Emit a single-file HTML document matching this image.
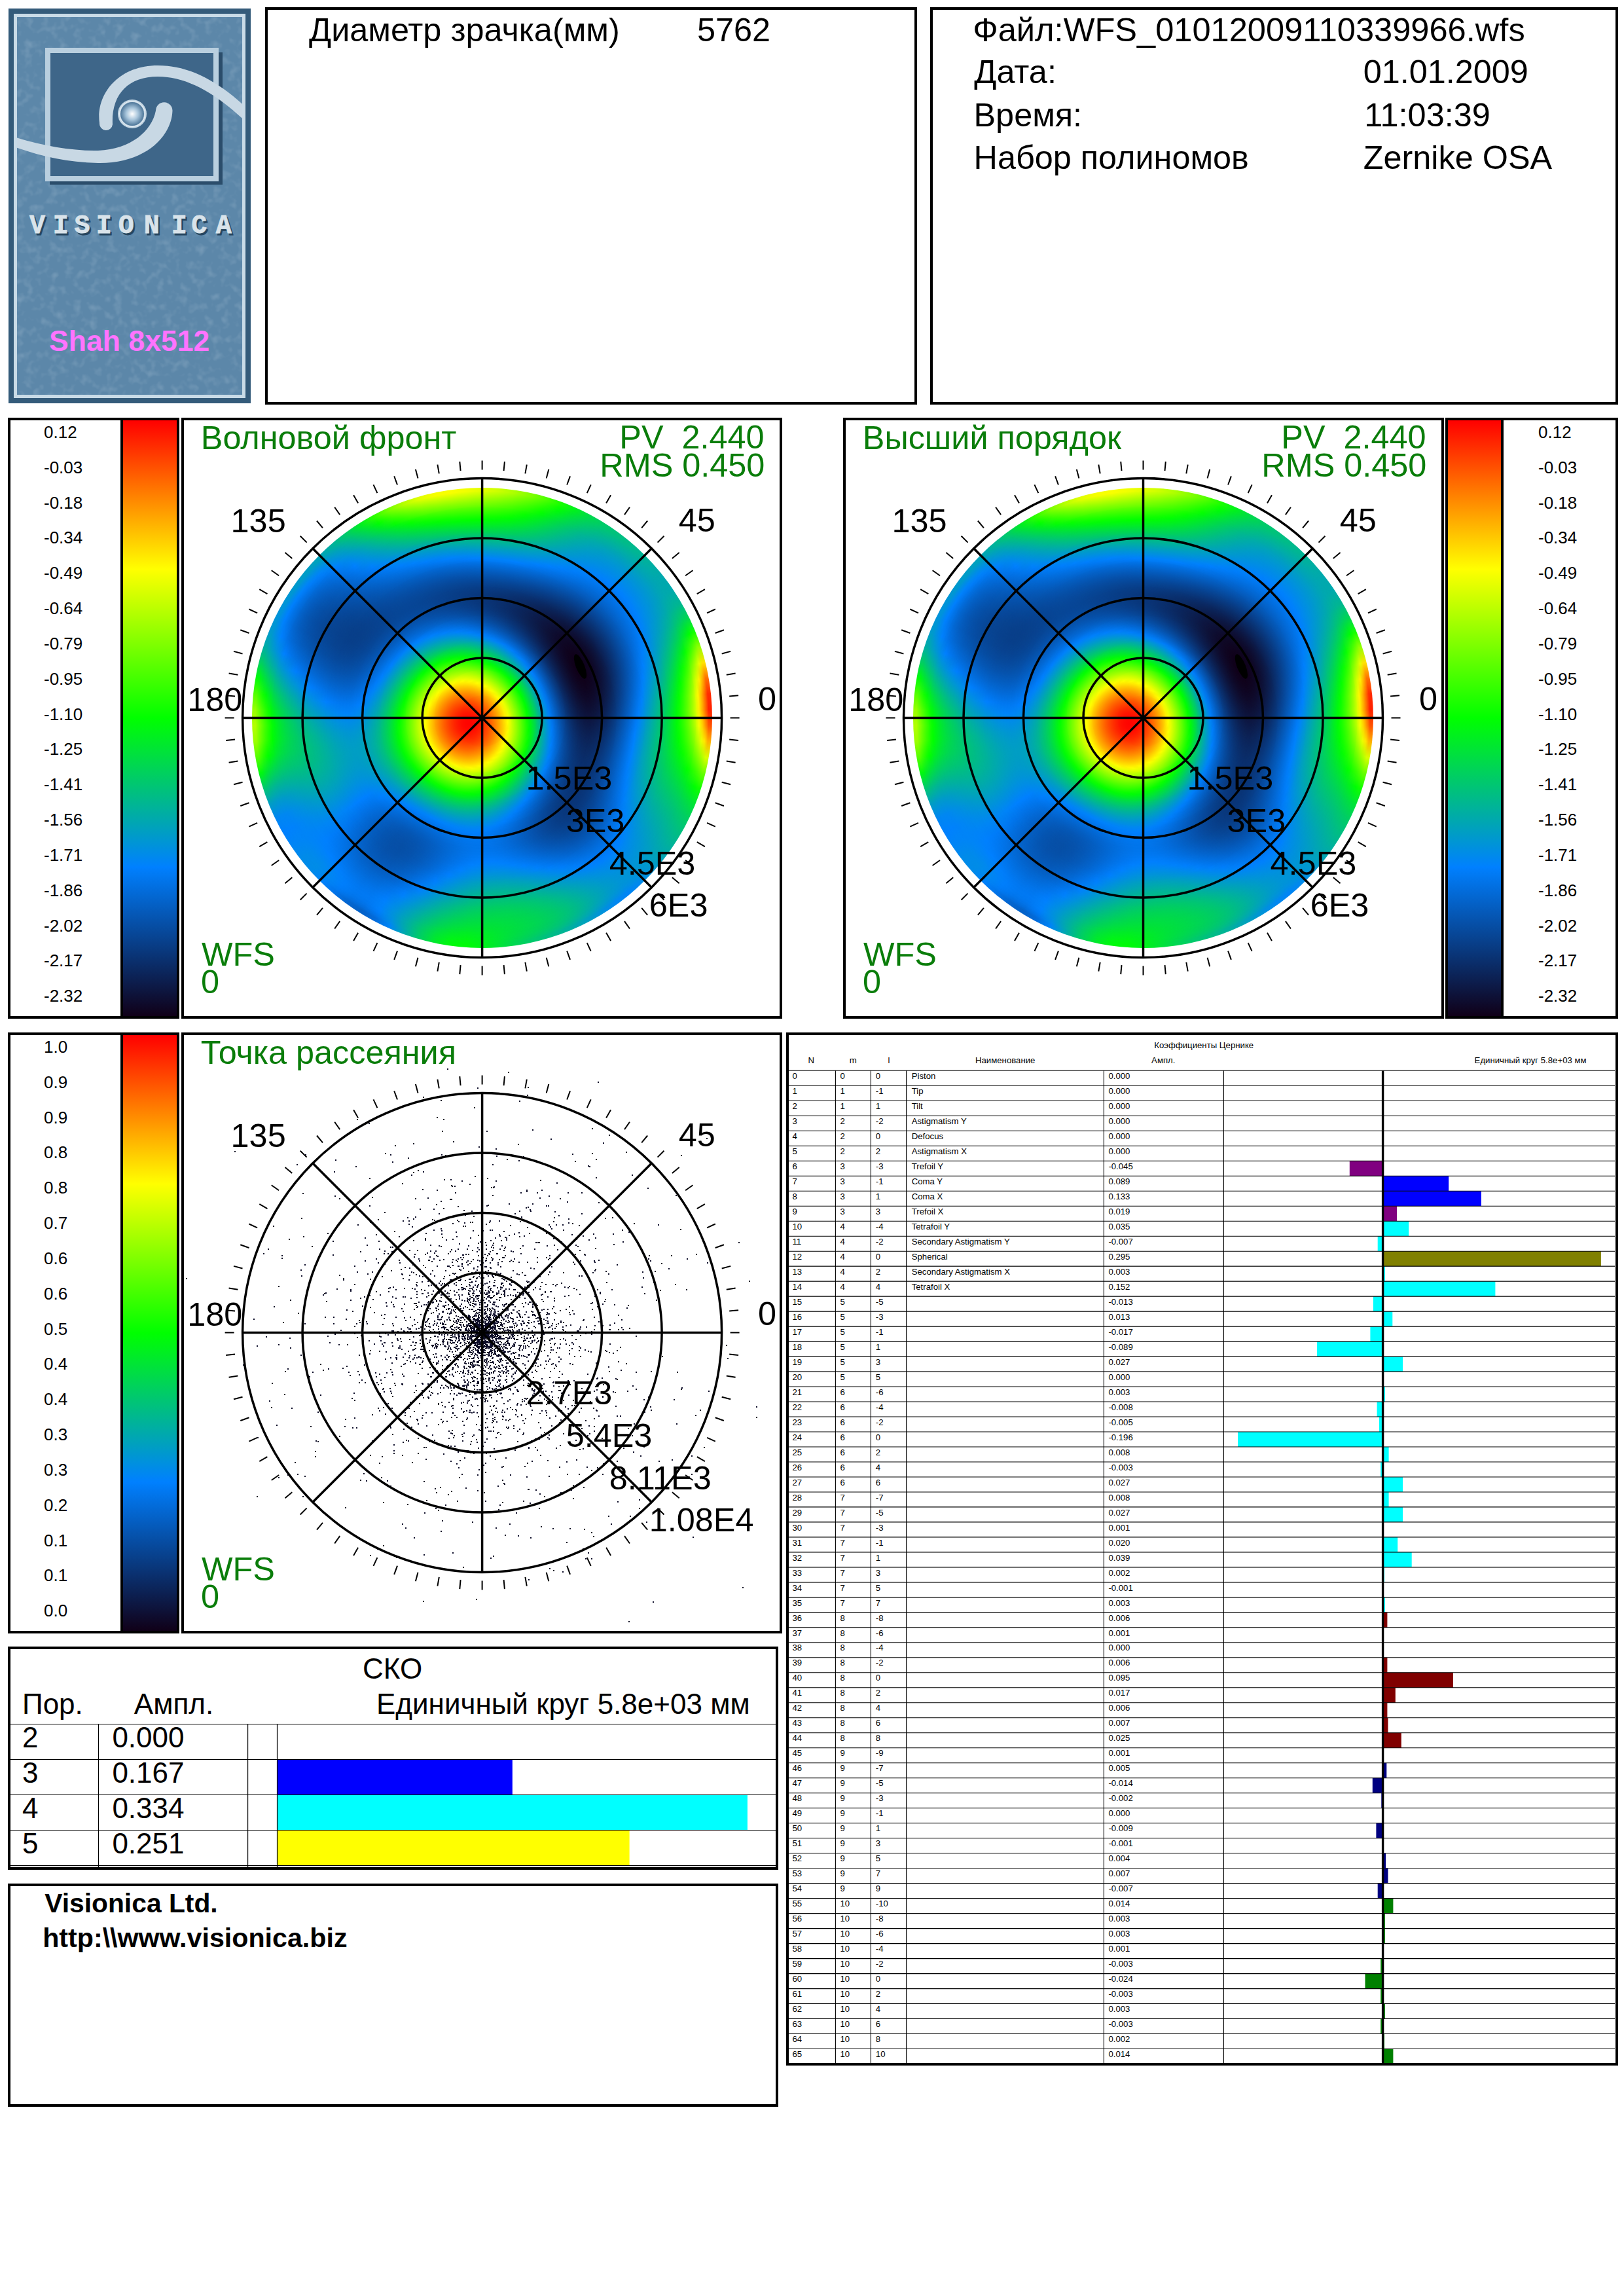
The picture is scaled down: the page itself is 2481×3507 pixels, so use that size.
<!DOCTYPE html>
<html><head><meta charset="utf-8"><style>
html,body{margin:0;padding:0;background:#fff}
body{width:2481px;height:3507px;position:relative;overflow:hidden;font-family:"Liberation Sans", sans-serif}
.d{position:absolute;border-radius:50%}
svg text{font-family:"Liberation Sans", sans-serif}
</style></head><body>
<svg width="2481" height="700" style="position:absolute;left:0;top:0">
<defs>
<radialGradient id="eyeg" cx="0.5" cy="0.5" r="0.5"><stop offset="0" stop-color="#ffffff"/><stop offset="0.5" stop-color="#a9c6dc"/><stop offset="1" stop-color="#4d7699"/></radialGradient>
<filter id="tex" x="0" y="0" width="1" height="1"><feTurbulence type="fractalNoise" baseFrequency="0.08" numOctaves="2" seed="3"/><feColorMatrix values="0 0 0 0 0.78  0 0 0 0 0.85  0 0 0 0 0.92  0 0 0 -2.2 1.15"/><feComposite in2="SourceGraphic" operator="in"/></filter>
<clipPath id="lclip"><rect x="26" y="26" width="344" height="577"/></clipPath>
</defs>
<rect x="13" y="13" width="370" height="603" fill="#345b7a"/>
<rect x="21" y="21" width="354" height="587" fill="#c9dbe7"/>
<rect x="26" y="26" width="344" height="577" fill="#5c87a9"/>
<rect x="26" y="26" width="344" height="577" fill="#fff" filter="url(#tex)" opacity="0.18"/>
<rect x="76" y="80" width="264" height="202" fill="#2b4d6b"/>
<rect x="69" y="73" width="265" height="204" fill="#b9cfdf"/>
<rect x="77" y="81" width="249" height="188" fill="#3e6689"/>
<g clip-path="url(#lclip)" fill="#c8d8e4">
<path d="M152 188 C146 145, 180 100, 241 100 C 290 100, 335 125, 380 168 L380 190 C 335 147, 290 117, 241 117 C 195 117, 170 145, 172 190 A10 10 0 0 1 152 188 Z"/>
<path d="M18 208 C 60 222, 110 231, 150 230 C 200 228, 232 200, 238 169 A 12.5 12.5 0 0 1 263.5 169 C 262 210, 220 250, 150 249 C 100 248, 60 238, 18 223 Z"/>
</g>
<circle cx="202" cy="174" r="22" fill="#c4d6e3"/>
<circle cx="202" cy="174" r="18" fill="url(#eyeg)"/>
<circle cx="202" cy="174" r="19.5" fill="none" stroke="#e8f0f6" stroke-width="1"/>
<text x="47.4 83.2 115.9 149.3 183.2 222.3 264.2 294.8 332.2" y="359" style="font-family:'Liberation Mono',monospace" font-size="40" font-weight="bold" fill="#27465f" stroke="#27465f" stroke-width="0.8">VISIONICA</text>
<text x="44.9 80.7 113.4 146.8 180.7 219.8 261.7 292.3 329.7" y="356" style="font-family:'Liberation Mono',monospace" font-size="40" font-weight="bold" fill="#d9e3ea" stroke="#d9e3ea" stroke-width="0.8">VISIONICA</text>
<text x="75" y="536" font-size="44.6" font-weight="bold" fill="#ff73ff">Shah 8x512</text>
</svg>
<div class="d" style="left:385.1px;top:745.1px;width:703.0px;height:703.0px;background:conic-gradient(#e2ff00,#ccff00,#adff00,#84ff00,#51ff00,#19ff00,#00f11d,#00da4a,#00cb69,#00c17d,#00bb8a,#00b595,#00aea3,#00a8ae,#00a9ad,#00b692,#00d653,#13ff00,#94ff00,#ffe200,#ff6f00,#ff2b00,#ff2100,#ff5300,#ffb100,#d9ff00,#69ff00,#0dff00,#00e535,#00cf61,#00bf80,#00b29b,#00a3b8,#0095d5,#008aeb,#0085f5,#0087f0,#0091dd,#009ec3,#00aba8,#00b790,#00c17c,#00cc67,#00d84f,#00e633,#00f318,#00fb07,#00f90c,#00e92d,#00cc67,#00a8af,#0085f6,#036bda,#0461c7,#0365cf,#0273e8,#0082fb,#008be9,#008be9,#0085f5,#0080fe,#0086f2,#009dc4,#00c574,#00f80f,#53ff00,#9aff00,#b2ff00,#97ff00,#52ff00,#00fb08,#00cf60,#00ada4,#009acc,#0093da,#0094d8,#0097d0,#009bc9,#009ec2,#00a6b3,#00b595,#00cd64,#00ef20,#2dff00,#78ff00,#b6ff00,#e0ff00,#f5ff00,#f9ff00,#f1ff00,#e2ff00)"></div><div class="d" style="left:390.0px;top:750.0px;width:693.2px;height:693.2px;background:conic-gradient(#c7ff00,#b3ff00,#95ff00,#6eff00,#3dff00,#08ff00,#00e92b,#00d456,#00c575,#00bc87,#00b693,#00b19c,#00aca7,#00a8af,#00a9ac,#00b693,#00d25b,#00fe02,#70ff00,#e6ff00,#ffb300,#ff7600,#ff6c00,#ff9600,#ffe700,#b4ff00,#51ff00,#00ff01,#00e13d,#00cc66,#00be83,#00b19d,#00a4b7,#0098cf,#008fe1,#008ce7,#0090de,#009aca,#00a8b0,#00b595,#00c07f,#00c96d,#00d15b,#00db48,#00e731,#00f11b,#00f80f,#00f515,#00e633,#00cc67,#00aca7,#008de6,#0176ed,#026cdb,#026fe0,#017af4,#0086f4,#008ce7,#008be9,#0085f5,#0081fd,#0087f2,#009bc8,#00bf80,#00ec25,#33ff00,#72ff00,#88ff00,#70ff00,#31ff00,#00ee22,#00c574,#00a5b5,#0091dd,#0089ed,#0088ee,#008be8,#008fe0,#0094d6,#009dc5,#00ada5,#00c574,#00e533,#15ff00,#5cff00,#96ff00,#beff00,#d3ff00,#d9ff00,#d4ff00,#c7ff00);-webkit-mask-image:radial-gradient(closest-side,#000 98.59%,transparent 100%)"></div><div class="d" style="left:394.9px;top:754.9px;width:683.5px;height:683.5px;background:conic-gradient(#acff00,#99ff00,#7eff00,#58ff00,#2aff00,#00fb09,#00e23a,#00ce63,#00bf80,#00b693,#00b19d,#00ada5,#00a9ad,#00a6b2,#00a8af,#00b398,#00cc66,#00f317,#4cff00,#b4ff00,#fff100,#ffba00,#ffb000,#ffd300,#e7ff00,#91ff00,#3bff00,#00f80e,#00dd44,#00ca6b,#00bb88,#00afa1,#00a3b8,#0099cd,#0092db,#0091dd,#0096d3,#00a1bd,#00aea3,#00bb89,#00c673,#00ce62,#00d653,#00de43,#00e731,#00ef20,#00f317,#00f01f,#00e23b,#00ca6a,#00ada4,#0091dc,#007df9,#0273e8,#0175eb,#007dfa,#0087f2,#008ce8,#008aea,#0085f5,#0082fc,#0087f1,#009acb,#00bb89,#00e338,#17ff00,#50ff00,#63ff00,#4cff00,#12ff00,#00e23a,#00bc87,#009dc6,#0089ed,#0080fe,#007efc,#0081fd,#0085f5,#008be9,#0095d5,#00a5b4,#00bd84,#00dc46,#00fe02,#40ff00,#76ff00,#9dff00,#b3ff00,#baff00,#b7ff00,#acff00);-webkit-mask-image:radial-gradient(closest-side,#000 98.57%,transparent 100%)"></div><div class="d" style="left:399.7px;top:759.7px;width:673.7px;height:673.7px;background:conic-gradient(#91ff00,#81ff00,#67ff00,#43ff00,#17ff00,#00f319,#00db48,#00c86f,#00b98c,#00b19e,#00aca8,#00a8ae,#00a5b4,#00a3b8,#00a6b3,#00b09e,#00c672,#00e92d,#2aff00,#86ff00,#d4ff00,#fff800,#ffed00,#f5ff00,#bbff00,#71ff00,#26ff00,#00f21a,#00d94c,#00c771,#00b98d,#00ada5,#00a2bb,#0099ce,#0093d8,#0093d8,#009acb,#00a5b5,#00b29a,#00bf81,#00c96c,#00d15b,#00d84e,#00df40,#00e632,#00ed25,#00ef20,#00ea29,#00dd45,#00c770,#00ada5,#0093d8,#0081fe,#0177ef,#0178f0,#007efc,#0086f3,#008aeb,#0089ed,#0085f6,#0082fa,#0088ef,#009acb,#00b790,#00dc47,#00ff00,#31ff00,#41ff00,#2bff00,#00fa0a,#00d652,#00b29a,#0095d5,#0081fd,#0177ef,#0175eb,#0177ef,#017cf8,#0083f9,#008ee3,#009fc2,#00b692,#00d358,#00f318,#25ff00,#58ff00,#7dff00,#93ff00,#9cff00,#9bff00,#91ff00);-webkit-mask-image:radial-gradient(closest-side,#000 98.55%,transparent 100%)"></div><div class="d" style="left:404.6px;top:764.6px;width:663.9px;height:663.9px;background:conic-gradient(#78ff00,#68ff00,#50ff00,#2fff00,#05ff00,#00eb29,#00d555,#00c27b,#00b497,#00aba8,#00a6b2,#00a3b8,#00a1bc,#00a0be,#00a3b9,#00ada6,#00c07e,#00de41,#0bff00,#5cff00,#a1ff00,#ceff00,#daff00,#c4ff00,#93ff00,#54ff00,#13ff00,#00ec26,#00d554,#00c476,#00b692,#00aba9,#00a0bf,#0098cf,#0093d8,#0095d6,#009bc8,#00a7b1,#00b496,#00c17d,#00cb68,#00d358,#00da4b,#00df40,#00e534,#00ea2b,#00ea29,#00e534,#00d84f,#00c378,#00aba9,#0094d7,#0082fb,#0179f3,#0179f2,#007efb,#0084f6,#0088ef,#0087f0,#0084f6,#0083f8,#008aec,#009aca,#00b594,#00d653,#00f514,#17ff00,#24ff00,#0eff00,#00ed25,#00cc67,#00aaab,#008de4,#017af4,#0270e2,#026ddd,#026fe0,#0174e9,#017cf7,#0087f0,#0098ce,#00afa0,#00cb69,#00e82d,#0cff00,#3cff00,#5fff00,#74ff00,#7eff00,#7fff00,#78ff00);-webkit-mask-image:radial-gradient(closest-side,#000 98.53%,transparent 100%)"></div><div class="d" style="left:409.5px;top:769.5px;width:654.2px;height:654.2px;background:conic-gradient(#5eff00,#51ff00,#3bff00,#1bff00,#00f90c,#00e337,#00ce62,#00bc86,#00afa1,#00a6b2,#00a1bc,#009fc1,#009dc5,#009dc6,#009fc0,#00a8ae,#00ba8b,#00d555,#00f612,#35ff00,#73ff00,#9cff00,#a8ff00,#98ff00,#6fff00,#3aff00,#02ff00,#00e731,#00d25b,#00c17c,#00b497,#00a8ae,#009ec3,#0096d2,#0093d9,#0094d6,#009cc7,#00a7b0,#00b595,#00c17c,#00cc67,#00d457,#00da4b,#00df40,#00e337,#00e631,#00e632,#00e03f,#00d259,#00bf80,#00a8ae,#0093da,#0082fb,#0179f3,#0178f1,#007cf8,#0082fb,#0085f4,#0086f4,#0084f7,#0085f6,#008ce8,#009bc8,#00b497,#00d15c,#00ed25,#00ff00,#09ff00,#00f90c,#00e13c,#00c27b,#00a2bc,#0086f2,#0273e8,#0369d5,#0366d0,#0368d3,#026ddd,#0175ec,#0082fc,#0093da,#00a9ae,#00c379,#00de42,#00f90d,#20ff00,#42ff00,#57ff00,#62ff00,#64ff00,#5eff00);-webkit-mask-image:radial-gradient(closest-side,#000 98.51%,transparent 100%)"></div><div class="d" style="left:414.4px;top:774.4px;width:644.4px;height:644.4px;background:conic-gradient(#46ff00,#3aff00,#26ff00,#08ff00,#00f11c,#00dc45,#00c86e,#00b791,#00aaab,#00a2bc,#009dc5,#009aca,#0099cd,#0099cd,#009cc7,#00a4b7,#00b497,#00cb68,#00e92c,#13ff00,#4aff00,#6fff00,#7dff00,#70ff00,#50ff00,#22ff00,#00f80e,#00e13b,#00ce62,#00bf81,#00b19c,#00a6b3,#009cc7,#0094d6,#0091dc,#0093d8,#009bc9,#00a6b2,#00b497,#00c17d,#00cb68,#00d358,#00d94c,#00de43,#00e13c,#00e338,#00e13c,#00da4a,#00cd64,#00ba8a,#00a5b5,#0090de,#0081fe,#0178f0,#0176ee,#017af4,#007ffd,#0083fa,#0084f7,#0084f7,#0086f3,#008ee3,#009dc5,#00b398,#00ce63,#00e633,#00f514,#00f80e,#00ed24,#00d652,#00b98d,#009aca,#0080ff,#026dde,#0463cb,#0460c5,#0462c8,#0367d2,#0270e2,#007cf9,#008de4,#00a2ba,#00bb89,#00d555,#00ed24,#06ff00,#26ff00,#3bff00,#46ff00,#4aff00,#46ff00);-webkit-mask-image:radial-gradient(closest-side,#000 98.48%,transparent 100%)"></div><div class="d" style="left:419.3px;top:779.3px;width:634.7px;height:634.7px;background:conic-gradient(#2eff00,#24ff00,#11ff00,#00fa0a,#00e92c,#00d653,#00c379,#00b29a,#00a6b3,#009dc4,#0099ce,#0096d3,#0095d5,#0095d4,#0098cf,#00a0bf,#00aea3,#00c379,#00dd45,#00f90d,#25ff00,#48ff00,#55ff00,#4dff00,#33ff00,#0dff00,#00f11d,#00dd45,#00cb68,#00bc86,#00afa1,#00a3b8,#0099cc,#0092da,#008fe0,#0092db,#0099cc,#00a5b5,#00b29b,#00bf81,#00c96b,#00d25b,#00d84f,#00dc46,#00df41,#00df40,#00dc45,#00d555,#00c770,#00b594,#00a1bd,#008de4,#007efc,#0176ed,#0274e9,#0177ee,#017cf7,#0080ff,#0082fa,#0084f7,#0088ef,#0090df,#009fc1,#00b497,#00cb69,#00e03f,#00ed25,#00ee22,#00e339,#00cd65,#00b09e,#0093d8,#017af5,#0368d4,#045ec1,#055abb,#045cbf,#0462c9,#036bd9,#0178f0,#0088ee,#009dc6,#00b497,#00cc67,#00e23a,#00f613,#0bff00,#20ff00,#2cff00,#30ff00,#2eff00);-webkit-mask-image:radial-gradient(closest-side,#000 98.46%,transparent 100%)"></div><div class="d" style="left:424.2px;top:784.2px;width:624.9px;height:624.9px;background:conic-gradient(#16ff00,#0eff00,#00fe03,#00f11c,#00e13c,#00cf60,#00be83,#00aea3,#00a2bc,#0099cc,#0095d6,#0092db,#0091dd,#0092dc,#0094d6,#009bc8,#00a8af,#00bb89,#00d25b,#00eb29,#04ff00,#24ff00,#33ff00,#2eff00,#19ff00,#00fc06,#00ea2a,#00d84e,#00c86e,#00ba8b,#00ada5,#00a1bd,#0097d1,#0090df,#008de5,#0090e0,#0097d1,#00a2bb,#00afa0,#00bc87,#00c771,#00cf60,#00d553,#00d94b,#00dc47,#00db47,#00d84f,#00cf60,#00c27b,#00b09e,#009cc6,#008aeb,#017bf7,#0273e8,#0271e4,#0274e8,#0178f1,#007dfa,#0081fd,#0084f6,#0089ec,#0093da,#00a1bd,#00b497,#00c96d,#00db49,#00e534,#00e534,#00d94c,#00c477,#00a9ad,#008de4,#0175ec,#0464cc,#0559ba,#0556b3,#0558b7,#045ec1,#0367d2,#0274e9,#0084f7,#0097d1,#00ada5,#00c379,#00d84f,#00ea2a,#00f80e,#06ff00,#12ff00,#18ff00,#16ff00);-webkit-mask-image:radial-gradient(closest-side,#000 98.44%,transparent 100%)"></div><div class="d" style="left:429.0px;top:789.0px;width:615.1px;height:615.1px;background:conic-gradient(#00ff01,#00fb08,#00f416,#00e92d,#00da4b,#00c96c,#00b88e,#00a9ac,#009ec3,#0096d3,#0091dd,#008ee2,#008de4,#008ee3,#0091de,#0097d1,#00a2ba,#00b399,#00c86f,#00de43,#00f21a,#04ff00,#13ff00,#12ff00,#02ff00,#00f318,#00e437,#00d456,#00c574,#00b790,#00aaaa,#009ec2,#0094d6,#008de4,#008bea,#008de5,#0094d7,#009fc1,#00aca7,#00b98e,#00c477,#00cc66,#00d359,#00d751,#00d84e,#00d750,#00d359,#00ca6b,#00bc86,#00aba9,#0098cf,#0086f3,#0178f1,#0270e2,#026ede,#0270e2,#0175eb,#017bf5,#0080fe,#0085f6,#008be9,#0095d5,#00a3b9,#00b595,#00c770,#00d751,#00df41,#00dd44,#00d15c,#00bc86,#00a2ba,#0088ef,#0271e3,#0460c5,#0556b3,#0652ac,#0554b0,#055abb,#0463cb,#0270e2,#0080fe,#0092db,#00a6b3,#00ba8a,#00ce63,#00de41,#00ec27,#00f513,#00fc07,#00ff01,#00ff01);-webkit-mask-image:radial-gradient(closest-side,#000 98.41%,transparent 100%)"></div><div class="d" style="left:433.9px;top:793.9px;width:605.4px;height:605.4px;background:conic-gradient(#00f417,#00f11d,#00ea2a,#00e03e,#00d359,#00c378,#00b398,#00a5b4,#009acb,#0092da,#008de4,#008be9,#008aeb,#008aea,#008de5,#0093d9,#009dc5,#00aca7,#00be82,#00d25a,#00e535,#00f318,#00fb09,#00fb08,#00f513,#00eb28,#00de42,#00d05f,#00c27b,#00b496,#00a8af,#009cc7,#0092db,#008bea,#0088f0,#008aeb,#0091de,#009bc8,#00a8af,#00b596,#00c07f,#00c96d,#00cf60,#00d358,#00d455,#00d358,#00ce63,#00c476,#00b791,#00a6b4,#0093d9,#0082fb,#0174ea,#026ddc,#036ad8,#026ddc,#0272e6,#0178f1,#007efc,#0085f5,#008de5,#0097d0,#00a5b4,#00b594,#00c673,#00d359,#00d94c,#00d652,#00c96b,#00b595,#009cc7,#0083f9,#026ddc,#045cbe,#0652ad,#064fa7,#0651aa,#0557b5,#0460c6,#026cdc,#017cf7,#008de5,#009fc0,#00b29a,#00c476,#00d457,#00e03e,#00e92b,#00f01f,#00f318,#00f417);-webkit-mask-image:radial-gradient(closest-side,#000 98.39%,transparent 100%)"></div><div class="d" style="left:438.8px;top:798.8px;width:595.6px;height:595.6px;background:conic-gradient(#00e92d,#00e631,#00e13d,#00d84f,#00cb68,#00bd84,#00aea2,#00a1bc,#0096d2,#008fe1,#008aeb,#0087f0,#0086f2,#0087f2,#0089ed,#008fe2,#0098cf,#00a5b5,#00b693,#00c86f,#00d94d,#00e632,#00ee23,#00f01f,#00ec27,#00e338,#00d84e,#00cc67,#00bf81,#00b29b,#00a5b5,#0099cd,#008fe1,#0088f0,#0085f6,#0086f2,#008de5,#0097d1,#00a3b8,#00b09f,#00bb88,#00c575,#00cb68,#00cf60,#00d05e,#00ce62,#00c96d,#00bf81,#00b19c,#00a0be,#008ee2,#007efb,#0271e4,#0369d6,#0367d2,#0369d6,#026fe0,#0176ed,#007dfa,#0085f4,#008ee2,#0099cc,#00a7b1,#00b692,#00c575,#00d05f,#00d457,#00d05f,#00c379,#00afa1,#0097d2,#007efc,#0369d6,#0559b9,#0650a8,#064ca2,#064ea5,#0554b0,#045dc0,#0369d6,#0178f0,#0088ef,#0099cc,#00abaa,#00bb89,#00c96c,#00d555,#00de43,#00e436,#00e82f,#00e92d);-webkit-mask-image:radial-gradient(closest-side,#000 98.36%,transparent 100%)"></div><div class="d" style="left:443.7px;top:803.7px;width:585.8px;height:585.8px;background:conic-gradient(#00de43,#00dc46,#00d750,#00cf60,#00c476,#00b791,#00a9ac,#009dc5,#0093d9,#008be8,#0086f2,#0084f7,#0083fa,#0083f9,#0085f4,#008aeb,#0093da,#009ec2,#00ada4,#00be83,#00cd64,#00da4a,#00e23a,#00e535,#00e239,#00dc47,#00d25a,#00c770,#00bb88,#00afa2,#00a2bb,#0096d3,#008ce7,#0085f6,#0081fc,#0083f9,#0089ed,#0093d9,#009fc1,#00aba8,#00b791,#00c07f,#00c771,#00cb69,#00cc67,#00ca6b,#00c477,#00b98c,#00aca7,#009bc9,#008aec,#017af3,#026ddd,#0366cf,#0464cc,#0366d0,#026cdb,#0274e9,#007cf9,#0086f4,#0090e0,#009bc8,#00a9ad,#00b791,#00c477,#00cc65,#00cf60,#00ca6b,#00bc86,#00a9ad,#0092dc,#017af5,#0366d0,#0557b4,#064da4,#074a9e,#074ca1,#0652ab,#055bbc,#0366d0,#0274e9,#0083f9,#0093d9,#00a3b9,#00b29b,#00bf81,#00ca6b,#00d25a,#00d84d,#00dc46,#00de43);-webkit-mask-image:radial-gradient(closest-side,#000 98.33%,transparent 100%)"></div><div class="d" style="left:448.6px;top:808.6px;width:576.1px;height:576.1px;background:conic-gradient(#00d358,#00d25a,#00ce62,#00c771,#00bd85,#00b19d,#00a4b6,#0099cd,#008fe1,#0088ef,#0083f9,#0080ff,#007ffd,#007ffd,#0081fd,#0086f4,#008de4,#0098cf,#00a6b4,#00b496,#00c379,#00cf61,#00d750,#00db49,#00da4b,#00d555,#00cd65,#00c379,#00b790,#00aba8,#009fc1,#0093d9,#0089ee,#0081fd,#007efb,#007ffd,#0085f6,#008ee3,#009acb,#00a6b3,#00b19c,#00bb89,#00c27b,#00c672,#00c771,#00c476,#00be82,#00b497,#00a6b2,#0096d3,#0085f5,#0176ec,#0369d6,#0462c9,#0460c6,#0463cb,#036ad6,#0272e6,#017bf7,#0086f4,#0091de,#009dc5,#00aaab,#00b791,#00c27a,#00ca6b,#00cb69,#00c476,#00b791,#00a3b8,#008de5,#0176ee,#0463ca,#0554b0,#074ba0,#07489a,#074a9d,#0650a8,#0558b7,#0463cb,#0270e2,#007efc,#008de5,#009cc8,#00a9ad,#00b594,#00bf80,#00c770,#00cd64,#00d15c,#00d358);-webkit-mask-image:radial-gradient(closest-side,#000 98.31%,transparent 100%)"></div><div class="d" style="left:453.4px;top:813.4px;width:566.3px;height:566.3px;background:conic-gradient(#00c86e,#00c86f,#00c575,#00be82,#00b594,#00aaaa,#009fc1,#0094d7,#008be9,#0084f7,#007ffe,#007cf8,#017bf6,#017bf6,#007df9,#0081fd,#0088ef,#0092dc,#009ec3,#00aca8,#00b98d,#00c476,#00cd65,#00d15d,#00d15d,#00cd64,#00c771,#00be83,#00b398,#00a7b0,#009bc8,#008fe0,#0085f5,#007efb,#017af4,#017bf6,#0080ff,#0089ed,#0094d6,#00a0be,#00aca7,#00b694,#00bd85,#00c17d,#00c27b,#00bf80,#00b98d,#00aea2,#00a1bd,#0091dd,#0081fe,#0272e5,#0366d0,#045fc4,#045dc1,#0460c6,#0367d2,#0270e2,#017bf5,#0086f4,#0091dc,#009ec3,#00aba9,#00b791,#00c17d,#00c771,#00c672,#00bf80,#00b19c,#009ec2,#0089ee,#0273e8,#0460c6,#0652ac,#074a9d,#074797,#07489a,#064ea4,#0556b3,#0460c6,#026cdc,#017af3,#0087f1,#0094d6,#00a1be,#00aba8,#00b595,#00bc86,#00c27a,#00c672,#00c86e);-webkit-mask-image:radial-gradient(closest-side,#000 98.28%,transparent 100%)"></div><div class="d" style="left:458.3px;top:818.3px;width:556.5px;height:556.5px;background:conic-gradient(#00be83,#00be83,#00bb88,#00b693,#00aea3,#00a4b7,#0099cc,#008fe0,#0087f2,#0080ff,#017bf6,#0178f1,#0177ee,#0177ee,#0178f1,#007cf8,#0082fa,#008be9,#0096d2,#00a3b9,#00afa0,#00ba8a,#00c379,#00c770,#00c86e,#00c673,#00c07e,#00b88e,#00aea2,#00a3b8,#0097d0,#008ce7,#0082fc,#017af4,#0176ed,#0177ee,#017bf7,#0084f7,#008fe1,#009bc9,#00a6b2,#00b09f,#00b790,#00bb88,#00bc86,#00ba8b,#00b398,#00a9ad,#009cc8,#008ce7,#007cf8,#026ede,#0463ca,#045cbe,#055bbc,#045ec2,#0365ce,#026fe0,#017af4,#0086f4,#0092db,#009fc1,#00aba8,#00b791,#00bf80,#00c477,#00c27a,#00ba8a,#00aca6,#009acc,#0085f6,#0270e2,#045ec1,#0650a9,#07489a,#074595,#074797,#074ca1,#0654af,#045ec1,#0369d5,#0175eb,#0081fd,#008de5,#0098ce,#00a2ba,#00aba9,#00b29b,#00b790,#00bc87,#00be83);-webkit-mask-image:radial-gradient(closest-side,#000 98.25%,transparent 100%)"></div><div class="d" style="left:463.2px;top:823.2px;width:546.8px;height:546.8px;background:conic-gradient(#00b398,#00b497,#00b29b,#00ada5,#00a6b3,#009dc5,#0093d8,#008aeb,#0082fb,#017cf7,#0177ef,#0274e9,#0272e6,#0272e6,#0274e8,#0177ee,#007df9,#0085f6,#008fe1,#009aca,#00a6b2,#00b19d,#00b98d,#00be82,#00c07f,#00be82,#00ba8b,#00b399,#00a9ac,#009fc2,#0093d9,#0088f0,#007efb,#0176ed,#0272e6,#0272e6,#0177ee,#007ffd,#0089ec,#0095d5,#00a0be,#00aaab,#00b19c,#00b693,#00b791,#00b496,#00aea3,#00a4b8,#0096d2,#0087f0,#0178f0,#036ad7,#045fc4,#0559b9,#0558b7,#055cbd,#0463cb,#026ddd,#0179f2,#0085f4,#0092da,#009fc1,#00aba8,#00b693,#00bd84,#00c17d,#00be82,#00b694,#00a7b0,#0095d5,#0081fd,#026ddd,#055cbe,#064fa6,#074798,#084492,#074595,#074a9e,#0651ab,#055bbc,#0365cf,#0270e3,#017bf7,#0086f3,#0090df,#0099cd,#00a1bd,#00a7b0,#00ada5,#00b19d,#00b398);-webkit-mask-image:radial-gradient(closest-side,#000 98.21%,transparent 100%)"></div><div class="d" style="left:468.1px;top:828.1px;width:537.0px;height:537.0px;background:conic-gradient(#00a9ad,#00aaab,#00a8af,#00a4b7,#009ec3,#0096d3,#008de4,#0085f6,#007dfa,#0177ee,#0272e6,#026fe1,#026dde,#026ddd,#026edf,#0271e4,#0176ee,#007efb,#0087f0,#0092db,#009dc5,#00a7b0,#00afa0,#00b595,#00b790,#00b791,#00b399,#00aca6,#00a4b7,#009acc,#008ee2,#0083f9,#0179f3,#0272e5,#026ede,#026ede,#0272e5,#017af3,#0084f8,#008fe1,#009acb,#00a4b7,#00aba8,#00b09f,#00b19d,#00aea2,#00a8af,#009ec3,#0091dc,#0083fa,#0274e9,#0367d1,#045dbf,#0557b5,#0556b3,#055aba,#0461c8,#036cda,#0178f0,#0085f5,#0092db,#009fc1,#00aba9,#00b595,#00bb88,#00bd84,#00ba8b,#00b19d,#00a3b9,#0091dd,#007dfa,#036ad8,#055aba,#064da4,#074696,#084390,#084493,#07489b,#064fa7,#0558b7,#0462c8,#036cda,#0176ec,#007ffe,#0088ef,#0090de,#0097d0,#009dc4,#00a2ba,#00a6b2,#00a9ad);-webkit-mask-image:radial-gradient(closest-side,#000 98.18%,transparent 100%)"></div><div class="d" style="left:473.0px;top:833.0px;width:527.2px;height:527.2px;background:conic-gradient(#009fc1,#00a0c0,#009ec2,#009bc9,#0096d4,#008fe2,#0087f1,#007ffd,#0178f0,#0272e5,#026ddd,#036ad7,#0368d4,#0368d3,#0369d5,#036bda,#0270e2,#0177ee,#0080fe,#008aec,#0094d7,#009ec4,#00a6b3,#00aca8,#00afa2,#00aea2,#00aba8,#00a6b3,#009ec3,#0094d7,#0089ec,#007efc,#0175eb,#026ddd,#0369d6,#0369d5,#026ddc,#0174ea,#007efb,#0089ed,#0094d7,#009ec4,#00a5b5,#00aaab,#00aba9,#00a8ae,#00a2ba,#0099cd,#008ce6,#007efc,#0270e2,#0463cb,#055aba,#0555b1,#0554b0,#0558b7,#0460c5,#036ad8,#0177ef,#0084f6,#0092db,#009fc2,#00aaab,#00b398,#00b98d,#00ba8b,#00b693,#00ada6,#009ec2,#008de5,#017af4,#0368d3,#0558b7,#064ca1,#074594,#08428f,#084390,#074798,#064da3,#0555b2,#045ec2,#0367d2,#0270e2,#0179f2,#0081fe,#0088f0,#008ee3,#0094d8,#0098ce,#009cc6,#009fc1);-webkit-mask-image:radial-gradient(closest-side,#000 98.15%,transparent 100%)"></div><div class="d" style="left:477.9px;top:837.9px;width:517.5px;height:517.5px;background:conic-gradient(#0095d6,#0096d3,#0095d5,#0092db,#008de4,#0087f1,#0080ff,#0179f2,#0272e6,#026cdb,#0368d3,#0365ce,#0463ca,#0462c9,#0463ca,#0365cf,#0369d6,#0270e1,#0178f0,#0081fd,#008be9,#0094d7,#009cc6,#00a2ba,#00a6b4,#00a6b3,#00a4b7,#009fc1,#0097d0,#008ee3,#0084f7,#0179f3,#0270e2,#0369d5,#0365cd,#0364cd,#0368d3,#026fe0,#0178f1,#0083f9,#008ee3,#0097d0,#009fc1,#00a4b8,#00a5b5,#00a3b9,#009dc5,#0093d8,#0088f0,#017af4,#026ddc,#0461c6,#0558b6,#0653ad,#0652ad,#0557b4,#045fc3,#0369d6,#0176ed,#0084f8,#0091dd,#009ec3,#00a9ad,#00b19c,#00b692,#00b791,#00b29b,#00a8ae,#009aca,#0089ec,#0177ef,#0365cf,#0556b4,#074b9f,#084492,#08418d,#08428e,#074595,#074ba0,#0652ad,#055abb,#0463ca,#036bd8,#0272e6,#0179f2,#007ffe,#0085f5,#008aeb,#008ee2,#0092db,#0095d6);-webkit-mask-image:radial-gradient(closest-side,#000 98.11%,transparent 100%)"></div><div class="d" style="left:482.7px;top:842.7px;width:507.7px;height:507.7px;background:conic-gradient(#008bea,#008ce7,#008be8,#0089ed,#0085f5,#007ffe,#0179f2,#0272e6,#036cdb,#0366d1,#0462c9,#045fc3,#045dc0,#055cbe,#045cbf,#045fc3,#0462ca,#0368d4,#0270e1,#0178f1,#0082fc,#008bea,#0093da,#0099ce,#009cc6,#009dc4,#009cc7,#0097d0,#0090de,#0088ef,#007efb,#0274e9,#036bd9,#0464cc,#0460c5,#045fc4,#0463ca,#0369d6,#0273e7,#007dfa,#0088f0,#0091dd,#0099ce,#009dc4,#009fc1,#009dc5,#0097d0,#008ee2,#0083f9,#0176ed,#0369d6,#045ec2,#0556b2,#0651aa,#0651aa,#0555b2,#045ec1,#0368d5,#0175ec,#0083f9,#0090de,#009dc5,#00a7b0,#00afa0,#00b398,#00b399,#00aea3,#00a4b6,#0096d2,#0086f3,#0174ea,#0463cb,#0555b1,#074a9e,#084391,#08408c,#08418d,#074493,#07499c,#0650a8,#0557b5,#045ec2,#0365cf,#036cda,#0272e5,#0177ef,#007cf8,#0081fe,#0085f5,#0088ef,#008bea);-webkit-mask-image:radial-gradient(closest-side,#000 98.08%,transparent 100%)"></div><div class="d" style="left:487.6px;top:847.6px;width:498.0px;height:498.0px;background:conic-gradient(#0081fd,#0082fb,#0082fb,#0080ff,#007cf8,#0177ef,#0271e5,#036bda,#0365cf,#0460c6,#055cbe,#0559b8,#0557b4,#0556b2,#0556b3,#0558b6,#055bbc,#0460c6,#0367d2,#026fe1,#0178f1,#0081fd,#0089ed,#008fe1,#0093d9,#0094d6,#0093d8,#008fe0,#0089ec,#0081fd,#0178f0,#026edf,#0366cf,#045fc3,#055bbc,#055bbc,#045ec1,#0364cd,#026ddd,#0177ef,#0082fc,#008be9,#0092da,#0097d0,#0099cd,#0097d1,#0092db,#0089ec,#007ffd,#0273e7,#0366d1,#055cbe,#0654b0,#0650a8,#0650a9,#0555b1,#045dbf,#0368d3,#0175ea,#0082fb,#008fe0,#009bc8,#00a6b3,#00ada5,#00b09e,#00b0a0,#00aaab,#00a0be,#0093da,#0083fa,#0272e5,#0462c8,#0654af,#07499c,#084390,#08408b,#08408b,#084391,#074899,#064da4,#0654af,#055aba,#0460c5,#0366cf,#036bd9,#026fe1,#0274e9,#0178f0,#017bf7,#007ffd,#0081fd);-webkit-mask-image:radial-gradient(closest-side,#000 98.04%,transparent 100%)"></div><div class="d" style="left:492.5px;top:852.5px;width:488.2px;height:488.2px;background:conic-gradient(#0178f0,#0179f2,#0179f2,#0177ef,#0274e9,#026fe1,#036ad7,#0364cd,#045fc3,#055aba,#0555b2,#0652ac,#0650a8,#064fa6,#064fa7,#0651a9,#0654af,#0558b8,#045fc3,#0367d1,#026fe0,#0177ef,#007ffd,#0085f5,#0089ec,#008be8,#008bea,#0087f0,#0082fc,#017af4,#0271e5,#0368d5,#0460c6,#055aba,#0556b4,#0556b3,#0559b9,#045fc4,#0368d3,#0272e5,#017cf7,#0085f5,#008ce6,#0091dc,#0093d9,#0092dc,#008de5,#0085f5,#017bf5,#026fe1,#0464cc,#055aba,#0653ad,#064fa7,#0650a8,#0554b0,#045cbf,#0367d2,#0274e9,#0081fc,#008ee2,#009acb,#00a4b7,#00aaaa,#00ada4,#00aca7,#00a6b2,#009cc6,#008fe1,#0080fe,#026fe1,#0460c5,#0653ae,#07499b,#084290,#083f8a,#083f8a,#08428f,#074696,#074b9f,#0651a9,#0556b3,#055bbd,#0460c5,#0364cd,#0368d4,#036cdb,#026fe1,#0272e7,#0175ec,#0178f0);-webkit-mask-image:radial-gradient(closest-side,#000 98.00%,transparent 100%)"></div><div class="d" style="left:497.4px;top:857.4px;width:478.4px;height:478.4px;background:conic-gradient(#026edf,#026fe1,#026fe1,#026edf,#036bd9,#0367d2,#0462c9,#045dc0,#0558b6,#0653ae,#064fa6,#074ca0,#07499c,#07489a,#07489a,#07499c,#074ca1,#0650a9,#0556b4,#045ec1,#0365cf,#026ede,#0175eb,#017bf6,#0080fe,#0082fb,#0082fc,#007ffd,#017af4,#0273e7,#036bd9,#0463ca,#055bbc,#0555b1,#0652ab,#0651ab,#0554b0,#055abb,#0463ca,#026cdb,#0176ed,#007ffe,#0087f2,#008ce8,#008ee4,#008ce6,#0088ef,#0081fe,#0177ef,#026cdc,#0462c9,#0559b8,#0652ac,#064fa6,#0650a8,#0554b0,#045cbf,#0367d2,#0273e8,#0081fe,#008de4,#0099ce,#00a2bb,#00a8af,#00aaaa,#00a9ad,#00a3b9,#0099cd,#008ce7,#007dfa,#026ede,#045fc3,#0652ac,#07499b,#084290,#083f8a,#083f8a,#08418d,#074594,#07499c,#064ea4,#0652ad,#0557b4,#055bbb,#045ec2,#0461c7,#0364cd,#0367d2,#036ad7,#026cdc,#026edf);-webkit-mask-image:radial-gradient(closest-side,#000 97.96%,transparent 100%)"></div><div class="d" style="left:502.3px;top:862.3px;width:468.7px;height:468.7px;background:conic-gradient(#0366cf,#0367d1,#0367d1,#0365cf,#0463ca,#045fc4,#055bbb,#0556b3,#0651aa,#064ca1,#07489a,#074594,#084290,#08418d,#08418d,#08428e,#074493,#07489a,#064ea4,#0554b0,#045cbe,#0464cc,#036bd9,#0271e4,#0176ed,#0178f1,#0179f1,#0176ed,#0272e5,#036cda,#0364cd,#045dbf,#0556b2,#0650a9,#064da3,#064da3,#0650a8,#0556b3,#045ec1,#0367d2,#0271e3,#017af4,#0081fd,#0086f3,#0088ee,#0088f0,#0084f8,#007df9,#0274e9,#036ad7,#0460c6,#0558b6,#0652ab,#064fa6,#0650a8,#0555b1,#045dbf,#0367d2,#0273e8,#0080ff,#008ce6,#0097d0,#00a0bf,#00a5b4,#00a7b0,#00a5b4,#009fc0,#0096d3,#0089ed,#017bf6,#026cdb,#045ec2,#0652ac,#07499b,#084390,#083f8a,#083f89,#08408c,#084392,#074798,#074ba0,#064fa7,#0653ad,#0556b3,#0558b7,#055bbc,#045dc0,#0460c4,#0462c9,#0464cc,#0366cf);-webkit-mask-image:radial-gradient(closest-side,#000 97.92%,transparent 100%)"></div><div class="d" style="left:507.1px;top:867.1px;width:458.9px;height:458.9px;background:conic-gradient(#045dc1,#045ec2,#045ec2,#045dc0,#055bbb,#0557b5,#0653ae,#064ea5,#074a9d,#074595,#08418e,#083e88,#093b83,#093a80,#09397f,#093a81,#083c85,#08408c,#074595,#074ca0,#0653ad,#055abb,#0461c7,#0367d3,#026cdb,#026fe0,#026fe1,#026ede,#036ad7,#0364cd,#045ec1,#0557b4,#0650a9,#074ba0,#07499b,#07499c,#074ca1,#0652ab,#0559b9,#0462ca,#036cdb,#0175eb,#007cf8,#0081fd,#0084f8,#0083f9,#0080fe,#0179f3,#0271e4,#0368d4,#045fc4,#0557b6,#0652ac,#0650a8,#0651aa,#0555b2,#045dc0,#0368d3,#0273e8,#0080ff,#008ce8,#0096d3,#009ec3,#00a3b8,#00a5b5,#00a2ba,#009cc6,#0093d9,#0087f1,#0179f3,#036bd9,#045ec1,#0652ac,#07499c,#084391,#08408b,#083f8a,#08408c,#084390,#074696,#07499c,#064ca1,#064fa6,#0651ab,#0653ae,#0555b1,#0557b5,#0559b8,#055abb,#045cbe,#045dc1);-webkit-mask-image:radial-gradient(closest-side,#000 97.87%,transparent 100%)"></div><div class="d" style="left:512.0px;top:872.0px;width:449.1px;height:449.1px;background:conic-gradient(#0556b3,#0556b4,#0556b3,#0555b1,#0653ad,#064fa7,#074ca0,#074798,#084390,#083e88,#093a81,#09377b,#093476,#0a3373,#0a3272,#0a3373,#093477,#09387d,#083d86,#084390,#07499d,#0651a9,#0558b6,#045ec1,#0462c9,#0365cf,#0366d0,#0365ce,#0462c9,#045dc0,#0557b5,#0651aa,#074ba0,#074798,#074594,#074595,#07489a,#064ea4,#0555b2,#045ec2,#0367d3,#0270e2,#0177f0,#007df9,#007ffe,#007ffd,#007cf8,#0176ee,#026fe1,#0367d2,#045fc3,#0558b6,#0653ad,#0651aa,#0652ac,#0557b5,#045fc3,#0368d5,#0274e9,#0080ff,#008be9,#0095d5,#009cc6,#00a1bc,#00a2ba,#00a0bf,#009acb,#0091de,#0085f5,#0178f0,#036ad8,#045ec1,#0653ad,#074a9e,#074493,#08418d,#08408b,#08418c,#084290,#074594,#074799,#074a9d,#074ca1,#064da4,#064fa6,#0650a8,#0651aa,#0652ac,#0653af,#0555b1,#0556b3);-webkit-mask-image:radial-gradient(closest-side,#000 97.83%,transparent 100%)"></div><div class="d" style="left:516.9px;top:876.9px;width:439.4px;height:439.4px;background:conic-gradient(#064fa6,#064fa7,#064fa6,#064da4,#074ba0,#07489a,#074493,#08408c,#093c84,#09377c,#0a3475,#0a306f,#0a2d6a,#0b2c67,#0b2b65,#0b2b66,#0a2d69,#0a306f,#093477,#093a81,#08408c,#074799,#064ea5,#0554b0,#0559b8,#045cbe,#045dc0,#045dbf,#055aba,#0556b3,#0651aa,#074ba0,#074697,#084390,#08418d,#08428e,#074594,#074a9e,#0652ac,#055abb,#0464cc,#026cdb,#0273e8,#0179f2,#017cf7,#017cf7,#0179f3,#0174ea,#026ede,#0366d0,#045fc3,#0558b8,#0554b0,#0653ad,#0554b0,#0559b8,#0460c6,#036ad7,#0175eb,#0080ff,#008be9,#0094d7,#009bc8,#009fc0,#00a0be,#009ec3,#0098cf,#008fe1,#0084f8,#0177ef,#036ad8,#045ec2,#0654af,#074ca0,#074696,#084290,#08418d,#08418e,#084390,#074493,#074697,#07489a,#07499c,#074a9e,#074b9f,#074ba0,#074ca1,#064ca2,#064da3,#064ea5,#064fa6);-webkit-mask-image:radial-gradient(closest-side,#000 97.78%,transparent 100%)"></div><div class="d" style="left:521.8px;top:881.8px;width:429.6px;height:429.6px;background:conic-gradient(#07489b,#07489b,#074899,#074697,#074493,#08418e,#083e87,#093980,#093578,#0a3170,#0a2d69,#0b2a63,#0b275e,#0b255a,#0c2459,#0c2459,#0b255c,#0b2861,#0a2c68,#0a3272,#09387d,#083e89,#074594,#074b9f,#0650a8,#0653ae,#0555b1,#0554b0,#0652ad,#064fa7,#074b9f,#074696,#08428f,#083f89,#083e87,#083f89,#08428f,#074899,#064fa6,#0557b6,#0460c6,#0369d5,#0270e2,#0175ec,#0178f1,#0179f2,#0177ef,#0273e7,#026ddc,#0366d0,#045fc4,#055aba,#0556b4,#0555b1,#0557b5,#055bbd,#0463ca,#036cda,#0176ed,#0081fd,#008be9,#0094d7,#009aca,#009ec2,#009fc1,#009cc7,#0096d2,#008ee4,#0083f9,#0177ef,#036bd9,#045fc4,#0556b2,#064ea4,#07489a,#074493,#084390,#084290,#084391,#074493,#074696,#074797,#074799,#074899,#074899,#074899,#074899,#074899,#07489a,#07489a,#07489b);-webkit-mask-image:radial-gradient(closest-side,#000 97.73%,transparent 100%)"></div><div class="d" style="left:526.7px;top:886.7px;width:419.8px;height:419.8px;background:conic-gradient(#084391,#084390,#08428e,#08408c,#083e88,#093b82,#09377c,#0a3374,#0a2f6d,#0b2b65,#0b275e,#0c2358,#0c2052,#0c1e4f,#0c1d4d,#0c1d4d,#0c1e4f,#0c2153,#0b255a,#0b2a63,#0a306e,#093679,#083c85,#08428f,#074798,#074a9e,#064ca2,#064da2,#074ba0,#07499b,#074595,#08418e,#083e87,#093b83,#093b82,#083c85,#08408b,#074595,#064da2,#0555b1,#045ec1,#0366d0,#026ddd,#0273e7,#0176ed,#0177ee,#0175ec,#0272e5,#026ddc,#0367d2,#0461c7,#045cbe,#0559b9,#0558b7,#055aba,#045fc3,#0365cf,#026edf,#0178f1,#0082fa,#008ce7,#0094d7,#009acb,#009dc4,#009ec3,#009bc9,#0095d4,#008de5,#0083f9,#0178f0,#026cdb,#0461c8,#0558b6,#0650a9,#074b9f,#074798,#074595,#074493,#074594,#074595,#074696,#074697,#074697,#074696,#074595,#074594,#074493,#084492,#084391,#084391,#084391);-webkit-mask-image:radial-gradient(closest-side,#000 97.67%,transparent 100%)"></div><div class="d" style="left:531.6px;top:891.6px;width:410.1px;height:410.1px;background:conic-gradient(#083e88,#083d87,#083c85,#093b82,#09387d,#093578,#0a3171,#0a2d6a,#0b2962,#0b255b,#0c2154,#0c1d4d,#0d1a48,#0d1844,#0d1741,#0d1741,#0d1843,#0d1a47,#0c1e4e,#0c2256,#0b2860,#0a2e6b,#093476,#093a80,#083f89,#084290,#074594,#074595,#074594,#084390,#08408b,#083d86,#093a81,#09397e,#09397e,#093a81,#083e88,#084492,#074ba0,#0653ae,#055cbe,#0364cd,#036bda,#0271e4,#0174ea,#0176ec,#0175eb,#0272e5,#026ddd,#0368d4,#0463cb,#045fc4,#045cbf,#055cbe,#045ec2,#0462ca,#0369d6,#0271e5,#017bf6,#0084f6,#008de4,#0095d5,#009aca,#009dc4,#009ec4,#009bc9,#0095d4,#008de4,#0084f8,#0179f2,#026edf,#0464cc,#055bbc,#0653af,#064ea5,#074a9e,#07489a,#074798,#074797,#074797,#074797,#074697,#074696,#074594,#084492,#084390,#08418e,#08408c,#08408b,#083f8a,#083e88);-webkit-mask-image:radial-gradient(closest-side,#000 97.62%,transparent 100%)"></div><div class="d" style="left:536.4px;top:896.4px;width:400.3px;height:400.3px;background:conic-gradient(#093b82,#093980,#09387d,#093679,#0a3374,#0a306f,#0a2c68,#0b2861,#0b2459,#0c2052,#0d1c4a,#0d1844,#0d153e,#0e133a,#0e1137,#0e1137,#0e1238,#0e143c,#0d1742,#0d1c4a,#0c2153,#0b275e,#0a2d68,#0a3273,#09377b,#093b82,#083e87,#083f89,#083f89,#083d87,#093b83,#09397f,#09377c,#09367a,#09377b,#09397f,#083d87,#084391,#074a9e,#0652ad,#055bbc,#0463cb,#036ad8,#0270e2,#0274e9,#0175ec,#0175eb,#0273e7,#026fe0,#036bd8,#0366d1,#0463ca,#0461c6,#0461c6,#0463ca,#0367d2,#026ddd,#0175ec,#007efc,#0087f1,#008fe0,#0096d2,#009bc8,#009ec3,#009ec3,#009bc8,#0096d3,#008ee2,#0085f4,#017bf6,#0271e4,#0367d2,#045ec3,#0557b6,#0652ac,#064ea5,#074ca0,#074a9e,#07499c,#07499b,#07489a,#074799,#074697,#074594,#084391,#08418e,#08408b,#083e88,#083d86,#093c84,#093b82);-webkit-mask-image:radial-gradient(closest-side,#000 97.56%,transparent 100%)"></div><div class="d" style="left:541.3px;top:901.3px;width:390.6px;height:390.6px;background:conic-gradient(#09387d,#09367a,#093476,#0a3272,#0a2f6d,#0b2c67,#0b2860,#0b2459,#0c2051,#0d1b4a,#0d1742,#0e143b,#0e1036,#0e0e31,#0e0c2e,#0f0c2d,#0e0d2f,#0e0e32,#0e1137,#0d163f,#0d1b48,#0c2052,#0b265c,#0b2b66,#0a306f,#093476,#09377c,#09397f,#09397f,#09397f,#09387c,#09367a,#093578,#093578,#09367a,#09397e,#083d86,#084391,#074a9e,#0652ad,#055bbc,#0463cb,#036ad7,#0270e2,#0274e9,#0176ed,#0176ed,#0174ea,#0271e5,#026ede,#036ad8,#0367d2,#0366d0,#0366d0,#0368d4,#026cdc,#0272e6,#017af4,#0082fb,#008aea,#0092db,#0099ce,#009dc4,#00a0c0,#009fc0,#009dc6,#0097d0,#0090de,#0088f0,#007efc,#0174ea,#036bd9,#0463cb,#045cbe,#0557b4,#0653ad,#0650a8,#064ea5,#064da3,#074ca1,#074b9f,#07499c,#074899,#074696,#084492,#08418e,#083f8a,#083d86,#093b83,#093a80,#09387d);-webkit-mask-image:radial-gradient(closest-side,#000 97.50%,transparent 100%)"></div><div class="d" style="left:546.2px;top:906.2px;width:380.8px;height:380.8px;background:conic-gradient(#09367a,#093476,#0a3272,#0a2f6d,#0a2c68,#0b2961,#0b255a,#0c2153,#0c1c4b,#0d1843,#0e143b,#0e1035,#0e0d2f,#0f0a2a,#0f0827,#0f0826,#0f0826,#0f0a29,#0e0c2f,#0e1035,#0d153e,#0d1a48,#0c2052,#0b255b,#0b2a64,#0a2f6c,#0a3272,#0a3476,#093577,#093578,#093577,#093476,#0a3475,#093476,#09367a,#09397f,#083e88,#084493,#074ba0,#0653ae,#055cbd,#0464cc,#036bd9,#0271e3,#0175eb,#0177ef,#0178f0,#0177ee,#0175ea,#0272e5,#026fe0,#026ddc,#036cda,#026cdb,#026edf,#0272e7,#0178f1,#007ffe,#0087f1,#008fe2,#0096d3,#009cc8,#00a0bf,#00a2bb,#00a2bc,#009fc1,#009acb,#0093d9,#008be9,#0082fb,#0179f2,#0270e2,#0368d4,#0462c8,#045cbf,#0558b7,#0555b2,#0653ae,#0651ab,#0650a8,#064ea5,#064ca2,#074a9e,#074899,#074594,#08428f,#083f8a,#083d86,#093b82,#09387e,#09367a);-webkit-mask-image:radial-gradient(closest-side,#000 97.44%,transparent 100%)"></div><div class="d" style="left:551.1px;top:911.1px;width:371.0px;height:371.0px;background:conic-gradient(#093679,#0a3374,#0a306f,#0a2d6a,#0b2a64,#0b265d,#0c2256,#0c1e4e,#0d1a46,#0d153e,#0e1136,#0e0d2f,#0f0a29,#0f0724,#0f0521,#0f0420,#0f0420,#0f0623,#0f0827,#0e0c2e,#0e1136,#0d163f,#0d1b49,#0c2053,#0b255c,#0b2a63,#0a2d6a,#0a306e,#0a3171,#0a3273,#0a3373,#0a3374,#0a3375,#093577,#09377b,#093a81,#083f8a,#074696,#064da3,#0555b2,#045dc1,#0365cf,#026ddc,#0273e7,#0177ef,#017af4,#017bf6,#017af5,#0179f2,#0177ee,#0175ea,#0273e7,#0272e6,#0273e8,#0175ec,#0179f3,#007ffd,#0085f4,#008de6,#0094d8,#009aca,#00a0c0,#00a3b8,#00a5b5,#00a5b5,#00a2bb,#009dc4,#0097d1,#008fe1,#0087f1,#007efc,#0176ed,#026edf,#0368d4,#0463ca,#045fc3,#055bbd,#0559b8,#0557b4,#0555b1,#0652ad,#0650a8,#064da4,#074a9e,#074799,#074493,#08418d,#083e88,#093b82,#09387e,#093679);-webkit-mask-image:radial-gradient(closest-side,#000 97.37%,transparent 100%)"></div><div class="d" style="left:556.0px;top:916.0px;width:361.3px;height:361.3px;background:conic-gradient(#09367a,#0a3375,#0a306f,#0a2d69,#0b2962,#0b255b,#0c2153,#0c1c4b,#0d1843,#0e133b,#0e0f33,#0f0b2c,#0f0725,#0f0520,#10031d,#10021b,#10021b,#10031e,#0f0522,#0f0928,#0e0d30,#0e1239,#0d1742,#0c1d4c,#0c2255,#0b265d,#0b2a64,#0a2d69,#0a2f6d,#0a306f,#0a3171,#0a3273,#0a3475,#093679,#09397e,#083d85,#08428f,#07489b,#0650a8,#0558b7,#0460c6,#0368d4,#026fe1,#0175ec,#017af4,#007dfa,#007ffd,#007ffd,#007efc,#007df9,#017bf6,#017af4,#017af4,#017bf6,#007dfa,#0081fd,#0086f2,#008ce6,#0093d9,#009acc,#00a0c0,#00a4b6,#00a8af,#00a9ac,#00a9ad,#00a6b2,#00a2bb,#009cc8,#0094d6,#008ce6,#0084f6,#007df9,#0175ec,#026fe1,#036ad7,#0366d0,#0462c9,#045fc4,#045dbf,#055abb,#0558b6,#0555b1,#0652ac,#064ea5,#074b9f,#074798,#084392,#08408b,#083d85,#093980,#09367a);-webkit-mask-image:radial-gradient(closest-side,#000 97.30%,transparent 100%)"></div><div class="d" style="left:560.9px;top:920.8px;width:351.5px;height:351.5px;background:conic-gradient(#09387d,#093577,#0a3170,#0a2d6a,#0b2963,#0b255b,#0c2153,#0d1c4b,#0d1742,#0e133a,#0e0e32,#0f0a2a,#0f0724,#10041f,#10021b,#100019,#100019,#10011b,#10041f,#0f0724,#0f0b2c,#0e1034,#0d153d,#0d1a47,#0c1f50,#0c2458,#0b285f,#0b2b65,#0a2e6a,#0a306e,#0a3171,#0a3374,#093578,#09387d,#093b83,#08408b,#074595,#064ca1,#0654af,#055cbe,#0364cd,#036cdb,#0273e8,#0179f3,#007efc,#0082fc,#0084f7,#0084f6,#0084f6,#0083f8,#0083fa,#0082fb,#0082fb,#0083f8,#0086f3,#008aeb,#008fe2,#0094d6,#009aca,#00a0be,#00a6b3,#00aaaa,#00ada4,#00aea2,#00aea3,#00aba8,#00a7b1,#00a1bc,#009bca,#0093d9,#008ce8,#0084f7,#007dfa,#0177ef,#0272e6,#026ede,#036ad7,#0367d2,#0464cc,#0461c7,#045ec2,#055bbc,#0557b5,#0653ae,#064fa7,#074ba0,#074798,#084391,#083f8a,#093c84,#09387d);-webkit-mask-image:radial-gradient(closest-side,#000 97.22%,transparent 100%)"></div><div class="d" style="left:565.7px;top:925.7px;width:341.7px;height:341.7px;background:conic-gradient(#093b83,#09377b,#0a3374,#0a2f6d,#0b2b65,#0b265d,#0c2254,#0c1d4c,#0d1843,#0e133a,#0e0f32,#0f0a2b,#0f0724,#10041f,#10021b,#100019,#100018,#10011a,#10031d,#0f0623,#0f0a2a,#0e0e32,#0e133b,#0d1844,#0c1d4d,#0c2256,#0b265d,#0b2a64,#0a2d6a,#0a306f,#0a3373,#093578,#09387c,#093b82,#083f8a,#084493,#074a9d,#0651aa,#0559b8,#0461c6,#0369d5,#0271e4,#0178f1,#007efc,#0084f8,#0087f0,#008aeb,#008be9,#008be8,#008be9,#008be9,#008be9,#008be8,#008de5,#008fe0,#0093d9,#0098cf,#009dc5,#00a3ba,#00a8af,#00ada5,#00b19d,#00b497,#00b595,#00b497,#00b19c,#00ada4,#00a8ae,#00a2bb,#009bc9,#0094d8,#008de6,#0086f3,#0080fe,#017bf6,#0177ee,#0273e7,#026fe1,#036cdb,#0369d5,#0365cf,#0462c8,#045ec1,#0559b9,#0555b1,#0650a9,#074ca1,#074899,#084391,#083f8a,#093b83);-webkit-mask-image:radial-gradient(closest-side,#000 97.14%,transparent 100%)"></div><div class="d" style="left:570.6px;top:930.6px;width:332.0px;height:332.0px;background:conic-gradient(#083f8a,#093b82,#09367a,#0a3272,#0a2d6a,#0b2961,#0c2458,#0c1f4f,#0d1a46,#0d153d,#0e1035,#0f0c2d,#0f0827,#0f0521,#10031d,#10011a,#10011a,#10021b,#10041f,#0f0624,#0f0a2a,#0e0e32,#0e133b,#0d1844,#0c1d4d,#0c2256,#0b275e,#0b2b65,#0a2e6c,#0a3272,#093577,#09387d,#093b83,#083f8a,#084492,#07499c,#064fa7,#0557b4,#045ec2,#0367d1,#026fe0,#0177ee,#007efc,#0084f6,#008aeb,#008ee3,#0091dd,#0092da,#0093d8,#0094d7,#0094d7,#0094d6,#0095d4,#0097d1,#009acb,#009dc4,#00a2bb,#00a7b2,#00aca7,#00b19d,#00b594,#00b98d,#00bb89,#00bc87,#00bb88,#00b98d,#00b595,#00b09f,#00aaab,#00a3b8,#009dc5,#0096d3,#0090df,#008aeb,#0085f5,#0080fe,#007cf8,#0179f2,#0175eb,#0271e4,#026dde,#0369d6,#0365ce,#0460c6,#055cbd,#0557b5,#0652ac,#064da3,#07489b,#084492,#083f8a);-webkit-mask-image:radial-gradient(closest-side,#000 97.06%,transparent 100%)"></div><div class="d" style="left:575.5px;top:935.5px;width:322.2px;height:322.2px;background:conic-gradient(#074594,#08408b,#093b83,#09367a,#0a3171,#0a2c68,#0b275e,#0c2255,#0c1d4c,#0d1843,#0e133a,#0e0f32,#0f0b2b,#0f0826,#0f0521,#10041f,#10031e,#10041f,#0f0622,#0f0827,#0f0c2d,#0e1035,#0d143d,#0d1946,#0c1f4f,#0c2458,#0b2861,#0a2d69,#0a3170,#093577,#09387d,#093c84,#08408b,#074493,#07499d,#064fa7,#0556b3,#045dc0,#0365cf,#026ddd,#0176ec,#007efb,#0085f5,#008ce8,#0091dd,#0095d4,#0099cd,#009bc9,#009cc6,#009dc4,#009ec3,#009fc1,#00a0be,#00a2ba,#00a5b5,#00a8ae,#00aca6,#00b19d,#00b693,#00ba8a,#00be82,#00c17c,#00c378,#00c476,#00c378,#00c17d,#00bd84,#00b98d,#00b398,#00ada5,#00a7b1,#00a0be,#009aca,#0095d5,#0090e0,#008be9,#0087f1,#0083f9,#007ffd,#017bf6,#0177ee,#0272e6,#026ede,#0369d5,#0464cc,#045ec2,#0559b9,#0654af,#064fa6,#074a9d,#074594);-webkit-mask-image:radial-gradient(closest-side,#000 96.97%,transparent 100%)"></div><div class="d" style="left:580.4px;top:940.4px;width:312.4px;height:312.4px;background:conic-gradient(#074ba0,#074697,#08418d,#093c84,#09367a,#0a3171,#0b2c67,#0b265d,#0c2154,#0d1c4a,#0d1742,#0e133a,#0e0f32,#0f0b2d,#0f0928,#0f0725,#0f0724,#0f0725,#0f0928,#0f0b2c,#0e0f32,#0e133a,#0d1742,#0c1c4b,#0c2154,#0b265d,#0b2b66,#0a306e,#093477,#09397e,#083d86,#08418e,#074696,#074b9f,#0650a9,#0557b4,#045ec1,#0365ce,#026ddd,#0175ec,#007efb,#0086f4,#008de5,#0094d7,#0099cc,#009ec3,#00a2bb,#00a4b6,#00a6b2,#00a8af,#00a9ad,#00aaaa,#00aca7,#00aea3,#00b19d,#00b496,#00b88f,#00bc86,#00c17d,#00c575,#00c86e,#00cb68,#00cd65,#00cd64,#00cc66,#00ca6a,#00c771,#00c27a,#00bd84,#00b790,#00b19c,#00aba8,#00a6b3,#00a0be,#009bc9,#0096d2,#0092db,#008ee3,#008aec,#0085f4,#0081fd,#007cf8,#0177ef,#0272e6,#026cdc,#0367d2,#0461c7,#055cbd,#0556b3,#0651aa,#074ba0);-webkit-mask-image:radial-gradient(closest-side,#000 96.88%,transparent 100%)"></div><div class="d" style="left:585.3px;top:945.3px;width:302.7px;height:302.7px;background:conic-gradient(#0653ae,#064ea4,#07489a,#084390,#083d86,#09377c,#0a3272,#0a2c68,#0b275e,#0c2154,#0c1c4b,#0d1843,#0e143c,#0e1136,#0e0e32,#0e0d2f,#0f0c2d,#0e0c2e,#0e0e30,#0e1035,#0e133a,#0d1741,#0d1b49,#0c2052,#0b255b,#0b2a65,#0a306e,#093577,#09397f,#083e88,#084391,#074899,#064da3,#0652ac,#0558b7,#045fc3,#0366d0,#026ede,#0176ed,#007efc,#0087f2,#008fe2,#0096d3,#009dc5,#00a3b9,#00a8af,#00aca7,#00afa1,#00b19c,#00b399,#00b595,#00b692,#00b88e,#00bb89,#00bd84,#00c17d,#00c476,#00c86e,#00cc66,#00d05e,#00d358,#00d653,#00d750,#00d74f,#00d751,#00d455,#00d15c,#00cd64,#00c86e,#00c379,#00bd84,#00b790,#00b29b,#00aca6,#00a7b0,#00a3b9,#009ec2,#009acb,#0095d4,#0091dd,#008ce7,#0087f1,#0082fc,#007cf8,#0176ee,#0270e3,#036bd8,#0365ce,#045fc3,#0559b9,#0653ae);-webkit-mask-image:radial-gradient(closest-side,#000 96.77%,transparent 100%)"></div><div class="d" style="left:590.1px;top:950.1px;width:292.9px;height:292.9px;background:conic-gradient(#045cbf,#0556b4,#0650a9,#074b9f,#074594,#083f89,#09397f,#0a3375,#0a2e6a,#0b2861,#0c2358,#0c1f4f,#0d1b48,#0d1742,#0d153d,#0e133a,#0e1239,#0e1339,#0e143c,#0d163f,#0d1945,#0c1d4c,#0c2153,#0b265c,#0b2b65,#0a306f,#093578,#093a82,#08408b,#074594,#074a9e,#064fa7,#0555b1,#055bbc,#0461c8,#0368d4,#0270e2,#0178f0,#0080ff,#0088ef,#0090de,#0098ce,#00a0bf,#00a7b1,#00ada5,#00b29a,#00b692,#00ba8b,#00bd85,#00bf80,#00c17c,#00c378,#00c574,#00c86f,#00cb69,#00ce63,#00d15c,#00d554,#00d94d,#00dc46,#00df40,#00e13c,#00e23a,#00e339,#00e23b,#00e03f,#00dd45,#00d94d,#00d456,#00cf60,#00ca6b,#00c476,#00bf81,#00ba8b,#00b596,#00b09f,#00aba9,#00a6b2,#00a2bb,#009dc5,#0098cf,#0093da,#008de5,#0087f0,#0081fc,#017bf6,#0175eb,#026fe0,#0368d5,#0462ca,#045cbf);-webkit-mask-image:radial-gradient(closest-side,#000 96.67%,transparent 100%)"></div><div class="d" style="left:595.0px;top:955.0px;width:283.2px;height:283.2px;background:conic-gradient(#0367d1,#0460c6,#055aba,#0654af,#064ea4,#074899,#08428e,#093c84,#093679,#0a3170,#0b2b66,#0b275e,#0c2357,#0c1f50,#0c1d4c,#0d1b49,#0d1a47,#0d1a47,#0d1b49,#0c1d4d,#0c2052,#0c2458,#0b2860,#0a2d69,#0a3272,#09377b,#083c85,#08428f,#074799,#064da3,#0652ad,#0558b7,#045ec2,#0365cd,#036bda,#0273e7,#017af5,#0082fa,#008bea,#0093d9,#009bc8,#00a3b8,#00aba9,#00b29b,#00b88e,#00bd84,#00c27a,#00c673,#00c96c,#00cc67,#00ce62,#00d15d,#00d358,#00d653,#00d94d,#00dc47,#00df40,#00e239,#00e633,#00e92c,#00eb27,#00ed23,#00ee21,#00ee21,#00ee23,#00ec27,#00e92d,#00e534,#00e13d,#00dc46,#00d751,#00d25b,#00cc66,#00c770,#00c27a,#00bd84,#00b98d,#00b497,#00afa1,#00aaab,#00a5b5,#009fc1,#0099cc,#0093d8,#008de5,#0087f1,#0080fe,#017af4,#0273e8,#026ddc,#0367d1);-webkit-mask-image:radial-gradient(closest-side,#000 96.55%,transparent 100%)"></div><div class="d" style="left:599.9px;top:959.9px;width:273.4px;height:273.4px;background:conic-gradient(#0272e5,#036bda,#0365ce,#045ec2,#0558b7,#0652ab,#074ba0,#074595,#08408b,#093a81,#093577,#0a306f,#0a2c68,#0b2961,#0b265d,#0b2459,#0c2358,#0c2358,#0b2459,#0b265d,#0b2962,#0a2c68,#0a306f,#093578,#093a81,#083f8a,#074594,#074b9f,#0650a9,#0556b3,#045cbe,#0462c9,#0369d5,#026fe1,#0176ee,#007efb,#0086f4,#008ee3,#0096d2,#009fc2,#00a7b1,#00afa1,#00b791,#00be83,#00c476,#00ca6b,#00cf61,#00d359,#00d652,#00d94c,#00dc46,#00df41,#00e13b,#00e436,#00e730,#00ea2a,#00ed24,#00f11d,#00f417,#00f611,#00f90d,#00fa09,#00fb08,#00fb08,#00fa09,#00f80d,#00f613,#00f21a,#00ee22,#00ea2b,#00e535,#00e03f,#00db49,#00d653,#00d15d,#00cc67,#00c771,#00c27b,#00bd85,#00b88f,#00b29a,#00aca6,#00a6b2,#00a0be,#009acb,#0093d8,#008de6,#0086f3,#007ffd,#0178f1,#0272e5);-webkit-mask-image:radial-gradient(closest-side,#000 96.43%,transparent 100%)"></div><div class="d" style="left:604.8px;top:964.8px;width:263.6px;height:263.6px;background:conic-gradient(#007efc,#0177ef,#0271e3,#036ad7,#0463cb,#045dc0,#0557b4,#0650a9,#074a9e,#074594,#08408b,#093b82,#09377b,#0a3375,#0a3170,#0a2f6c,#0a2e6b,#0a2e6b,#0a2f6c,#0a306f,#0a3374,#09367a,#093a81,#083f8a,#084493,#07499c,#064fa6,#0555b1,#055bbb,#0461c6,#0367d2,#026ddd,#0174e9,#017bf6,#0082fa,#008aeb,#0092db,#009aca,#00a3b9,#00aba8,#00b398,#00bb88,#00c378,#00ca6a,#00d15d,#00d751,#00dc47,#00e03e,#00e436,#00e72f,#00eb29,#00ed23,#00f01e,#00f318,#00f612,#00f90c,#00fc06,#00ff00,#06ff00,#0bff00,#0fff00,#12ff00,#14ff00,#13ff00,#11ff00,#0eff00,#09ff00,#02ff00,#00fc06,#00f80e,#00f317,#00ef21,#00ea2b,#00e535,#00e03f,#00db49,#00d653,#00d15d,#00cb67,#00c672,#00c07e,#00ba8a,#00b496,#00aea3,#00a7b0,#00a1be,#009acb,#0093d9,#008ce7,#0085f5,#007efc);-webkit-mask-image:radial-gradient(closest-side,#000 96.30%,transparent 100%)"></div><div class="d" style="left:609.7px;top:969.7px;width:253.9px;height:253.9px;background:conic-gradient(#008be8,#0084f6,#007dfa,#0177ee,#0270e2,#0369d6,#0463ca,#045dbf,#0557b4,#0651aa,#074ca1,#074798,#084391,#083f8a,#083d85,#093b82,#093a80,#093a80,#093a81,#083c84,#083e89,#08428f,#074696,#074a9e,#064fa7,#0554b0,#055aba,#0460c5,#0366d0,#026cdb,#0273e7,#017af3,#0080fe,#0088f0,#008fe0,#0097d1,#009fc0,#00a7b0,#00b09f,#00b88e,#00c17d,#00c96d,#00d05e,#00d84f,#00de42,#00e436,#00e92b,#00ee22,#00f219,#00f612,#00f90b,#00fd05,#01ff00,#07ff00,#0dff00,#13ff00,#19ff00,#1fff00,#24ff00,#28ff00,#2cff00,#2fff00,#30ff00,#30ff00,#2eff00,#2aff00,#25ff00,#1fff00,#18ff00,#10ff00,#07ff00,#00fe02,#00f90c,#00f416,#00ef20,#00ea2a,#00e534,#00e03e,#00db49,#00d554,#00cf60,#00c96c,#00c379,#00bc86,#00b693,#00afa1,#00a8af,#00a1be,#0099cc,#0092da,#008be8);-webkit-mask-image:radial-gradient(closest-side,#000 96.15%,transparent 100%)"></div><div class="d" style="left:614.6px;top:974.6px;width:244.1px;height:244.1px;background:conic-gradient(#0099cc,#0092da,#008be9,#0084f6,#007dfa,#0177ee,#0270e2,#036ad7,#0464cc,#045ec2,#0559b8,#0554b0,#0650a9,#064da2,#074a9d,#07489a,#074798,#074798,#074799,#07499c,#074ba0,#064ea6,#0652ac,#0557b4,#055cbd,#0461c7,#0366d1,#026cdc,#0273e7,#0179f3,#0080ff,#0087f2,#008ee3,#0095d4,#009dc5,#00a5b5,#00ada5,#00b594,#00be83,#00c672,#00cf61,#00d751,#00de42,#00e633,#00ec26,#00f219,#00f80e,#00fd05,#04ff00,#0cff00,#13ff00,#1aff00,#20ff00,#27ff00,#2dff00,#33ff00,#38ff00,#3eff00,#43ff00,#47ff00,#4aff00,#4cff00,#4dff00,#4dff00,#4bff00,#48ff00,#43ff00,#3dff00,#36ff00,#2eff00,#26ff00,#1dff00,#14ff00,#0aff00,#00ff00,#00fa0a,#00f514,#00f01f,#00ea2a,#00e535,#00df41,#00d84d,#00d25a,#00cb68,#00c476,#00bd84,#00b692,#00afa1,#00a8af,#00a1be,#0099cc);-webkit-mask-image:radial-gradient(closest-side,#000 96.00%,transparent 100%)"></div><div class="d" style="left:619.4px;top:979.4px;width:234.3px;height:234.3px;background:conic-gradient(#00a8ae,#00a1bd,#009acb,#0093d9,#008ce7,#0085f5,#007ffc,#0178f1,#0272e6,#026ddc,#0367d2,#0463ca,#045ec3,#055bbc,#0558b7,#0556b4,#0555b2,#0555b1,#0556b3,#0557b5,#0559b9,#045cbf,#0460c5,#0364cd,#0369d6,#026edf,#0174ea,#017af4,#0080fe,#0087f1,#008ee3,#0095d5,#009cc7,#00a4b8,#00aba8,#00b398,#00bc87,#00c476,#00cc65,#00d555,#00dd44,#00e534,#00ed24,#00f416,#00fb08,#04ff00,#0fff00,#19ff00,#23ff00,#2bff00,#33ff00,#3aff00,#40ff00,#47ff00,#4dff00,#53ff00,#58ff00,#5dff00,#62ff00,#66ff00,#69ff00,#6bff00,#6bff00,#6bff00,#69ff00,#66ff00,#61ff00,#5cff00,#55ff00,#4eff00,#46ff00,#3dff00,#34ff00,#2bff00,#21ff00,#17ff00,#0cff00,#02ff00,#00fa09,#00f515,#00ef21,#00e82e,#00e23b,#00db48,#00d456,#00cd65,#00c673,#00be82,#00b791,#00b0a0,#00a8ae);-webkit-mask-image:radial-gradient(closest-side,#000 95.83%,transparent 100%)"></div><div class="d" style="left:624.3px;top:984.3px;width:224.6px;height:224.6px;background:conic-gradient(#00b88f,#00b09e,#00a9ac,#00a2ba,#009bc8,#0094d6,#008ee3,#0088f0,#0082fc,#017cf8,#0177ee,#0272e6,#026edf,#036bd8,#0368d4,#0366d0,#0365ce,#0365cd,#0365ce,#0366d1,#0369d5,#036bda,#026fe0,#0273e8,#0178f1,#007dfa,#0083f9,#0089ed,#008fe1,#0096d3,#009dc6,#00a4b7,#00aba9,#00b399,#00bb89,#00c379,#00cb69,#00d358,#00dc47,#00e436,#00ec26,#00f416,#00fc06,#08ff00,#16ff00,#22ff00,#2eff00,#38ff00,#42ff00,#4aff00,#52ff00,#5aff00,#61ff00,#67ff00,#6dff00,#73ff00,#78ff00,#7dff00,#82ff00,#85ff00,#88ff00,#8aff00,#8aff00,#8aff00,#88ff00,#85ff00,#80ff00,#7bff00,#75ff00,#6eff00,#66ff00,#5eff00,#55ff00,#4cff00,#42ff00,#38ff00,#2dff00,#23ff00,#17ff00,#0cff00,#00ff01,#00f80d,#00f21b,#00eb28,#00e436,#00dd45,#00d553,#00ce62,#00c771,#00bf80,#00b88f);-webkit-mask-image:radial-gradient(closest-side,#000 95.65%,transparent 100%)"></div><div class="d" style="left:629.2px;top:989.2px;width:214.8px;height:214.8px;background:conic-gradient(#00c86e,#00c17d,#00b98c,#00b29a,#00aba8,#00a4b6,#009ec3,#0098cf,#0092db,#008ce7,#0087f1,#0083fa,#007ffc,#017bf6,#0179f1,#0177ee,#0175ec,#0175eb,#0176ec,#0177ef,#0179f2,#017cf7,#007ffd,#0083f9,#0088ef,#008de5,#0092da,#0098ce,#009fc1,#00a5b4,#00aca6,#00b398,#00bb89,#00c27a,#00ca6a,#00d25a,#00db49,#00e338,#00eb28,#00f417,#00fc07,#09ff00,#18ff00,#27ff00,#34ff00,#41ff00,#4dff00,#57ff00,#61ff00,#6aff00,#72ff00,#7aff00,#81ff00,#88ff00,#8eff00,#93ff00,#99ff00,#9dff00,#a1ff00,#a5ff00,#a7ff00,#a9ff00,#a9ff00,#a9ff00,#a7ff00,#a4ff00,#a0ff00,#9bff00,#95ff00,#8eff00,#86ff00,#7eff00,#76ff00,#6dff00,#63ff00,#59ff00,#4fff00,#44ff00,#39ff00,#2dff00,#21ff00,#14ff00,#06ff00,#00fb07,#00f415,#00ed24,#00e633,#00de42,#00d751,#00cf5f,#00c86e);-webkit-mask-image:radial-gradient(closest-side,#000 95.45%,transparent 100%)"></div><div class="d" style="left:634.1px;top:994.1px;width:205.0px;height:205.0px;background:conic-gradient(#00d94d,#00d15c,#00ca6a,#00c378,#00bc86,#00b594,#00afa1,#00a9ad,#00a3b9,#009dc4,#0098ce,#0094d7,#0090df,#008de6,#008aeb,#0088ef,#0087f1,#0087f2,#0087f1,#0088ef,#008aeb,#008de5,#0090df,#0094d7,#0099ce,#009ec4,#00a3b9,#00a9ad,#00afa0,#00b693,#00bd85,#00c477,#00cb68,#00d359,#00db49,#00e339,#00eb29,#00f318,#00fb08,#09ff00,#19ff00,#29ff00,#38ff00,#46ff00,#53ff00,#60ff00,#6cff00,#77ff00,#81ff00,#8aff00,#92ff00,#9aff00,#a1ff00,#a8ff00,#aeff00,#b4ff00,#b9ff00,#bdff00,#c1ff00,#c4ff00,#c7ff00,#c8ff00,#c8ff00,#c8ff00,#c6ff00,#c3ff00,#bfff00,#baff00,#b5ff00,#aeff00,#a7ff00,#9fff00,#97ff00,#8eff00,#84ff00,#7aff00,#70ff00,#65ff00,#5aff00,#4eff00,#42ff00,#35ff00,#28ff00,#1aff00,#0cff00,#00fe03,#00f611,#00ef20,#00e82f,#00e03e,#00d94d);-webkit-mask-image:radial-gradient(closest-side,#000 95.24%,transparent 100%)"></div><div class="d" style="left:639.0px;top:999.0px;width:195.3px;height:195.3px;background:conic-gradient(#00ea2a,#00e339,#00db48,#00d456,#00cd64,#00c771,#00c07e,#00ba8a,#00b496,#00afa0,#00aaaa,#00a6b3,#00a2bb,#009fc1,#009cc6,#009aca,#0099cc,#0099cd,#0099cc,#009aca,#009cc6,#009fc1,#00a2bb,#00a6b3,#00aaab,#00afa1,#00b496,#00ba8a,#00c07e,#00c771,#00ce63,#00d555,#00dc46,#00e437,#00eb27,#00f318,#00fb07,#09ff00,#19ff00,#29ff00,#39ff00,#48ff00,#57ff00,#65ff00,#73ff00,#7fff00,#8bff00,#96ff00,#a0ff00,#a9ff00,#b2ff00,#baff00,#c1ff00,#c8ff00,#ceff00,#d4ff00,#d9ff00,#ddff00,#e1ff00,#e4ff00,#e6ff00,#e7ff00,#e7ff00,#e7ff00,#e5ff00,#e2ff00,#deff00,#daff00,#d4ff00,#ceff00,#c7ff00,#c0ff00,#b7ff00,#afff00,#a5ff00,#9cff00,#91ff00,#87ff00,#7bff00,#70ff00,#63ff00,#57ff00,#49ff00,#3cff00,#2eff00,#1fff00,#11ff00,#02ff00,#00f90d,#00f11c,#00ea2a);-webkit-mask-image:radial-gradient(closest-side,#000 95.00%,transparent 100%)"></div><div class="d" style="left:643.8px;top:1003.8px;width:185.5px;height:185.5px;background:conic-gradient(#00fb08,#00f416,#00ed24,#00e632,#00df40,#00d94d,#00d25a,#00cc66,#00c771,#00c17b,#00bd85,#00b88e,#00b595,#00b29b,#00afa0,#00ada4,#00aca6,#00aca7,#00aca6,#00ada4,#00afa1,#00b19c,#00b496,#00b88e,#00bc86,#00c17c,#00c672,#00cc67,#00d25a,#00d84e,#00df40,#00e632,#00ed24,#00f515,#00fc05,#0aff00,#1aff00,#2aff00,#3aff00,#4aff00,#59ff00,#68ff00,#77ff00,#85ff00,#92ff00,#9fff00,#aaff00,#b5ff00,#bfff00,#c9ff00,#d1ff00,#d9ff00,#e1ff00,#e7ff00,#edff00,#f3ff00,#f8ff00,#fcff00,#fffe00,#fffc00,#fffa00,#fff900,#fff800,#fff900,#fffb00,#fffd00,#fdff00,#f9ff00,#f4ff00,#eeff00,#e7ff00,#e0ff00,#d8ff00,#cfff00,#c6ff00,#bcff00,#b2ff00,#a8ff00,#9cff00,#91ff00,#85ff00,#78ff00,#6bff00,#5dff00,#4fff00,#41ff00,#33ff00,#24ff00,#16ff00,#07ff00,#00fb08);-webkit-mask-image:radial-gradient(closest-side,#000 94.74%,transparent 100%)"></div><div class="d" style="left:648.7px;top:1008.7px;width:175.8px;height:175.8px;background:conic-gradient(#1cff00,#0eff00,#00ff00,#00f80e,#00f11b,#00eb28,#00e535,#00df40,#00da4b,#00d455,#00d05f,#00cc67,#00c86e,#00c574,#00c379,#00c17d,#00c07f,#00bf80,#00c07f,#00c17d,#00c27a,#00c575,#00c86f,#00cb68,#00cf60,#00d457,#00d94d,#00de42,#00e436,#00ea29,#00f11c,#00f80e,#00ff00,#0eff00,#1dff00,#2dff00,#3cff00,#4cff00,#5bff00,#6aff00,#79ff00,#88ff00,#96ff00,#a4ff00,#b1ff00,#bdff00,#c9ff00,#d4ff00,#deff00,#e7ff00,#f0ff00,#f8ff00,#ffff00,#fff800,#fff200,#ffed00,#ffe800,#ffe400,#ffe000,#ffde00,#ffdc00,#ffdb00,#ffdb00,#ffdb00,#ffdd00,#ffdf00,#ffe300,#ffe700,#ffec00,#fff200,#fff800,#ffff00,#f7ff00,#efff00,#e6ff00,#dcff00,#d2ff00,#c8ff00,#bdff00,#b1ff00,#a5ff00,#99ff00,#8cff00,#7fff00,#71ff00,#63ff00,#55ff00,#47ff00,#38ff00,#2aff00,#1cff00);-webkit-mask-image:radial-gradient(closest-side,#000 94.44%,transparent 100%)"></div><div class="d" style="left:653.6px;top:1013.6px;width:166.0px;height:166.0px;background:conic-gradient(#3fff00,#31ff00,#24ff00,#16ff00,#0aff00,#00fe03,#00f80f,#00f21a,#00ed25,#00e82f,#00e338,#00df40,#00dc47,#00d94d,#00d751,#00d555,#00d457,#00d358,#00d457,#00d555,#00d652,#00d84e,#00db48,#00df41,#00e239,#00e731,#00ec27,#00f11c,#00f711,#00fd05,#08ff00,#16ff00,#23ff00,#32ff00,#40ff00,#4fff00,#5eff00,#6dff00,#7cff00,#8bff00,#9aff00,#a8ff00,#b6ff00,#c3ff00,#d0ff00,#dcff00,#e7ff00,#f2ff00,#fcff00,#fff900,#fff000,#ffe800,#ffe100,#ffda00,#ffd400,#ffcf00,#ffca00,#ffc600,#ffc300,#ffc100,#ffbf00,#ffbe00,#ffbe00,#ffbe00,#ffc000,#ffc200,#ffc600,#ffca00,#ffce00,#ffd400,#ffda00,#ffe100,#ffe800,#fff100,#fff900,#fcff00,#f2ff00,#e8ff00,#ddff00,#d1ff00,#c6ff00,#baff00,#adff00,#a0ff00,#93ff00,#85ff00,#77ff00,#69ff00,#5bff00,#4dff00,#3fff00);-webkit-mask-image:radial-gradient(closest-side,#000 94.12%,transparent 100%)"></div><div class="d" style="left:658.5px;top:1018.5px;width:156.2px;height:156.2px;background:conic-gradient(#63ff00,#55ff00,#48ff00,#3bff00,#2fff00,#23ff00,#17ff00,#0cff00,#02ff00,#00fb08,#00f710,#00f318,#00f01e,#00ed24,#00eb29,#00e92c,#00e82e,#00e82f,#00e82e,#00e92c,#00ea29,#00ec25,#00ef20,#00f21a,#00f612,#00fa0a,#00ff00,#0aff00,#15ff00,#21ff00,#2dff00,#3aff00,#47ff00,#55ff00,#63ff00,#71ff00,#80ff00,#8eff00,#9dff00,#abff00,#b9ff00,#c7ff00,#d4ff00,#e1ff00,#eeff00,#f9ff00,#fff900,#ffef00,#ffe500,#ffdc00,#ffd400,#ffcc00,#ffc500,#ffbe00,#ffb800,#ffb300,#ffae00,#ffab00,#ffa700,#ffa500,#ffa300,#ffa200,#ffa200,#ffa300,#ffa400,#ffa700,#ffaa00,#ffae00,#ffb200,#ffb700,#ffbd00,#ffc400,#ffcb00,#ffd300,#ffdb00,#ffe400,#ffee00,#fff800,#fcff00,#f1ff00,#e5ff00,#d9ff00,#cdff00,#c0ff00,#b3ff00,#a6ff00,#99ff00,#8bff00,#7eff00,#70ff00,#63ff00);-webkit-mask-image:radial-gradient(closest-side,#000 93.75%,transparent 100%)"></div><div class="d" style="left:663.4px;top:1023.4px;width:146.5px;height:146.5px;background:conic-gradient(#85ff00,#79ff00,#6cff00,#60ff00,#54ff00,#48ff00,#3dff00,#33ff00,#29ff00,#20ff00,#18ff00,#10ff00,#0aff00,#05ff00,#01ff00,#00fe03,#00fd05,#00fc05,#00fd05,#00fd03,#00ff00,#03ff00,#08ff00,#0fff00,#16ff00,#1eff00,#27ff00,#30ff00,#3bff00,#46ff00,#52ff00,#5eff00,#6bff00,#78ff00,#85ff00,#93ff00,#a1ff00,#afff00,#bdff00,#caff00,#d8ff00,#e5ff00,#f2ff00,#ffff00,#fff400,#ffe800,#ffdd00,#ffd300,#ffc900,#ffc000,#ffb800,#ffb100,#ffaa00,#ffa300,#ff9d00,#ff9800,#ff9400,#ff9000,#ff8d00,#ff8b00,#ff8900,#ff8800,#ff8800,#ff8900,#ff8a00,#ff8c00,#ff8f00,#ff9300,#ff9700,#ff9c00,#ffa200,#ffa800,#ffaf00,#ffb700,#ffbf00,#ffc800,#ffd100,#ffdb00,#ffe500,#ffef00,#fffb00,#f8ff00,#ecff00,#e0ff00,#d3ff00,#c7ff00,#baff00,#adff00,#a0ff00,#92ff00,#85ff00);-webkit-mask-image:radial-gradient(closest-side,#000 93.33%,transparent 100%)"></div><div class="d" style="left:668.3px;top:1028.3px;width:136.7px;height:136.7px;background:conic-gradient(#a8ff00,#9cff00,#8fff00,#84ff00,#78ff00,#6dff00,#63ff00,#59ff00,#50ff00,#47ff00,#3fff00,#39ff00,#33ff00,#2eff00,#2aff00,#27ff00,#25ff00,#24ff00,#25ff00,#26ff00,#29ff00,#2cff00,#31ff00,#37ff00,#3dff00,#45ff00,#4dff00,#57ff00,#61ff00,#6bff00,#76ff00,#82ff00,#8eff00,#9bff00,#a7ff00,#b4ff00,#c2ff00,#cfff00,#dcff00,#e9ff00,#f6ff00,#fffb00,#ffef00,#ffe300,#ffd800,#ffcd00,#ffc200,#ffb800,#ffaf00,#ffa600,#ff9e00,#ff9700,#ff9000,#ff8a00,#ff8400,#ff7f00,#ff7b00,#ff7800,#ff7500,#ff7200,#ff7100,#ff7000,#ff7000,#ff7000,#ff7200,#ff7400,#ff7700,#ff7a00,#ff7e00,#ff8300,#ff8800,#ff8f00,#ff9500,#ff9c00,#ffa400,#ffad00,#ffb500,#ffbf00,#ffc900,#ffd300,#ffdd00,#ffe900,#fff400,#feff00,#f2ff00,#e6ff00,#daff00,#cdff00,#c1ff00,#b4ff00,#a8ff00);-webkit-mask-image:radial-gradient(closest-side,#000 92.86%,transparent 100%)"></div><div class="d" style="left:673.1px;top:1033.1px;width:126.9px;height:126.9px;background:conic-gradient(#c9ff00,#beff00,#b2ff00,#a7ff00,#9cff00,#92ff00,#88ff00,#7fff00,#76ff00,#6eff00,#67ff00,#61ff00,#5bff00,#56ff00,#53ff00,#50ff00,#4eff00,#4dff00,#4eff00,#4fff00,#51ff00,#55ff00,#59ff00,#5fff00,#65ff00,#6cff00,#74ff00,#7dff00,#86ff00,#90ff00,#9aff00,#a5ff00,#b1ff00,#bdff00,#c9ff00,#d5ff00,#e1ff00,#eeff00,#faff00,#fff700,#ffeb00,#ffdf00,#ffd400,#ffc800,#ffbd00,#ffb300,#ffa900,#ff9f00,#ff9600,#ff8e00,#ff8600,#ff7f00,#ff7900,#ff7300,#ff6d00,#ff6800,#ff6400,#ff6100,#ff5e00,#ff5c00,#ff5a00,#ff5a00,#ff5900,#ff5a00,#ff5b00,#ff5d00,#ff6000,#ff6300,#ff6700,#ff6c00,#ff7100,#ff7700,#ff7d00,#ff8400,#ff8b00,#ff9300,#ff9c00,#ffa500,#ffae00,#ffb800,#ffc200,#ffcc00,#ffd700,#ffe300,#ffee00,#fffa00,#f9ff00,#edff00,#e1ff00,#d5ff00,#c9ff00);-webkit-mask-image:radial-gradient(closest-side,#000 92.31%,transparent 100%)"></div><div class="d" style="left:678.0px;top:1038.0px;width:117.2px;height:117.2px;background:conic-gradient(#eaff00,#dfff00,#d4ff00,#caff00,#c0ff00,#b6ff00,#adff00,#a4ff00,#9cff00,#95ff00,#8eff00,#88ff00,#83ff00,#7eff00,#7bff00,#78ff00,#77ff00,#76ff00,#76ff00,#78ff00,#7aff00,#7dff00,#81ff00,#86ff00,#8cff00,#92ff00,#9aff00,#a2ff00,#abff00,#b4ff00,#beff00,#c8ff00,#d3ff00,#deff00,#e9ff00,#f4ff00,#fffe00,#fff200,#ffe700,#ffdb00,#ffd000,#ffc400,#ffb900,#ffaf00,#ffa400,#ff9b00,#ff9100,#ff8800,#ff8000,#ff7800,#ff7000,#ff6900,#ff6300,#ff5d00,#ff5800,#ff5400,#ff5000,#ff4c00,#ff4a00,#ff4800,#ff4600,#ff4500,#ff4500,#ff4600,#ff4700,#ff4900,#ff4b00,#ff4e00,#ff5200,#ff5600,#ff5b00,#ff6100,#ff6700,#ff6d00,#ff7400,#ff7c00,#ff8400,#ff8c00,#ff9500,#ff9e00,#ffa800,#ffb200,#ffbc00,#ffc700,#ffd200,#ffdd00,#ffe800,#fff300,#fffe00,#f5ff00,#eaff00);-webkit-mask-image:radial-gradient(closest-side,#000 91.67%,transparent 100%)"></div><div class="d" style="left:682.9px;top:1042.9px;width:107.4px;height:107.4px;background:conic-gradient(#fff500,#ffff00,#f5ff00,#ebff00,#e2ff00,#d9ff00,#d0ff00,#c8ff00,#c1ff00,#baff00,#b4ff00,#aeff00,#aaff00,#a6ff00,#a3ff00,#a0ff00,#9fff00,#9eff00,#9eff00,#a0ff00,#a2ff00,#a4ff00,#a8ff00,#adff00,#b2ff00,#b8ff00,#bfff00,#c6ff00,#ceff00,#d7ff00,#e0ff00,#e9ff00,#f3ff00,#fdff00,#fff600,#ffec00,#ffe100,#ffd600,#ffcb00,#ffc000,#ffb600,#ffab00,#ffa100,#ff9700,#ff8d00,#ff8400,#ff7b00,#ff7300,#ff6b00,#ff6300,#ff5c00,#ff5600,#ff5000,#ff4a00,#ff4500,#ff4100,#ff3d00,#ff3a00,#ff3800,#ff3600,#ff3400,#ff3400,#ff3300,#ff3400,#ff3500,#ff3700,#ff3900,#ff3c00,#ff3f00,#ff4300,#ff4800,#ff4d00,#ff5300,#ff5900,#ff5f00,#ff6700,#ff6e00,#ff7600,#ff7e00,#ff8700,#ff9000,#ff9a00,#ffa300,#ffad00,#ffb700,#ffc100,#ffcc00,#ffd600,#ffe100,#ffeb00,#fff500);-webkit-mask-image:radial-gradient(closest-side,#000 90.91%,transparent 100%)"></div><div class="d" style="left:687.8px;top:1047.8px;width:97.6px;height:97.6px;background:conic-gradient(#ffd800,#ffe100,#ffea00,#fff300,#fffb00,#fbff00,#f3ff00,#ecff00,#e5ff00,#deff00,#d9ff00,#d4ff00,#d0ff00,#ccff00,#c9ff00,#c7ff00,#c6ff00,#c5ff00,#c5ff00,#c6ff00,#c8ff00,#cbff00,#ceff00,#d2ff00,#d7ff00,#ddff00,#e3ff00,#eaff00,#f1ff00,#f9ff00,#fffd00,#fff500,#ffec00,#ffe200,#ffd900,#ffcf00,#ffc500,#ffbb00,#ffb100,#ffa700,#ff9e00,#ff9400,#ff8a00,#ff8100,#ff7800,#ff7000,#ff6700,#ff6000,#ff5800,#ff5100,#ff4a00,#ff4400,#ff3f00,#ff3a00,#ff3500,#ff3100,#ff2e00,#ff2b00,#ff2800,#ff2600,#ff2500,#ff2400,#ff2400,#ff2500,#ff2600,#ff2700,#ff2900,#ff2c00,#ff2f00,#ff3300,#ff3700,#ff3c00,#ff4100,#ff4700,#ff4d00,#ff5400,#ff5b00,#ff6200,#ff6a00,#ff7200,#ff7a00,#ff8300,#ff8c00,#ff9500,#ff9e00,#ffa800,#ffb100,#ffbb00,#ffc500,#ffce00,#ffd800);-webkit-mask-image:radial-gradient(closest-side,#000 90.00%,transparent 100%)"></div><div class="d" style="left:692.7px;top:1052.7px;width:87.9px;height:87.9px;background:conic-gradient(#ffbc00,#ffc400,#ffcc00,#ffd400,#ffdc00,#ffe300,#ffea00,#fff100,#fff700,#fffd00,#fcff00,#f8ff00,#f4ff00,#f1ff00,#eeff00,#ecff00,#ebff00,#ebff00,#ebff00,#ecff00,#edff00,#f0ff00,#f3ff00,#f7ff00,#fbff00,#fffe00,#fff900,#fff300,#ffec00,#ffe500,#ffde00,#ffd600,#ffce00,#ffc500,#ffbd00,#ffb400,#ffab00,#ffa200,#ff9900,#ff9000,#ff8700,#ff7e00,#ff7600,#ff6d00,#ff6500,#ff5d00,#ff5600,#ff4f00,#ff4800,#ff4100,#ff3b00,#ff3600,#ff3000,#ff2c00,#ff2700,#ff2400,#ff2000,#ff1e00,#ff1b00,#ff1a00,#ff1800,#ff1800,#ff1800,#ff1800,#ff1900,#ff1a00,#ff1c00,#ff1f00,#ff2200,#ff2500,#ff2900,#ff2d00,#ff3200,#ff3700,#ff3d00,#ff4300,#ff4a00,#ff5000,#ff5800,#ff5f00,#ff6700,#ff6f00,#ff7700,#ff7f00,#ff8800,#ff9000,#ff9900,#ffa200,#ffaa00,#ffb300,#ffbc00);-webkit-mask-image:radial-gradient(closest-side,#000 88.89%,transparent 100%)"></div><div class="d" style="left:697.5px;top:1057.5px;width:78.1px;height:78.1px;background:conic-gradient(#ffa200,#ffa900,#ffb000,#ffb700,#ffbe00,#ffc500,#ffcb00,#ffd100,#ffd600,#ffdb00,#ffe000,#ffe400,#ffe700,#ffea00,#ffec00,#ffee00,#ffef00,#ffef00,#ffef00,#ffee00,#ffed00,#ffeb00,#ffe800,#ffe500,#ffe100,#ffdd00,#ffd800,#ffd200,#ffcd00,#ffc600,#ffc000,#ffb900,#ffb200,#ffaa00,#ffa300,#ff9b00,#ff9300,#ff8b00,#ff8300,#ff7b00,#ff7300,#ff6b00,#ff6300,#ff5c00,#ff5500,#ff4d00,#ff4700,#ff4000,#ff3a00,#ff3400,#ff2e00,#ff2900,#ff2500,#ff2000,#ff1d00,#ff1900,#ff1600,#ff1400,#ff1200,#ff1000,#ff0f00,#ff0e00,#ff0e00,#ff0e00,#ff0f00,#ff1000,#ff1200,#ff1400,#ff1700,#ff1a00,#ff1e00,#ff2200,#ff2600,#ff2b00,#ff3000,#ff3500,#ff3b00,#ff4100,#ff4800,#ff4e00,#ff5500,#ff5d00,#ff6400,#ff6b00,#ff7300,#ff7b00,#ff8300,#ff8a00,#ff9200,#ff9a00,#ffa200);-webkit-mask-image:radial-gradient(closest-side,#000 87.50%,transparent 100%)"></div><div class="d" style="left:702.4px;top:1062.4px;width:68.3px;height:68.3px;background:conic-gradient(#ff8a00,#ff9000,#ff9700,#ff9d00,#ffa300,#ffa800,#ffae00,#ffb300,#ffb800,#ffbc00,#ffc000,#ffc300,#ffc600,#ffc800,#ffca00,#ffcc00,#ffcd00,#ffcd00,#ffcd00,#ffcc00,#ffcb00,#ffc900,#ffc700,#ffc400,#ffc100,#ffbd00,#ffb900,#ffb400,#ffaf00,#ffaa00,#ffa400,#ff9e00,#ff9800,#ff9100,#ff8b00,#ff8400,#ff7d00,#ff7600,#ff6f00,#ff6800,#ff6100,#ff5a00,#ff5300,#ff4d00,#ff4600,#ff4000,#ff3a00,#ff3400,#ff2f00,#ff2900,#ff2400,#ff2000,#ff1c00,#ff1800,#ff1400,#ff1100,#ff0f00,#ff0c00,#ff0b00,#ff0900,#ff0800,#ff0800,#ff0700,#ff0800,#ff0800,#ff0a00,#ff0b00,#ff0d00,#ff0f00,#ff1200,#ff1500,#ff1900,#ff1d00,#ff2100,#ff2500,#ff2a00,#ff2f00,#ff3500,#ff3b00,#ff4100,#ff4700,#ff4d00,#ff5400,#ff5a00,#ff6100,#ff6800,#ff6f00,#ff7500,#ff7c00,#ff8300,#ff8a00);-webkit-mask-image:radial-gradient(closest-side,#000 85.71%,transparent 100%)"></div><div class="d" style="left:707.3px;top:1067.3px;width:58.6px;height:58.6px;background:conic-gradient(#ff7400,#ff7a00,#ff7f00,#ff8400,#ff8900,#ff8e00,#ff9300,#ff9700,#ff9b00,#ff9e00,#ffa200,#ffa500,#ffa700,#ffa900,#ffab00,#ffac00,#ffad00,#ffad00,#ffad00,#ffac00,#ffab00,#ffaa00,#ffa800,#ffa500,#ffa300,#ff9f00,#ff9c00,#ff9800,#ff9400,#ff8f00,#ff8a00,#ff8500,#ff8000,#ff7a00,#ff7500,#ff6f00,#ff6900,#ff6300,#ff5d00,#ff5700,#ff5100,#ff4b00,#ff4600,#ff4000,#ff3a00,#ff3500,#ff3000,#ff2b00,#ff2600,#ff2200,#ff1d00,#ff1900,#ff1600,#ff1200,#ff0f00,#ff0d00,#ff0a00,#ff0800,#ff0700,#ff0500,#ff0500,#ff0400,#ff0400,#ff0400,#ff0500,#ff0600,#ff0700,#ff0900,#ff0b00,#ff0d00,#ff1000,#ff1300,#ff1600,#ff1a00,#ff1e00,#ff2200,#ff2700,#ff2b00,#ff3000,#ff3500,#ff3b00,#ff4000,#ff4600,#ff4b00,#ff5100,#ff5700,#ff5d00,#ff6300,#ff6800,#ff6e00,#ff7400);-webkit-mask-image:radial-gradient(closest-side,#000 83.33%,transparent 100%)"></div><div class="d" style="left:712.2px;top:1072.2px;width:48.8px;height:48.8px;background:conic-gradient(#ff6100,#ff6500,#ff6a00,#ff6e00,#ff7200,#ff7600,#ff7a00,#ff7d00,#ff8000,#ff8300,#ff8600,#ff8800,#ff8a00,#ff8c00,#ff8d00,#ff8e00,#ff8f00,#ff8f00,#ff8f00,#ff8f00,#ff8e00,#ff8c00,#ff8b00,#ff8900,#ff8700,#ff8400,#ff8100,#ff7e00,#ff7b00,#ff7700,#ff7300,#ff6f00,#ff6a00,#ff6600,#ff6100,#ff5d00,#ff5800,#ff5300,#ff4e00,#ff4900,#ff4400,#ff3f00,#ff3b00,#ff3600,#ff3100,#ff2d00,#ff2800,#ff2400,#ff2000,#ff1d00,#ff1900,#ff1600,#ff1300,#ff1000,#ff0d00,#ff0b00,#ff0900,#ff0700,#ff0600,#ff0500,#ff0400,#ff0400,#ff0400,#ff0400,#ff0400,#ff0500,#ff0600,#ff0800,#ff0900,#ff0b00,#ff0e00,#ff1000,#ff1300,#ff1600,#ff1900,#ff1d00,#ff2100,#ff2400,#ff2900,#ff2d00,#ff3100,#ff3600,#ff3a00,#ff3f00,#ff4400,#ff4900,#ff4e00,#ff5200,#ff5700,#ff5c00,#ff6100);-webkit-mask-image:radial-gradient(closest-side,#000 80.00%,transparent 100%)"></div><div class="d" style="left:717.1px;top:1077.1px;width:39.1px;height:39.1px;background:conic-gradient(#ff5000,#ff5300,#ff5700,#ff5a00,#ff5d00,#ff6000,#ff6300,#ff6600,#ff6900,#ff6b00,#ff6d00,#ff6f00,#ff7000,#ff7100,#ff7200,#ff7300,#ff7400,#ff7400,#ff7400,#ff7300,#ff7300,#ff7200,#ff7100,#ff6f00,#ff6d00,#ff6b00,#ff6900,#ff6700,#ff6400,#ff6100,#ff5e00,#ff5b00,#ff5700,#ff5400,#ff5000,#ff4d00,#ff4900,#ff4500,#ff4100,#ff3d00,#ff3a00,#ff3600,#ff3200,#ff2e00,#ff2b00,#ff2700,#ff2400,#ff2100,#ff1d00,#ff1a00,#ff1800,#ff1500,#ff1300,#ff1000,#ff0e00,#ff0c00,#ff0b00,#ff0a00,#ff0800,#ff0800,#ff0700,#ff0700,#ff0700,#ff0700,#ff0700,#ff0800,#ff0900,#ff0a00,#ff0b00,#ff0d00,#ff0e00,#ff1000,#ff1300,#ff1500,#ff1800,#ff1a00,#ff1d00,#ff2100,#ff2400,#ff2700,#ff2b00,#ff2e00,#ff3200,#ff3600,#ff3900,#ff3d00,#ff4100,#ff4500,#ff4800,#ff4c00,#ff5000);-webkit-mask-image:radial-gradient(closest-side,#000 75.00%,transparent 100%)"></div><div class="d" style="left:722.0px;top:1082.0px;width:29.3px;height:29.3px;background:conic-gradient(#ff4200,#ff4400,#ff4700,#ff4900,#ff4b00,#ff4e00,#ff5000,#ff5100,#ff5300,#ff5500,#ff5600,#ff5800,#ff5900,#ff5a00,#ff5a00,#ff5b00,#ff5b00,#ff5b00,#ff5b00,#ff5b00,#ff5a00,#ff5a00,#ff5900,#ff5800,#ff5700,#ff5500,#ff5400,#ff5200,#ff5000,#ff4e00,#ff4c00,#ff4900,#ff4700,#ff4500,#ff4200,#ff3f00,#ff3d00,#ff3a00,#ff3700,#ff3500,#ff3200,#ff2f00,#ff2c00,#ff2a00,#ff2700,#ff2500,#ff2200,#ff2000,#ff1d00,#ff1b00,#ff1900,#ff1700,#ff1600,#ff1400,#ff1200,#ff1100,#ff1000,#ff0f00,#ff0e00,#ff0e00,#ff0d00,#ff0d00,#ff0d00,#ff0d00,#ff0d00,#ff0e00,#ff0e00,#ff0f00,#ff1000,#ff1100,#ff1200,#ff1400,#ff1600,#ff1700,#ff1900,#ff1b00,#ff1d00,#ff2000,#ff2200,#ff2400,#ff2700,#ff2a00,#ff2c00,#ff2f00,#ff3200,#ff3400,#ff3700,#ff3a00,#ff3c00,#ff3f00,#ff4200);-webkit-mask-image:radial-gradient(closest-side,#000 66.67%,transparent 100%)"></div><div class="d" style="left:726.8px;top:1086.8px;width:19.5px;height:19.5px;background:conic-gradient(#ff3600,#ff3800,#ff3900,#ff3b00,#ff3c00,#ff3d00,#ff3e00,#ff4000,#ff4100,#ff4200,#ff4200,#ff4300,#ff4400,#ff4400,#ff4500,#ff4500,#ff4500,#ff4500,#ff4500,#ff4500,#ff4500,#ff4400,#ff4400,#ff4300,#ff4300,#ff4200,#ff4100,#ff4000,#ff3f00,#ff3d00,#ff3c00,#ff3b00,#ff3900,#ff3800,#ff3600,#ff3500,#ff3300,#ff3200,#ff3000,#ff2e00,#ff2d00,#ff2b00,#ff2900,#ff2800,#ff2600,#ff2500,#ff2300,#ff2200,#ff2000,#ff1f00,#ff1e00,#ff1d00,#ff1c00,#ff1b00,#ff1a00,#ff1900,#ff1800,#ff1800,#ff1700,#ff1700,#ff1600,#ff1600,#ff1600,#ff1600,#ff1600,#ff1700,#ff1700,#ff1700,#ff1800,#ff1900,#ff1a00,#ff1a00,#ff1b00,#ff1d00,#ff1e00,#ff1f00,#ff2000,#ff2200,#ff2300,#ff2500,#ff2600,#ff2800,#ff2900,#ff2b00,#ff2d00,#ff2e00,#ff3000,#ff3100,#ff3300,#ff3500,#ff3600);-webkit-mask-image:radial-gradient(closest-side,#000 50.00%,transparent 100%)"></div><div class="d" style="left:731.7px;top:1091.7px;width:9.8px;height:9.8px;background:conic-gradient(#ff2e00,#ff2e00,#ff2f00,#ff2f00,#ff2f00,#ff3000,#ff3000,#ff3100,#ff3100,#ff3100,#ff3200,#ff3200,#ff3200,#ff3200,#ff3200,#ff3200,#ff3200,#ff3300,#ff3300,#ff3200,#ff3200,#ff3200,#ff3200,#ff3200,#ff3200,#ff3100,#ff3100,#ff3100,#ff3000,#ff3000,#ff2f00,#ff2f00,#ff2f00,#ff2e00,#ff2e00,#ff2d00,#ff2d00,#ff2c00,#ff2b00,#ff2b00,#ff2a00,#ff2a00,#ff2900,#ff2900,#ff2800,#ff2800,#ff2700,#ff2700,#ff2600,#ff2600,#ff2500,#ff2500,#ff2500,#ff2400,#ff2400,#ff2400,#ff2300,#ff2300,#ff2300,#ff2300,#ff2300,#ff2300,#ff2300,#ff2300,#ff2300,#ff2300,#ff2300,#ff2300,#ff2300,#ff2400,#ff2400,#ff2400,#ff2500,#ff2500,#ff2500,#ff2600,#ff2600,#ff2700,#ff2700,#ff2800,#ff2800,#ff2900,#ff2900,#ff2a00,#ff2a00,#ff2b00,#ff2b00,#ff2c00,#ff2c00,#ff2d00,#ff2e00);-webkit-mask-image:radial-gradient(closest-side,#000 -0.00%,transparent 100%)"></div><div class="d" style="left:1395.0px;top:745.1px;width:703.0px;height:703.0px;background:conic-gradient(#e2ff00,#ccff00,#adff00,#84ff00,#51ff00,#19ff00,#00f11d,#00da4a,#00cb69,#00c17d,#00bb8a,#00b595,#00aea3,#00a8ae,#00a9ad,#00b692,#00d653,#13ff00,#94ff00,#ffe200,#ff6f00,#ff2b00,#ff2100,#ff5300,#ffb100,#d9ff00,#69ff00,#0dff00,#00e535,#00cf61,#00bf80,#00b29b,#00a3b8,#0095d5,#008aeb,#0085f5,#0087f0,#0091dd,#009ec3,#00aba8,#00b790,#00c17c,#00cc67,#00d84f,#00e633,#00f318,#00fb07,#00f90c,#00e92d,#00cc67,#00a8af,#0085f6,#036bda,#0461c7,#0365cf,#0273e8,#0082fb,#008be9,#008be9,#0085f5,#0080fe,#0086f2,#009dc4,#00c574,#00f80f,#53ff00,#9aff00,#b2ff00,#97ff00,#52ff00,#00fb08,#00cf60,#00ada4,#009acc,#0093da,#0094d8,#0097d0,#009bc9,#009ec2,#00a6b3,#00b595,#00cd64,#00ef20,#2dff00,#78ff00,#b6ff00,#e0ff00,#f5ff00,#f9ff00,#f1ff00,#e2ff00)"></div><div class="d" style="left:1399.9px;top:750.0px;width:693.2px;height:693.2px;background:conic-gradient(#c7ff00,#b3ff00,#95ff00,#6eff00,#3dff00,#08ff00,#00e92b,#00d456,#00c575,#00bc87,#00b693,#00b19c,#00aca7,#00a8af,#00a9ac,#00b693,#00d25b,#00fe02,#70ff00,#e6ff00,#ffb300,#ff7600,#ff6c00,#ff9600,#ffe700,#b4ff00,#51ff00,#00ff01,#00e13d,#00cc66,#00be83,#00b19d,#00a4b7,#0098cf,#008fe1,#008ce7,#0090de,#009aca,#00a8b0,#00b595,#00c07f,#00c96d,#00d15b,#00db48,#00e731,#00f11b,#00f80f,#00f515,#00e633,#00cc67,#00aca7,#008de6,#0176ed,#026cdb,#026fe0,#017af4,#0086f4,#008ce7,#008be9,#0085f5,#0081fd,#0087f2,#009bc8,#00bf80,#00ec25,#33ff00,#72ff00,#88ff00,#70ff00,#31ff00,#00ee22,#00c574,#00a5b5,#0091dd,#0089ed,#0088ee,#008be8,#008fe0,#0094d6,#009dc5,#00ada5,#00c574,#00e533,#15ff00,#5cff00,#96ff00,#beff00,#d3ff00,#d9ff00,#d4ff00,#c7ff00);-webkit-mask-image:radial-gradient(closest-side,#000 98.59%,transparent 100%)"></div><div class="d" style="left:1404.8px;top:754.9px;width:683.5px;height:683.5px;background:conic-gradient(#acff00,#99ff00,#7eff00,#58ff00,#2aff00,#00fb09,#00e23a,#00ce63,#00bf80,#00b693,#00b19d,#00ada5,#00a9ad,#00a6b2,#00a8af,#00b398,#00cc66,#00f317,#4cff00,#b4ff00,#fff100,#ffba00,#ffb000,#ffd300,#e7ff00,#91ff00,#3bff00,#00f80e,#00dd44,#00ca6b,#00bb88,#00afa1,#00a3b8,#0099cd,#0092db,#0091dd,#0096d3,#00a1bd,#00aea3,#00bb89,#00c673,#00ce62,#00d653,#00de43,#00e731,#00ef20,#00f317,#00f01f,#00e23b,#00ca6a,#00ada4,#0091dc,#007df9,#0273e8,#0175eb,#007dfa,#0087f2,#008ce8,#008aea,#0085f5,#0082fc,#0087f1,#009acb,#00bb89,#00e338,#17ff00,#50ff00,#63ff00,#4cff00,#12ff00,#00e23a,#00bc87,#009dc6,#0089ed,#0080fe,#007efc,#0081fd,#0085f5,#008be9,#0095d5,#00a5b4,#00bd84,#00dc46,#00fe02,#40ff00,#76ff00,#9dff00,#b3ff00,#baff00,#b7ff00,#acff00);-webkit-mask-image:radial-gradient(closest-side,#000 98.57%,transparent 100%)"></div><div class="d" style="left:1409.6px;top:759.7px;width:673.7px;height:673.7px;background:conic-gradient(#91ff00,#81ff00,#67ff00,#43ff00,#17ff00,#00f319,#00db48,#00c86f,#00b98c,#00b19e,#00aca8,#00a8ae,#00a5b4,#00a3b8,#00a6b3,#00b09e,#00c672,#00e92d,#2aff00,#86ff00,#d4ff00,#fff800,#ffed00,#f5ff00,#bbff00,#71ff00,#26ff00,#00f21a,#00d94c,#00c771,#00b98d,#00ada5,#00a2bb,#0099ce,#0093d8,#0093d8,#009acb,#00a5b5,#00b29a,#00bf81,#00c96c,#00d15b,#00d84e,#00df40,#00e632,#00ed25,#00ef20,#00ea29,#00dd45,#00c770,#00ada5,#0093d8,#0081fe,#0177ef,#0178f0,#007efc,#0086f3,#008aeb,#0089ed,#0085f6,#0082fa,#0088ef,#009acb,#00b790,#00dc47,#00ff00,#31ff00,#41ff00,#2bff00,#00fa0a,#00d652,#00b29a,#0095d5,#0081fd,#0177ef,#0175eb,#0177ef,#017cf8,#0083f9,#008ee3,#009fc2,#00b692,#00d358,#00f318,#25ff00,#58ff00,#7dff00,#93ff00,#9cff00,#9bff00,#91ff00);-webkit-mask-image:radial-gradient(closest-side,#000 98.55%,transparent 100%)"></div><div class="d" style="left:1414.5px;top:764.6px;width:663.9px;height:663.9px;background:conic-gradient(#78ff00,#68ff00,#50ff00,#2fff00,#05ff00,#00eb29,#00d555,#00c27b,#00b497,#00aba8,#00a6b2,#00a3b8,#00a1bc,#00a0be,#00a3b9,#00ada6,#00c07e,#00de41,#0bff00,#5cff00,#a1ff00,#ceff00,#daff00,#c4ff00,#93ff00,#54ff00,#13ff00,#00ec26,#00d554,#00c476,#00b692,#00aba9,#00a0bf,#0098cf,#0093d8,#0095d6,#009bc8,#00a7b1,#00b496,#00c17d,#00cb68,#00d358,#00da4b,#00df40,#00e534,#00ea2b,#00ea29,#00e534,#00d84f,#00c378,#00aba9,#0094d7,#0082fb,#0179f3,#0179f2,#007efb,#0084f6,#0088ef,#0087f0,#0084f6,#0083f8,#008aec,#009aca,#00b594,#00d653,#00f514,#17ff00,#24ff00,#0eff00,#00ed25,#00cc67,#00aaab,#008de4,#017af4,#0270e2,#026ddd,#026fe0,#0174e9,#017cf7,#0087f0,#0098ce,#00afa0,#00cb69,#00e82d,#0cff00,#3cff00,#5fff00,#74ff00,#7eff00,#7fff00,#78ff00);-webkit-mask-image:radial-gradient(closest-side,#000 98.53%,transparent 100%)"></div><div class="d" style="left:1419.4px;top:769.5px;width:654.2px;height:654.2px;background:conic-gradient(#5eff00,#51ff00,#3bff00,#1bff00,#00f90c,#00e337,#00ce62,#00bc86,#00afa1,#00a6b2,#00a1bc,#009fc1,#009dc5,#009dc6,#009fc0,#00a8ae,#00ba8b,#00d555,#00f612,#35ff00,#73ff00,#9cff00,#a8ff00,#98ff00,#6fff00,#3aff00,#02ff00,#00e731,#00d25b,#00c17c,#00b497,#00a8ae,#009ec3,#0096d2,#0093d9,#0094d6,#009cc7,#00a7b0,#00b595,#00c17c,#00cc67,#00d457,#00da4b,#00df40,#00e337,#00e631,#00e632,#00e03f,#00d259,#00bf80,#00a8ae,#0093da,#0082fb,#0179f3,#0178f1,#007cf8,#0082fb,#0085f4,#0086f4,#0084f7,#0085f6,#008ce8,#009bc8,#00b497,#00d15c,#00ed25,#00ff00,#09ff00,#00f90c,#00e13c,#00c27b,#00a2bc,#0086f2,#0273e8,#0369d5,#0366d0,#0368d3,#026ddd,#0175ec,#0082fc,#0093da,#00a9ae,#00c379,#00de42,#00f90d,#20ff00,#42ff00,#57ff00,#62ff00,#64ff00,#5eff00);-webkit-mask-image:radial-gradient(closest-side,#000 98.51%,transparent 100%)"></div><div class="d" style="left:1424.3px;top:774.4px;width:644.4px;height:644.4px;background:conic-gradient(#46ff00,#3aff00,#26ff00,#08ff00,#00f11c,#00dc45,#00c86e,#00b791,#00aaab,#00a2bc,#009dc5,#009aca,#0099cd,#0099cd,#009cc7,#00a4b7,#00b497,#00cb68,#00e92c,#13ff00,#4aff00,#6fff00,#7dff00,#70ff00,#50ff00,#22ff00,#00f80e,#00e13b,#00ce62,#00bf81,#00b19c,#00a6b3,#009cc7,#0094d6,#0091dc,#0093d8,#009bc9,#00a6b2,#00b497,#00c17d,#00cb68,#00d358,#00d94c,#00de43,#00e13c,#00e338,#00e13c,#00da4a,#00cd64,#00ba8a,#00a5b5,#0090de,#0081fe,#0178f0,#0176ee,#017af4,#007ffd,#0083fa,#0084f7,#0084f7,#0086f3,#008ee3,#009dc5,#00b398,#00ce63,#00e633,#00f514,#00f80e,#00ed24,#00d652,#00b98d,#009aca,#0080ff,#026dde,#0463cb,#0460c5,#0462c8,#0367d2,#0270e2,#007cf9,#008de4,#00a2ba,#00bb89,#00d555,#00ed24,#06ff00,#26ff00,#3bff00,#46ff00,#4aff00,#46ff00);-webkit-mask-image:radial-gradient(closest-side,#000 98.48%,transparent 100%)"></div><div class="d" style="left:1429.2px;top:779.3px;width:634.7px;height:634.7px;background:conic-gradient(#2eff00,#24ff00,#11ff00,#00fa0a,#00e92c,#00d653,#00c379,#00b29a,#00a6b3,#009dc4,#0099ce,#0096d3,#0095d5,#0095d4,#0098cf,#00a0bf,#00aea3,#00c379,#00dd45,#00f90d,#25ff00,#48ff00,#55ff00,#4dff00,#33ff00,#0dff00,#00f11d,#00dd45,#00cb68,#00bc86,#00afa1,#00a3b8,#0099cc,#0092da,#008fe0,#0092db,#0099cc,#00a5b5,#00b29b,#00bf81,#00c96b,#00d25b,#00d84f,#00dc46,#00df41,#00df40,#00dc45,#00d555,#00c770,#00b594,#00a1bd,#008de4,#007efc,#0176ed,#0274e9,#0177ee,#017cf7,#0080ff,#0082fa,#0084f7,#0088ef,#0090df,#009fc1,#00b497,#00cb69,#00e03f,#00ed25,#00ee22,#00e339,#00cd65,#00b09e,#0093d8,#017af5,#0368d4,#045ec1,#055abb,#045cbf,#0462c9,#036bd9,#0178f0,#0088ee,#009dc6,#00b497,#00cc67,#00e23a,#00f613,#0bff00,#20ff00,#2cff00,#30ff00,#2eff00);-webkit-mask-image:radial-gradient(closest-side,#000 98.46%,transparent 100%)"></div><div class="d" style="left:1434.1px;top:784.2px;width:624.9px;height:624.9px;background:conic-gradient(#16ff00,#0eff00,#00fe03,#00f11c,#00e13c,#00cf60,#00be83,#00aea3,#00a2bc,#0099cc,#0095d6,#0092db,#0091dd,#0092dc,#0094d6,#009bc8,#00a8af,#00bb89,#00d25b,#00eb29,#04ff00,#24ff00,#33ff00,#2eff00,#19ff00,#00fc06,#00ea2a,#00d84e,#00c86e,#00ba8b,#00ada5,#00a1bd,#0097d1,#0090df,#008de5,#0090e0,#0097d1,#00a2bb,#00afa0,#00bc87,#00c771,#00cf60,#00d553,#00d94b,#00dc47,#00db47,#00d84f,#00cf60,#00c27b,#00b09e,#009cc6,#008aeb,#017bf7,#0273e8,#0271e4,#0274e8,#0178f1,#007dfa,#0081fd,#0084f6,#0089ec,#0093da,#00a1bd,#00b497,#00c96d,#00db49,#00e534,#00e534,#00d94c,#00c477,#00a9ad,#008de4,#0175ec,#0464cc,#0559ba,#0556b3,#0558b7,#045ec1,#0367d2,#0274e9,#0084f7,#0097d1,#00ada5,#00c379,#00d84f,#00ea2a,#00f80e,#06ff00,#12ff00,#18ff00,#16ff00);-webkit-mask-image:radial-gradient(closest-side,#000 98.44%,transparent 100%)"></div><div class="d" style="left:1438.9px;top:789.0px;width:615.1px;height:615.1px;background:conic-gradient(#00ff01,#00fb08,#00f416,#00e92d,#00da4b,#00c96c,#00b88e,#00a9ac,#009ec3,#0096d3,#0091dd,#008ee2,#008de4,#008ee3,#0091de,#0097d1,#00a2ba,#00b399,#00c86f,#00de43,#00f21a,#04ff00,#13ff00,#12ff00,#02ff00,#00f318,#00e437,#00d456,#00c574,#00b790,#00aaaa,#009ec2,#0094d6,#008de4,#008bea,#008de5,#0094d7,#009fc1,#00aca7,#00b98e,#00c477,#00cc66,#00d359,#00d751,#00d84e,#00d750,#00d359,#00ca6b,#00bc86,#00aba9,#0098cf,#0086f3,#0178f1,#0270e2,#026ede,#0270e2,#0175eb,#017bf5,#0080fe,#0085f6,#008be9,#0095d5,#00a3b9,#00b595,#00c770,#00d751,#00df41,#00dd44,#00d15c,#00bc86,#00a2ba,#0088ef,#0271e3,#0460c5,#0556b3,#0652ac,#0554b0,#055abb,#0463cb,#0270e2,#0080fe,#0092db,#00a6b3,#00ba8a,#00ce63,#00de41,#00ec27,#00f513,#00fc07,#00ff01,#00ff01);-webkit-mask-image:radial-gradient(closest-side,#000 98.41%,transparent 100%)"></div><div class="d" style="left:1443.8px;top:793.9px;width:605.4px;height:605.4px;background:conic-gradient(#00f417,#00f11d,#00ea2a,#00e03e,#00d359,#00c378,#00b398,#00a5b4,#009acb,#0092da,#008de4,#008be9,#008aeb,#008aea,#008de5,#0093d9,#009dc5,#00aca7,#00be82,#00d25a,#00e535,#00f318,#00fb09,#00fb08,#00f513,#00eb28,#00de42,#00d05f,#00c27b,#00b496,#00a8af,#009cc7,#0092db,#008bea,#0088f0,#008aeb,#0091de,#009bc8,#00a8af,#00b596,#00c07f,#00c96d,#00cf60,#00d358,#00d455,#00d358,#00ce63,#00c476,#00b791,#00a6b4,#0093d9,#0082fb,#0174ea,#026ddc,#036ad8,#026ddc,#0272e6,#0178f1,#007efc,#0085f5,#008de5,#0097d0,#00a5b4,#00b594,#00c673,#00d359,#00d94c,#00d652,#00c96b,#00b595,#009cc7,#0083f9,#026ddc,#045cbe,#0652ad,#064fa7,#0651aa,#0557b5,#0460c6,#026cdc,#017cf7,#008de5,#009fc0,#00b29a,#00c476,#00d457,#00e03e,#00e92b,#00f01f,#00f318,#00f417);-webkit-mask-image:radial-gradient(closest-side,#000 98.39%,transparent 100%)"></div><div class="d" style="left:1448.7px;top:798.8px;width:595.6px;height:595.6px;background:conic-gradient(#00e92d,#00e631,#00e13d,#00d84f,#00cb68,#00bd84,#00aea2,#00a1bc,#0096d2,#008fe1,#008aeb,#0087f0,#0086f2,#0087f2,#0089ed,#008fe2,#0098cf,#00a5b5,#00b693,#00c86f,#00d94d,#00e632,#00ee23,#00f01f,#00ec27,#00e338,#00d84e,#00cc67,#00bf81,#00b29b,#00a5b5,#0099cd,#008fe1,#0088f0,#0085f6,#0086f2,#008de5,#0097d1,#00a3b8,#00b09f,#00bb88,#00c575,#00cb68,#00cf60,#00d05e,#00ce62,#00c96d,#00bf81,#00b19c,#00a0be,#008ee2,#007efb,#0271e4,#0369d6,#0367d2,#0369d6,#026fe0,#0176ed,#007dfa,#0085f4,#008ee2,#0099cc,#00a7b1,#00b692,#00c575,#00d05f,#00d457,#00d05f,#00c379,#00afa1,#0097d2,#007efc,#0369d6,#0559b9,#0650a8,#064ca2,#064ea5,#0554b0,#045dc0,#0369d6,#0178f0,#0088ef,#0099cc,#00abaa,#00bb89,#00c96c,#00d555,#00de43,#00e436,#00e82f,#00e92d);-webkit-mask-image:radial-gradient(closest-side,#000 98.36%,transparent 100%)"></div><div class="d" style="left:1453.6px;top:803.7px;width:585.8px;height:585.8px;background:conic-gradient(#00de43,#00dc46,#00d750,#00cf60,#00c476,#00b791,#00a9ac,#009dc5,#0093d9,#008be8,#0086f2,#0084f7,#0083fa,#0083f9,#0085f4,#008aeb,#0093da,#009ec2,#00ada4,#00be83,#00cd64,#00da4a,#00e23a,#00e535,#00e239,#00dc47,#00d25a,#00c770,#00bb88,#00afa2,#00a2bb,#0096d3,#008ce7,#0085f6,#0081fc,#0083f9,#0089ed,#0093d9,#009fc1,#00aba8,#00b791,#00c07f,#00c771,#00cb69,#00cc67,#00ca6b,#00c477,#00b98c,#00aca7,#009bc9,#008aec,#017af3,#026ddd,#0366cf,#0464cc,#0366d0,#026cdb,#0274e9,#007cf9,#0086f4,#0090e0,#009bc8,#00a9ad,#00b791,#00c477,#00cc65,#00cf60,#00ca6b,#00bc86,#00a9ad,#0092dc,#017af5,#0366d0,#0557b4,#064da4,#074a9e,#074ca1,#0652ab,#055bbc,#0366d0,#0274e9,#0083f9,#0093d9,#00a3b9,#00b29b,#00bf81,#00ca6b,#00d25a,#00d84d,#00dc46,#00de43);-webkit-mask-image:radial-gradient(closest-side,#000 98.33%,transparent 100%)"></div><div class="d" style="left:1458.5px;top:808.6px;width:576.1px;height:576.1px;background:conic-gradient(#00d358,#00d25a,#00ce62,#00c771,#00bd85,#00b19d,#00a4b6,#0099cd,#008fe1,#0088ef,#0083f9,#0080ff,#007ffd,#007ffd,#0081fd,#0086f4,#008de4,#0098cf,#00a6b4,#00b496,#00c379,#00cf61,#00d750,#00db49,#00da4b,#00d555,#00cd65,#00c379,#00b790,#00aba8,#009fc1,#0093d9,#0089ee,#0081fd,#007efb,#007ffd,#0085f6,#008ee3,#009acb,#00a6b3,#00b19c,#00bb89,#00c27b,#00c672,#00c771,#00c476,#00be82,#00b497,#00a6b2,#0096d3,#0085f5,#0176ec,#0369d6,#0462c9,#0460c6,#0463cb,#036ad6,#0272e6,#017bf7,#0086f4,#0091de,#009dc5,#00aaab,#00b791,#00c27a,#00ca6b,#00cb69,#00c476,#00b791,#00a3b8,#008de5,#0176ee,#0463ca,#0554b0,#074ba0,#07489a,#074a9d,#0650a8,#0558b7,#0463cb,#0270e2,#007efc,#008de5,#009cc8,#00a9ad,#00b594,#00bf80,#00c770,#00cd64,#00d15c,#00d358);-webkit-mask-image:radial-gradient(closest-side,#000 98.31%,transparent 100%)"></div><div class="d" style="left:1463.3px;top:813.4px;width:566.3px;height:566.3px;background:conic-gradient(#00c86e,#00c86f,#00c575,#00be82,#00b594,#00aaaa,#009fc1,#0094d7,#008be9,#0084f7,#007ffe,#007cf8,#017bf6,#017bf6,#007df9,#0081fd,#0088ef,#0092dc,#009ec3,#00aca8,#00b98d,#00c476,#00cd65,#00d15d,#00d15d,#00cd64,#00c771,#00be83,#00b398,#00a7b0,#009bc8,#008fe0,#0085f5,#007efb,#017af4,#017bf6,#0080ff,#0089ed,#0094d6,#00a0be,#00aca7,#00b694,#00bd85,#00c17d,#00c27b,#00bf80,#00b98d,#00aea2,#00a1bd,#0091dd,#0081fe,#0272e5,#0366d0,#045fc4,#045dc1,#0460c6,#0367d2,#0270e2,#017bf5,#0086f4,#0091dc,#009ec3,#00aba9,#00b791,#00c17d,#00c771,#00c672,#00bf80,#00b19c,#009ec2,#0089ee,#0273e8,#0460c6,#0652ac,#074a9d,#074797,#07489a,#064ea4,#0556b3,#0460c6,#026cdc,#017af3,#0087f1,#0094d6,#00a1be,#00aba8,#00b595,#00bc86,#00c27a,#00c672,#00c86e);-webkit-mask-image:radial-gradient(closest-side,#000 98.28%,transparent 100%)"></div><div class="d" style="left:1468.2px;top:818.3px;width:556.5px;height:556.5px;background:conic-gradient(#00be83,#00be83,#00bb88,#00b693,#00aea3,#00a4b7,#0099cc,#008fe0,#0087f2,#0080ff,#017bf6,#0178f1,#0177ee,#0177ee,#0178f1,#007cf8,#0082fa,#008be9,#0096d2,#00a3b9,#00afa0,#00ba8a,#00c379,#00c770,#00c86e,#00c673,#00c07e,#00b88e,#00aea2,#00a3b8,#0097d0,#008ce7,#0082fc,#017af4,#0176ed,#0177ee,#017bf7,#0084f7,#008fe1,#009bc9,#00a6b2,#00b09f,#00b790,#00bb88,#00bc86,#00ba8b,#00b398,#00a9ad,#009cc8,#008ce7,#007cf8,#026ede,#0463ca,#045cbe,#055bbc,#045ec2,#0365ce,#026fe0,#017af4,#0086f4,#0092db,#009fc1,#00aba8,#00b791,#00bf80,#00c477,#00c27a,#00ba8a,#00aca6,#009acc,#0085f6,#0270e2,#045ec1,#0650a9,#07489a,#074595,#074797,#074ca1,#0654af,#045ec1,#0369d5,#0175eb,#0081fd,#008de5,#0098ce,#00a2ba,#00aba9,#00b29b,#00b790,#00bc87,#00be83);-webkit-mask-image:radial-gradient(closest-side,#000 98.25%,transparent 100%)"></div><div class="d" style="left:1473.1px;top:823.2px;width:546.8px;height:546.8px;background:conic-gradient(#00b398,#00b497,#00b29b,#00ada5,#00a6b3,#009dc5,#0093d8,#008aeb,#0082fb,#017cf7,#0177ef,#0274e9,#0272e6,#0272e6,#0274e8,#0177ee,#007df9,#0085f6,#008fe1,#009aca,#00a6b2,#00b19d,#00b98d,#00be82,#00c07f,#00be82,#00ba8b,#00b399,#00a9ac,#009fc2,#0093d9,#0088f0,#007efb,#0176ed,#0272e6,#0272e6,#0177ee,#007ffd,#0089ec,#0095d5,#00a0be,#00aaab,#00b19c,#00b693,#00b791,#00b496,#00aea3,#00a4b8,#0096d2,#0087f0,#0178f0,#036ad7,#045fc4,#0559b9,#0558b7,#055cbd,#0463cb,#026ddd,#0179f2,#0085f4,#0092da,#009fc1,#00aba8,#00b693,#00bd84,#00c17d,#00be82,#00b694,#00a7b0,#0095d5,#0081fd,#026ddd,#055cbe,#064fa6,#074798,#084492,#074595,#074a9e,#0651ab,#055bbc,#0365cf,#0270e3,#017bf7,#0086f3,#0090df,#0099cd,#00a1bd,#00a7b0,#00ada5,#00b19d,#00b398);-webkit-mask-image:radial-gradient(closest-side,#000 98.21%,transparent 100%)"></div><div class="d" style="left:1478.0px;top:828.1px;width:537.0px;height:537.0px;background:conic-gradient(#00a9ad,#00aaab,#00a8af,#00a4b7,#009ec3,#0096d3,#008de4,#0085f6,#007dfa,#0177ee,#0272e6,#026fe1,#026dde,#026ddd,#026edf,#0271e4,#0176ee,#007efb,#0087f0,#0092db,#009dc5,#00a7b0,#00afa0,#00b595,#00b790,#00b791,#00b399,#00aca6,#00a4b7,#009acc,#008ee2,#0083f9,#0179f3,#0272e5,#026ede,#026ede,#0272e5,#017af3,#0084f8,#008fe1,#009acb,#00a4b7,#00aba8,#00b09f,#00b19d,#00aea2,#00a8af,#009ec3,#0091dc,#0083fa,#0274e9,#0367d1,#045dbf,#0557b5,#0556b3,#055aba,#0461c8,#036cda,#0178f0,#0085f5,#0092db,#009fc1,#00aba9,#00b595,#00bb88,#00bd84,#00ba8b,#00b19d,#00a3b9,#0091dd,#007dfa,#036ad8,#055aba,#064da4,#074696,#084390,#084493,#07489b,#064fa7,#0558b7,#0462c8,#036cda,#0176ec,#007ffe,#0088ef,#0090de,#0097d0,#009dc4,#00a2ba,#00a6b2,#00a9ad);-webkit-mask-image:radial-gradient(closest-side,#000 98.18%,transparent 100%)"></div><div class="d" style="left:1482.9px;top:833.0px;width:527.2px;height:527.2px;background:conic-gradient(#009fc1,#00a0c0,#009ec2,#009bc9,#0096d4,#008fe2,#0087f1,#007ffd,#0178f0,#0272e5,#026ddd,#036ad7,#0368d4,#0368d3,#0369d5,#036bda,#0270e2,#0177ee,#0080fe,#008aec,#0094d7,#009ec4,#00a6b3,#00aca8,#00afa2,#00aea2,#00aba8,#00a6b3,#009ec3,#0094d7,#0089ec,#007efc,#0175eb,#026ddd,#0369d6,#0369d5,#026ddc,#0174ea,#007efb,#0089ed,#0094d7,#009ec4,#00a5b5,#00aaab,#00aba9,#00a8ae,#00a2ba,#0099cd,#008ce6,#007efc,#0270e2,#0463cb,#055aba,#0555b1,#0554b0,#0558b7,#0460c5,#036ad8,#0177ef,#0084f6,#0092db,#009fc2,#00aaab,#00b398,#00b98d,#00ba8b,#00b693,#00ada6,#009ec2,#008de5,#017af4,#0368d3,#0558b7,#064ca1,#074594,#08428f,#084390,#074798,#064da3,#0555b2,#045ec2,#0367d2,#0270e2,#0179f2,#0081fe,#0088f0,#008ee3,#0094d8,#0098ce,#009cc6,#009fc1);-webkit-mask-image:radial-gradient(closest-side,#000 98.15%,transparent 100%)"></div><div class="d" style="left:1487.8px;top:837.9px;width:517.5px;height:517.5px;background:conic-gradient(#0095d6,#0096d3,#0095d5,#0092db,#008de4,#0087f1,#0080ff,#0179f2,#0272e6,#026cdb,#0368d3,#0365ce,#0463ca,#0462c9,#0463ca,#0365cf,#0369d6,#0270e1,#0178f0,#0081fd,#008be9,#0094d7,#009cc6,#00a2ba,#00a6b4,#00a6b3,#00a4b7,#009fc1,#0097d0,#008ee3,#0084f7,#0179f3,#0270e2,#0369d5,#0365cd,#0364cd,#0368d3,#026fe0,#0178f1,#0083f9,#008ee3,#0097d0,#009fc1,#00a4b8,#00a5b5,#00a3b9,#009dc5,#0093d8,#0088f0,#017af4,#026ddc,#0461c6,#0558b6,#0653ad,#0652ad,#0557b4,#045fc3,#0369d6,#0176ed,#0084f8,#0091dd,#009ec3,#00a9ad,#00b19c,#00b692,#00b791,#00b29b,#00a8ae,#009aca,#0089ec,#0177ef,#0365cf,#0556b4,#074b9f,#084492,#08418d,#08428e,#074595,#074ba0,#0652ad,#055abb,#0463ca,#036bd8,#0272e6,#0179f2,#007ffe,#0085f5,#008aeb,#008ee2,#0092db,#0095d6);-webkit-mask-image:radial-gradient(closest-side,#000 98.11%,transparent 100%)"></div><div class="d" style="left:1492.6px;top:842.7px;width:507.7px;height:507.7px;background:conic-gradient(#008bea,#008ce7,#008be8,#0089ed,#0085f5,#007ffe,#0179f2,#0272e6,#036cdb,#0366d1,#0462c9,#045fc3,#045dc0,#055cbe,#045cbf,#045fc3,#0462ca,#0368d4,#0270e1,#0178f1,#0082fc,#008bea,#0093da,#0099ce,#009cc6,#009dc4,#009cc7,#0097d0,#0090de,#0088ef,#007efb,#0274e9,#036bd9,#0464cc,#0460c5,#045fc4,#0463ca,#0369d6,#0273e7,#007dfa,#0088f0,#0091dd,#0099ce,#009dc4,#009fc1,#009dc5,#0097d0,#008ee2,#0083f9,#0176ed,#0369d6,#045ec2,#0556b2,#0651aa,#0651aa,#0555b2,#045ec1,#0368d5,#0175ec,#0083f9,#0090de,#009dc5,#00a7b0,#00afa0,#00b398,#00b399,#00aea3,#00a4b6,#0096d2,#0086f3,#0174ea,#0463cb,#0555b1,#074a9e,#084391,#08408c,#08418d,#074493,#07499c,#0650a8,#0557b5,#045ec2,#0365cf,#036cda,#0272e5,#0177ef,#007cf8,#0081fe,#0085f5,#0088ef,#008bea);-webkit-mask-image:radial-gradient(closest-side,#000 98.08%,transparent 100%)"></div><div class="d" style="left:1497.5px;top:847.6px;width:498.0px;height:498.0px;background:conic-gradient(#0081fd,#0082fb,#0082fb,#0080ff,#007cf8,#0177ef,#0271e5,#036bda,#0365cf,#0460c6,#055cbe,#0559b8,#0557b4,#0556b2,#0556b3,#0558b6,#055bbc,#0460c6,#0367d2,#026fe1,#0178f1,#0081fd,#0089ed,#008fe1,#0093d9,#0094d6,#0093d8,#008fe0,#0089ec,#0081fd,#0178f0,#026edf,#0366cf,#045fc3,#055bbc,#055bbc,#045ec1,#0364cd,#026ddd,#0177ef,#0082fc,#008be9,#0092da,#0097d0,#0099cd,#0097d1,#0092db,#0089ec,#007ffd,#0273e7,#0366d1,#055cbe,#0654b0,#0650a8,#0650a9,#0555b1,#045dbf,#0368d3,#0175ea,#0082fb,#008fe0,#009bc8,#00a6b3,#00ada5,#00b09e,#00b0a0,#00aaab,#00a0be,#0093da,#0083fa,#0272e5,#0462c8,#0654af,#07499c,#084390,#08408b,#08408b,#084391,#074899,#064da4,#0654af,#055aba,#0460c5,#0366cf,#036bd9,#026fe1,#0274e9,#0178f0,#017bf7,#007ffd,#0081fd);-webkit-mask-image:radial-gradient(closest-side,#000 98.04%,transparent 100%)"></div><div class="d" style="left:1502.4px;top:852.5px;width:488.2px;height:488.2px;background:conic-gradient(#0178f0,#0179f2,#0179f2,#0177ef,#0274e9,#026fe1,#036ad7,#0364cd,#045fc3,#055aba,#0555b2,#0652ac,#0650a8,#064fa6,#064fa7,#0651a9,#0654af,#0558b8,#045fc3,#0367d1,#026fe0,#0177ef,#007ffd,#0085f5,#0089ec,#008be8,#008bea,#0087f0,#0082fc,#017af4,#0271e5,#0368d5,#0460c6,#055aba,#0556b4,#0556b3,#0559b9,#045fc4,#0368d3,#0272e5,#017cf7,#0085f5,#008ce6,#0091dc,#0093d9,#0092dc,#008de5,#0085f5,#017bf5,#026fe1,#0464cc,#055aba,#0653ad,#064fa7,#0650a8,#0554b0,#045cbf,#0367d2,#0274e9,#0081fc,#008ee2,#009acb,#00a4b7,#00aaaa,#00ada4,#00aca7,#00a6b2,#009cc6,#008fe1,#0080fe,#026fe1,#0460c5,#0653ae,#07499b,#084290,#083f8a,#083f8a,#08428f,#074696,#074b9f,#0651a9,#0556b3,#055bbd,#0460c5,#0364cd,#0368d4,#036cdb,#026fe1,#0272e7,#0175ec,#0178f0);-webkit-mask-image:radial-gradient(closest-side,#000 98.00%,transparent 100%)"></div><div class="d" style="left:1507.3px;top:857.4px;width:478.4px;height:478.4px;background:conic-gradient(#026edf,#026fe1,#026fe1,#026edf,#036bd9,#0367d2,#0462c9,#045dc0,#0558b6,#0653ae,#064fa6,#074ca0,#07499c,#07489a,#07489a,#07499c,#074ca1,#0650a9,#0556b4,#045ec1,#0365cf,#026ede,#0175eb,#017bf6,#0080fe,#0082fb,#0082fc,#007ffd,#017af4,#0273e7,#036bd9,#0463ca,#055bbc,#0555b1,#0652ab,#0651ab,#0554b0,#055abb,#0463ca,#026cdb,#0176ed,#007ffe,#0087f2,#008ce8,#008ee4,#008ce6,#0088ef,#0081fe,#0177ef,#026cdc,#0462c9,#0559b8,#0652ac,#064fa6,#0650a8,#0554b0,#045cbf,#0367d2,#0273e8,#0081fe,#008de4,#0099ce,#00a2bb,#00a8af,#00aaaa,#00a9ad,#00a3b9,#0099cd,#008ce7,#007dfa,#026ede,#045fc3,#0652ac,#07499b,#084290,#083f8a,#083f8a,#08418d,#074594,#07499c,#064ea4,#0652ad,#0557b4,#055bbb,#045ec2,#0461c7,#0364cd,#0367d2,#036ad7,#026cdc,#026edf);-webkit-mask-image:radial-gradient(closest-side,#000 97.96%,transparent 100%)"></div><div class="d" style="left:1512.2px;top:862.3px;width:468.7px;height:468.7px;background:conic-gradient(#0366cf,#0367d1,#0367d1,#0365cf,#0463ca,#045fc4,#055bbb,#0556b3,#0651aa,#064ca1,#07489a,#074594,#084290,#08418d,#08418d,#08428e,#074493,#07489a,#064ea4,#0554b0,#045cbe,#0464cc,#036bd9,#0271e4,#0176ed,#0178f1,#0179f1,#0176ed,#0272e5,#036cda,#0364cd,#045dbf,#0556b2,#0650a9,#064da3,#064da3,#0650a8,#0556b3,#045ec1,#0367d2,#0271e3,#017af4,#0081fd,#0086f3,#0088ee,#0088f0,#0084f8,#007df9,#0274e9,#036ad7,#0460c6,#0558b6,#0652ab,#064fa6,#0650a8,#0555b1,#045dbf,#0367d2,#0273e8,#0080ff,#008ce6,#0097d0,#00a0bf,#00a5b4,#00a7b0,#00a5b4,#009fc0,#0096d3,#0089ed,#017bf6,#026cdb,#045ec2,#0652ac,#07499b,#084390,#083f8a,#083f89,#08408c,#084392,#074798,#074ba0,#064fa7,#0653ad,#0556b3,#0558b7,#055bbc,#045dc0,#0460c4,#0462c9,#0464cc,#0366cf);-webkit-mask-image:radial-gradient(closest-side,#000 97.92%,transparent 100%)"></div><div class="d" style="left:1517.0px;top:867.1px;width:458.9px;height:458.9px;background:conic-gradient(#045dc1,#045ec2,#045ec2,#045dc0,#055bbb,#0557b5,#0653ae,#064ea5,#074a9d,#074595,#08418e,#083e88,#093b83,#093a80,#09397f,#093a81,#083c85,#08408c,#074595,#074ca0,#0653ad,#055abb,#0461c7,#0367d3,#026cdb,#026fe0,#026fe1,#026ede,#036ad7,#0364cd,#045ec1,#0557b4,#0650a9,#074ba0,#07499b,#07499c,#074ca1,#0652ab,#0559b9,#0462ca,#036cdb,#0175eb,#007cf8,#0081fd,#0084f8,#0083f9,#0080fe,#0179f3,#0271e4,#0368d4,#045fc4,#0557b6,#0652ac,#0650a8,#0651aa,#0555b2,#045dc0,#0368d3,#0273e8,#0080ff,#008ce8,#0096d3,#009ec3,#00a3b8,#00a5b5,#00a2ba,#009cc6,#0093d9,#0087f1,#0179f3,#036bd9,#045ec1,#0652ac,#07499c,#084391,#08408b,#083f8a,#08408c,#084390,#074696,#07499c,#064ca1,#064fa6,#0651ab,#0653ae,#0555b1,#0557b5,#0559b8,#055abb,#045cbe,#045dc1);-webkit-mask-image:radial-gradient(closest-side,#000 97.87%,transparent 100%)"></div><div class="d" style="left:1521.9px;top:872.0px;width:449.1px;height:449.1px;background:conic-gradient(#0556b3,#0556b4,#0556b3,#0555b1,#0653ad,#064fa7,#074ca0,#074798,#084390,#083e88,#093a81,#09377b,#093476,#0a3373,#0a3272,#0a3373,#093477,#09387d,#083d86,#084390,#07499d,#0651a9,#0558b6,#045ec1,#0462c9,#0365cf,#0366d0,#0365ce,#0462c9,#045dc0,#0557b5,#0651aa,#074ba0,#074798,#074594,#074595,#07489a,#064ea4,#0555b2,#045ec2,#0367d3,#0270e2,#0177f0,#007df9,#007ffe,#007ffd,#007cf8,#0176ee,#026fe1,#0367d2,#045fc3,#0558b6,#0653ad,#0651aa,#0652ac,#0557b5,#045fc3,#0368d5,#0274e9,#0080ff,#008be9,#0095d5,#009cc6,#00a1bc,#00a2ba,#00a0bf,#009acb,#0091de,#0085f5,#0178f0,#036ad8,#045ec1,#0653ad,#074a9e,#074493,#08418d,#08408b,#08418c,#084290,#074594,#074799,#074a9d,#074ca1,#064da4,#064fa6,#0650a8,#0651aa,#0652ac,#0653af,#0555b1,#0556b3);-webkit-mask-image:radial-gradient(closest-side,#000 97.83%,transparent 100%)"></div><div class="d" style="left:1526.8px;top:876.9px;width:439.4px;height:439.4px;background:conic-gradient(#064fa6,#064fa7,#064fa6,#064da4,#074ba0,#07489a,#074493,#08408c,#093c84,#09377c,#0a3475,#0a306f,#0a2d6a,#0b2c67,#0b2b65,#0b2b66,#0a2d69,#0a306f,#093477,#093a81,#08408c,#074799,#064ea5,#0554b0,#0559b8,#045cbe,#045dc0,#045dbf,#055aba,#0556b3,#0651aa,#074ba0,#074697,#084390,#08418d,#08428e,#074594,#074a9e,#0652ac,#055abb,#0464cc,#026cdb,#0273e8,#0179f2,#017cf7,#017cf7,#0179f3,#0174ea,#026ede,#0366d0,#045fc3,#0558b8,#0554b0,#0653ad,#0554b0,#0559b8,#0460c6,#036ad7,#0175eb,#0080ff,#008be9,#0094d7,#009bc8,#009fc0,#00a0be,#009ec3,#0098cf,#008fe1,#0084f8,#0177ef,#036ad8,#045ec2,#0654af,#074ca0,#074696,#084290,#08418d,#08418e,#084390,#074493,#074697,#07489a,#07499c,#074a9e,#074b9f,#074ba0,#074ca1,#064ca2,#064da3,#064ea5,#064fa6);-webkit-mask-image:radial-gradient(closest-side,#000 97.78%,transparent 100%)"></div><div class="d" style="left:1531.7px;top:881.8px;width:429.6px;height:429.6px;background:conic-gradient(#07489b,#07489b,#074899,#074697,#074493,#08418e,#083e87,#093980,#093578,#0a3170,#0a2d69,#0b2a63,#0b275e,#0b255a,#0c2459,#0c2459,#0b255c,#0b2861,#0a2c68,#0a3272,#09387d,#083e89,#074594,#074b9f,#0650a8,#0653ae,#0555b1,#0554b0,#0652ad,#064fa7,#074b9f,#074696,#08428f,#083f89,#083e87,#083f89,#08428f,#074899,#064fa6,#0557b6,#0460c6,#0369d5,#0270e2,#0175ec,#0178f1,#0179f2,#0177ef,#0273e7,#026ddc,#0366d0,#045fc4,#055aba,#0556b4,#0555b1,#0557b5,#055bbd,#0463ca,#036cda,#0176ed,#0081fd,#008be9,#0094d7,#009aca,#009ec2,#009fc1,#009cc7,#0096d2,#008ee4,#0083f9,#0177ef,#036bd9,#045fc4,#0556b2,#064ea4,#07489a,#074493,#084390,#084290,#084391,#074493,#074696,#074797,#074799,#074899,#074899,#074899,#074899,#074899,#07489a,#07489a,#07489b);-webkit-mask-image:radial-gradient(closest-side,#000 97.73%,transparent 100%)"></div><div class="d" style="left:1536.6px;top:886.7px;width:419.8px;height:419.8px;background:conic-gradient(#084391,#084390,#08428e,#08408c,#083e88,#093b82,#09377c,#0a3374,#0a2f6d,#0b2b65,#0b275e,#0c2358,#0c2052,#0c1e4f,#0c1d4d,#0c1d4d,#0c1e4f,#0c2153,#0b255a,#0b2a63,#0a306e,#093679,#083c85,#08428f,#074798,#074a9e,#064ca2,#064da2,#074ba0,#07499b,#074595,#08418e,#083e87,#093b83,#093b82,#083c85,#08408b,#074595,#064da2,#0555b1,#045ec1,#0366d0,#026ddd,#0273e7,#0176ed,#0177ee,#0175ec,#0272e5,#026ddc,#0367d2,#0461c7,#045cbe,#0559b9,#0558b7,#055aba,#045fc3,#0365cf,#026edf,#0178f1,#0082fa,#008ce7,#0094d7,#009acb,#009dc4,#009ec3,#009bc9,#0095d4,#008de5,#0083f9,#0178f0,#026cdb,#0461c8,#0558b6,#0650a9,#074b9f,#074798,#074595,#074493,#074594,#074595,#074696,#074697,#074697,#074696,#074595,#074594,#074493,#084492,#084391,#084391,#084391);-webkit-mask-image:radial-gradient(closest-side,#000 97.67%,transparent 100%)"></div><div class="d" style="left:1541.5px;top:891.6px;width:410.1px;height:410.1px;background:conic-gradient(#083e88,#083d87,#083c85,#093b82,#09387d,#093578,#0a3171,#0a2d6a,#0b2962,#0b255b,#0c2154,#0c1d4d,#0d1a48,#0d1844,#0d1741,#0d1741,#0d1843,#0d1a47,#0c1e4e,#0c2256,#0b2860,#0a2e6b,#093476,#093a80,#083f89,#084290,#074594,#074595,#074594,#084390,#08408b,#083d86,#093a81,#09397e,#09397e,#093a81,#083e88,#084492,#074ba0,#0653ae,#055cbe,#0364cd,#036bda,#0271e4,#0174ea,#0176ec,#0175eb,#0272e5,#026ddd,#0368d4,#0463cb,#045fc4,#045cbf,#055cbe,#045ec2,#0462ca,#0369d6,#0271e5,#017bf6,#0084f6,#008de4,#0095d5,#009aca,#009dc4,#009ec4,#009bc9,#0095d4,#008de4,#0084f8,#0179f2,#026edf,#0464cc,#055bbc,#0653af,#064ea5,#074a9e,#07489a,#074798,#074797,#074797,#074797,#074697,#074696,#074594,#084492,#084390,#08418e,#08408c,#08408b,#083f8a,#083e88);-webkit-mask-image:radial-gradient(closest-side,#000 97.62%,transparent 100%)"></div><div class="d" style="left:1546.3px;top:896.4px;width:400.3px;height:400.3px;background:conic-gradient(#093b82,#093980,#09387d,#093679,#0a3374,#0a306f,#0a2c68,#0b2861,#0b2459,#0c2052,#0d1c4a,#0d1844,#0d153e,#0e133a,#0e1137,#0e1137,#0e1238,#0e143c,#0d1742,#0d1c4a,#0c2153,#0b275e,#0a2d68,#0a3273,#09377b,#093b82,#083e87,#083f89,#083f89,#083d87,#093b83,#09397f,#09377c,#09367a,#09377b,#09397f,#083d87,#084391,#074a9e,#0652ad,#055bbc,#0463cb,#036ad8,#0270e2,#0274e9,#0175ec,#0175eb,#0273e7,#026fe0,#036bd8,#0366d1,#0463ca,#0461c6,#0461c6,#0463ca,#0367d2,#026ddd,#0175ec,#007efc,#0087f1,#008fe0,#0096d2,#009bc8,#009ec3,#009ec3,#009bc8,#0096d3,#008ee2,#0085f4,#017bf6,#0271e4,#0367d2,#045ec3,#0557b6,#0652ac,#064ea5,#074ca0,#074a9e,#07499c,#07499b,#07489a,#074799,#074697,#074594,#084391,#08418e,#08408b,#083e88,#083d86,#093c84,#093b82);-webkit-mask-image:radial-gradient(closest-side,#000 97.56%,transparent 100%)"></div><div class="d" style="left:1551.2px;top:901.3px;width:390.6px;height:390.6px;background:conic-gradient(#09387d,#09367a,#093476,#0a3272,#0a2f6d,#0b2c67,#0b2860,#0b2459,#0c2051,#0d1b4a,#0d1742,#0e143b,#0e1036,#0e0e31,#0e0c2e,#0f0c2d,#0e0d2f,#0e0e32,#0e1137,#0d163f,#0d1b48,#0c2052,#0b265c,#0b2b66,#0a306f,#093476,#09377c,#09397f,#09397f,#09397f,#09387c,#09367a,#093578,#093578,#09367a,#09397e,#083d86,#084391,#074a9e,#0652ad,#055bbc,#0463cb,#036ad7,#0270e2,#0274e9,#0176ed,#0176ed,#0174ea,#0271e5,#026ede,#036ad8,#0367d2,#0366d0,#0366d0,#0368d4,#026cdc,#0272e6,#017af4,#0082fb,#008aea,#0092db,#0099ce,#009dc4,#00a0c0,#009fc0,#009dc6,#0097d0,#0090de,#0088f0,#007efc,#0174ea,#036bd9,#0463cb,#045cbe,#0557b4,#0653ad,#0650a8,#064ea5,#064da3,#074ca1,#074b9f,#07499c,#074899,#074696,#084492,#08418e,#083f8a,#083d86,#093b83,#093a80,#09387d);-webkit-mask-image:radial-gradient(closest-side,#000 97.50%,transparent 100%)"></div><div class="d" style="left:1556.1px;top:906.2px;width:380.8px;height:380.8px;background:conic-gradient(#09367a,#093476,#0a3272,#0a2f6d,#0a2c68,#0b2961,#0b255a,#0c2153,#0c1c4b,#0d1843,#0e143b,#0e1035,#0e0d2f,#0f0a2a,#0f0827,#0f0826,#0f0826,#0f0a29,#0e0c2f,#0e1035,#0d153e,#0d1a48,#0c2052,#0b255b,#0b2a64,#0a2f6c,#0a3272,#0a3476,#093577,#093578,#093577,#093476,#0a3475,#093476,#09367a,#09397f,#083e88,#084493,#074ba0,#0653ae,#055cbd,#0464cc,#036bd9,#0271e3,#0175eb,#0177ef,#0178f0,#0177ee,#0175ea,#0272e5,#026fe0,#026ddc,#036cda,#026cdb,#026edf,#0272e7,#0178f1,#007ffe,#0087f1,#008fe2,#0096d3,#009cc8,#00a0bf,#00a2bb,#00a2bc,#009fc1,#009acb,#0093d9,#008be9,#0082fb,#0179f2,#0270e2,#0368d4,#0462c8,#045cbf,#0558b7,#0555b2,#0653ae,#0651ab,#0650a8,#064ea5,#064ca2,#074a9e,#074899,#074594,#08428f,#083f8a,#083d86,#093b82,#09387e,#09367a);-webkit-mask-image:radial-gradient(closest-side,#000 97.44%,transparent 100%)"></div><div class="d" style="left:1561.0px;top:911.1px;width:371.0px;height:371.0px;background:conic-gradient(#093679,#0a3374,#0a306f,#0a2d6a,#0b2a64,#0b265d,#0c2256,#0c1e4e,#0d1a46,#0d153e,#0e1136,#0e0d2f,#0f0a29,#0f0724,#0f0521,#0f0420,#0f0420,#0f0623,#0f0827,#0e0c2e,#0e1136,#0d163f,#0d1b49,#0c2053,#0b255c,#0b2a63,#0a2d6a,#0a306e,#0a3171,#0a3273,#0a3373,#0a3374,#0a3375,#093577,#09377b,#093a81,#083f8a,#074696,#064da3,#0555b2,#045dc1,#0365cf,#026ddc,#0273e7,#0177ef,#017af4,#017bf6,#017af5,#0179f2,#0177ee,#0175ea,#0273e7,#0272e6,#0273e8,#0175ec,#0179f3,#007ffd,#0085f4,#008de6,#0094d8,#009aca,#00a0c0,#00a3b8,#00a5b5,#00a5b5,#00a2bb,#009dc4,#0097d1,#008fe1,#0087f1,#007efc,#0176ed,#026edf,#0368d4,#0463ca,#045fc3,#055bbd,#0559b8,#0557b4,#0555b1,#0652ad,#0650a8,#064da4,#074a9e,#074799,#074493,#08418d,#083e88,#093b82,#09387e,#093679);-webkit-mask-image:radial-gradient(closest-side,#000 97.37%,transparent 100%)"></div><div class="d" style="left:1565.9px;top:916.0px;width:361.3px;height:361.3px;background:conic-gradient(#09367a,#0a3375,#0a306f,#0a2d69,#0b2962,#0b255b,#0c2153,#0c1c4b,#0d1843,#0e133b,#0e0f33,#0f0b2c,#0f0725,#0f0520,#10031d,#10021b,#10021b,#10031e,#0f0522,#0f0928,#0e0d30,#0e1239,#0d1742,#0c1d4c,#0c2255,#0b265d,#0b2a64,#0a2d69,#0a2f6d,#0a306f,#0a3171,#0a3273,#0a3475,#093679,#09397e,#083d85,#08428f,#07489b,#0650a8,#0558b7,#0460c6,#0368d4,#026fe1,#0175ec,#017af4,#007dfa,#007ffd,#007ffd,#007efc,#007df9,#017bf6,#017af4,#017af4,#017bf6,#007dfa,#0081fd,#0086f2,#008ce6,#0093d9,#009acc,#00a0c0,#00a4b6,#00a8af,#00a9ac,#00a9ad,#00a6b2,#00a2bb,#009cc8,#0094d6,#008ce6,#0084f6,#007df9,#0175ec,#026fe1,#036ad7,#0366d0,#0462c9,#045fc4,#045dbf,#055abb,#0558b6,#0555b1,#0652ac,#064ea5,#074b9f,#074798,#084392,#08408b,#083d85,#093980,#09367a);-webkit-mask-image:radial-gradient(closest-side,#000 97.30%,transparent 100%)"></div><div class="d" style="left:1570.8px;top:920.8px;width:351.5px;height:351.5px;background:conic-gradient(#09387d,#093577,#0a3170,#0a2d6a,#0b2963,#0b255b,#0c2153,#0d1c4b,#0d1742,#0e133a,#0e0e32,#0f0a2a,#0f0724,#10041f,#10021b,#100019,#100019,#10011b,#10041f,#0f0724,#0f0b2c,#0e1034,#0d153d,#0d1a47,#0c1f50,#0c2458,#0b285f,#0b2b65,#0a2e6a,#0a306e,#0a3171,#0a3374,#093578,#09387d,#093b83,#08408b,#074595,#064ca1,#0654af,#055cbe,#0364cd,#036cdb,#0273e8,#0179f3,#007efc,#0082fc,#0084f7,#0084f6,#0084f6,#0083f8,#0083fa,#0082fb,#0082fb,#0083f8,#0086f3,#008aeb,#008fe2,#0094d6,#009aca,#00a0be,#00a6b3,#00aaaa,#00ada4,#00aea2,#00aea3,#00aba8,#00a7b1,#00a1bc,#009bca,#0093d9,#008ce8,#0084f7,#007dfa,#0177ef,#0272e6,#026ede,#036ad7,#0367d2,#0464cc,#0461c7,#045ec2,#055bbc,#0557b5,#0653ae,#064fa7,#074ba0,#074798,#084391,#083f8a,#093c84,#09387d);-webkit-mask-image:radial-gradient(closest-side,#000 97.22%,transparent 100%)"></div><div class="d" style="left:1575.6px;top:925.7px;width:341.7px;height:341.7px;background:conic-gradient(#093b83,#09377b,#0a3374,#0a2f6d,#0b2b65,#0b265d,#0c2254,#0c1d4c,#0d1843,#0e133a,#0e0f32,#0f0a2b,#0f0724,#10041f,#10021b,#100019,#100018,#10011a,#10031d,#0f0623,#0f0a2a,#0e0e32,#0e133b,#0d1844,#0c1d4d,#0c2256,#0b265d,#0b2a64,#0a2d6a,#0a306f,#0a3373,#093578,#09387c,#093b82,#083f8a,#084493,#074a9d,#0651aa,#0559b8,#0461c6,#0369d5,#0271e4,#0178f1,#007efc,#0084f8,#0087f0,#008aeb,#008be9,#008be8,#008be9,#008be9,#008be9,#008be8,#008de5,#008fe0,#0093d9,#0098cf,#009dc5,#00a3ba,#00a8af,#00ada5,#00b19d,#00b497,#00b595,#00b497,#00b19c,#00ada4,#00a8ae,#00a2bb,#009bc9,#0094d8,#008de6,#0086f3,#0080fe,#017bf6,#0177ee,#0273e7,#026fe1,#036cdb,#0369d5,#0365cf,#0462c8,#045ec1,#0559b9,#0555b1,#0650a9,#074ca1,#074899,#084391,#083f8a,#093b83);-webkit-mask-image:radial-gradient(closest-side,#000 97.14%,transparent 100%)"></div><div class="d" style="left:1580.5px;top:930.6px;width:332.0px;height:332.0px;background:conic-gradient(#083f8a,#093b82,#09367a,#0a3272,#0a2d6a,#0b2961,#0c2458,#0c1f4f,#0d1a46,#0d153d,#0e1035,#0f0c2d,#0f0827,#0f0521,#10031d,#10011a,#10011a,#10021b,#10041f,#0f0624,#0f0a2a,#0e0e32,#0e133b,#0d1844,#0c1d4d,#0c2256,#0b275e,#0b2b65,#0a2e6c,#0a3272,#093577,#09387d,#093b83,#083f8a,#084492,#07499c,#064fa7,#0557b4,#045ec2,#0367d1,#026fe0,#0177ee,#007efc,#0084f6,#008aeb,#008ee3,#0091dd,#0092da,#0093d8,#0094d7,#0094d7,#0094d6,#0095d4,#0097d1,#009acb,#009dc4,#00a2bb,#00a7b2,#00aca7,#00b19d,#00b594,#00b98d,#00bb89,#00bc87,#00bb88,#00b98d,#00b595,#00b09f,#00aaab,#00a3b8,#009dc5,#0096d3,#0090df,#008aeb,#0085f5,#0080fe,#007cf8,#0179f2,#0175eb,#0271e4,#026dde,#0369d6,#0365ce,#0460c6,#055cbd,#0557b5,#0652ac,#064da3,#07489b,#084492,#083f8a);-webkit-mask-image:radial-gradient(closest-side,#000 97.06%,transparent 100%)"></div><div class="d" style="left:1585.4px;top:935.5px;width:322.2px;height:322.2px;background:conic-gradient(#074594,#08408b,#093b83,#09367a,#0a3171,#0a2c68,#0b275e,#0c2255,#0c1d4c,#0d1843,#0e133a,#0e0f32,#0f0b2b,#0f0826,#0f0521,#10041f,#10031e,#10041f,#0f0622,#0f0827,#0f0c2d,#0e1035,#0d143d,#0d1946,#0c1f4f,#0c2458,#0b2861,#0a2d69,#0a3170,#093577,#09387d,#093c84,#08408b,#074493,#07499d,#064fa7,#0556b3,#045dc0,#0365cf,#026ddd,#0176ec,#007efb,#0085f5,#008ce8,#0091dd,#0095d4,#0099cd,#009bc9,#009cc6,#009dc4,#009ec3,#009fc1,#00a0be,#00a2ba,#00a5b5,#00a8ae,#00aca6,#00b19d,#00b693,#00ba8a,#00be82,#00c17c,#00c378,#00c476,#00c378,#00c17d,#00bd84,#00b98d,#00b398,#00ada5,#00a7b1,#00a0be,#009aca,#0095d5,#0090e0,#008be9,#0087f1,#0083f9,#007ffd,#017bf6,#0177ee,#0272e6,#026ede,#0369d5,#0464cc,#045ec2,#0559b9,#0654af,#064fa6,#074a9d,#074594);-webkit-mask-image:radial-gradient(closest-side,#000 96.97%,transparent 100%)"></div><div class="d" style="left:1590.3px;top:940.4px;width:312.4px;height:312.4px;background:conic-gradient(#074ba0,#074697,#08418d,#093c84,#09367a,#0a3171,#0b2c67,#0b265d,#0c2154,#0d1c4a,#0d1742,#0e133a,#0e0f32,#0f0b2d,#0f0928,#0f0725,#0f0724,#0f0725,#0f0928,#0f0b2c,#0e0f32,#0e133a,#0d1742,#0c1c4b,#0c2154,#0b265d,#0b2b66,#0a306e,#093477,#09397e,#083d86,#08418e,#074696,#074b9f,#0650a9,#0557b4,#045ec1,#0365ce,#026ddd,#0175ec,#007efb,#0086f4,#008de5,#0094d7,#0099cc,#009ec3,#00a2bb,#00a4b6,#00a6b2,#00a8af,#00a9ad,#00aaaa,#00aca7,#00aea3,#00b19d,#00b496,#00b88f,#00bc86,#00c17d,#00c575,#00c86e,#00cb68,#00cd65,#00cd64,#00cc66,#00ca6a,#00c771,#00c27a,#00bd84,#00b790,#00b19c,#00aba8,#00a6b3,#00a0be,#009bc9,#0096d2,#0092db,#008ee3,#008aec,#0085f4,#0081fd,#007cf8,#0177ef,#0272e6,#026cdc,#0367d2,#0461c7,#055cbd,#0556b3,#0651aa,#074ba0);-webkit-mask-image:radial-gradient(closest-side,#000 96.88%,transparent 100%)"></div><div class="d" style="left:1595.2px;top:945.3px;width:302.7px;height:302.7px;background:conic-gradient(#0653ae,#064ea4,#07489a,#084390,#083d86,#09377c,#0a3272,#0a2c68,#0b275e,#0c2154,#0c1c4b,#0d1843,#0e143c,#0e1136,#0e0e32,#0e0d2f,#0f0c2d,#0e0c2e,#0e0e30,#0e1035,#0e133a,#0d1741,#0d1b49,#0c2052,#0b255b,#0b2a65,#0a306e,#093577,#09397f,#083e88,#084391,#074899,#064da3,#0652ac,#0558b7,#045fc3,#0366d0,#026ede,#0176ed,#007efc,#0087f2,#008fe2,#0096d3,#009dc5,#00a3b9,#00a8af,#00aca7,#00afa1,#00b19c,#00b399,#00b595,#00b692,#00b88e,#00bb89,#00bd84,#00c17d,#00c476,#00c86e,#00cc66,#00d05e,#00d358,#00d653,#00d750,#00d74f,#00d751,#00d455,#00d15c,#00cd64,#00c86e,#00c379,#00bd84,#00b790,#00b29b,#00aca6,#00a7b0,#00a3b9,#009ec2,#009acb,#0095d4,#0091dd,#008ce7,#0087f1,#0082fc,#007cf8,#0176ee,#0270e3,#036bd8,#0365ce,#045fc3,#0559b9,#0653ae);-webkit-mask-image:radial-gradient(closest-side,#000 96.77%,transparent 100%)"></div><div class="d" style="left:1600.0px;top:950.1px;width:292.9px;height:292.9px;background:conic-gradient(#045cbf,#0556b4,#0650a9,#074b9f,#074594,#083f89,#09397f,#0a3375,#0a2e6a,#0b2861,#0c2358,#0c1f4f,#0d1b48,#0d1742,#0d153d,#0e133a,#0e1239,#0e1339,#0e143c,#0d163f,#0d1945,#0c1d4c,#0c2153,#0b265c,#0b2b65,#0a306f,#093578,#093a82,#08408b,#074594,#074a9e,#064fa7,#0555b1,#055bbc,#0461c8,#0368d4,#0270e2,#0178f0,#0080ff,#0088ef,#0090de,#0098ce,#00a0bf,#00a7b1,#00ada5,#00b29a,#00b692,#00ba8b,#00bd85,#00bf80,#00c17c,#00c378,#00c574,#00c86f,#00cb69,#00ce63,#00d15c,#00d554,#00d94d,#00dc46,#00df40,#00e13c,#00e23a,#00e339,#00e23b,#00e03f,#00dd45,#00d94d,#00d456,#00cf60,#00ca6b,#00c476,#00bf81,#00ba8b,#00b596,#00b09f,#00aba9,#00a6b2,#00a2bb,#009dc5,#0098cf,#0093da,#008de5,#0087f0,#0081fc,#017bf6,#0175eb,#026fe0,#0368d5,#0462ca,#045cbf);-webkit-mask-image:radial-gradient(closest-side,#000 96.67%,transparent 100%)"></div><div class="d" style="left:1604.9px;top:955.0px;width:283.2px;height:283.2px;background:conic-gradient(#0367d1,#0460c6,#055aba,#0654af,#064ea4,#074899,#08428e,#093c84,#093679,#0a3170,#0b2b66,#0b275e,#0c2357,#0c1f50,#0c1d4c,#0d1b49,#0d1a47,#0d1a47,#0d1b49,#0c1d4d,#0c2052,#0c2458,#0b2860,#0a2d69,#0a3272,#09377b,#083c85,#08428f,#074799,#064da3,#0652ad,#0558b7,#045ec2,#0365cd,#036bda,#0273e7,#017af5,#0082fa,#008bea,#0093d9,#009bc8,#00a3b8,#00aba9,#00b29b,#00b88e,#00bd84,#00c27a,#00c673,#00c96c,#00cc67,#00ce62,#00d15d,#00d358,#00d653,#00d94d,#00dc47,#00df40,#00e239,#00e633,#00e92c,#00eb27,#00ed23,#00ee21,#00ee21,#00ee23,#00ec27,#00e92d,#00e534,#00e13d,#00dc46,#00d751,#00d25b,#00cc66,#00c770,#00c27a,#00bd84,#00b98d,#00b497,#00afa1,#00aaab,#00a5b5,#009fc1,#0099cc,#0093d8,#008de5,#0087f1,#0080fe,#017af4,#0273e8,#026ddc,#0367d1);-webkit-mask-image:radial-gradient(closest-side,#000 96.55%,transparent 100%)"></div><div class="d" style="left:1609.8px;top:959.9px;width:273.4px;height:273.4px;background:conic-gradient(#0272e5,#036bda,#0365ce,#045ec2,#0558b7,#0652ab,#074ba0,#074595,#08408b,#093a81,#093577,#0a306f,#0a2c68,#0b2961,#0b265d,#0b2459,#0c2358,#0c2358,#0b2459,#0b265d,#0b2962,#0a2c68,#0a306f,#093578,#093a81,#083f8a,#074594,#074b9f,#0650a9,#0556b3,#045cbe,#0462c9,#0369d5,#026fe1,#0176ee,#007efb,#0086f4,#008ee3,#0096d2,#009fc2,#00a7b1,#00afa1,#00b791,#00be83,#00c476,#00ca6b,#00cf61,#00d359,#00d652,#00d94c,#00dc46,#00df41,#00e13b,#00e436,#00e730,#00ea2a,#00ed24,#00f11d,#00f417,#00f611,#00f90d,#00fa09,#00fb08,#00fb08,#00fa09,#00f80d,#00f613,#00f21a,#00ee22,#00ea2b,#00e535,#00e03f,#00db49,#00d653,#00d15d,#00cc67,#00c771,#00c27b,#00bd85,#00b88f,#00b29a,#00aca6,#00a6b2,#00a0be,#009acb,#0093d8,#008de6,#0086f3,#007ffd,#0178f1,#0272e5);-webkit-mask-image:radial-gradient(closest-side,#000 96.43%,transparent 100%)"></div><div class="d" style="left:1614.7px;top:964.8px;width:263.6px;height:263.6px;background:conic-gradient(#007efc,#0177ef,#0271e3,#036ad7,#0463cb,#045dc0,#0557b4,#0650a9,#074a9e,#074594,#08408b,#093b82,#09377b,#0a3375,#0a3170,#0a2f6c,#0a2e6b,#0a2e6b,#0a2f6c,#0a306f,#0a3374,#09367a,#093a81,#083f8a,#084493,#07499c,#064fa6,#0555b1,#055bbb,#0461c6,#0367d2,#026ddd,#0174e9,#017bf6,#0082fa,#008aeb,#0092db,#009aca,#00a3b9,#00aba8,#00b398,#00bb88,#00c378,#00ca6a,#00d15d,#00d751,#00dc47,#00e03e,#00e436,#00e72f,#00eb29,#00ed23,#00f01e,#00f318,#00f612,#00f90c,#00fc06,#00ff00,#06ff00,#0bff00,#0fff00,#12ff00,#14ff00,#13ff00,#11ff00,#0eff00,#09ff00,#02ff00,#00fc06,#00f80e,#00f317,#00ef21,#00ea2b,#00e535,#00e03f,#00db49,#00d653,#00d15d,#00cb67,#00c672,#00c07e,#00ba8a,#00b496,#00aea3,#00a7b0,#00a1be,#009acb,#0093d9,#008ce7,#0085f5,#007efc);-webkit-mask-image:radial-gradient(closest-side,#000 96.30%,transparent 100%)"></div><div class="d" style="left:1619.6px;top:969.7px;width:253.9px;height:253.9px;background:conic-gradient(#008be8,#0084f6,#007dfa,#0177ee,#0270e2,#0369d6,#0463ca,#045dbf,#0557b4,#0651aa,#074ca1,#074798,#084391,#083f8a,#083d85,#093b82,#093a80,#093a80,#093a81,#083c84,#083e89,#08428f,#074696,#074a9e,#064fa7,#0554b0,#055aba,#0460c5,#0366d0,#026cdb,#0273e7,#017af3,#0080fe,#0088f0,#008fe0,#0097d1,#009fc0,#00a7b0,#00b09f,#00b88e,#00c17d,#00c96d,#00d05e,#00d84f,#00de42,#00e436,#00e92b,#00ee22,#00f219,#00f612,#00f90b,#00fd05,#01ff00,#07ff00,#0dff00,#13ff00,#19ff00,#1fff00,#24ff00,#28ff00,#2cff00,#2fff00,#30ff00,#30ff00,#2eff00,#2aff00,#25ff00,#1fff00,#18ff00,#10ff00,#07ff00,#00fe02,#00f90c,#00f416,#00ef20,#00ea2a,#00e534,#00e03e,#00db49,#00d554,#00cf60,#00c96c,#00c379,#00bc86,#00b693,#00afa1,#00a8af,#00a1be,#0099cc,#0092da,#008be8);-webkit-mask-image:radial-gradient(closest-side,#000 96.15%,transparent 100%)"></div><div class="d" style="left:1624.5px;top:974.6px;width:244.1px;height:244.1px;background:conic-gradient(#0099cc,#0092da,#008be9,#0084f6,#007dfa,#0177ee,#0270e2,#036ad7,#0464cc,#045ec2,#0559b8,#0554b0,#0650a9,#064da2,#074a9d,#07489a,#074798,#074798,#074799,#07499c,#074ba0,#064ea6,#0652ac,#0557b4,#055cbd,#0461c7,#0366d1,#026cdc,#0273e7,#0179f3,#0080ff,#0087f2,#008ee3,#0095d4,#009dc5,#00a5b5,#00ada5,#00b594,#00be83,#00c672,#00cf61,#00d751,#00de42,#00e633,#00ec26,#00f219,#00f80e,#00fd05,#04ff00,#0cff00,#13ff00,#1aff00,#20ff00,#27ff00,#2dff00,#33ff00,#38ff00,#3eff00,#43ff00,#47ff00,#4aff00,#4cff00,#4dff00,#4dff00,#4bff00,#48ff00,#43ff00,#3dff00,#36ff00,#2eff00,#26ff00,#1dff00,#14ff00,#0aff00,#00ff00,#00fa0a,#00f514,#00f01f,#00ea2a,#00e535,#00df41,#00d84d,#00d25a,#00cb68,#00c476,#00bd84,#00b692,#00afa1,#00a8af,#00a1be,#0099cc);-webkit-mask-image:radial-gradient(closest-side,#000 96.00%,transparent 100%)"></div><div class="d" style="left:1629.3px;top:979.4px;width:234.3px;height:234.3px;background:conic-gradient(#00a8ae,#00a1bd,#009acb,#0093d9,#008ce7,#0085f5,#007ffc,#0178f1,#0272e6,#026ddc,#0367d2,#0463ca,#045ec3,#055bbc,#0558b7,#0556b4,#0555b2,#0555b1,#0556b3,#0557b5,#0559b9,#045cbf,#0460c5,#0364cd,#0369d6,#026edf,#0174ea,#017af4,#0080fe,#0087f1,#008ee3,#0095d5,#009cc7,#00a4b8,#00aba8,#00b398,#00bc87,#00c476,#00cc65,#00d555,#00dd44,#00e534,#00ed24,#00f416,#00fb08,#04ff00,#0fff00,#19ff00,#23ff00,#2bff00,#33ff00,#3aff00,#40ff00,#47ff00,#4dff00,#53ff00,#58ff00,#5dff00,#62ff00,#66ff00,#69ff00,#6bff00,#6bff00,#6bff00,#69ff00,#66ff00,#61ff00,#5cff00,#55ff00,#4eff00,#46ff00,#3dff00,#34ff00,#2bff00,#21ff00,#17ff00,#0cff00,#02ff00,#00fa09,#00f515,#00ef21,#00e82e,#00e23b,#00db48,#00d456,#00cd65,#00c673,#00be82,#00b791,#00b0a0,#00a8ae);-webkit-mask-image:radial-gradient(closest-side,#000 95.83%,transparent 100%)"></div><div class="d" style="left:1634.2px;top:984.3px;width:224.6px;height:224.6px;background:conic-gradient(#00b88f,#00b09e,#00a9ac,#00a2ba,#009bc8,#0094d6,#008ee3,#0088f0,#0082fc,#017cf8,#0177ee,#0272e6,#026edf,#036bd8,#0368d4,#0366d0,#0365ce,#0365cd,#0365ce,#0366d1,#0369d5,#036bda,#026fe0,#0273e8,#0178f1,#007dfa,#0083f9,#0089ed,#008fe1,#0096d3,#009dc6,#00a4b7,#00aba9,#00b399,#00bb89,#00c379,#00cb69,#00d358,#00dc47,#00e436,#00ec26,#00f416,#00fc06,#08ff00,#16ff00,#22ff00,#2eff00,#38ff00,#42ff00,#4aff00,#52ff00,#5aff00,#61ff00,#67ff00,#6dff00,#73ff00,#78ff00,#7dff00,#82ff00,#85ff00,#88ff00,#8aff00,#8aff00,#8aff00,#88ff00,#85ff00,#80ff00,#7bff00,#75ff00,#6eff00,#66ff00,#5eff00,#55ff00,#4cff00,#42ff00,#38ff00,#2dff00,#23ff00,#17ff00,#0cff00,#00ff01,#00f80d,#00f21b,#00eb28,#00e436,#00dd45,#00d553,#00ce62,#00c771,#00bf80,#00b88f);-webkit-mask-image:radial-gradient(closest-side,#000 95.65%,transparent 100%)"></div><div class="d" style="left:1639.1px;top:989.2px;width:214.8px;height:214.8px;background:conic-gradient(#00c86e,#00c17d,#00b98c,#00b29a,#00aba8,#00a4b6,#009ec3,#0098cf,#0092db,#008ce7,#0087f1,#0083fa,#007ffc,#017bf6,#0179f1,#0177ee,#0175ec,#0175eb,#0176ec,#0177ef,#0179f2,#017cf7,#007ffd,#0083f9,#0088ef,#008de5,#0092da,#0098ce,#009fc1,#00a5b4,#00aca6,#00b398,#00bb89,#00c27a,#00ca6a,#00d25a,#00db49,#00e338,#00eb28,#00f417,#00fc07,#09ff00,#18ff00,#27ff00,#34ff00,#41ff00,#4dff00,#57ff00,#61ff00,#6aff00,#72ff00,#7aff00,#81ff00,#88ff00,#8eff00,#93ff00,#99ff00,#9dff00,#a1ff00,#a5ff00,#a7ff00,#a9ff00,#a9ff00,#a9ff00,#a7ff00,#a4ff00,#a0ff00,#9bff00,#95ff00,#8eff00,#86ff00,#7eff00,#76ff00,#6dff00,#63ff00,#59ff00,#4fff00,#44ff00,#39ff00,#2dff00,#21ff00,#14ff00,#06ff00,#00fb07,#00f415,#00ed24,#00e633,#00de42,#00d751,#00cf5f,#00c86e);-webkit-mask-image:radial-gradient(closest-side,#000 95.45%,transparent 100%)"></div><div class="d" style="left:1644.0px;top:994.1px;width:205.0px;height:205.0px;background:conic-gradient(#00d94d,#00d15c,#00ca6a,#00c378,#00bc86,#00b594,#00afa1,#00a9ad,#00a3b9,#009dc4,#0098ce,#0094d7,#0090df,#008de6,#008aeb,#0088ef,#0087f1,#0087f2,#0087f1,#0088ef,#008aeb,#008de5,#0090df,#0094d7,#0099ce,#009ec4,#00a3b9,#00a9ad,#00afa0,#00b693,#00bd85,#00c477,#00cb68,#00d359,#00db49,#00e339,#00eb29,#00f318,#00fb08,#09ff00,#19ff00,#29ff00,#38ff00,#46ff00,#53ff00,#60ff00,#6cff00,#77ff00,#81ff00,#8aff00,#92ff00,#9aff00,#a1ff00,#a8ff00,#aeff00,#b4ff00,#b9ff00,#bdff00,#c1ff00,#c4ff00,#c7ff00,#c8ff00,#c8ff00,#c8ff00,#c6ff00,#c3ff00,#bfff00,#baff00,#b5ff00,#aeff00,#a7ff00,#9fff00,#97ff00,#8eff00,#84ff00,#7aff00,#70ff00,#65ff00,#5aff00,#4eff00,#42ff00,#35ff00,#28ff00,#1aff00,#0cff00,#00fe03,#00f611,#00ef20,#00e82f,#00e03e,#00d94d);-webkit-mask-image:radial-gradient(closest-side,#000 95.24%,transparent 100%)"></div><div class="d" style="left:1648.9px;top:999.0px;width:195.3px;height:195.3px;background:conic-gradient(#00ea2a,#00e339,#00db48,#00d456,#00cd64,#00c771,#00c07e,#00ba8a,#00b496,#00afa0,#00aaaa,#00a6b3,#00a2bb,#009fc1,#009cc6,#009aca,#0099cc,#0099cd,#0099cc,#009aca,#009cc6,#009fc1,#00a2bb,#00a6b3,#00aaab,#00afa1,#00b496,#00ba8a,#00c07e,#00c771,#00ce63,#00d555,#00dc46,#00e437,#00eb27,#00f318,#00fb07,#09ff00,#19ff00,#29ff00,#39ff00,#48ff00,#57ff00,#65ff00,#73ff00,#7fff00,#8bff00,#96ff00,#a0ff00,#a9ff00,#b2ff00,#baff00,#c1ff00,#c8ff00,#ceff00,#d4ff00,#d9ff00,#ddff00,#e1ff00,#e4ff00,#e6ff00,#e7ff00,#e7ff00,#e7ff00,#e5ff00,#e2ff00,#deff00,#daff00,#d4ff00,#ceff00,#c7ff00,#c0ff00,#b7ff00,#afff00,#a5ff00,#9cff00,#91ff00,#87ff00,#7bff00,#70ff00,#63ff00,#57ff00,#49ff00,#3cff00,#2eff00,#1fff00,#11ff00,#02ff00,#00f90d,#00f11c,#00ea2a);-webkit-mask-image:radial-gradient(closest-side,#000 95.00%,transparent 100%)"></div><div class="d" style="left:1653.7px;top:1003.8px;width:185.5px;height:185.5px;background:conic-gradient(#00fb08,#00f416,#00ed24,#00e632,#00df40,#00d94d,#00d25a,#00cc66,#00c771,#00c17b,#00bd85,#00b88e,#00b595,#00b29b,#00afa0,#00ada4,#00aca6,#00aca7,#00aca6,#00ada4,#00afa1,#00b19c,#00b496,#00b88e,#00bc86,#00c17c,#00c672,#00cc67,#00d25a,#00d84e,#00df40,#00e632,#00ed24,#00f515,#00fc05,#0aff00,#1aff00,#2aff00,#3aff00,#4aff00,#59ff00,#68ff00,#77ff00,#85ff00,#92ff00,#9fff00,#aaff00,#b5ff00,#bfff00,#c9ff00,#d1ff00,#d9ff00,#e1ff00,#e7ff00,#edff00,#f3ff00,#f8ff00,#fcff00,#fffe00,#fffc00,#fffa00,#fff900,#fff800,#fff900,#fffb00,#fffd00,#fdff00,#f9ff00,#f4ff00,#eeff00,#e7ff00,#e0ff00,#d8ff00,#cfff00,#c6ff00,#bcff00,#b2ff00,#a8ff00,#9cff00,#91ff00,#85ff00,#78ff00,#6bff00,#5dff00,#4fff00,#41ff00,#33ff00,#24ff00,#16ff00,#07ff00,#00fb08);-webkit-mask-image:radial-gradient(closest-side,#000 94.74%,transparent 100%)"></div><div class="d" style="left:1658.6px;top:1008.7px;width:175.8px;height:175.8px;background:conic-gradient(#1cff00,#0eff00,#00ff00,#00f80e,#00f11b,#00eb28,#00e535,#00df40,#00da4b,#00d455,#00d05f,#00cc67,#00c86e,#00c574,#00c379,#00c17d,#00c07f,#00bf80,#00c07f,#00c17d,#00c27a,#00c575,#00c86f,#00cb68,#00cf60,#00d457,#00d94d,#00de42,#00e436,#00ea29,#00f11c,#00f80e,#00ff00,#0eff00,#1dff00,#2dff00,#3cff00,#4cff00,#5bff00,#6aff00,#79ff00,#88ff00,#96ff00,#a4ff00,#b1ff00,#bdff00,#c9ff00,#d4ff00,#deff00,#e7ff00,#f0ff00,#f8ff00,#ffff00,#fff800,#fff200,#ffed00,#ffe800,#ffe400,#ffe000,#ffde00,#ffdc00,#ffdb00,#ffdb00,#ffdb00,#ffdd00,#ffdf00,#ffe300,#ffe700,#ffec00,#fff200,#fff800,#ffff00,#f7ff00,#efff00,#e6ff00,#dcff00,#d2ff00,#c8ff00,#bdff00,#b1ff00,#a5ff00,#99ff00,#8cff00,#7fff00,#71ff00,#63ff00,#55ff00,#47ff00,#38ff00,#2aff00,#1cff00);-webkit-mask-image:radial-gradient(closest-side,#000 94.44%,transparent 100%)"></div><div class="d" style="left:1663.5px;top:1013.6px;width:166.0px;height:166.0px;background:conic-gradient(#3fff00,#31ff00,#24ff00,#16ff00,#0aff00,#00fe03,#00f80f,#00f21a,#00ed25,#00e82f,#00e338,#00df40,#00dc47,#00d94d,#00d751,#00d555,#00d457,#00d358,#00d457,#00d555,#00d652,#00d84e,#00db48,#00df41,#00e239,#00e731,#00ec27,#00f11c,#00f711,#00fd05,#08ff00,#16ff00,#23ff00,#32ff00,#40ff00,#4fff00,#5eff00,#6dff00,#7cff00,#8bff00,#9aff00,#a8ff00,#b6ff00,#c3ff00,#d0ff00,#dcff00,#e7ff00,#f2ff00,#fcff00,#fff900,#fff000,#ffe800,#ffe100,#ffda00,#ffd400,#ffcf00,#ffca00,#ffc600,#ffc300,#ffc100,#ffbf00,#ffbe00,#ffbe00,#ffbe00,#ffc000,#ffc200,#ffc600,#ffca00,#ffce00,#ffd400,#ffda00,#ffe100,#ffe800,#fff100,#fff900,#fcff00,#f2ff00,#e8ff00,#ddff00,#d1ff00,#c6ff00,#baff00,#adff00,#a0ff00,#93ff00,#85ff00,#77ff00,#69ff00,#5bff00,#4dff00,#3fff00);-webkit-mask-image:radial-gradient(closest-side,#000 94.12%,transparent 100%)"></div><div class="d" style="left:1668.4px;top:1018.5px;width:156.2px;height:156.2px;background:conic-gradient(#63ff00,#55ff00,#48ff00,#3bff00,#2fff00,#23ff00,#17ff00,#0cff00,#02ff00,#00fb08,#00f710,#00f318,#00f01e,#00ed24,#00eb29,#00e92c,#00e82e,#00e82f,#00e82e,#00e92c,#00ea29,#00ec25,#00ef20,#00f21a,#00f612,#00fa0a,#00ff00,#0aff00,#15ff00,#21ff00,#2dff00,#3aff00,#47ff00,#55ff00,#63ff00,#71ff00,#80ff00,#8eff00,#9dff00,#abff00,#b9ff00,#c7ff00,#d4ff00,#e1ff00,#eeff00,#f9ff00,#fff900,#ffef00,#ffe500,#ffdc00,#ffd400,#ffcc00,#ffc500,#ffbe00,#ffb800,#ffb300,#ffae00,#ffab00,#ffa700,#ffa500,#ffa300,#ffa200,#ffa200,#ffa300,#ffa400,#ffa700,#ffaa00,#ffae00,#ffb200,#ffb700,#ffbd00,#ffc400,#ffcb00,#ffd300,#ffdb00,#ffe400,#ffee00,#fff800,#fcff00,#f1ff00,#e5ff00,#d9ff00,#cdff00,#c0ff00,#b3ff00,#a6ff00,#99ff00,#8bff00,#7eff00,#70ff00,#63ff00);-webkit-mask-image:radial-gradient(closest-side,#000 93.75%,transparent 100%)"></div><div class="d" style="left:1673.3px;top:1023.4px;width:146.5px;height:146.5px;background:conic-gradient(#85ff00,#79ff00,#6cff00,#60ff00,#54ff00,#48ff00,#3dff00,#33ff00,#29ff00,#20ff00,#18ff00,#10ff00,#0aff00,#05ff00,#01ff00,#00fe03,#00fd05,#00fc05,#00fd05,#00fd03,#00ff00,#03ff00,#08ff00,#0fff00,#16ff00,#1eff00,#27ff00,#30ff00,#3bff00,#46ff00,#52ff00,#5eff00,#6bff00,#78ff00,#85ff00,#93ff00,#a1ff00,#afff00,#bdff00,#caff00,#d8ff00,#e5ff00,#f2ff00,#ffff00,#fff400,#ffe800,#ffdd00,#ffd300,#ffc900,#ffc000,#ffb800,#ffb100,#ffaa00,#ffa300,#ff9d00,#ff9800,#ff9400,#ff9000,#ff8d00,#ff8b00,#ff8900,#ff8800,#ff8800,#ff8900,#ff8a00,#ff8c00,#ff8f00,#ff9300,#ff9700,#ff9c00,#ffa200,#ffa800,#ffaf00,#ffb700,#ffbf00,#ffc800,#ffd100,#ffdb00,#ffe500,#ffef00,#fffb00,#f8ff00,#ecff00,#e0ff00,#d3ff00,#c7ff00,#baff00,#adff00,#a0ff00,#92ff00,#85ff00);-webkit-mask-image:radial-gradient(closest-side,#000 93.33%,transparent 100%)"></div><div class="d" style="left:1678.2px;top:1028.3px;width:136.7px;height:136.7px;background:conic-gradient(#a8ff00,#9cff00,#8fff00,#84ff00,#78ff00,#6dff00,#63ff00,#59ff00,#50ff00,#47ff00,#3fff00,#39ff00,#33ff00,#2eff00,#2aff00,#27ff00,#25ff00,#24ff00,#25ff00,#26ff00,#29ff00,#2cff00,#31ff00,#37ff00,#3dff00,#45ff00,#4dff00,#57ff00,#61ff00,#6bff00,#76ff00,#82ff00,#8eff00,#9bff00,#a7ff00,#b4ff00,#c2ff00,#cfff00,#dcff00,#e9ff00,#f6ff00,#fffb00,#ffef00,#ffe300,#ffd800,#ffcd00,#ffc200,#ffb800,#ffaf00,#ffa600,#ff9e00,#ff9700,#ff9000,#ff8a00,#ff8400,#ff7f00,#ff7b00,#ff7800,#ff7500,#ff7200,#ff7100,#ff7000,#ff7000,#ff7000,#ff7200,#ff7400,#ff7700,#ff7a00,#ff7e00,#ff8300,#ff8800,#ff8f00,#ff9500,#ff9c00,#ffa400,#ffad00,#ffb500,#ffbf00,#ffc900,#ffd300,#ffdd00,#ffe900,#fff400,#feff00,#f2ff00,#e6ff00,#daff00,#cdff00,#c1ff00,#b4ff00,#a8ff00);-webkit-mask-image:radial-gradient(closest-side,#000 92.86%,transparent 100%)"></div><div class="d" style="left:1683.0px;top:1033.1px;width:126.9px;height:126.9px;background:conic-gradient(#c9ff00,#beff00,#b2ff00,#a7ff00,#9cff00,#92ff00,#88ff00,#7fff00,#76ff00,#6eff00,#67ff00,#61ff00,#5bff00,#56ff00,#53ff00,#50ff00,#4eff00,#4dff00,#4eff00,#4fff00,#51ff00,#55ff00,#59ff00,#5fff00,#65ff00,#6cff00,#74ff00,#7dff00,#86ff00,#90ff00,#9aff00,#a5ff00,#b1ff00,#bdff00,#c9ff00,#d5ff00,#e1ff00,#eeff00,#faff00,#fff700,#ffeb00,#ffdf00,#ffd400,#ffc800,#ffbd00,#ffb300,#ffa900,#ff9f00,#ff9600,#ff8e00,#ff8600,#ff7f00,#ff7900,#ff7300,#ff6d00,#ff6800,#ff6400,#ff6100,#ff5e00,#ff5c00,#ff5a00,#ff5a00,#ff5900,#ff5a00,#ff5b00,#ff5d00,#ff6000,#ff6300,#ff6700,#ff6c00,#ff7100,#ff7700,#ff7d00,#ff8400,#ff8b00,#ff9300,#ff9c00,#ffa500,#ffae00,#ffb800,#ffc200,#ffcc00,#ffd700,#ffe300,#ffee00,#fffa00,#f9ff00,#edff00,#e1ff00,#d5ff00,#c9ff00);-webkit-mask-image:radial-gradient(closest-side,#000 92.31%,transparent 100%)"></div><div class="d" style="left:1687.9px;top:1038.0px;width:117.2px;height:117.2px;background:conic-gradient(#eaff00,#dfff00,#d4ff00,#caff00,#c0ff00,#b6ff00,#adff00,#a4ff00,#9cff00,#95ff00,#8eff00,#88ff00,#83ff00,#7eff00,#7bff00,#78ff00,#77ff00,#76ff00,#76ff00,#78ff00,#7aff00,#7dff00,#81ff00,#86ff00,#8cff00,#92ff00,#9aff00,#a2ff00,#abff00,#b4ff00,#beff00,#c8ff00,#d3ff00,#deff00,#e9ff00,#f4ff00,#fffe00,#fff200,#ffe700,#ffdb00,#ffd000,#ffc400,#ffb900,#ffaf00,#ffa400,#ff9b00,#ff9100,#ff8800,#ff8000,#ff7800,#ff7000,#ff6900,#ff6300,#ff5d00,#ff5800,#ff5400,#ff5000,#ff4c00,#ff4a00,#ff4800,#ff4600,#ff4500,#ff4500,#ff4600,#ff4700,#ff4900,#ff4b00,#ff4e00,#ff5200,#ff5600,#ff5b00,#ff6100,#ff6700,#ff6d00,#ff7400,#ff7c00,#ff8400,#ff8c00,#ff9500,#ff9e00,#ffa800,#ffb200,#ffbc00,#ffc700,#ffd200,#ffdd00,#ffe800,#fff300,#fffe00,#f5ff00,#eaff00);-webkit-mask-image:radial-gradient(closest-side,#000 91.67%,transparent 100%)"></div><div class="d" style="left:1692.8px;top:1042.9px;width:107.4px;height:107.4px;background:conic-gradient(#fff500,#ffff00,#f5ff00,#ebff00,#e2ff00,#d9ff00,#d0ff00,#c8ff00,#c1ff00,#baff00,#b4ff00,#aeff00,#aaff00,#a6ff00,#a3ff00,#a0ff00,#9fff00,#9eff00,#9eff00,#a0ff00,#a2ff00,#a4ff00,#a8ff00,#adff00,#b2ff00,#b8ff00,#bfff00,#c6ff00,#ceff00,#d7ff00,#e0ff00,#e9ff00,#f3ff00,#fdff00,#fff600,#ffec00,#ffe100,#ffd600,#ffcb00,#ffc000,#ffb600,#ffab00,#ffa100,#ff9700,#ff8d00,#ff8400,#ff7b00,#ff7300,#ff6b00,#ff6300,#ff5c00,#ff5600,#ff5000,#ff4a00,#ff4500,#ff4100,#ff3d00,#ff3a00,#ff3800,#ff3600,#ff3400,#ff3400,#ff3300,#ff3400,#ff3500,#ff3700,#ff3900,#ff3c00,#ff3f00,#ff4300,#ff4800,#ff4d00,#ff5300,#ff5900,#ff5f00,#ff6700,#ff6e00,#ff7600,#ff7e00,#ff8700,#ff9000,#ff9a00,#ffa300,#ffad00,#ffb700,#ffc100,#ffcc00,#ffd600,#ffe100,#ffeb00,#fff500);-webkit-mask-image:radial-gradient(closest-side,#000 90.91%,transparent 100%)"></div><div class="d" style="left:1697.7px;top:1047.8px;width:97.6px;height:97.6px;background:conic-gradient(#ffd800,#ffe100,#ffea00,#fff300,#fffb00,#fbff00,#f3ff00,#ecff00,#e5ff00,#deff00,#d9ff00,#d4ff00,#d0ff00,#ccff00,#c9ff00,#c7ff00,#c6ff00,#c5ff00,#c5ff00,#c6ff00,#c8ff00,#cbff00,#ceff00,#d2ff00,#d7ff00,#ddff00,#e3ff00,#eaff00,#f1ff00,#f9ff00,#fffd00,#fff500,#ffec00,#ffe200,#ffd900,#ffcf00,#ffc500,#ffbb00,#ffb100,#ffa700,#ff9e00,#ff9400,#ff8a00,#ff8100,#ff7800,#ff7000,#ff6700,#ff6000,#ff5800,#ff5100,#ff4a00,#ff4400,#ff3f00,#ff3a00,#ff3500,#ff3100,#ff2e00,#ff2b00,#ff2800,#ff2600,#ff2500,#ff2400,#ff2400,#ff2500,#ff2600,#ff2700,#ff2900,#ff2c00,#ff2f00,#ff3300,#ff3700,#ff3c00,#ff4100,#ff4700,#ff4d00,#ff5400,#ff5b00,#ff6200,#ff6a00,#ff7200,#ff7a00,#ff8300,#ff8c00,#ff9500,#ff9e00,#ffa800,#ffb100,#ffbb00,#ffc500,#ffce00,#ffd800);-webkit-mask-image:radial-gradient(closest-side,#000 90.00%,transparent 100%)"></div><div class="d" style="left:1702.6px;top:1052.7px;width:87.9px;height:87.9px;background:conic-gradient(#ffbc00,#ffc400,#ffcc00,#ffd400,#ffdc00,#ffe300,#ffea00,#fff100,#fff700,#fffd00,#fcff00,#f8ff00,#f4ff00,#f1ff00,#eeff00,#ecff00,#ebff00,#ebff00,#ebff00,#ecff00,#edff00,#f0ff00,#f3ff00,#f7ff00,#fbff00,#fffe00,#fff900,#fff300,#ffec00,#ffe500,#ffde00,#ffd600,#ffce00,#ffc500,#ffbd00,#ffb400,#ffab00,#ffa200,#ff9900,#ff9000,#ff8700,#ff7e00,#ff7600,#ff6d00,#ff6500,#ff5d00,#ff5600,#ff4f00,#ff4800,#ff4100,#ff3b00,#ff3600,#ff3000,#ff2c00,#ff2700,#ff2400,#ff2000,#ff1e00,#ff1b00,#ff1a00,#ff1800,#ff1800,#ff1800,#ff1800,#ff1900,#ff1a00,#ff1c00,#ff1f00,#ff2200,#ff2500,#ff2900,#ff2d00,#ff3200,#ff3700,#ff3d00,#ff4300,#ff4a00,#ff5000,#ff5800,#ff5f00,#ff6700,#ff6f00,#ff7700,#ff7f00,#ff8800,#ff9000,#ff9900,#ffa200,#ffaa00,#ffb300,#ffbc00);-webkit-mask-image:radial-gradient(closest-side,#000 88.89%,transparent 100%)"></div><div class="d" style="left:1707.4px;top:1057.5px;width:78.1px;height:78.1px;background:conic-gradient(#ffa200,#ffa900,#ffb000,#ffb700,#ffbe00,#ffc500,#ffcb00,#ffd100,#ffd600,#ffdb00,#ffe000,#ffe400,#ffe700,#ffea00,#ffec00,#ffee00,#ffef00,#ffef00,#ffef00,#ffee00,#ffed00,#ffeb00,#ffe800,#ffe500,#ffe100,#ffdd00,#ffd800,#ffd200,#ffcd00,#ffc600,#ffc000,#ffb900,#ffb200,#ffaa00,#ffa300,#ff9b00,#ff9300,#ff8b00,#ff8300,#ff7b00,#ff7300,#ff6b00,#ff6300,#ff5c00,#ff5500,#ff4d00,#ff4700,#ff4000,#ff3a00,#ff3400,#ff2e00,#ff2900,#ff2500,#ff2000,#ff1d00,#ff1900,#ff1600,#ff1400,#ff1200,#ff1000,#ff0f00,#ff0e00,#ff0e00,#ff0e00,#ff0f00,#ff1000,#ff1200,#ff1400,#ff1700,#ff1a00,#ff1e00,#ff2200,#ff2600,#ff2b00,#ff3000,#ff3500,#ff3b00,#ff4100,#ff4800,#ff4e00,#ff5500,#ff5d00,#ff6400,#ff6b00,#ff7300,#ff7b00,#ff8300,#ff8a00,#ff9200,#ff9a00,#ffa200);-webkit-mask-image:radial-gradient(closest-side,#000 87.50%,transparent 100%)"></div><div class="d" style="left:1712.3px;top:1062.4px;width:68.3px;height:68.3px;background:conic-gradient(#ff8a00,#ff9000,#ff9700,#ff9d00,#ffa300,#ffa800,#ffae00,#ffb300,#ffb800,#ffbc00,#ffc000,#ffc300,#ffc600,#ffc800,#ffca00,#ffcc00,#ffcd00,#ffcd00,#ffcd00,#ffcc00,#ffcb00,#ffc900,#ffc700,#ffc400,#ffc100,#ffbd00,#ffb900,#ffb400,#ffaf00,#ffaa00,#ffa400,#ff9e00,#ff9800,#ff9100,#ff8b00,#ff8400,#ff7d00,#ff7600,#ff6f00,#ff6800,#ff6100,#ff5a00,#ff5300,#ff4d00,#ff4600,#ff4000,#ff3a00,#ff3400,#ff2f00,#ff2900,#ff2400,#ff2000,#ff1c00,#ff1800,#ff1400,#ff1100,#ff0f00,#ff0c00,#ff0b00,#ff0900,#ff0800,#ff0800,#ff0700,#ff0800,#ff0800,#ff0a00,#ff0b00,#ff0d00,#ff0f00,#ff1200,#ff1500,#ff1900,#ff1d00,#ff2100,#ff2500,#ff2a00,#ff2f00,#ff3500,#ff3b00,#ff4100,#ff4700,#ff4d00,#ff5400,#ff5a00,#ff6100,#ff6800,#ff6f00,#ff7500,#ff7c00,#ff8300,#ff8a00);-webkit-mask-image:radial-gradient(closest-side,#000 85.71%,transparent 100%)"></div><div class="d" style="left:1717.2px;top:1067.3px;width:58.6px;height:58.6px;background:conic-gradient(#ff7400,#ff7a00,#ff7f00,#ff8400,#ff8900,#ff8e00,#ff9300,#ff9700,#ff9b00,#ff9e00,#ffa200,#ffa500,#ffa700,#ffa900,#ffab00,#ffac00,#ffad00,#ffad00,#ffad00,#ffac00,#ffab00,#ffaa00,#ffa800,#ffa500,#ffa300,#ff9f00,#ff9c00,#ff9800,#ff9400,#ff8f00,#ff8a00,#ff8500,#ff8000,#ff7a00,#ff7500,#ff6f00,#ff6900,#ff6300,#ff5d00,#ff5700,#ff5100,#ff4b00,#ff4600,#ff4000,#ff3a00,#ff3500,#ff3000,#ff2b00,#ff2600,#ff2200,#ff1d00,#ff1900,#ff1600,#ff1200,#ff0f00,#ff0d00,#ff0a00,#ff0800,#ff0700,#ff0500,#ff0500,#ff0400,#ff0400,#ff0400,#ff0500,#ff0600,#ff0700,#ff0900,#ff0b00,#ff0d00,#ff1000,#ff1300,#ff1600,#ff1a00,#ff1e00,#ff2200,#ff2700,#ff2b00,#ff3000,#ff3500,#ff3b00,#ff4000,#ff4600,#ff4b00,#ff5100,#ff5700,#ff5d00,#ff6300,#ff6800,#ff6e00,#ff7400);-webkit-mask-image:radial-gradient(closest-side,#000 83.33%,transparent 100%)"></div><div class="d" style="left:1722.1px;top:1072.2px;width:48.8px;height:48.8px;background:conic-gradient(#ff6100,#ff6500,#ff6a00,#ff6e00,#ff7200,#ff7600,#ff7a00,#ff7d00,#ff8000,#ff8300,#ff8600,#ff8800,#ff8a00,#ff8c00,#ff8d00,#ff8e00,#ff8f00,#ff8f00,#ff8f00,#ff8f00,#ff8e00,#ff8c00,#ff8b00,#ff8900,#ff8700,#ff8400,#ff8100,#ff7e00,#ff7b00,#ff7700,#ff7300,#ff6f00,#ff6a00,#ff6600,#ff6100,#ff5d00,#ff5800,#ff5300,#ff4e00,#ff4900,#ff4400,#ff3f00,#ff3b00,#ff3600,#ff3100,#ff2d00,#ff2800,#ff2400,#ff2000,#ff1d00,#ff1900,#ff1600,#ff1300,#ff1000,#ff0d00,#ff0b00,#ff0900,#ff0700,#ff0600,#ff0500,#ff0400,#ff0400,#ff0400,#ff0400,#ff0400,#ff0500,#ff0600,#ff0800,#ff0900,#ff0b00,#ff0e00,#ff1000,#ff1300,#ff1600,#ff1900,#ff1d00,#ff2100,#ff2400,#ff2900,#ff2d00,#ff3100,#ff3600,#ff3a00,#ff3f00,#ff4400,#ff4900,#ff4e00,#ff5200,#ff5700,#ff5c00,#ff6100);-webkit-mask-image:radial-gradient(closest-side,#000 80.00%,transparent 100%)"></div><div class="d" style="left:1727.0px;top:1077.1px;width:39.1px;height:39.1px;background:conic-gradient(#ff5000,#ff5300,#ff5700,#ff5a00,#ff5d00,#ff6000,#ff6300,#ff6600,#ff6900,#ff6b00,#ff6d00,#ff6f00,#ff7000,#ff7100,#ff7200,#ff7300,#ff7400,#ff7400,#ff7400,#ff7300,#ff7300,#ff7200,#ff7100,#ff6f00,#ff6d00,#ff6b00,#ff6900,#ff6700,#ff6400,#ff6100,#ff5e00,#ff5b00,#ff5700,#ff5400,#ff5000,#ff4d00,#ff4900,#ff4500,#ff4100,#ff3d00,#ff3a00,#ff3600,#ff3200,#ff2e00,#ff2b00,#ff2700,#ff2400,#ff2100,#ff1d00,#ff1a00,#ff1800,#ff1500,#ff1300,#ff1000,#ff0e00,#ff0c00,#ff0b00,#ff0a00,#ff0800,#ff0800,#ff0700,#ff0700,#ff0700,#ff0700,#ff0700,#ff0800,#ff0900,#ff0a00,#ff0b00,#ff0d00,#ff0e00,#ff1000,#ff1300,#ff1500,#ff1800,#ff1a00,#ff1d00,#ff2100,#ff2400,#ff2700,#ff2b00,#ff2e00,#ff3200,#ff3600,#ff3900,#ff3d00,#ff4100,#ff4500,#ff4800,#ff4c00,#ff5000);-webkit-mask-image:radial-gradient(closest-side,#000 75.00%,transparent 100%)"></div><div class="d" style="left:1731.9px;top:1082.0px;width:29.3px;height:29.3px;background:conic-gradient(#ff4200,#ff4400,#ff4700,#ff4900,#ff4b00,#ff4e00,#ff5000,#ff5100,#ff5300,#ff5500,#ff5600,#ff5800,#ff5900,#ff5a00,#ff5a00,#ff5b00,#ff5b00,#ff5b00,#ff5b00,#ff5b00,#ff5a00,#ff5a00,#ff5900,#ff5800,#ff5700,#ff5500,#ff5400,#ff5200,#ff5000,#ff4e00,#ff4c00,#ff4900,#ff4700,#ff4500,#ff4200,#ff3f00,#ff3d00,#ff3a00,#ff3700,#ff3500,#ff3200,#ff2f00,#ff2c00,#ff2a00,#ff2700,#ff2500,#ff2200,#ff2000,#ff1d00,#ff1b00,#ff1900,#ff1700,#ff1600,#ff1400,#ff1200,#ff1100,#ff1000,#ff0f00,#ff0e00,#ff0e00,#ff0d00,#ff0d00,#ff0d00,#ff0d00,#ff0d00,#ff0e00,#ff0e00,#ff0f00,#ff1000,#ff1100,#ff1200,#ff1400,#ff1600,#ff1700,#ff1900,#ff1b00,#ff1d00,#ff2000,#ff2200,#ff2400,#ff2700,#ff2a00,#ff2c00,#ff2f00,#ff3200,#ff3400,#ff3700,#ff3a00,#ff3c00,#ff3f00,#ff4200);-webkit-mask-image:radial-gradient(closest-side,#000 66.67%,transparent 100%)"></div><div class="d" style="left:1736.7px;top:1086.8px;width:19.5px;height:19.5px;background:conic-gradient(#ff3600,#ff3800,#ff3900,#ff3b00,#ff3c00,#ff3d00,#ff3e00,#ff4000,#ff4100,#ff4200,#ff4200,#ff4300,#ff4400,#ff4400,#ff4500,#ff4500,#ff4500,#ff4500,#ff4500,#ff4500,#ff4500,#ff4400,#ff4400,#ff4300,#ff4300,#ff4200,#ff4100,#ff4000,#ff3f00,#ff3d00,#ff3c00,#ff3b00,#ff3900,#ff3800,#ff3600,#ff3500,#ff3300,#ff3200,#ff3000,#ff2e00,#ff2d00,#ff2b00,#ff2900,#ff2800,#ff2600,#ff2500,#ff2300,#ff2200,#ff2000,#ff1f00,#ff1e00,#ff1d00,#ff1c00,#ff1b00,#ff1a00,#ff1900,#ff1800,#ff1800,#ff1700,#ff1700,#ff1600,#ff1600,#ff1600,#ff1600,#ff1600,#ff1700,#ff1700,#ff1700,#ff1800,#ff1900,#ff1a00,#ff1a00,#ff1b00,#ff1d00,#ff1e00,#ff1f00,#ff2000,#ff2200,#ff2300,#ff2500,#ff2600,#ff2800,#ff2900,#ff2b00,#ff2d00,#ff2e00,#ff3000,#ff3100,#ff3300,#ff3500,#ff3600);-webkit-mask-image:radial-gradient(closest-side,#000 50.00%,transparent 100%)"></div><div class="d" style="left:1741.6px;top:1091.7px;width:9.8px;height:9.8px;background:conic-gradient(#ff2e00,#ff2e00,#ff2f00,#ff2f00,#ff2f00,#ff3000,#ff3000,#ff3100,#ff3100,#ff3100,#ff3200,#ff3200,#ff3200,#ff3200,#ff3200,#ff3200,#ff3200,#ff3300,#ff3300,#ff3200,#ff3200,#ff3200,#ff3200,#ff3200,#ff3200,#ff3100,#ff3100,#ff3100,#ff3000,#ff3000,#ff2f00,#ff2f00,#ff2f00,#ff2e00,#ff2e00,#ff2d00,#ff2d00,#ff2c00,#ff2b00,#ff2b00,#ff2a00,#ff2a00,#ff2900,#ff2900,#ff2800,#ff2800,#ff2700,#ff2700,#ff2600,#ff2600,#ff2500,#ff2500,#ff2500,#ff2400,#ff2400,#ff2400,#ff2300,#ff2300,#ff2300,#ff2300,#ff2300,#ff2300,#ff2300,#ff2300,#ff2300,#ff2300,#ff2300,#ff2300,#ff2300,#ff2400,#ff2400,#ff2400,#ff2500,#ff2500,#ff2500,#ff2600,#ff2600,#ff2700,#ff2700,#ff2800,#ff2800,#ff2900,#ff2900,#ff2a00,#ff2a00,#ff2b00,#ff2b00,#ff2c00,#ff2c00,#ff2d00,#ff2e00);-webkit-mask-image:radial-gradient(closest-side,#000 -0.00%,transparent 100%)"></div>
<svg width="2481" height="3507" style="position:absolute;left:0;top:0">
<defs><linearGradient id="cbg" x1="0" y1="0" x2="0" y2="1"><stop offset="0" stop-color="#ff0000"/><stop offset="0.25" stop-color="#ffff00"/><stop offset="0.5" stop-color="#00ff00"/><stop offset="0.75" stop-color="#0080ff"/><stop offset="1" stop-color="#100018"/></linearGradient></defs>
<rect x="407.0" y="13.0" width="992" height="603" fill="none" stroke="#000" stroke-width="4"/><text x="472" y="63" font-size="50.4" fill="#000">Диаметр зрачка(мм)</text><text x="1065" y="63" font-size="50.4" fill="#000">5762</text><rect x="1423.0" y="13.0" width="1047" height="603" fill="none" stroke="#000" stroke-width="4"/><text x="1486.2" y="62.9" font-size="50.6" fill="#000">Файл:WFS_01012009110339966.wfs</text><text x="1488.3" y="127.1" font-size="50.4" fill="#000">Дата:</text><text x="1487.5" y="192.7" font-size="50.4" fill="#000">Время:</text><text x="1487.5" y="258.3" font-size="50.4" fill="#000">Набор полиномов</text><text x="2082.7" y="127.1" font-size="50.4" fill="#000">01.01.2009</text><text x="2084.3" y="192.5" font-size="50.4" fill="#000">11:03:39</text><text x="2082.7" y="258" font-size="50.4" fill="#000">Zernike OSA</text><rect x="188" y="642" width="82" height="910" fill="url(#cbg)"/><rect x="184" y="638" width="4" height="918" fill="#000"/><rect x="14.0" y="640.0" width="258" height="914" fill="none" stroke="#000" stroke-width="4"/><text x="67" y="669.0" font-size="26" fill="#000">0.12</text><text x="67" y="722.83" font-size="26" fill="#000">-0.03</text><text x="67" y="776.66" font-size="26" fill="#000">-0.18</text><text x="67" y="830.49" font-size="26" fill="#000">-0.34</text><text x="67" y="884.3199999999999" font-size="26" fill="#000">-0.49</text><text x="67" y="938.15" font-size="26" fill="#000">-0.64</text><text x="67" y="991.98" font-size="26" fill="#000">-0.79</text><text x="67" y="1045.81" font-size="26" fill="#000">-0.95</text><text x="67" y="1099.6399999999999" font-size="26" fill="#000">-1.10</text><text x="67" y="1153.47" font-size="26" fill="#000">-1.25</text><text x="67" y="1207.3" font-size="26" fill="#000">-1.41</text><text x="67" y="1261.13" font-size="26" fill="#000">-1.56</text><text x="67" y="1314.96" font-size="26" fill="#000">-1.71</text><text x="67" y="1368.79" font-size="26" fill="#000">-1.86</text><text x="67" y="1422.62" font-size="26" fill="#000">-2.02</text><text x="67" y="1476.4499999999998" font-size="26" fill="#000">-2.17</text><text x="67" y="1530.28" font-size="26" fill="#000">-2.32</text><rect x="2212" y="642" width="81" height="910" fill="url(#cbg)"/><rect x="2293" y="638" width="4" height="918" fill="#000"/><rect x="2210.0" y="640.0" width="260" height="914" fill="none" stroke="#000" stroke-width="4"/><text x="2350" y="669.0" font-size="26" fill="#000">0.12</text><text x="2350" y="722.83" font-size="26" fill="#000">-0.03</text><text x="2350" y="776.66" font-size="26" fill="#000">-0.18</text><text x="2350" y="830.49" font-size="26" fill="#000">-0.34</text><text x="2350" y="884.3199999999999" font-size="26" fill="#000">-0.49</text><text x="2350" y="938.15" font-size="26" fill="#000">-0.64</text><text x="2350" y="991.98" font-size="26" fill="#000">-0.79</text><text x="2350" y="1045.81" font-size="26" fill="#000">-0.95</text><text x="2350" y="1099.6399999999999" font-size="26" fill="#000">-1.10</text><text x="2350" y="1153.47" font-size="26" fill="#000">-1.25</text><text x="2350" y="1207.3" font-size="26" fill="#000">-1.41</text><text x="2350" y="1261.13" font-size="26" fill="#000">-1.56</text><text x="2350" y="1314.96" font-size="26" fill="#000">-1.71</text><text x="2350" y="1368.79" font-size="26" fill="#000">-1.86</text><text x="2350" y="1422.62" font-size="26" fill="#000">-2.02</text><text x="2350" y="1476.4499999999998" font-size="26" fill="#000">-2.17</text><text x="2350" y="1530.28" font-size="26" fill="#000">-2.32</text><rect x="188" y="1581" width="82" height="910" fill="url(#cbg)"/><rect x="184" y="1577" width="4" height="918" fill="#000"/><rect x="14.0" y="1579.0" width="258" height="914" fill="none" stroke="#000" stroke-width="4"/><text x="67" y="1608.0" font-size="26" fill="#000">1.0</text><text x="67" y="1661.83" font-size="26" fill="#000">0.9</text><text x="67" y="1715.66" font-size="26" fill="#000">0.9</text><text x="67" y="1769.49" font-size="26" fill="#000">0.8</text><text x="67" y="1823.32" font-size="26" fill="#000">0.8</text><text x="67" y="1877.15" font-size="26" fill="#000">0.7</text><text x="67" y="1930.98" font-size="26" fill="#000">0.6</text><text x="67" y="1984.81" font-size="26" fill="#000">0.6</text><text x="67" y="2038.6399999999999" font-size="26" fill="#000">0.5</text><text x="67" y="2092.47" font-size="26" fill="#000">0.4</text><text x="67" y="2146.3" font-size="26" fill="#000">0.4</text><text x="67" y="2200.13" font-size="26" fill="#000">0.3</text><text x="67" y="2253.96" font-size="26" fill="#000">0.3</text><text x="67" y="2307.79" font-size="26" fill="#000">0.2</text><text x="67" y="2361.62" font-size="26" fill="#000">0.1</text><text x="67" y="2415.45" font-size="26" fill="#000">0.1</text><text x="67" y="2469.2799999999997" font-size="26" fill="#000">0.0</text><rect x="279.0" y="640.0" width="914" height="914" fill="none" stroke="#000" stroke-width="4"/><text x="306.8" y="685.8" font-size="50.4" fill="#0a7d0a">Волновой фронт</text><text x="946.3" y="685.4" font-size="50.4" fill="#0a7d0a" xml:space="preserve">PV  2.440</text><text x="916.3" y="728.1" font-size="50.4" fill="#0a7d0a">RMS 0.450</text><text x="308" y="1474.7" font-size="50.4" fill="#0a7d0a">WFS</text><text x="307" y="1516.5" font-size="50.4" fill="#0a7d0a">0</text><circle cx="736.6" cy="1096.6" r="91.5" fill="none" stroke="#000" stroke-width="3.5"/><circle cx="736.6" cy="1096.6" r="183.0" fill="none" stroke="#000" stroke-width="3.5"/><circle cx="736.6" cy="1096.6" r="274.5" fill="none" stroke="#000" stroke-width="3.5"/><circle cx="736.6" cy="1096.6" r="366.0" fill="none" stroke="#000" stroke-width="3.5"/><line x1="370.6" y1="1096.6" x2="1102.6" y2="1096.6" stroke="#000" stroke-width="3.5"/><line x1="477.8" y1="1355.4" x2="995.4" y2="837.8" stroke="#000" stroke-width="3.5"/><line x1="736.6" y1="1462.6" x2="736.6" y2="730.6" stroke="#000" stroke-width="3.5"/><line x1="995.4" y1="1355.4" x2="477.8" y2="837.8" stroke="#000" stroke-width="3.5"/><path d="M1115.6 1096.6L1129.6 1096.6M1114.2 1063.6L1128.1 1062.3M1109.8 1030.8L1123.6 1028.4M1102.7 998.5L1116.2 994.9M1092.7 967.0L1105.9 962.2M1080.1 936.4L1092.8 930.5M1064.8 907.1L1076.9 900.1M1047.1 879.2L1058.5 871.2M1026.9 853.0L1037.7 844.0M1004.6 828.6L1014.5 818.7M980.2 806.3L989.2 795.5M954.0 786.1L962.0 774.7M926.1 768.4L933.1 756.3M896.8 753.1L902.7 740.4M866.2 740.5L871.0 727.3M834.7 730.5L838.3 717.0M802.4 723.4L804.8 709.6M769.6 719.0L770.9 705.1M736.6 717.6L736.6 703.6M703.6 719.0L702.3 705.1M670.8 723.4L668.4 709.6M638.5 730.5L634.9 717.0M607.0 740.5L602.2 727.3M576.4 753.1L570.5 740.4M547.1 768.4L540.1 756.3M519.2 786.1L511.2 774.7M493.0 806.3L484.0 795.5M468.6 828.6L458.7 818.7M446.3 853.0L435.5 844.0M426.1 879.2L414.7 871.2M408.4 907.1L396.3 900.1M393.1 936.4L380.4 930.5M380.5 967.0L367.3 962.2M370.5 998.5L357.0 994.9M363.4 1030.8L349.6 1028.4M359.0 1063.6L345.1 1062.3M357.6 1096.6L343.6 1096.6M359.0 1129.6L345.1 1130.9M363.4 1162.4L349.6 1164.8M370.5 1194.7L357.0 1198.3M380.5 1226.2L367.3 1231.0M393.1 1256.8L380.4 1262.7M408.4 1286.1L396.3 1293.1M426.1 1314.0L414.7 1322.0M446.3 1340.2L435.5 1349.2M468.6 1364.6L458.7 1374.5M493.0 1386.9L484.0 1397.7M519.2 1407.1L511.2 1418.5M547.1 1424.8L540.1 1436.9M576.4 1440.1L570.5 1452.8M607.0 1452.7L602.2 1465.9M638.5 1462.7L634.9 1476.2M670.8 1469.8L668.4 1483.6M703.6 1474.2L702.3 1488.1M736.6 1475.6L736.6 1489.6M769.6 1474.2L770.9 1488.1M802.4 1469.8L804.8 1483.6M834.7 1462.7L838.3 1476.2M866.2 1452.7L871.0 1465.9M896.8 1440.1L902.7 1452.8M926.1 1424.8L933.1 1436.9M954.0 1407.1L962.0 1418.5M980.2 1386.9L989.2 1397.7M1004.6 1364.6L1014.5 1374.5M1026.9 1340.2L1037.7 1349.2M1047.1 1314.0L1058.5 1322.0M1064.8 1286.1L1076.9 1293.1M1080.1 1256.8L1092.8 1262.7M1092.7 1226.2L1105.9 1231.0M1102.7 1194.7L1116.2 1198.3M1109.8 1162.4L1123.6 1164.8M1114.2 1129.6L1128.1 1130.9" stroke="#000" stroke-width="2" fill="none"/><text x="352.6" y="812.5999999999999" font-size="50.4" fill="#000">135</text><text x="1036.8" y="811.6999999999999" font-size="50.4" fill="#000">45</text><text x="286.3" y="1085.8" font-size="50.4" fill="#000">180</text><text x="1158.0" y="1085.0" font-size="50.4" fill="#000">0</text><text x="803.6" y="1206.0" font-size="50.4" fill="#000">1.5E3</text><text x="864.7" y="1271.0" font-size="50.4" fill="#000">3E3</text><text x="930.7" y="1336.0" font-size="50.4" fill="#000">4.5E3</text><text x="991.8" y="1400.1" font-size="50.4" fill="#000">6E3</text><rect x="1290.0" y="640.0" width="914" height="914" fill="none" stroke="#000" stroke-width="4"/><text x="1317.8" y="685.8" font-size="50.4" fill="#0a7d0a">Высший порядок</text><text x="1957.3" y="685.4" font-size="50.4" fill="#0a7d0a" xml:space="preserve">PV  2.440</text><text x="1927.3" y="728.1" font-size="50.4" fill="#0a7d0a">RMS 0.450</text><text x="1319" y="1474.7" font-size="50.4" fill="#0a7d0a">WFS</text><text x="1318" y="1516.5" font-size="50.4" fill="#0a7d0a">0</text><circle cx="1746.5" cy="1096.6" r="91.5" fill="none" stroke="#000" stroke-width="3.5"/><circle cx="1746.5" cy="1096.6" r="183.0" fill="none" stroke="#000" stroke-width="3.5"/><circle cx="1746.5" cy="1096.6" r="274.5" fill="none" stroke="#000" stroke-width="3.5"/><circle cx="1746.5" cy="1096.6" r="366.0" fill="none" stroke="#000" stroke-width="3.5"/><line x1="1380.5" y1="1096.6" x2="2112.5" y2="1096.6" stroke="#000" stroke-width="3.5"/><line x1="1487.7" y1="1355.4" x2="2005.3" y2="837.8" stroke="#000" stroke-width="3.5"/><line x1="1746.5" y1="1462.6" x2="1746.5" y2="730.6" stroke="#000" stroke-width="3.5"/><line x1="2005.3" y1="1355.4" x2="1487.7" y2="837.8" stroke="#000" stroke-width="3.5"/><path d="M2125.5 1096.6L2139.5 1096.6M2124.1 1063.6L2138.0 1062.3M2119.7 1030.8L2133.5 1028.4M2112.6 998.5L2126.1 994.9M2102.6 967.0L2115.8 962.2M2090.0 936.4L2102.7 930.5M2074.7 907.1L2086.8 900.1M2057.0 879.2L2068.4 871.2M2036.8 853.0L2047.6 844.0M2014.5 828.6L2024.4 818.7M1990.1 806.3L1999.1 795.5M1963.9 786.1L1971.9 774.7M1936.0 768.4L1943.0 756.3M1906.7 753.1L1912.6 740.4M1876.1 740.5L1880.9 727.3M1844.6 730.5L1848.2 717.0M1812.3 723.4L1814.7 709.6M1779.5 719.0L1780.8 705.1M1746.5 717.6L1746.5 703.6M1713.5 719.0L1712.2 705.1M1680.7 723.4L1678.3 709.6M1648.4 730.5L1644.8 717.0M1616.9 740.5L1612.1 727.3M1586.3 753.1L1580.4 740.4M1557.0 768.4L1550.0 756.3M1529.1 786.1L1521.1 774.7M1502.9 806.3L1493.9 795.5M1478.5 828.6L1468.6 818.7M1456.2 853.0L1445.4 844.0M1436.0 879.2L1424.6 871.2M1418.3 907.1L1406.2 900.1M1403.0 936.4L1390.3 930.5M1390.4 967.0L1377.2 962.2M1380.4 998.5L1366.9 994.9M1373.3 1030.8L1359.5 1028.4M1368.9 1063.6L1355.0 1062.3M1367.5 1096.6L1353.5 1096.6M1368.9 1129.6L1355.0 1130.9M1373.3 1162.4L1359.5 1164.8M1380.4 1194.7L1366.9 1198.3M1390.4 1226.2L1377.2 1231.0M1403.0 1256.8L1390.3 1262.7M1418.3 1286.1L1406.2 1293.1M1436.0 1314.0L1424.6 1322.0M1456.2 1340.2L1445.4 1349.2M1478.5 1364.6L1468.6 1374.5M1502.9 1386.9L1493.9 1397.7M1529.1 1407.1L1521.1 1418.5M1557.0 1424.8L1550.0 1436.9M1586.3 1440.1L1580.4 1452.8M1616.9 1452.7L1612.1 1465.9M1648.4 1462.7L1644.8 1476.2M1680.7 1469.8L1678.3 1483.6M1713.5 1474.2L1712.2 1488.1M1746.5 1475.6L1746.5 1489.6M1779.5 1474.2L1780.8 1488.1M1812.3 1469.8L1814.7 1483.6M1844.6 1462.7L1848.2 1476.2M1876.1 1452.7L1880.9 1465.9M1906.7 1440.1L1912.6 1452.8M1936.0 1424.8L1943.0 1436.9M1963.9 1407.1L1971.9 1418.5M1990.1 1386.9L1999.1 1397.7M2014.5 1364.6L2024.4 1374.5M2036.8 1340.2L2047.6 1349.2M2057.0 1314.0L2068.4 1322.0M2074.7 1286.1L2086.8 1293.1M2090.0 1256.8L2102.7 1262.7M2102.6 1226.2L2115.8 1231.0M2112.6 1194.7L2126.1 1198.3M2119.7 1162.4L2133.5 1164.8M2124.1 1129.6L2138.0 1130.9" stroke="#000" stroke-width="2" fill="none"/><text x="1362.5" y="812.5999999999999" font-size="50.4" fill="#000">135</text><text x="2046.7" y="811.6999999999999" font-size="50.4" fill="#000">45</text><text x="1296.2" y="1085.8" font-size="50.4" fill="#000">180</text><text x="2167.9" y="1085.0" font-size="50.4" fill="#000">0</text><text x="1813.5" y="1206.0" font-size="50.4" fill="#000">1.5E3</text><text x="1874.6" y="1271.0" font-size="50.4" fill="#000">3E3</text><text x="1940.6" y="1336.0" font-size="50.4" fill="#000">4.5E3</text><text x="2001.7" y="1400.1" font-size="50.4" fill="#000">6E3</text><ellipse cx="886.5" cy="1018.0" rx="6.5" ry="20" transform="rotate(-22 886.5 1018.0)" fill="#000"/><ellipse cx="1896.4" cy="1018.0" rx="6.5" ry="20" transform="rotate(-22 1896.4 1018.0)" fill="#000"/><rect x="279.0" y="1579.0" width="914" height="914" fill="none" stroke="#000" stroke-width="4"/><text x="306.8" y="1624.8" font-size="50.4" fill="#0a7d0a">Точка рассеяния</text><text x="308" y="2413.7" font-size="50.4" fill="#0a7d0a">WFS</text><text x="307" y="2455.5" font-size="50.4" fill="#0a7d0a">0</text><path d="M737 2041h2v2h-2zM753 2031h2v2h-2zM751 2032h2v2h-2zM730 2049h2v2h-2zM733 2056h2v2h-2zM730 2039h2v2h-2zM743 2033h2v2h-2zM736 2042h2v2h-2zM746 2013h2v2h-2zM714 2035h2v2h-2zM755 2023h2v2h-2zM735 2064h2v2h-2zM745 2044h2v2h-2zM735 2037h2v2h-2zM732 2033h2v2h-2zM742 2005h2v2h-2zM746 2044h2v2h-2zM734 2055h2v2h-2zM735 2027h2v2h-2zM745 2044h2v2h-2zM726 2044h2v2h-2zM718 2017h2v2h-2zM741 2047h2v2h-2zM729 2052h2v2h-2zM714 2038h2v2h-2zM727 2035h2v2h-2zM731 2045h2v2h-2zM722 2017h2v2h-2zM719 2037h2v2h-2zM737 2048h2v2h-2zM747 2021h2v2h-2zM734 2048h2v2h-2zM728 2031h2v2h-2zM741 2011h2v2h-2zM745 2034h2v2h-2zM733 2024h2v2h-2zM743 2039h2v2h-2zM749 2022h2v2h-2zM734 2048h2v2h-2zM727 2027h2v2h-2zM741 2040h2v2h-2zM740 2028h2v2h-2zM750 2032h2v2h-2zM721 2050h2v2h-2zM729 2038h2v2h-2zM727 2031h2v2h-2zM716 2021h2v2h-2zM738 2050h2v2h-2zM743 2044h2v2h-2zM728 2032h2v2h-2zM753 2039h2v2h-2zM746 2023h2v2h-2zM744 2023h2v2h-2zM741 2026h2v2h-2zM748 2040h2v2h-2zM721 2039h2v2h-2zM744 2027h2v2h-2zM744 2044h2v2h-2zM715 2045h2v2h-2zM741 2038h2v2h-2zM734 2048h2v2h-2zM746 2032h2v2h-2zM731 2034h2v2h-2zM736 2041h2v2h-2zM741 2035h2v2h-2zM726 2045h2v2h-2zM744 2021h2v2h-2zM735 2053h2v2h-2zM743 2026h2v2h-2zM730 2034h2v2h-2zM750 2019h2v2h-2zM744 2043h2v2h-2zM734 2051h2v2h-2zM744 2048h2v2h-2zM752 2046h2v2h-2zM758 2017h2v2h-2zM718 2026h2v2h-2zM747 2030h2v2h-2zM742 2024h2v2h-2zM735 2049h2v2h-2zM725 2038h2v2h-2zM752 2035h2v2h-2zM721 2041h2v2h-2zM743 2024h2v2h-2zM752 2025h2v2h-2zM717 2025h2v2h-2zM733 2042h2v2h-2zM721 2040h2v2h-2zM740 2043h2v2h-2zM755 2049h2v2h-2zM761 2019h2v2h-2zM715 2029h2v2h-2zM730 2037h2v2h-2zM745 2019h2v2h-2zM756 2029h2v2h-2zM742 2048h2v2h-2zM728 2049h2v2h-2zM740 2049h2v2h-2zM736 2036h2v2h-2zM734 2033h2v2h-2zM728 2049h2v2h-2zM741 2031h2v2h-2zM740 2040h2v2h-2zM735 2052h2v2h-2zM734 2031h2v2h-2zM721 2028h2v2h-2zM731 2035h2v2h-2zM751 2043h2v2h-2zM734 2041h2v2h-2zM719 2037h2v2h-2zM753 2042h2v2h-2zM743 2016h2v2h-2zM762 2025h2v2h-2zM737 2038h2v2h-2zM731 2024h2v2h-2zM719 2019h2v2h-2zM752 2021h2v2h-2zM767 2025h2v2h-2zM727 2033h2v2h-2zM729 2023h2v2h-2zM744 2038h2v2h-2zM727 2056h2v2h-2zM733 2034h2v2h-2zM732 2051h2v2h-2zM739 2039h2v2h-2zM750 2022h2v2h-2zM737 2033h2v2h-2zM748 2024h2v2h-2zM732 2045h2v2h-2zM741 2022h2v2h-2zM711 2051h2v2h-2zM719 2043h2v2h-2zM746 2011h2v2h-2zM730 2045h2v2h-2zM744 2054h2v2h-2zM743 2026h2v2h-2zM752 2047h2v2h-2zM746 2014h2v2h-2zM749 2039h2v2h-2zM735 2016h2v2h-2zM728 2041h2v2h-2zM728 2014h2v2h-2zM731 2004h2v2h-2zM723 2040h2v2h-2zM730 2063h2v2h-2zM735 2028h2v2h-2zM740 2046h2v2h-2zM733 2037h2v2h-2zM714 2032h2v2h-2zM736 2043h2v2h-2zM739 2055h2v2h-2zM750 2021h2v2h-2zM744 2042h2v2h-2zM729 2040h2v2h-2zM728 2019h2v2h-2zM761 2055h2v2h-2zM746 2059h2v2h-2zM759 2024h2v2h-2zM762 2056h2v2h-2zM727 2036h2v2h-2zM741 2034h2v2h-2zM742 2054h2v2h-2zM743 2038h2v2h-2zM743 2039h2v2h-2zM739 2054h2v2h-2zM739 2051h2v2h-2zM719 2046h2v2h-2zM735 2019h2v2h-2zM728 2017h2v2h-2zM738 2049h2v2h-2zM731 2024h2v2h-2zM744 2037h2v2h-2zM746 2023h2v2h-2zM740 2033h2v2h-2zM740 2020h2v2h-2zM738 2055h2v2h-2zM731 2023h2v2h-2zM735 2034h2v2h-2zM731 2033h2v2h-2zM741 2050h2v2h-2zM737 2019h2v2h-2zM744 2035h2v2h-2zM721 2033h2v2h-2zM747 2042h2v2h-2zM727 2041h2v2h-2zM728 2030h2v2h-2zM734 2038h2v2h-2zM730 2031h2v2h-2zM740 2041h2v2h-2zM730 2034h2v2h-2zM724 2028h2v2h-2zM726 2035h2v2h-2zM752 2040h2v2h-2zM737 2063h2v2h-2zM723 2030h2v2h-2zM737 2039h2v2h-2zM718 2053h2v2h-2zM758 2011h2v2h-2zM718 2015h2v2h-2zM742 2021h2v2h-2zM743 2034h2v2h-2zM719 2065h2v2h-2zM740 2040h2v2h-2zM749 2050h2v2h-2zM742 2033h2v2h-2zM740 2006h2v2h-2zM748 2008h2v2h-2zM739 2048h2v2h-2zM741 2038h2v2h-2zM735 2020h2v2h-2zM744 2049h2v2h-2zM725 2017h2v2h-2zM746 2049h2v2h-2zM731 2053h2v2h-2zM724 2026h2v2h-2zM741 2022h2v2h-2zM757 2046h2v2h-2zM748 2022h2v2h-2zM730 2046h2v2h-2zM745 2021h2v2h-2zM731 2045h2v2h-2zM735 2037h2v2h-2zM738 2030h2v2h-2zM709 2025h2v2h-2zM739 2038h2v2h-2zM724 2013h2v2h-2zM728 2032h2v2h-2zM719 2031h2v2h-2zM718 2044h2v2h-2zM725 2021h2v2h-2zM747 2056h2v2h-2zM757 2032h2v2h-2zM736 2022h2v2h-2zM750 2052h2v2h-2zM733 2056h2v2h-2zM714 2033h2v2h-2zM738 2025h2v2h-2zM742 2036h2v2h-2zM731 2027h2v2h-2zM740 2032h2v2h-2zM743 2054h2v2h-2zM726 2040h2v2h-2zM719 2037h2v2h-2zM734 2040h2v2h-2zM734 2035h2v2h-2zM732 2046h2v2h-2zM748 2046h2v2h-2zM757 2031h2v2h-2zM732 2037h2v2h-2zM745 2065h2v2h-2zM748 2041h2v2h-2zM745 2033h2v2h-2zM749 2060h2v2h-2zM732 2036h2v2h-2zM745 2022h2v2h-2zM761 2044h2v2h-2zM746 2025h2v2h-2zM729 2030h2v2h-2zM744 2040h2v2h-2zM752 2034h2v2h-2zM741 2026h2v2h-2zM730 2029h2v2h-2zM755 2028h2v2h-2zM722 2050h2v2h-2zM743 2027h2v2h-2zM736 2029h2v2h-2zM722 2060h2v2h-2zM751 2029h2v2h-2zM741 2053h2v2h-2zM723 2051h2v2h-2zM744 2034h2v2h-2zM731 2019h2v2h-2zM714 2041h2v2h-2zM728 2044h2v2h-2zM740 2047h2v2h-2zM744 2036h2v2h-2zM739 2050h2v2h-2zM737 2052h2v2h-2zM742 2023h2v2h-2zM734 2053h2v2h-2zM751 2038h2v2h-2zM738 2029h2v2h-2zM740 2032h2v2h-2zM743 2058h2v2h-2zM724 2047h2v2h-2zM728 2014h2v2h-2zM755 2037h2v2h-2zM741 2034h2v2h-2zM733 2033h2v2h-2zM741 2029h2v2h-2zM731 2018h2v2h-2zM740 2046h2v2h-2zM729 2024h2v2h-2zM740 2031h2v2h-2zM718 2028h2v2h-2zM753 2027h2v2h-2zM730 2045h2v2h-2zM718 2040h2v2h-2zM734 2028h2v2h-2zM732 2024h2v2h-2zM738 2030h2v2h-2zM723 2047h2v2h-2zM741 2037h2v2h-2zM780 2038h2v2h-2zM721 2032h2v2h-2zM741 2033h2v2h-2zM733 2038h2v2h-2zM739 2013h2v2h-2zM715 2055h2v2h-2zM723 2026h2v2h-2zM742 2029h2v2h-2zM736 2052h2v2h-2zM756 2038h2v2h-2zM728 2036h2v2h-2zM739 2029h2v2h-2zM772 2017h2v2h-2zM727 2038h2v2h-2zM726 2050h2v2h-2zM736 2025h2v2h-2zM736 2052h2v2h-2zM747 2022h2v2h-2zM738 2027h2v2h-2zM728 2042h2v2h-2zM739 2036h2v2h-2zM768 2044h2v2h-2zM752 2027h2v2h-2zM703 2023h2v2h-2zM735 2013h2v2h-2zM726 2021h2v2h-2zM744 2023h2v2h-2zM735 2018h2v2h-2zM760 2039h2v2h-2zM748 2028h2v2h-2zM747 2012h2v2h-2zM739 2065h2v2h-2zM736 2026h2v2h-2zM741 2021h2v2h-2zM752 2050h2v2h-2zM743 2050h2v2h-2zM732 2022h2v2h-2zM752 2018h2v2h-2zM739 2024h2v2h-2zM736 2049h2v2h-2zM727 2032h2v2h-2zM730 2026h2v2h-2zM729 2035h2v2h-2zM703 2050h2v2h-2zM749 2019h2v2h-2zM743 2031h2v2h-2zM734 2019h2v2h-2zM749 2062h2v2h-2zM742 2057h2v2h-2zM741 2047h2v2h-2zM707 2034h2v2h-2zM734 2044h2v2h-2zM743 2010h2v2h-2zM756 2039h2v2h-2zM759 2020h2v2h-2zM754 2020h2v2h-2zM723 2027h2v2h-2zM710 2031h2v2h-2zM743 2042h2v2h-2zM737 2044h2v2h-2zM748 2039h2v2h-2zM735 2024h2v2h-2zM739 2044h2v2h-2zM719 2034h2v2h-2zM742 2050h2v2h-2zM731 2025h2v2h-2zM741 2002h2v2h-2zM742 2030h2v2h-2zM735 2061h2v2h-2zM740 2041h2v2h-2zM736 2033h2v2h-2zM746 2046h2v2h-2zM743 2042h2v2h-2zM730 2041h2v2h-2zM730 2029h2v2h-2zM758 2037h2v2h-2zM735 2038h2v2h-2zM749 2028h2v2h-2zM741 2022h2v2h-2zM730 2037h2v2h-2zM728 2047h2v2h-2zM738 2043h2v2h-2zM740 2042h2v2h-2zM744 2042h2v2h-2zM721 2067h2v2h-2zM729 2039h2v2h-2zM735 2048h2v2h-2zM756 2059h2v2h-2zM708 2036h2v2h-2zM742 2039h2v2h-2zM730 2048h2v2h-2zM742 2056h2v2h-2zM731 2039h2v2h-2zM741 2040h2v2h-2zM755 2037h2v2h-2zM741 2021h2v2h-2zM742 2049h2v2h-2zM741 2033h2v2h-2zM728 2015h2v2h-2zM743 2034h2v2h-2zM734 2015h2v2h-2zM727 2024h2v2h-2zM736 2036h2v2h-2zM734 2025h2v2h-2zM746 2049h2v2h-2zM736 2018h2v2h-2zM730 2039h2v2h-2zM754 2042h2v2h-2zM748 2053h2v2h-2zM752 2047h2v2h-2zM744 2038h2v2h-2zM735 2037h2v2h-2zM732 2035h2v2h-2zM733 2049h2v2h-2zM748 2028h2v2h-2zM738 2042h2v2h-2zM719 2035h2v2h-2zM736 2039h2v2h-2zM720 2033h2v2h-2zM739 2061h2v2h-2zM722 2028h2v2h-2zM721 2039h2v2h-2zM738 2039h2v2h-2zM736 2043h2v2h-2zM717 2041h2v2h-2zM746 2041h2v2h-2zM763 2048h2v2h-2zM719 2018h2v2h-2zM758 2036h2v2h-2zM728 2021h2v2h-2zM731 2039h2v2h-2zM734 2022h2v2h-2zM719 2024h2v2h-2zM752 2035h2v2h-2zM743 2053h2v2h-2zM728 2043h2v2h-2zM733 2039h2v2h-2zM718 2053h2v2h-2zM732 2024h2v2h-2zM748 2011h2v2h-2zM716 2031h2v2h-2zM731 2032h2v2h-2zM738 2051h2v2h-2zM749 2061h2v2h-2zM753 2020h2v2h-2zM731 2065h2v2h-2zM728 2055h2v2h-2zM775 2012h2v2h-2zM754 2103h2v2h-2zM846 1982h2v2h-2zM741 2080h2v2h-2zM716 1953h2v2h-2zM743 2048h2v2h-2zM676 2026h2v2h-2zM758 2049h2v2h-2zM732 2001h2v2h-2zM752 1944h2v2h-2zM753 1963h2v2h-2zM690 2091h2v2h-2zM796 2042h2v2h-2zM692 1993h2v2h-2zM777 2072h2v2h-2zM666 1998h2v2h-2zM754 1999h2v2h-2zM700 1977h2v2h-2zM739 2085h2v2h-2zM708 2120h2v2h-2zM639 1988h2v2h-2zM687 2045h2v2h-2zM740 2076h2v2h-2zM765 2127h2v2h-2zM671 1924h2v2h-2zM642 2038h2v2h-2zM698 2061h2v2h-2zM728 1965h2v2h-2zM709 2050h2v2h-2zM701 2040h2v2h-2zM776 2064h2v2h-2zM781 2005h2v2h-2zM771 2050h2v2h-2zM695 2004h2v2h-2zM741 2059h2v2h-2zM729 2038h2v2h-2zM673 2014h2v2h-2zM777 1968h2v2h-2zM741 2105h2v2h-2zM715 2081h2v2h-2zM801 2071h2v2h-2zM772 2001h2v2h-2zM776 2016h2v2h-2zM791 2106h2v2h-2zM770 2065h2v2h-2zM680 1993h2v2h-2zM720 2033h2v2h-2zM782 2038h2v2h-2zM703 2022h2v2h-2zM739 1989h2v2h-2zM755 2088h2v2h-2zM802 2058h2v2h-2zM796 2023h2v2h-2zM778 1961h2v2h-2zM729 2005h2v2h-2zM778 2031h2v2h-2zM761 2071h2v2h-2zM730 2015h2v2h-2zM798 2082h2v2h-2zM759 2038h2v2h-2zM703 1998h2v2h-2zM794 1906h2v2h-2zM726 1979h2v2h-2zM764 1965h2v2h-2zM669 2025h2v2h-2zM736 2047h2v2h-2zM695 2095h2v2h-2zM693 2031h2v2h-2zM651 1980h2v2h-2zM834 2138h2v2h-2zM730 2046h2v2h-2zM748 2020h2v2h-2zM787 2020h2v2h-2zM732 1971h2v2h-2zM760 2061h2v2h-2zM676 2049h2v2h-2zM746 2104h2v2h-2zM718 2082h2v2h-2zM760 2071h2v2h-2zM745 2089h2v2h-2zM675 2020h2v2h-2zM654 2013h2v2h-2zM691 2030h2v2h-2zM770 1977h2v2h-2zM756 2026h2v2h-2zM755 2018h2v2h-2zM646 2063h2v2h-2zM616 2032h2v2h-2zM709 1947h2v2h-2zM722 2034h2v2h-2zM710 2097h2v2h-2zM753 1950h2v2h-2zM729 1999h2v2h-2zM683 2034h2v2h-2zM697 1973h2v2h-2zM743 2008h2v2h-2zM740 2036h2v2h-2zM733 1974h2v2h-2zM839 2046h2v2h-2zM725 2052h2v2h-2zM742 1976h2v2h-2zM692 2035h2v2h-2zM721 2082h2v2h-2zM760 2025h2v2h-2zM762 2053h2v2h-2zM730 2062h2v2h-2zM754 2023h2v2h-2zM739 2078h2v2h-2zM652 2051h2v2h-2zM589 1989h2v2h-2zM841 2057h2v2h-2zM774 2073h2v2h-2zM734 2070h2v2h-2zM658 2005h2v2h-2zM679 2055h2v2h-2zM798 2096h2v2h-2zM611 2044h2v2h-2zM722 2087h2v2h-2zM776 2093h2v2h-2zM743 2032h2v2h-2zM771 2064h2v2h-2zM731 2021h2v2h-2zM844 2082h2v2h-2zM690 2030h2v2h-2zM675 2010h2v2h-2zM749 2033h2v2h-2zM801 2031h2v2h-2zM734 2052h2v2h-2zM784 2055h2v2h-2zM713 1982h2v2h-2zM683 2005h2v2h-2zM800 2051h2v2h-2zM807 2056h2v2h-2zM806 2038h2v2h-2zM717 2153h2v2h-2zM685 2085h2v2h-2zM684 2031h2v2h-2zM726 2068h2v2h-2zM763 2095h2v2h-2zM760 2051h2v2h-2zM672 1956h2v2h-2zM745 2039h2v2h-2zM737 2037h2v2h-2zM741 2131h2v2h-2zM736 1953h2v2h-2zM728 2105h2v2h-2zM763 2028h2v2h-2zM742 2077h2v2h-2zM747 2022h2v2h-2zM706 2044h2v2h-2zM754 2087h2v2h-2zM731 2040h2v2h-2zM641 2083h2v2h-2zM758 2032h2v2h-2zM725 2017h2v2h-2zM778 2026h2v2h-2zM729 2013h2v2h-2zM732 2031h2v2h-2zM746 2097h2v2h-2zM736 1983h2v2h-2zM716 1961h2v2h-2zM656 2035h2v2h-2zM820 2112h2v2h-2zM666 2083h2v2h-2zM721 2096h2v2h-2zM766 2093h2v2h-2zM754 2003h2v2h-2zM762 2042h2v2h-2zM771 1917h2v2h-2zM793 2009h2v2h-2zM750 2064h2v2h-2zM867 1966h2v2h-2zM691 1944h2v2h-2zM747 1978h2v2h-2zM720 2046h2v2h-2zM712 2089h2v2h-2zM750 2153h2v2h-2zM802 2101h2v2h-2zM705 1969h2v2h-2zM705 1933h2v2h-2zM769 2044h2v2h-2zM761 2085h2v2h-2zM825 1964h2v2h-2zM783 2014h2v2h-2zM747 2017h2v2h-2zM722 2039h2v2h-2zM746 2030h2v2h-2zM729 2061h2v2h-2zM675 2085h2v2h-2zM737 2041h2v2h-2zM729 2072h2v2h-2zM726 2128h2v2h-2zM717 1992h2v2h-2zM813 1991h2v2h-2zM768 2061h2v2h-2zM779 2122h2v2h-2zM709 2046h2v2h-2zM691 2088h2v2h-2zM724 2025h2v2h-2zM748 2080h2v2h-2zM721 2011h2v2h-2zM728 2069h2v2h-2zM780 2057h2v2h-2zM750 2057h2v2h-2zM692 2101h2v2h-2zM717 2087h2v2h-2zM707 2012h2v2h-2zM745 2079h2v2h-2zM684 1963h2v2h-2zM729 2084h2v2h-2zM768 2163h2v2h-2zM738 2064h2v2h-2zM695 2063h2v2h-2zM709 2043h2v2h-2zM742 2078h2v2h-2zM758 2020h2v2h-2zM774 2071h2v2h-2zM730 2028h2v2h-2zM677 2022h2v2h-2zM801 2046h2v2h-2zM750 2038h2v2h-2zM755 1963h2v2h-2zM750 2134h2v2h-2zM690 2047h2v2h-2zM722 1965h2v2h-2zM748 2090h2v2h-2zM783 2040h2v2h-2zM739 2050h2v2h-2zM596 2073h2v2h-2zM726 2001h2v2h-2zM752 1909h2v2h-2zM795 2037h2v2h-2zM769 2052h2v2h-2zM849 2086h2v2h-2zM801 2007h2v2h-2zM797 2029h2v2h-2zM779 2059h2v2h-2zM674 2027h2v2h-2zM775 2030h2v2h-2zM764 2053h2v2h-2zM713 1996h2v2h-2zM763 2113h2v2h-2zM755 2000h2v2h-2zM716 2043h2v2h-2zM731 2026h2v2h-2zM725 2009h2v2h-2zM747 2065h2v2h-2zM717 2087h2v2h-2zM761 2107h2v2h-2zM650 2067h2v2h-2zM724 2021h2v2h-2zM661 2080h2v2h-2zM715 1976h2v2h-2zM760 2043h2v2h-2zM738 2065h2v2h-2zM732 2066h2v2h-2zM740 1989h2v2h-2zM807 1973h2v2h-2zM687 2116h2v2h-2zM777 2018h2v2h-2zM669 1967h2v2h-2zM716 1985h2v2h-2zM744 2041h2v2h-2zM698 2094h2v2h-2zM746 2040h2v2h-2zM769 2094h2v2h-2zM683 2050h2v2h-2zM733 2061h2v2h-2zM720 2084h2v2h-2zM649 2023h2v2h-2zM728 2053h2v2h-2zM701 2022h2v2h-2zM797 2011h2v2h-2zM697 2069h2v2h-2zM813 2003h2v2h-2zM713 2043h2v2h-2zM824 2004h2v2h-2zM761 2035h2v2h-2zM757 2016h2v2h-2zM773 2089h2v2h-2zM777 2043h2v2h-2zM800 2043h2v2h-2zM815 2113h2v2h-2zM721 1909h2v2h-2zM680 1988h2v2h-2zM616 1915h2v2h-2zM719 2038h2v2h-2zM771 2058h2v2h-2zM754 2067h2v2h-2zM742 2050h2v2h-2zM721 1999h2v2h-2zM708 2117h2v2h-2zM724 2051h2v2h-2zM754 2026h2v2h-2zM657 1987h2v2h-2zM769 2056h2v2h-2zM671 2015h2v2h-2zM729 2017h2v2h-2zM708 2047h2v2h-2zM720 2047h2v2h-2zM689 2000h2v2h-2zM685 2093h2v2h-2zM726 1992h2v2h-2zM688 1987h2v2h-2zM847 2051h2v2h-2zM718 2043h2v2h-2zM707 2040h2v2h-2zM712 2018h2v2h-2zM688 2039h2v2h-2zM626 2011h2v2h-2zM725 1962h2v2h-2zM750 2070h2v2h-2zM669 1991h2v2h-2zM737 2026h2v2h-2zM682 2069h2v2h-2zM735 2038h2v2h-2zM752 2160h2v2h-2zM758 1974h2v2h-2zM756 2003h2v2h-2zM705 2040h2v2h-2zM776 2097h2v2h-2zM716 2025h2v2h-2zM752 1972h2v2h-2zM768 2088h2v2h-2zM723 1995h2v2h-2zM678 2027h2v2h-2zM764 2076h2v2h-2zM686 2006h2v2h-2zM696 2016h2v2h-2zM687 2058h2v2h-2zM774 2027h2v2h-2zM729 2049h2v2h-2zM635 1993h2v2h-2zM769 2031h2v2h-2zM829 1987h2v2h-2zM817 1966h2v2h-2zM711 2115h2v2h-2zM740 2056h2v2h-2zM759 2077h2v2h-2zM776 1992h2v2h-2zM738 2035h2v2h-2zM687 2027h2v2h-2zM770 1972h2v2h-2zM764 2060h2v2h-2zM676 2003h2v2h-2zM720 2027h2v2h-2zM748 1968h2v2h-2zM736 2080h2v2h-2zM760 2070h2v2h-2zM772 2053h2v2h-2zM760 1995h2v2h-2zM731 2012h2v2h-2zM675 2091h2v2h-2zM764 2023h2v2h-2zM799 2048h2v2h-2zM825 2042h2v2h-2zM735 1985h2v2h-2zM734 2104h2v2h-2zM801 1947h2v2h-2zM801 2046h2v2h-2zM751 2032h2v2h-2zM768 1963h2v2h-2zM702 2051h2v2h-2zM762 2059h2v2h-2zM699 2038h2v2h-2zM729 1999h2v2h-2zM730 2056h2v2h-2zM715 2086h2v2h-2zM641 2046h2v2h-2zM699 2113h2v2h-2zM751 2074h2v2h-2zM733 2070h2v2h-2zM718 2098h2v2h-2zM755 2006h2v2h-2zM767 2012h2v2h-2zM774 2059h2v2h-2zM700 2059h2v2h-2zM737 2104h2v2h-2zM721 2087h2v2h-2zM696 2044h2v2h-2zM669 2046h2v2h-2zM731 2024h2v2h-2zM697 2020h2v2h-2zM833 2016h2v2h-2zM731 2077h2v2h-2zM726 2015h2v2h-2zM718 2020h2v2h-2zM820 2043h2v2h-2zM693 2013h2v2h-2zM729 2026h2v2h-2zM701 1938h2v2h-2zM730 2053h2v2h-2zM734 2023h2v2h-2zM785 2045h2v2h-2zM672 2053h2v2h-2zM735 1953h2v2h-2zM809 2145h2v2h-2zM713 2045h2v2h-2zM728 2046h2v2h-2zM696 1958h2v2h-2zM618 2067h2v2h-2zM731 2058h2v2h-2zM789 2023h2v2h-2zM715 2051h2v2h-2zM653 2098h2v2h-2zM748 2026h2v2h-2zM739 2000h2v2h-2zM781 2101h2v2h-2zM777 2054h2v2h-2zM724 2034h2v2h-2zM754 2146h2v2h-2zM655 2049h2v2h-2zM786 2034h2v2h-2zM744 2054h2v2h-2zM785 2024h2v2h-2zM784 2052h2v2h-2zM723 2049h2v2h-2zM729 2013h2v2h-2zM696 2030h2v2h-2zM643 2056h2v2h-2zM730 2059h2v2h-2zM743 2068h2v2h-2zM687 2077h2v2h-2zM768 2053h2v2h-2zM740 2065h2v2h-2zM756 2024h2v2h-2zM701 2030h2v2h-2zM656 2088h2v2h-2zM771 1952h2v2h-2zM763 2058h2v2h-2zM731 2183h2v2h-2zM717 1958h2v2h-2zM723 2108h2v2h-2zM730 1961h2v2h-2zM713 2057h2v2h-2zM645 2113h2v2h-2zM771 2107h2v2h-2zM669 1999h2v2h-2zM721 1981h2v2h-2zM722 1974h2v2h-2zM748 2071h2v2h-2zM663 2021h2v2h-2zM790 2039h2v2h-2zM765 2050h2v2h-2zM771 2057h2v2h-2zM793 2062h2v2h-2zM700 2044h2v2h-2zM595 1966h2v2h-2zM751 2103h2v2h-2zM795 1914h2v2h-2zM788 2093h2v2h-2zM712 2011h2v2h-2zM732 2029h2v2h-2zM749 2014h2v2h-2zM655 2021h2v2h-2zM706 2037h2v2h-2zM708 2025h2v2h-2zM808 1988h2v2h-2zM707 2076h2v2h-2zM807 2011h2v2h-2zM737 2098h2v2h-2zM661 2030h2v2h-2zM836 2006h2v2h-2zM693 2057h2v2h-2zM764 2077h2v2h-2zM813 1996h2v2h-2zM713 2025h2v2h-2zM681 2102h2v2h-2zM783 1992h2v2h-2zM740 1999h2v2h-2zM681 2045h2v2h-2zM688 1983h2v2h-2zM719 1926h2v2h-2zM780 1962h2v2h-2zM724 2054h2v2h-2zM766 2067h2v2h-2zM811 2064h2v2h-2zM794 2055h2v2h-2zM801 1982h2v2h-2zM792 2068h2v2h-2zM664 2089h2v2h-2zM792 2006h2v2h-2zM751 2080h2v2h-2zM731 2021h2v2h-2zM688 2046h2v2h-2zM665 2054h2v2h-2zM687 1970h2v2h-2zM736 2103h2v2h-2zM684 1999h2v2h-2zM700 2033h2v2h-2zM709 2015h2v2h-2zM767 2058h2v2h-2zM723 2057h2v2h-2zM730 2038h2v2h-2zM796 2101h2v2h-2zM722 2050h2v2h-2zM764 2019h2v2h-2zM689 1908h2v2h-2zM751 2025h2v2h-2zM742 2024h2v2h-2zM744 1998h2v2h-2zM716 1999h2v2h-2zM690 2064h2v2h-2zM723 2084h2v2h-2zM716 2123h2v2h-2zM783 2089h2v2h-2zM777 2006h2v2h-2zM683 2049h2v2h-2zM765 1976h2v2h-2zM715 2070h2v2h-2zM757 2054h2v2h-2zM715 2010h2v2h-2zM670 2033h2v2h-2zM782 2026h2v2h-2zM757 2009h2v2h-2zM681 2097h2v2h-2zM651 2177h2v2h-2zM713 2075h2v2h-2zM683 2085h2v2h-2zM720 2045h2v2h-2zM765 2022h2v2h-2zM803 2136h2v2h-2zM721 2021h2v2h-2zM799 2055h2v2h-2zM789 2032h2v2h-2zM717 2064h2v2h-2zM662 2035h2v2h-2zM775 2064h2v2h-2zM764 1981h2v2h-2zM843 2033h2v2h-2zM801 2099h2v2h-2zM772 1991h2v2h-2zM813 2007h2v2h-2zM690 2099h2v2h-2zM745 2056h2v2h-2zM724 2086h2v2h-2zM815 1937h2v2h-2zM762 2044h2v2h-2zM599 1980h2v2h-2zM799 1975h2v2h-2zM696 2056h2v2h-2zM772 2091h2v2h-2zM715 1970h2v2h-2zM748 1988h2v2h-2zM766 2011h2v2h-2zM746 2032h2v2h-2zM694 1977h2v2h-2zM800 2139h2v2h-2zM755 2064h2v2h-2zM736 2021h2v2h-2zM769 2014h2v2h-2zM713 2142h2v2h-2zM822 2138h2v2h-2zM747 2015h2v2h-2zM754 2053h2v2h-2zM753 2094h2v2h-2zM696 1984h2v2h-2zM685 2011h2v2h-2zM747 2098h2v2h-2zM753 2006h2v2h-2zM798 2017h2v2h-2zM758 1976h2v2h-2zM688 2003h2v2h-2zM761 2068h2v2h-2zM775 2000h2v2h-2zM783 1978h2v2h-2zM752 2008h2v2h-2zM682 2117h2v2h-2zM790 2045h2v2h-2zM705 2011h2v2h-2zM763 2043h2v2h-2zM667 2056h2v2h-2zM772 2042h2v2h-2zM702 1955h2v2h-2zM786 2050h2v2h-2zM817 2027h2v2h-2zM790 2074h2v2h-2zM685 1975h2v2h-2zM695 2084h2v2h-2zM698 2014h2v2h-2zM767 1959h2v2h-2zM753 2096h2v2h-2zM745 2013h2v2h-2zM751 2053h2v2h-2zM763 2029h2v2h-2zM767 2085h2v2h-2zM813 2086h2v2h-2zM735 2086h2v2h-2zM746 2068h2v2h-2zM654 1963h2v2h-2zM678 1960h2v2h-2zM706 2045h2v2h-2zM684 1992h2v2h-2zM747 2057h2v2h-2zM784 2043h2v2h-2zM717 1971h2v2h-2zM715 1989h2v2h-2zM714 1984h2v2h-2zM743 1995h2v2h-2zM712 2026h2v2h-2zM756 2066h2v2h-2zM750 2096h2v2h-2zM752 1991h2v2h-2zM771 2010h2v2h-2zM738 2106h2v2h-2zM743 2076h2v2h-2zM816 2046h2v2h-2zM735 1929h2v2h-2zM773 1990h2v2h-2zM739 2043h2v2h-2zM716 2009h2v2h-2zM716 2126h2v2h-2zM700 2040h2v2h-2zM737 2048h2v2h-2zM709 1986h2v2h-2zM718 1988h2v2h-2zM791 2005h2v2h-2zM731 2007h2v2h-2zM788 2025h2v2h-2zM748 2052h2v2h-2zM775 2046h2v2h-2zM709 2081h2v2h-2zM743 1974h2v2h-2zM855 2045h2v2h-2zM774 2046h2v2h-2zM782 2108h2v2h-2zM747 2026h2v2h-2zM775 2050h2v2h-2zM684 1998h2v2h-2zM698 2055h2v2h-2zM756 2054h2v2h-2zM773 2007h2v2h-2zM718 2015h2v2h-2zM728 2034h2v2h-2zM720 2062h2v2h-2zM728 1983h2v2h-2zM682 2076h2v2h-2zM672 2020h2v2h-2zM733 2122h2v2h-2zM658 2102h2v2h-2zM692 2017h2v2h-2zM706 2007h2v2h-2zM689 2147h2v2h-2zM747 2064h2v2h-2zM716 2061h2v2h-2zM732 2016h2v2h-2zM690 2030h2v2h-2zM702 2072h2v2h-2zM759 2063h2v2h-2zM752 1998h2v2h-2zM715 2092h2v2h-2zM752 2050h2v2h-2zM744 1992h2v2h-2zM743 2081h2v2h-2zM807 2028h2v2h-2zM717 2071h2v2h-2zM754 2010h2v2h-2zM754 2052h2v2h-2zM725 1962h2v2h-2zM683 2052h2v2h-2zM766 1966h2v2h-2zM747 2043h2v2h-2zM737 1920h2v2h-2zM736 2033h2v2h-2zM736 2068h2v2h-2zM695 2058h2v2h-2zM748 2090h2v2h-2zM654 1987h2v2h-2zM734 2107h2v2h-2zM667 2108h2v2h-2zM719 1981h2v2h-2zM767 1999h2v2h-2zM723 2010h2v2h-2zM713 2034h2v2h-2zM758 2044h2v2h-2zM722 1923h2v2h-2zM716 2062h2v2h-2zM717 2024h2v2h-2zM802 1989h2v2h-2zM764 2079h2v2h-2zM756 2020h2v2h-2zM681 2087h2v2h-2zM762 2060h2v2h-2zM676 2021h2v2h-2zM756 2089h2v2h-2zM684 2072h2v2h-2zM822 2012h2v2h-2zM658 1962h2v2h-2zM789 2011h2v2h-2zM770 2063h2v2h-2zM654 2025h2v2h-2zM723 2115h2v2h-2zM799 2047h2v2h-2zM785 2044h2v2h-2zM659 2054h2v2h-2zM710 1995h2v2h-2zM681 2030h2v2h-2zM688 2005h2v2h-2zM705 1929h2v2h-2zM817 1955h2v2h-2zM740 2069h2v2h-2zM724 2015h2v2h-2zM719 2030h2v2h-2zM764 1968h2v2h-2zM765 2009h2v2h-2zM692 2071h2v2h-2zM800 2040h2v2h-2zM685 2012h2v2h-2zM721 2105h2v2h-2zM754 2033h2v2h-2zM811 2019h2v2h-2zM718 2087h2v2h-2zM747 1957h2v2h-2zM792 2060h2v2h-2zM762 1985h2v2h-2zM784 2000h2v2h-2zM780 2004h2v2h-2zM745 2041h2v2h-2zM762 2040h2v2h-2zM775 2049h2v2h-2zM732 2045h2v2h-2zM806 2099h2v2h-2zM644 2112h2v2h-2zM692 2068h2v2h-2zM799 2070h2v2h-2zM753 2018h2v2h-2zM705 1985h2v2h-2zM751 2062h2v2h-2zM783 2037h2v2h-2zM709 2074h2v2h-2zM768 1953h2v2h-2zM728 2157h2v2h-2zM729 1978h2v2h-2zM731 2037h2v2h-2zM784 2080h2v2h-2zM683 1973h2v2h-2zM717 2010h2v2h-2zM764 1944h2v2h-2zM679 1971h2v2h-2zM663 1948h2v2h-2zM759 2040h2v2h-2zM734 2049h2v2h-2zM727 2021h2v2h-2zM740 2093h2v2h-2zM690 2098h2v2h-2zM865 2035h2v2h-2zM689 2025h2v2h-2zM714 2023h2v2h-2zM670 2015h2v2h-2zM715 2095h2v2h-2zM802 2046h2v2h-2zM735 2020h2v2h-2zM761 2025h2v2h-2zM712 2060h2v2h-2zM815 2018h2v2h-2zM741 2050h2v2h-2zM678 2034h2v2h-2zM768 2097h2v2h-2zM717 2088h2v2h-2zM761 1971h2v2h-2zM740 2028h2v2h-2zM746 2068h2v2h-2zM740 2015h2v2h-2zM693 2072h2v2h-2zM666 2051h2v2h-2zM778 2063h2v2h-2zM728 2033h2v2h-2zM747 2049h2v2h-2zM713 2059h2v2h-2zM643 1969h2v2h-2zM676 1994h2v2h-2zM797 1990h2v2h-2zM698 2112h2v2h-2zM716 2049h2v2h-2zM668 2053h2v2h-2zM710 2044h2v2h-2zM717 2012h2v2h-2zM724 2002h2v2h-2zM730 2074h2v2h-2zM705 2019h2v2h-2zM708 2107h2v2h-2zM733 2045h2v2h-2zM748 2040h2v2h-2zM727 2026h2v2h-2zM812 2032h2v2h-2zM743 2037h2v2h-2zM741 2105h2v2h-2zM704 2142h2v2h-2zM780 1984h2v2h-2zM687 2047h2v2h-2zM661 2068h2v2h-2zM690 1995h2v2h-2zM761 2007h2v2h-2zM682 2015h2v2h-2zM792 1927h2v2h-2zM732 2065h2v2h-2zM665 2034h2v2h-2zM723 2032h2v2h-2zM814 2040h2v2h-2zM695 2047h2v2h-2zM674 2141h2v2h-2zM756 2044h2v2h-2zM792 2074h2v2h-2zM779 2012h2v2h-2zM719 2052h2v2h-2zM742 2022h2v2h-2zM748 2029h2v2h-2zM786 1995h2v2h-2zM830 1999h2v2h-2zM729 2057h2v2h-2zM792 2070h2v2h-2zM718 2057h2v2h-2zM760 2006h2v2h-2zM691 2050h2v2h-2zM699 1922h2v2h-2zM752 2079h2v2h-2zM693 2034h2v2h-2zM773 2048h2v2h-2zM709 2089h2v2h-2zM737 2017h2v2h-2zM730 2080h2v2h-2zM718 2016h2v2h-2zM739 2061h2v2h-2zM782 2018h2v2h-2zM873 2050h2v2h-2zM680 2102h2v2h-2zM747 2007h2v2h-2zM725 2009h2v2h-2zM692 2022h2v2h-2zM746 2050h2v2h-2zM694 2161h2v2h-2zM730 2011h2v2h-2zM789 1945h2v2h-2zM642 2007h2v2h-2zM745 1965h2v2h-2zM753 2012h2v2h-2zM690 2038h2v2h-2zM757 1994h2v2h-2zM749 2006h2v2h-2zM718 1953h2v2h-2zM788 2045h2v2h-2zM675 2003h2v2h-2zM762 2086h2v2h-2zM723 2084h2v2h-2zM686 1998h2v2h-2zM725 2020h2v2h-2zM718 2039h2v2h-2zM770 2071h2v2h-2zM666 1962h2v2h-2zM725 2034h2v2h-2zM936 2125h2v2h-2zM731 2035h2v2h-2zM764 2118h2v2h-2zM741 1897h2v2h-2zM615 2002h2v2h-2zM841 1739h2v2h-2zM769 2021h2v2h-2zM758 2117h2v2h-2zM817 2009h2v2h-2zM824 2281h2v2h-2zM541 1933h2v2h-2zM792 2001h2v2h-2zM680 1940h2v2h-2zM758 1984h2v2h-2zM666 1987h2v2h-2zM650 1883h2v2h-2zM842 1934h2v2h-2zM741 2248h2v2h-2zM712 2009h2v2h-2zM711 2131h2v2h-2zM750 1904h2v2h-2zM740 2024h2v2h-2zM493 2092h2v2h-2zM650 2018h2v2h-2zM717 1983h2v2h-2zM821 2017h2v2h-2zM886 2039h2v2h-2zM644 2123h2v2h-2zM947 2162h2v2h-2zM753 1898h2v2h-2zM795 1821h2v2h-2zM687 2016h2v2h-2zM680 2036h2v2h-2zM895 2111h2v2h-2zM721 2147h2v2h-2zM733 1967h2v2h-2zM866 2251h2v2h-2zM926 2063h2v2h-2zM587 1851h2v2h-2zM725 2136h2v2h-2zM744 2065h2v2h-2zM936 2066h2v2h-2zM1005 1870h2v2h-2zM740 2004h2v2h-2zM785 2053h2v2h-2zM837 2020h2v2h-2zM867 2108h2v2h-2zM712 2167h2v2h-2zM836 2195h2v2h-2zM673 2167h2v2h-2zM465 2021h2v2h-2zM601 2215h2v2h-2zM769 2063h2v2h-2zM829 2125h2v2h-2zM509 2011h2v2h-2zM557 1890h2v2h-2zM744 1799h2v2h-2zM392 2055h2v2h-2zM807 1965h2v2h-2zM857 2035h2v2h-2zM434 2129h2v2h-2zM829 1876h2v2h-2zM728 1852h2v2h-2zM898 2063h2v2h-2zM779 2074h2v2h-2zM724 2008h2v2h-2zM762 1981h2v2h-2zM849 1870h2v2h-2zM770 2027h2v2h-2zM754 1958h2v2h-2zM598 2081h2v2h-2zM801 2135h2v2h-2zM754 1978h2v2h-2zM944 2079h2v2h-2zM749 2055h2v2h-2zM742 2109h2v2h-2zM685 2196h2v2h-2zM827 2105h2v2h-2zM730 2110h2v2h-2zM677 2119h2v2h-2zM920 1991h2v2h-2zM939 2035h2v2h-2zM704 2072h2v2h-2zM644 2165h2v2h-2zM871 2171h2v2h-2zM664 2273h2v2h-2zM1049 1922h2v2h-2zM738 2032h2v2h-2zM853 1856h2v2h-2zM615 1980h2v2h-2zM748 1864h2v2h-2zM867 2158h2v2h-2zM799 2115h2v2h-2zM696 1924h2v2h-2zM1011 2071h2v2h-2zM830 2113h2v2h-2zM728 2217h2v2h-2zM689 2123h2v2h-2zM724 2049h2v2h-2zM895 2026h2v2h-2zM671 2101h2v2h-2zM756 2068h2v2h-2zM666 1986h2v2h-2zM885 1909h2v2h-2zM736 2146h2v2h-2zM844 1961h2v2h-2zM813 2008h2v2h-2zM692 2119h2v2h-2zM827 2030h2v2h-2zM852 2154h2v2h-2zM632 1919h2v2h-2zM827 2115h2v2h-2zM1128 1897h2v2h-2zM722 1879h2v2h-2zM820 1927h2v2h-2zM612 2048h2v2h-2zM801 1965h2v2h-2zM691 1892h2v2h-2zM834 2161h2v2h-2zM748 1935h2v2h-2zM629 2024h2v2h-2zM869 2062h2v2h-2zM730 1986h2v2h-2zM646 2074h2v2h-2zM760 2101h2v2h-2zM651 2025h2v2h-2zM795 2145h2v2h-2zM746 1974h2v2h-2zM714 1925h2v2h-2zM824 2057h2v2h-2zM618 1935h2v2h-2zM856 2075h2v2h-2zM541 2025h2v2h-2zM923 1987h2v2h-2zM772 2096h2v2h-2zM725 2092h2v2h-2zM675 1727h2v2h-2zM811 2002h2v2h-2zM736 2050h2v2h-2zM734 2087h2v2h-2zM862 1979h2v2h-2zM707 1916h2v2h-2zM728 2049h2v2h-2zM799 2107h2v2h-2zM867 1821h2v2h-2zM737 1879h2v2h-2zM770 1974h2v2h-2zM758 1765h2v2h-2zM832 1973h2v2h-2zM911 2122h2v2h-2zM654 1924h2v2h-2zM739 2050h2v2h-2zM748 1943h2v2h-2zM816 2080h2v2h-2zM912 2104h2v2h-2zM751 2172h2v2h-2zM776 2043h2v2h-2zM873 2146h2v2h-2zM621 2077h2v2h-2zM671 1986h2v2h-2zM705 2190h2v2h-2zM752 1973h2v2h-2zM777 2053h2v2h-2zM698 2292h2v2h-2zM939 2126h2v2h-2zM678 1949h2v2h-2zM731 2066h2v2h-2zM868 1978h2v2h-2zM835 2020h2v2h-2zM751 1878h2v2h-2zM793 2058h2v2h-2zM840 1873h2v2h-2zM751 2074h2v2h-2zM821 2075h2v2h-2zM655 2124h2v2h-2zM760 2269h2v2h-2zM577 1862h2v2h-2zM657 1910h2v2h-2zM630 1931h2v2h-2zM885 1976h2v2h-2zM702 2128h2v2h-2zM783 2000h2v2h-2zM653 1974h2v2h-2zM730 1917h2v2h-2zM721 1969h2v2h-2zM660 1989h2v2h-2zM842 2024h2v2h-2zM574 1885h2v2h-2zM817 2027h2v2h-2zM1034 2095h2v2h-2zM663 2072h2v2h-2zM753 1905h2v2h-2zM584 2121h2v2h-2zM747 2119h2v2h-2zM564 2067h2v2h-2zM816 1907h2v2h-2zM696 1881h2v2h-2zM551 2039h2v2h-2zM610 1928h2v2h-2zM578 1895h2v2h-2zM717 2129h2v2h-2zM838 2131h2v2h-2zM704 2103h2v2h-2zM621 2173h2v2h-2zM657 2130h2v2h-2zM758 1914h2v2h-2zM485 2156h2v2h-2zM807 2048h2v2h-2zM788 2082h2v2h-2zM482 2200h2v2h-2zM870 2082h2v2h-2zM568 2200h2v2h-2zM720 2041h2v2h-2zM869 1995h2v2h-2zM567 1961h2v2h-2zM544 2021h2v2h-2zM622 1859h2v2h-2zM626 2029h2v2h-2zM727 2023h2v2h-2zM685 1979h2v2h-2zM688 1801h2v2h-2zM689 1810h2v2h-2zM721 2109h2v2h-2zM649 1935h2v2h-2zM776 2179h2v2h-2zM740 1960h2v2h-2zM632 2073h2v2h-2zM936 1884h2v2h-2zM604 1969h2v2h-2zM820 2012h2v2h-2zM661 2096h2v2h-2zM780 2212h2v2h-2zM797 2137h2v2h-2zM834 1883h2v2h-2zM894 2036h2v2h-2zM651 2018h2v2h-2zM1048 1969h2v2h-2zM786 2097h2v2h-2zM655 2201h2v2h-2zM597 1988h2v2h-2zM994 2153h2v2h-2zM920 2182h2v2h-2zM742 1924h2v2h-2zM825 2222h2v2h-2zM885 2213h2v2h-2zM755 2067h2v2h-2zM699 2215h2v2h-2zM740 2062h2v2h-2zM834 2157h2v2h-2zM747 2104h2v2h-2zM613 1945h2v2h-2zM826 2063h2v2h-2zM559 2018h2v2h-2zM664 1984h2v2h-2zM878 1915h2v2h-2zM770 1954h2v2h-2zM770 1906h2v2h-2zM756 2155h2v2h-2zM855 1830h2v2h-2zM739 2044h2v2h-2zM535 1971h2v2h-2zM771 1904h2v2h-2zM415 2112h2v2h-2zM524 1952h2v2h-2zM914 2162h2v2h-2zM856 2017h2v2h-2zM695 2071h2v2h-2zM736 2022h2v2h-2zM754 2104h2v2h-2zM852 2134h2v2h-2zM661 1988h2v2h-2zM650 2035h2v2h-2zM677 2220h2v2h-2zM759 1975h2v2h-2zM772 2226h2v2h-2zM702 1994h2v2h-2zM826 1977h2v2h-2zM634 1858h2v2h-2zM736 1947h2v2h-2zM670 1853h2v2h-2zM636 1976h2v2h-2zM876 2108h2v2h-2zM710 2029h2v2h-2zM636 1972h2v2h-2zM748 1928h2v2h-2zM636 1963h2v2h-2zM808 1883h2v2h-2zM835 1902h2v2h-2zM854 2240h2v2h-2zM630 2061h2v2h-2zM728 1939h2v2h-2zM942 2106h2v2h-2zM721 2193h2v2h-2zM880 1969h2v2h-2zM908 2024h2v2h-2zM596 1904h2v2h-2zM874 1868h2v2h-2zM825 2180h2v2h-2zM839 2395h2v2h-2zM926 1958h2v2h-2zM794 1865h2v2h-2zM753 2185h2v2h-2zM810 2147h2v2h-2zM708 2086h2v2h-2zM798 2190h2v2h-2zM529 2000h2v2h-2zM930 2065h2v2h-2zM688 2119h2v2h-2zM803 2003h2v2h-2zM778 2086h2v2h-2zM756 2011h2v2h-2zM756 2083h2v2h-2zM751 2052h2v2h-2zM568 1828h2v2h-2zM686 2045h2v2h-2zM873 1885h2v2h-2zM635 1946h2v2h-2zM631 1861h2v2h-2zM971 2121h2v2h-2zM874 2001h2v2h-2zM912 1995h2v2h-2zM743 2166h2v2h-2zM773 2110h2v2h-2zM826 2013h2v2h-2zM804 1817h2v2h-2zM735 2105h2v2h-2zM587 2007h2v2h-2zM665 1997h2v2h-2zM582 2112h2v2h-2zM912 1969h2v2h-2zM700 2027h2v2h-2zM724 2128h2v2h-2zM773 2095h2v2h-2zM745 1971h2v2h-2zM799 2188h2v2h-2zM676 2156h2v2h-2zM579 2234h2v2h-2zM930 2030h2v2h-2zM666 2058h2v2h-2zM691 2146h2v2h-2zM657 2082h2v2h-2zM683 2050h2v2h-2zM744 2025h2v2h-2zM821 2004h2v2h-2zM629 1967h2v2h-2zM772 1968h2v2h-2zM669 2078h2v2h-2zM869 2004h2v2h-2zM609 1888h2v2h-2zM751 2041h2v2h-2zM817 2210h2v2h-2zM595 2178h2v2h-2zM752 1825h2v2h-2zM756 1947h2v2h-2zM655 2117h2v2h-2zM717 2044h2v2h-2zM846 2043h2v2h-2zM766 2022h2v2h-2zM696 2042h2v2h-2zM717 1929h2v2h-2zM787 2160h2v2h-2zM875 1927h2v2h-2zM824 2021h2v2h-2zM817 2197h2v2h-2zM906 2150h2v2h-2zM575 2035h2v2h-2zM586 2035h2v2h-2zM497 1974h2v2h-2zM827 1984h2v2h-2zM496 2011h2v2h-2zM734 2176h2v2h-2zM818 1991h2v2h-2zM590 2096h2v2h-2zM668 2081h2v2h-2zM710 2079h2v2h-2zM815 2007h2v2h-2zM577 2114h2v2h-2zM772 2054h2v2h-2zM812 2047h2v2h-2zM753 1988h2v2h-2zM754 1812h2v2h-2zM870 2114h2v2h-2zM761 2116h2v2h-2zM735 1985h2v2h-2zM702 2019h2v2h-2zM806 2068h2v2h-2zM707 1936h2v2h-2zM806 2112h2v2h-2zM748 2112h2v2h-2zM857 2127h2v2h-2zM654 2134h2v2h-2zM745 1840h2v2h-2zM774 2093h2v2h-2zM781 1992h2v2h-2zM857 2154h2v2h-2zM779 2149h2v2h-2zM833 2124h2v2h-2zM944 2030h2v2h-2zM826 2331h2v2h-2zM626 2033h2v2h-2zM587 1930h2v2h-2zM808 2140h2v2h-2zM697 1888h2v2h-2zM768 2239h2v2h-2zM719 2145h2v2h-2zM875 2178h2v2h-2zM863 2148h2v2h-2zM618 2082h2v2h-2zM766 1902h2v2h-2zM705 1977h2v2h-2zM599 2099h2v2h-2zM805 2019h2v2h-2zM722 2079h2v2h-2zM784 1969h2v2h-2zM998 1958h2v2h-2zM877 2071h2v2h-2zM853 2117h2v2h-2zM694 2041h2v2h-2zM612 1938h2v2h-2zM868 1867h2v2h-2zM705 2251h2v2h-2zM742 1921h2v2h-2zM697 1949h2v2h-2zM747 1964h2v2h-2zM990 2133h2v2h-2zM704 1961h2v2h-2zM707 2096h2v2h-2zM758 2070h2v2h-2zM767 1920h2v2h-2zM610 2055h2v2h-2zM550 1911h2v2h-2zM675 2022h2v2h-2zM714 2115h2v2h-2zM653 2014h2v2h-2zM631 1943h2v2h-2zM637 1995h2v2h-2zM694 2019h2v2h-2zM723 2073h2v2h-2zM564 1799h2v2h-2zM677 1845h2v2h-2zM772 2088h2v2h-2zM721 2025h2v2h-2zM592 2038h2v2h-2zM697 2059h2v2h-2zM732 2019h2v2h-2zM815 1989h2v2h-2zM563 2047h2v2h-2zM806 2105h2v2h-2zM685 2071h2v2h-2zM755 2037h2v2h-2zM805 1927h2v2h-2zM642 2060h2v2h-2zM649 1915h2v2h-2zM722 1965h2v2h-2zM810 2051h2v2h-2zM676 2047h2v2h-2zM585 2149h2v2h-2zM660 2127h2v2h-2zM773 2086h2v2h-2zM855 2001h2v2h-2zM680 2034h2v2h-2zM699 2010h2v2h-2zM714 2215h2v2h-2zM718 2083h2v2h-2zM633 1968h2v2h-2zM686 1947h2v2h-2zM755 2164h2v2h-2zM743 1945h2v2h-2zM734 2073h2v2h-2zM627 2054h2v2h-2zM675 2146h2v2h-2zM657 1945h2v2h-2zM842 2083h2v2h-2zM884 2056h2v2h-2zM768 2118h2v2h-2zM899 2177h2v2h-2zM701 2046h2v2h-2zM702 2012h2v2h-2zM597 2127h2v2h-2zM756 1890h2v2h-2zM685 2055h2v2h-2zM742 1934h2v2h-2zM783 1911h2v2h-2zM707 1872h2v2h-2zM615 1864h2v2h-2zM728 2122h2v2h-2zM725 2127h2v2h-2zM736 2047h2v2h-2zM803 2144h2v2h-2zM710 2039h2v2h-2zM705 1985h2v2h-2zM914 1924h2v2h-2zM845 2116h2v2h-2zM724 2121h2v2h-2zM636 2167h2v2h-2zM687 1954h2v2h-2zM773 2007h2v2h-2zM821 1897h2v2h-2zM984 2156h2v2h-2zM709 2110h2v2h-2zM750 2090h2v2h-2zM697 2035h2v2h-2zM743 2022h2v2h-2zM695 1999h2v2h-2zM624 2150h2v2h-2zM841 1972h2v2h-2zM749 2130h2v2h-2zM869 2067h2v2h-2zM683 1933h2v2h-2zM763 1887h2v2h-2zM804 1956h2v2h-2zM541 2034h2v2h-2zM599 1904h2v2h-2zM814 2103h2v2h-2zM747 2156h2v2h-2zM546 2094h2v2h-2zM660 1862h2v2h-2zM628 1794h2v2h-2zM687 2128h2v2h-2zM897 2192h2v2h-2zM678 1996h2v2h-2zM948 2092h2v2h-2zM711 2010h2v2h-2zM661 1971h2v2h-2zM900 2141h2v2h-2zM836 1980h2v2h-2zM881 2126h2v2h-2zM940 2217h2v2h-2zM849 2025h2v2h-2zM865 2232h2v2h-2zM560 1901h2v2h-2zM653 2133h2v2h-2zM785 2039h2v2h-2zM761 2305h2v2h-2zM814 2042h2v2h-2zM690 1955h2v2h-2zM855 2207h2v2h-2zM950 1878h2v2h-2zM801 2084h2v2h-2zM827 1958h2v2h-2zM793 2182h2v2h-2zM837 2027h2v2h-2zM763 2127h2v2h-2zM689 2034h2v2h-2zM762 1923h2v2h-2zM753 1813h2v2h-2zM583 2224h2v2h-2zM766 2062h2v2h-2zM744 1917h2v2h-2zM763 2005h2v2h-2zM685 2141h2v2h-2zM792 1882h2v2h-2zM806 2274h2v2h-2zM668 2011h2v2h-2zM775 1999h2v2h-2zM822 2172h2v2h-2zM819 2059h2v2h-2zM646 1932h2v2h-2zM635 2133h2v2h-2zM743 2084h2v2h-2zM632 2155h2v2h-2zM1000 1941h2v2h-2zM656 1919h2v2h-2zM657 2102h2v2h-2zM806 1991h2v2h-2zM690 1811h2v2h-2zM495 1975h2v2h-2zM723 2102h2v2h-2zM635 1961h2v2h-2zM682 2170h2v2h-2zM569 1984h2v2h-2zM642 2026h2v2h-2zM718 1866h2v2h-2zM727 1952h2v2h-2zM619 2016h2v2h-2zM660 2096h2v2h-2zM645 2055h2v2h-2zM748 2147h2v2h-2zM717 1808h2v2h-2zM603 2038h2v2h-2zM799 2020h2v2h-2zM659 1926h2v2h-2zM772 2031h2v2h-2zM636 1958h2v2h-2zM762 2080h2v2h-2zM719 1999h2v2h-2zM737 2089h2v2h-2zM783 1940h2v2h-2zM776 2169h2v2h-2zM748 2077h2v2h-2zM748 2223h2v2h-2zM599 2021h2v2h-2zM723 1983h2v2h-2zM503 2050h2v2h-2zM498 1987h2v2h-2zM698 1926h2v2h-2zM707 2037h2v2h-2zM885 2029h2v2h-2zM800 1967h2v2h-2zM845 1995h2v2h-2zM699 1933h2v2h-2zM777 2051h2v2h-2zM852 1894h2v2h-2zM786 2214h2v2h-2zM768 2039h2v2h-2zM742 2135h2v2h-2zM637 1909h2v2h-2zM639 2072h2v2h-2zM584 2022h2v2h-2zM775 2139h2v2h-2zM705 2127h2v2h-2zM663 1863h2v2h-2zM770 2156h2v2h-2zM674 1879h2v2h-2zM842 2177h2v2h-2zM931 2030h2v2h-2zM780 1910h2v2h-2zM662 2110h2v2h-2zM579 2040h2v2h-2zM942 1931h2v2h-2zM781 1958h2v2h-2zM612 2086h2v2h-2zM845 1891h2v2h-2zM561 1945h2v2h-2zM688 2231h2v2h-2zM710 1955h2v2h-2zM697 2075h2v2h-2zM616 2083h2v2h-2zM983 2137h2v2h-2zM693 2128h2v2h-2zM774 1770h2v2h-2zM738 1985h2v2h-2zM568 2160h2v2h-2zM677 1952h2v2h-2zM756 2228h2v2h-2zM831 2062h2v2h-2zM699 1907h2v2h-2zM773 2095h2v2h-2zM700 2241h2v2h-2zM796 1965h2v2h-2zM477 2095h2v2h-2zM797 1943h2v2h-2zM670 1974h2v2h-2zM675 2048h2v2h-2zM439 2090h2v2h-2zM624 2073h2v2h-2zM799 2058h2v2h-2zM976 2290h2v2h-2zM662 1922h2v2h-2zM666 1839h2v2h-2zM786 2095h2v2h-2zM765 2056h2v2h-2zM674 1884h2v2h-2zM718 2218h2v2h-2zM696 1962h2v2h-2zM800 1887h2v2h-2zM818 2081h2v2h-2zM919 2104h2v2h-2zM831 2285h2v2h-2zM805 1874h2v2h-2zM752 1901h2v2h-2zM834 2007h2v2h-2zM633 1990h2v2h-2zM961 2028h2v2h-2zM765 1961h2v2h-2zM884 1871h2v2h-2zM653 1989h2v2h-2zM844 2111h2v2h-2zM778 2120h2v2h-2zM717 1967h2v2h-2zM667 2093h2v2h-2zM644 2080h2v2h-2zM924 1984h2v2h-2zM864 1999h2v2h-2zM749 2041h2v2h-2zM757 2333h2v2h-2zM661 2054h2v2h-2zM545 1942h2v2h-2zM549 2019h2v2h-2zM673 1977h2v2h-2zM720 2157h2v2h-2zM614 1807h2v2h-2zM820 1920h2v2h-2zM791 2124h2v2h-2zM753 2081h2v2h-2zM552 2040h2v2h-2zM714 2113h2v2h-2zM733 1896h2v2h-2zM605 2075h2v2h-2zM508 1916h2v2h-2zM937 1900h2v2h-2zM802 2089h2v2h-2zM696 1952h2v2h-2zM904 1999h2v2h-2zM853 2103h2v2h-2zM783 1926h2v2h-2zM760 2101h2v2h-2zM818 2275h2v2h-2zM890 2016h2v2h-2zM744 2139h2v2h-2zM712 2119h2v2h-2zM798 1902h2v2h-2zM441 1892h2v2h-2zM746 2037h2v2h-2zM694 1811h2v2h-2zM735 2042h2v2h-2zM717 2065h2v2h-2zM772 2087h2v2h-2zM748 2085h2v2h-2zM744 2179h2v2h-2zM723 2002h2v2h-2zM784 2181h2v2h-2zM683 2094h2v2h-2zM840 2094h2v2h-2zM560 2021h2v2h-2zM758 2139h2v2h-2zM784 1958h2v2h-2zM603 2115h2v2h-2zM691 2157h2v2h-2zM876 1967h2v2h-2zM723 1937h2v2h-2zM644 1957h2v2h-2zM424 2034h2v2h-2zM772 2077h2v2h-2zM747 2131h2v2h-2zM801 2239h2v2h-2zM952 2211h2v2h-2zM736 2067h2v2h-2zM751 1997h2v2h-2zM665 1910h2v2h-2zM730 2126h2v2h-2zM734 2093h2v2h-2zM816 2008h2v2h-2zM795 2021h2v2h-2zM656 2026h2v2h-2zM687 1764h2v2h-2zM881 2032h2v2h-2zM636 2073h2v2h-2zM815 2025h2v2h-2zM907 1925h2v2h-2zM805 2043h2v2h-2zM763 2089h2v2h-2zM880 2229h2v2h-2zM774 2151h2v2h-2zM736 2101h2v2h-2zM715 2033h2v2h-2zM857 1896h2v2h-2zM810 1988h2v2h-2zM899 1893h2v2h-2zM701 2027h2v2h-2zM704 2151h2v2h-2zM691 2150h2v2h-2zM766 2134h2v2h-2zM664 2040h2v2h-2zM834 2144h2v2h-2zM772 2009h2v2h-2zM634 1830h2v2h-2zM425 2053h2v2h-2zM545 2042h2v2h-2zM888 1853h2v2h-2zM730 1982h2v2h-2zM752 1778h2v2h-2zM692 1987h2v2h-2zM778 2167h2v2h-2zM535 1969h2v2h-2zM526 2178h2v2h-2zM565 2062h2v2h-2zM743 1959h2v2h-2zM810 1849h2v2h-2zM786 2118h2v2h-2zM723 2109h2v2h-2zM602 1880h2v2h-2zM820 1993h2v2h-2zM707 2156h2v2h-2zM734 1959h2v2h-2zM728 2080h2v2h-2zM687 1831h2v2h-2zM660 1940h2v2h-2zM674 2115h2v2h-2zM601 1912h2v2h-2zM762 1885h2v2h-2zM718 1890h2v2h-2zM843 1998h2v2h-2zM546 1870h2v2h-2zM859 2026h2v2h-2zM729 2097h2v2h-2zM719 2201h2v2h-2zM652 1995h2v2h-2zM650 2210h2v2h-2zM579 2098h2v2h-2zM830 2014h2v2h-2zM714 2093h2v2h-2zM811 2200h2v2h-2zM823 2197h2v2h-2zM684 2118h2v2h-2zM711 2028h2v2h-2zM700 2127h2v2h-2zM844 2061h2v2h-2zM750 2056h2v2h-2zM754 2066h2v2h-2zM812 2231h2v2h-2zM728 1911h2v2h-2zM951 2030h2v2h-2zM639 1922h2v2h-2zM868 2130h2v2h-2zM884 2156h2v2h-2zM616 2182h2v2h-2zM827 2000h2v2h-2zM766 2044h2v2h-2zM828 2120h2v2h-2zM610 2058h2v2h-2zM762 2069h2v2h-2zM634 2059h2v2h-2zM702 2067h2v2h-2zM886 2026h2v2h-2zM722 2085h2v2h-2zM500 1883h2v2h-2zM590 1994h2v2h-2zM617 1897h2v2h-2zM843 2029h2v2h-2zM663 1961h2v2h-2zM573 2096h2v2h-2zM854 2172h2v2h-2zM763 1907h2v2h-2zM773 1956h2v2h-2zM653 2074h2v2h-2zM886 2192h2v2h-2zM724 2121h2v2h-2zM529 2086h2v2h-2zM617 2033h2v2h-2zM648 1992h2v2h-2zM720 2080h2v2h-2zM817 2092h2v2h-2zM660 2056h2v2h-2zM674 1977h2v2h-2zM968 1868h2v2h-2zM745 1948h2v2h-2zM681 1999h2v2h-2zM740 1915h2v2h-2zM605 2073h2v2h-2zM793 1888h2v2h-2zM838 2006h2v2h-2zM675 2076h2v2h-2zM842 2125h2v2h-2zM706 2064h2v2h-2zM767 2167h2v2h-2zM659 1976h2v2h-2zM653 1956h2v2h-2zM579 2154h2v2h-2zM760 1945h2v2h-2zM707 2022h2v2h-2zM710 1855h2v2h-2zM618 2157h2v2h-2zM614 2114h2v2h-2zM670 1959h2v2h-2zM786 1853h2v2h-2zM768 2065h2v2h-2zM665 2067h2v2h-2zM767 2162h2v2h-2zM921 2235h2v2h-2zM748 2063h2v2h-2zM949 2015h2v2h-2zM782 2013h2v2h-2zM876 2006h2v2h-2zM681 1893h2v2h-2zM860 1943h2v2h-2zM612 2029h2v2h-2zM762 1864h2v2h-2zM701 1899h2v2h-2zM527 2167h2v2h-2zM593 1967h2v2h-2zM855 2123h2v2h-2zM788 2154h2v2h-2zM873 2039h2v2h-2zM757 2126h2v2h-2zM432 2019h2v2h-2zM763 1945h2v2h-2zM677 2027h2v2h-2zM684 2045h2v2h-2zM689 2051h2v2h-2zM656 2046h2v2h-2zM636 1996h2v2h-2zM867 2151h2v2h-2zM783 2017h2v2h-2zM668 1994h2v2h-2zM692 2137h2v2h-2zM838 1933h2v2h-2zM776 2038h2v2h-2zM757 2195h2v2h-2zM607 2046h2v2h-2zM690 2189h2v2h-2zM617 2012h2v2h-2zM535 1985h2v2h-2zM830 2022h2v2h-2zM701 1980h2v2h-2zM693 2002h2v2h-2zM635 1993h2v2h-2zM815 2124h2v2h-2zM956 2082h2v2h-2zM797 2017h2v2h-2zM833 1961h2v2h-2zM605 2378h2v2h-2zM754 2019h2v2h-2zM759 2188h2v2h-2zM892 1915h2v2h-2zM737 1962h2v2h-2zM637 2169h2v2h-2zM729 1924h2v2h-2zM690 1927h2v2h-2zM888 2034h2v2h-2zM805 1963h2v2h-2zM771 2009h2v2h-2zM754 2056h2v2h-2zM824 2131h2v2h-2zM684 2059h2v2h-2zM639 2071h2v2h-2zM538 2180h2v2h-2zM860 2189h2v2h-2zM789 2003h2v2h-2zM803 1844h2v2h-2zM740 1934h2v2h-2zM910 2153h2v2h-2zM632 1990h2v2h-2zM862 1965h2v2h-2zM647 1992h2v2h-2zM688 2208h2v2h-2zM607 2046h2v2h-2zM744 2000h2v2h-2zM704 1966h2v2h-2zM780 1924h2v2h-2zM673 2338h2v2h-2zM588 2036h2v2h-2zM794 2056h2v2h-2zM870 2007h2v2h-2zM812 2153h2v2h-2zM729 1934h2v2h-2zM777 1838h2v2h-2zM556 1980h2v2h-2zM699 2076h2v2h-2zM856 2279h2v2h-2zM783 2032h2v2h-2zM645 1949h2v2h-2zM824 2016h2v2h-2zM720 1958h2v2h-2zM811 1958h2v2h-2zM586 2050h2v2h-2zM679 2072h2v2h-2zM768 1971h2v2h-2zM766 2156h2v2h-2zM792 2032h2v2h-2zM733 2053h2v2h-2zM713 1986h2v2h-2zM784 2079h2v2h-2zM825 2084h2v2h-2zM575 2111h2v2h-2zM700 1955h2v2h-2zM713 2107h2v2h-2zM751 1981h2v2h-2zM840 2051h2v2h-2zM595 2120h2v2h-2zM790 2201h2v2h-2zM553 1994h2v2h-2zM655 1924h2v2h-2zM680 2056h2v2h-2zM706 2170h2v2h-2zM670 2006h2v2h-2zM680 2298h2v2h-2zM699 1842h2v2h-2zM706 2200h2v2h-2zM541 2165h2v2h-2zM588 2159h2v2h-2zM689 1954h2v2h-2zM790 2185h2v2h-2zM839 2165h2v2h-2zM1033 2174h2v2h-2zM746 2018h2v2h-2zM652 2016h2v2h-2zM753 2179h2v2h-2zM806 2078h2v2h-2zM749 2003h2v2h-2zM624 1954h2v2h-2zM724 2070h2v2h-2zM730 1898h2v2h-2zM587 2103h2v2h-2zM608 2058h2v2h-2zM860 1878h2v2h-2zM501 2090h2v2h-2zM752 2169h2v2h-2zM707 2068h2v2h-2zM879 1901h2v2h-2zM798 1977h2v2h-2zM644 2130h2v2h-2zM866 1904h2v2h-2zM676 2002h2v2h-2zM942 2162h2v2h-2zM907 2011h2v2h-2zM726 1980h2v2h-2zM815 2127h2v2h-2zM754 2212h2v2h-2zM640 2083h2v2h-2zM846 1901h2v2h-2zM779 1871h2v2h-2zM824 2015h2v2h-2zM847 1850h2v2h-2zM883 2032h2v2h-2zM843 2137h2v2h-2zM726 1760h2v2h-2zM745 2022h2v2h-2zM779 2075h2v2h-2zM723 1984h2v2h-2zM711 2082h2v2h-2zM930 2094h2v2h-2zM787 2152h2v2h-2zM933 2327h2v2h-2zM656 2075h2v2h-2zM732 1946h2v2h-2zM691 1932h2v2h-2zM695 1910h2v2h-2zM706 2116h2v2h-2zM723 2077h2v2h-2zM691 2090h2v2h-2zM924 2062h2v2h-2zM807 2210h2v2h-2zM659 2157h2v2h-2zM679 2148h2v2h-2zM814 1969h2v2h-2zM793 2007h2v2h-2zM673 1903h2v2h-2zM832 1972h2v2h-2zM587 2050h2v2h-2zM687 1911h2v2h-2zM916 1973h2v2h-2zM465 2254h2v2h-2zM715 2021h2v2h-2zM839 1882h2v2h-2zM721 1909h2v2h-2zM655 2031h2v2h-2zM644 2130h2v2h-2zM520 2031h2v2h-2zM599 2132h2v2h-2zM743 2074h2v2h-2zM677 1923h2v2h-2zM735 2150h2v2h-2zM721 1993h2v2h-2zM766 2240h2v2h-2zM564 1978h2v2h-2zM704 2026h2v2h-2zM701 1983h2v2h-2zM704 2012h2v2h-2zM644 2089h2v2h-2zM509 2021h2v2h-2zM802 2166h2v2h-2zM821 2086h2v2h-2zM983 2209h2v2h-2zM812 2049h2v2h-2zM907 2178h2v2h-2zM798 2169h2v2h-2zM697 2026h2v2h-2zM788 2310h2v2h-2zM615 2202h2v2h-2zM762 2099h2v2h-2zM725 2021h2v2h-2zM627 2033h2v2h-2zM864 2024h2v2h-2zM853 2072h2v2h-2zM785 1922h2v2h-2zM821 2048h2v2h-2zM908 1979h2v2h-2zM723 2219h2v2h-2zM596 2124h2v2h-2zM638 2219h2v2h-2zM809 2295h2v2h-2zM761 2094h2v2h-2zM582 2256h2v2h-2zM874 2083h2v2h-2zM759 2110h2v2h-2zM905 1943h2v2h-2zM855 2052h2v2h-2zM692 2195h2v2h-2zM747 2096h2v2h-2zM661 2004h2v2h-2zM650 2044h2v2h-2zM706 1966h2v2h-2zM790 1973h2v2h-2zM880 1892h2v2h-2zM645 2161h2v2h-2zM811 2160h2v2h-2zM742 2032h2v2h-2zM715 1902h2v2h-2zM856 2019h2v2h-2zM701 2256h2v2h-2zM882 1903h2v2h-2zM704 1991h2v2h-2zM643 1994h2v2h-2zM819 2128h2v2h-2zM587 1910h2v2h-2zM615 2072h2v2h-2zM720 1957h2v2h-2zM739 2006h2v2h-2zM711 1915h2v2h-2zM534 2100h2v2h-2zM600 1992h2v2h-2zM793 1981h2v2h-2zM796 2160h2v2h-2zM634 2081h2v2h-2zM767 2294h2v2h-2zM761 2089h2v2h-2zM846 2053h2v2h-2zM663 2058h2v2h-2zM892 2335h2v2h-2zM708 2176h2v2h-2zM891 2015h2v2h-2zM837 2078h2v2h-2zM635 1990h2v2h-2zM708 2115h2v2h-2zM770 1992h2v2h-2zM846 1986h2v2h-2zM596 2091h2v2h-2zM688 2188h2v2h-2zM805 2135h2v2h-2zM790 2124h2v2h-2zM630 2049h2v2h-2zM646 1789h2v2h-2zM785 2027h2v2h-2zM633 2022h2v2h-2zM764 2101h2v2h-2zM836 2230h2v2h-2zM742 2124h2v2h-2zM460 1860h2v2h-2zM863 2046h2v2h-2zM860 2019h2v2h-2zM888 2120h2v2h-2zM830 2037h2v2h-2zM564 1841h2v2h-2zM888 1948h2v2h-2zM776 2009h2v2h-2zM838 1826h2v2h-2zM724 2030h2v2h-2zM715 2012h2v2h-2zM716 2156h2v2h-2zM907 2030h2v2h-2zM769 1976h2v2h-2zM719 2029h2v2h-2zM606 2044h2v2h-2zM789 2145h2v2h-2zM741 1941h2v2h-2zM757 1803h2v2h-2zM844 2334h2v2h-2zM816 2122h2v2h-2zM741 2046h2v2h-2zM763 2298h2v2h-2zM750 1920h2v2h-2zM815 1957h2v2h-2zM813 1994h2v2h-2zM755 2093h2v2h-2zM651 1992h2v2h-2zM829 2124h2v2h-2zM835 2004h2v2h-2zM628 2179h2v2h-2zM781 2090h2v2h-2zM700 1865h2v2h-2zM511 2037h2v2h-2zM735 1919h2v2h-2zM839 2026h2v2h-2zM663 2040h2v2h-2zM666 2279h2v2h-2zM846 2015h2v2h-2zM624 1869h2v2h-2zM641 2051h2v2h-2zM706 1916h2v2h-2zM805 2234h2v2h-2zM805 2115h2v2h-2zM684 2207h2v2h-2zM707 1997h2v2h-2zM748 1928h2v2h-2zM698 2070h2v2h-2zM649 1893h2v2h-2zM625 1936h2v2h-2zM814 1958h2v2h-2zM716 2024h2v2h-2zM1039 1877h2v2h-2zM804 1819h2v2h-2zM660 2191h2v2h-2zM739 1981h2v2h-2zM775 2019h2v2h-2zM781 2102h2v2h-2zM786 2086h2v2h-2zM786 1969h2v2h-2zM724 1991h2v2h-2zM807 2211h2v2h-2zM968 2174h2v2h-2zM693 2119h2v2h-2zM699 2217h2v2h-2zM813 1838h2v2h-2zM869 2054h2v2h-2zM824 2010h2v2h-2zM866 1835h2v2h-2zM734 2077h2v2h-2zM715 2110h2v2h-2zM807 2069h2v2h-2zM809 1847h2v2h-2zM914 2018h2v2h-2zM902 2064h2v2h-2zM548 2016h2v2h-2zM820 2071h2v2h-2zM669 2095h2v2h-2zM518 2193h2v2h-2zM780 2067h2v2h-2zM721 2324h2v2h-2zM702 2065h2v2h-2zM604 2073h2v2h-2zM632 2126h2v2h-2zM716 2034h2v2h-2zM582 2008h2v2h-2zM727 2175h2v2h-2zM750 1813h2v2h-2zM722 1853h2v2h-2zM769 2265h2v2h-2zM731 2122h2v2h-2zM616 2101h2v2h-2zM630 2075h2v2h-2zM752 2073h2v2h-2zM839 1942h2v2h-2zM753 2013h2v2h-2zM685 1933h2v2h-2zM755 2167h2v2h-2zM548 2111h2v2h-2zM633 2069h2v2h-2zM698 2085h2v2h-2zM730 2029h2v2h-2zM703 1920h2v2h-2zM709 2226h2v2h-2zM613 2113h2v2h-2zM677 2025h2v2h-2zM763 2107h2v2h-2zM544 2180h2v2h-2zM611 2170h2v2h-2zM700 2115h2v2h-2zM892 2132h2v2h-2zM807 2020h2v2h-2zM900 2189h2v2h-2zM877 2146h2v2h-2zM690 2146h2v2h-2zM729 1905h2v2h-2zM614 2113h2v2h-2zM860 2116h2v2h-2zM813 2130h2v2h-2zM799 1766h2v2h-2zM806 1843h2v2h-2zM785 2073h2v2h-2zM758 1942h2v2h-2zM766 2084h2v2h-2zM863 2033h2v2h-2zM654 2135h2v2h-2zM627 1982h2v2h-2zM737 1928h2v2h-2zM858 2098h2v2h-2zM762 2012h2v2h-2zM715 1915h2v2h-2zM824 1829h2v2h-2zM749 2379h2v2h-2zM538 2002h2v2h-2zM632 2015h2v2h-2zM518 1830h2v2h-2zM714 1931h2v2h-2zM690 2024h2v2h-2zM783 2076h2v2h-2zM958 2124h2v2h-2zM675 1960h2v2h-2zM738 2092h2v2h-2zM697 2164h2v2h-2zM443 1985h2v2h-2zM657 2033h2v2h-2zM662 1846h2v2h-2zM766 1952h2v2h-2zM649 1891h2v2h-2zM602 2112h2v2h-2zM799 2020h2v2h-2zM730 2211h2v2h-2zM644 2060h2v2h-2zM658 2126h2v2h-2zM706 2096h2v2h-2zM823 2062h2v2h-2zM886 1925h2v2h-2zM601 2219h2v2h-2zM859 2030h2v2h-2zM743 1841h2v2h-2zM775 1978h2v2h-2zM839 1921h2v2h-2zM637 2168h2v2h-2zM827 2154h2v2h-2zM601 2206h2v2h-2zM689 2277h2v2h-2zM648 1970h2v2h-2zM914 1836h2v2h-2zM909 1938h2v2h-2zM817 2085h2v2h-2zM791 1747h2v2h-2zM682 1975h2v2h-2zM920 2132h2v2h-2zM884 1948h2v2h-2zM832 2027h2v2h-2zM726 1942h2v2h-2zM702 2230h2v2h-2zM729 2252h2v2h-2zM877 1930h2v2h-2zM640 1948h2v2h-2zM751 2055h2v2h-2zM909 2117h2v2h-2zM831 2089h2v2h-2zM921 2114h2v2h-2zM782 2152h2v2h-2zM784 2177h2v2h-2zM884 2251h2v2h-2zM808 2068h2v2h-2zM775 1998h2v2h-2zM687 2042h2v2h-2zM585 2294h2v2h-2zM895 2143h2v2h-2zM697 2130h2v2h-2zM663 2199h2v2h-2zM831 2187h2v2h-2zM648 2310h2v2h-2zM600 1965h2v2h-2zM681 2075h2v2h-2zM734 2135h2v2h-2zM769 2143h2v2h-2zM794 2011h2v2h-2zM842 1876h2v2h-2zM729 2023h2v2h-2zM779 1977h2v2h-2zM730 2040h2v2h-2zM675 2172h2v2h-2zM783 2128h2v2h-2zM778 1926h2v2h-2zM934 1969h2v2h-2zM804 2072h2v2h-2zM669 2175h2v2h-2zM804 2043h2v2h-2zM716 2074h2v2h-2zM906 1884h2v2h-2zM565 1996h2v2h-2zM673 1962h2v2h-2zM673 2070h2v2h-2zM754 2018h2v2h-2zM728 1951h2v2h-2zM577 1928h2v2h-2zM548 2069h2v2h-2zM761 1974h2v2h-2zM894 2169h2v2h-2zM893 2061h2v2h-2zM700 2015h2v2h-2zM790 2143h2v2h-2zM652 1913h2v2h-2zM592 2143h2v2h-2zM869 1964h2v2h-2zM812 2122h2v2h-2zM707 1968h2v2h-2zM703 1939h2v2h-2zM837 1841h2v2h-2zM775 2046h2v2h-2zM707 2094h2v2h-2zM771 1889h2v2h-2zM741 2234h2v2h-2zM700 2039h2v2h-2zM668 1918h2v2h-2zM838 2254h2v2h-2zM694 1996h2v2h-2zM620 2199h2v2h-2zM930 1733h2v2h-2zM872 2275h2v2h-2zM797 2061h2v2h-2zM736 2039h2v2h-2zM763 2075h2v2h-2zM592 1914h2v2h-2zM740 2140h2v2h-2zM771 2087h2v2h-2zM722 2074h2v2h-2zM787 1977h2v2h-2zM663 1913h2v2h-2zM761 2078h2v2h-2zM580 2128h2v2h-2zM739 2054h2v2h-2zM678 2017h2v2h-2zM604 1982h2v2h-2zM700 2117h2v2h-2zM743 2197h2v2h-2zM680 2022h2v2h-2zM837 1946h2v2h-2zM669 2306h2v2h-2zM838 1870h2v2h-2zM816 2067h2v2h-2zM678 2027h2v2h-2zM888 2181h2v2h-2zM600 2024h2v2h-2zM796 1858h2v2h-2zM747 1915h2v2h-2zM819 2050h2v2h-2zM579 2036h2v2h-2zM617 1967h2v2h-2zM654 1978h2v2h-2zM742 1869h2v2h-2zM748 1878h2v2h-2zM741 1970h2v2h-2zM712 1964h2v2h-2zM666 2023h2v2h-2zM598 1911h2v2h-2zM694 2208h2v2h-2zM793 1849h2v2h-2zM843 2133h2v2h-2zM686 2099h2v2h-2zM849 2211h2v2h-2zM599 2190h2v2h-2zM818 1897h2v2h-2zM626 2079h2v2h-2zM763 2123h2v2h-2zM640 2143h2v2h-2zM638 2097h2v2h-2zM682 1980h2v2h-2zM884 2181h2v2h-2zM669 2029h2v2h-2zM802 1989h2v2h-2zM754 2062h2v2h-2zM769 1994h2v2h-2zM770 1970h2v2h-2zM802 2055h2v2h-2zM614 2327h2v2h-2zM742 2077h2v2h-2zM774 2051h2v2h-2zM678 1994h2v2h-2zM775 2081h2v2h-2zM633 1915h2v2h-2zM812 2095h2v2h-2zM666 2072h2v2h-2zM709 2053h2v2h-2zM819 2094h2v2h-2zM849 2022h2v2h-2zM680 2115h2v2h-2zM672 2101h2v2h-2zM839 2103h2v2h-2zM442 2043h2v2h-2zM875 2138h2v2h-2zM871 2023h2v2h-2zM628 2182h2v2h-2zM860 2031h2v2h-2zM775 2181h2v2h-2zM785 2071h2v2h-2zM500 2040h2v2h-2zM687 1935h2v2h-2zM718 2111h2v2h-2zM696 2082h2v2h-2zM698 2049h2v2h-2zM708 2087h2v2h-2zM443 2058h2v2h-2zM717 1945h2v2h-2zM666 1917h2v2h-2zM728 2112h2v2h-2zM686 2063h2v2h-2zM737 2208h2v2h-2zM767 2260h2v2h-2zM920 2133h2v2h-2zM653 2113h2v2h-2zM911 2105h2v2h-2zM712 2055h2v2h-2zM645 1975h2v2h-2zM588 1761h2v2h-2zM826 2126h2v2h-2zM581 2107h2v2h-2zM831 2047h2v2h-2zM773 2058h2v2h-2zM679 2148h2v2h-2zM669 2143h2v2h-2zM787 2065h2v2h-2zM753 2017h2v2h-2zM813 2109h2v2h-2zM737 2130h2v2h-2zM684 2282h2v2h-2zM792 1946h2v2h-2zM614 2098h2v2h-2zM824 1949h2v2h-2zM742 1995h2v2h-2zM622 2297h2v2h-2zM632 1999h2v2h-2zM703 2030h2v2h-2zM550 1982h2v2h-2zM880 2137h2v2h-2zM836 1999h2v2h-2zM624 1864h2v2h-2zM725 2059h2v2h-2zM911 2133h2v2h-2zM778 2041h2v2h-2zM632 2060h2v2h-2zM514 1968h2v2h-2zM568 1942h2v2h-2zM860 2044h2v2h-2zM769 1920h2v2h-2zM601 1995h2v2h-2zM810 1936h2v2h-2zM699 2017h2v2h-2zM668 2128h2v2h-2zM683 2038h2v2h-2zM689 2164h2v2h-2zM910 2081h2v2h-2zM639 2028h2v2h-2zM695 1944h2v2h-2zM875 2052h2v2h-2zM893 1916h2v2h-2zM635 2123h2v2h-2zM951 1896h2v2h-2zM851 1891h2v2h-2zM583 1949h2v2h-2zM924 1860h2v2h-2zM583 2052h2v2h-2zM807 1957h2v2h-2zM617 1991h2v2h-2zM552 2107h2v2h-2zM825 1802h2v2h-2zM781 2013h2v2h-2zM728 2079h2v2h-2zM757 2150h2v2h-2zM726 2054h2v2h-2zM710 1968h2v2h-2zM626 2141h2v2h-2zM797 2140h2v2h-2zM739 2279h2v2h-2zM711 2272h2v2h-2zM678 2018h2v2h-2zM708 2188h2v2h-2zM579 2063h2v2h-2zM705 1930h2v2h-2zM634 2116h2v2h-2zM870 2181h2v2h-2zM638 1787h2v2h-2zM690 2184h2v2h-2zM738 1951h2v2h-2zM820 2214h2v2h-2zM785 2066h2v2h-2zM738 2057h2v2h-2zM962 2191h2v2h-2zM735 2004h2v2h-2zM770 2266h2v2h-2zM1021 1937h2v2h-2zM644 1975h2v2h-2zM837 1923h2v2h-2zM783 2098h2v2h-2zM600 2032h2v2h-2zM672 2126h2v2h-2zM824 2158h2v2h-2zM586 2125h2v2h-2zM717 2156h2v2h-2zM834 2157h2v2h-2zM712 2030h2v2h-2zM765 1959h2v2h-2zM667 1933h2v2h-2zM672 2119h2v2h-2zM673 1981h2v2h-2zM700 1933h2v2h-2zM802 1947h2v2h-2zM745 2014h2v2h-2zM942 2062h2v2h-2zM794 2010h2v2h-2zM766 1926h2v2h-2zM971 2095h2v2h-2zM725 1796h2v2h-2zM653 2001h2v2h-2zM753 2147h2v2h-2zM623 2063h2v2h-2zM790 2163h2v2h-2zM879 2045h2v2h-2zM803 2096h2v2h-2zM694 2038h2v2h-2zM722 1987h2v2h-2zM787 2074h2v2h-2zM860 2138h2v2h-2zM695 1821h2v2h-2zM693 1945h2v2h-2zM850 1806h2v2h-2zM760 1931h2v2h-2zM773 1893h2v2h-2zM787 1979h2v2h-2zM656 1998h2v2h-2zM721 2133h2v2h-2zM848 2162h2v2h-2zM720 1943h2v2h-2zM716 1976h2v2h-2zM768 2096h2v2h-2zM778 1960h2v2h-2zM1002 1985h2v2h-2zM653 1829h2v2h-2zM752 2107h2v2h-2zM947 2057h2v2h-2zM741 1925h2v2h-2zM777 1886h2v2h-2zM586 1914h2v2h-2zM839 2075h2v2h-2zM828 1976h2v2h-2zM823 1897h2v2h-2zM718 1993h2v2h-2zM776 2121h2v2h-2zM730 2163h2v2h-2zM959 1993h2v2h-2zM749 1936h2v2h-2zM773 2179h2v2h-2zM780 1950h2v2h-2zM845 2110h2v2h-2zM833 2078h2v2h-2zM563 1715h2v2h-2zM603 1749h2v2h-2zM853 2079h2v2h-2zM642 2073h2v2h-2zM597 1940h2v2h-2zM908 1940h2v2h-2zM984 1975h2v2h-2zM574 1922h2v2h-2zM707 2023h2v2h-2zM931 2023h2v2h-2zM662 1878h2v2h-2zM891 2271h2v2h-2zM485 2201h2v2h-2zM693 1960h2v2h-2zM845 2398h2v2h-2zM997 2446h2v2h-2zM896 2240h2v2h-2zM450 2233h2v2h-2zM465 1931h2v2h-2zM580 1977h2v2h-2zM874 1762h2v2h-2zM857 1959h2v2h-2zM919 2196h2v2h-2zM850 1961h2v2h-2zM631 1746h2v2h-2zM665 2303h2v2h-2zM576 2365h2v2h-2zM875 2288h2v2h-2zM512 1771h2v2h-2zM741 2172h2v2h-2zM773 1890h2v2h-2zM944 2008h2v2h-2zM598 2150h2v2h-2zM799 2292h2v2h-2zM557 1925h2v2h-2zM908 1972h2v2h-2zM667 1817h2v2h-2zM677 2033h2v2h-2zM565 1866h2v2h-2zM625 1947h2v2h-2zM618 2161h2v2h-2zM624 2029h2v2h-2zM931 2052h2v2h-2zM559 2079h2v2h-2zM772 2168h2v2h-2zM875 2268h2v2h-2zM534 1833h2v2h-2zM358 1758h2v2h-2zM812 2120h2v2h-2zM445 2150h2v2h-2zM596 2269h2v2h-2zM713 2165h2v2h-2zM778 2327h2v2h-2zM684 2119h2v2h-2zM609 1924h2v2h-2zM902 2203h2v2h-2zM769 1880h2v2h-2zM1063 1915h2v2h-2zM574 2102h2v2h-2zM715 1988h2v2h-2zM723 2191h2v2h-2zM824 1968h2v2h-2zM771 2344h2v2h-2zM735 1858h2v2h-2zM1069 2153h2v2h-2zM703 1953h2v2h-2zM807 2274h2v2h-2zM764 1934h2v2h-2zM626 2163h2v2h-2zM409 1907h2v2h-2zM929 2315h2v2h-2zM463 2066h2v2h-2zM677 2048h2v2h-2zM749 2185h2v2h-2zM646 2445h2v2h-2zM641 1846h2v2h-2zM938 2020h2v2h-2zM1144 1956h2v2h-2zM911 2154h2v2h-2zM759 1914h2v2h-2zM623 1768h2v2h-2zM599 1774h2v2h-2zM940 2147h2v2h-2zM886 2071h2v2h-2zM959 2181h2v2h-2zM904 1761h2v2h-2zM960 1881h2v2h-2zM628 1942h2v2h-2zM596 2180h2v2h-2zM557 2111h2v2h-2zM726 2006h2v2h-2zM698 1863h2v2h-2zM750 2067h2v2h-2zM524 1954h2v2h-2zM761 2187h2v2h-2zM870 2334h2v2h-2zM744 2056h2v2h-2zM727 2442h2v2h-2zM669 2144h2v2h-2zM889 2127h2v2h-2zM703 2056h2v2h-2zM840 2065h2v2h-2zM664 2052h2v2h-2zM787 2081h2v2h-2zM898 1780h2v2h-2zM684 1914h2v2h-2zM784 2021h2v2h-2zM759 2062h2v2h-2zM836 2070h2v2h-2zM710 2110h2v2h-2zM813 1725h2v2h-2zM417 1872h2v2h-2zM691 1923h2v2h-2zM873 2059h2v2h-2zM846 2004h2v2h-2zM565 2375h2v2h-2zM593 1972h2v2h-2zM799 1995h2v2h-2zM792 1772h2v2h-2zM810 2348h2v2h-2zM741 2051h2v2h-2zM749 2017h2v2h-2zM908 1927h2v2h-2zM571 2052h2v2h-2zM493 1977h2v2h-2zM903 2245h2v2h-2zM600 1899h2v2h-2zM848 1963h2v2h-2zM614 1946h2v2h-2zM541 2138h2v2h-2zM994 2094h2v2h-2zM718 2205h2v2h-2zM489 2130h2v2h-2zM692 2135h2v2h-2zM700 2047h2v2h-2zM693 2192h2v2h-2zM757 2120h2v2h-2zM532 2095h2v2h-2zM680 1764h2v2h-2zM805 1958h2v2h-2zM834 1920h2v2h-2zM743 1727h2v2h-2zM591 2261h2v2h-2zM392 2285h2v2h-2zM978 2223h2v2h-2zM537 2135h2v2h-2zM651 2291h2v2h-2zM731 1751h2v2h-2zM804 2255h2v2h-2zM724 1691h2v2h-2zM589 2064h2v2h-2zM722 2057h2v2h-2zM1082 2124h2v2h-2zM1155 2148h2v2h-2zM691 2158h2v2h-2zM839 1917h2v2h-2zM430 1921h2v2h-2zM765 1894h2v2h-2zM851 2058h2v2h-2zM678 1977h2v2h-2zM1040 1764h2v2h-2zM879 2199h2v2h-2zM834 1841h2v2h-2zM284 1952h2v2h-2zM625 1909h2v2h-2zM851 1908h2v2h-2zM646 2134h2v2h-2zM430 1917h2v2h-2zM631 1790h2v2h-2zM990 1922h2v2h-2zM846 1859h2v2h-2zM878 1773h2v2h-2zM764 2190h2v2h-2zM1006 2231h2v2h-2zM527 2302h2v2h-2zM1058 2347h2v2h-2zM910 1798h2v2h-2zM773 2106h2v2h-2zM673 1987h2v2h-2zM422 2176h2v2h-2zM707 2141h2v2h-2zM574 1972h2v2h-2zM966 2116h2v2h-2zM907 2185h2v2h-2zM683 1632h2v2h-2zM886 2026h2v2h-2zM725 2034h2v2h-2zM778 2137h2v2h-2zM650 2228h2v2h-2zM1155 2164h2v2h-2zM476 1903h2v2h-2zM708 2155h2v2h-2zM909 1906h2v2h-2zM907 2166h2v2h-2zM455 2005h2v2h-2zM571 2004h2v2h-2zM716 2058h2v2h-2zM596 1763h2v2h-2zM618 1980h2v2h-2zM689 1831h2v2h-2zM706 2193h2v2h-2zM920 2251h2v2h-2zM442 1788h2v2h-2zM913 1652h2v2h-2zM694 2075h2v2h-2zM832 1937h2v2h-2zM673 1876h2v2h-2zM1134 2424h2v2h-2zM425 1964h2v2h-2zM935 1859h2v2h-2zM657 1987h2v2h-2zM694 2083h2v2h-2zM976 2303h2v2h-2zM699 2087h2v2h-2zM888 1821h2v2h-2zM982 1951h2v2h-2zM632 2348h2v2h-2zM1079 1738h2v2h-2zM949 2027h2v2h-2zM697 2235h2v2h-2zM773 2081h2v2h-2zM613 1998h2v2h-2zM785 1884h2v2h-2zM884 2062h2v2h-2zM907 2124h2v2h-2zM774 2073h2v2h-2zM647 2210h2v2h-2zM625 2070h2v2h-2zM572 2256h2v2h-2zM688 2060h2v2h-2zM838 2191h2v2h-2zM636 1981h2v2h-2zM619 2333h2v2h-2zM555 2250h2v2h-2zM833 2154h2v2h-2zM691 1868h2v2h-2zM459 2069h2v2h-2zM916 1975h2v2h-2zM738 2065h2v2h-2zM675 1889h2v2h-2zM729 2064h2v2h-2zM577 2150h2v2h-2zM906 2346h2v2h-2zM971 2040h2v2h-2zM910 1770h2v2h-2zM776 1637h2v2h-2zM775 2009h2v2h-2zM826 2191h2v2h-2zM1026 2229h2v2h-2zM599 2055h2v2h-2zM732 1925h2v2h-2zM618 1918h2v2h-2zM528 2014h2v2h-2zM792 2054h2v2h-2zM928 2140h2v2h-2zM554 2059h2v2h-2zM903 2380h2v2h-2zM849 2065h2v2h-2zM814 2123h2v2h-2zM967 2217h2v2h-2zM623 2200h2v2h-2zM1010 1929h2v2h-2zM674 1763h2v2h-2zM827 1817h2v2h-2zM472 2102h2v2h-2zM901 2140h2v2h-2zM740 2098h2v2h-2zM638 2174h2v2h-2zM559 2261h2v2h-2zM769 1909h2v2h-2zM960 2476h2v2h-2zM676 2170h2v2h-2zM604 2011h2v2h-2zM556 2084h2v2h-2zM678 1801h2v2h-2zM461 2045h2v2h-2zM670 1902h2v2h-2zM920 2024h2v2h-2zM723 1986h2v2h-2zM707 2393h2v2h-2zM631 1894h2v2h-2zM854 2094h2v2h-2zM840 1972h2v2h-2zM975 2311h2v2h-2zM614 2222h2v2h-2zM543 1781h2v2h-2zM629 1873h2v2h-2zM523 2089h2v2h-2zM723 1936h2v2h-2zM658 2118h2v2h-2zM585 2055h2v2h-2zM723 1857h2v2h-2zM902 1990h2v2h-2zM853 2123h2v2h-2zM624 2029h2v2h-2zM737 2065h2v2h-2zM784 2105h2v2h-2zM843 2021h2v2h-2zM672 2271h2v2h-2zM511 1826h2v2h-2zM789 2122h2v2h-2zM565 1953h2v2h-2zM667 2110h2v2h-2zM685 2185h2v2h-2zM887 2150h2v2h-2zM650 2157h2v2h-2zM758 2171h2v2h-2zM745 1940h2v2h-2zM734 1951h2v2h-2zM747 1973h2v2h-2zM751 2047h2v2h-2zM749 1970h2v2h-2zM741 2159h2v2h-2zM741 2087h2v2h-2zM709 1867h2v2h-2zM726 2051h2v2h-2zM734 2060h2v2h-2zM751 1946h2v2h-2zM754 2029h2v2h-2zM739 2041h2v2h-2zM721 1990h2v2h-2zM744 2028h2v2h-2zM751 2059h2v2h-2zM748 1999h2v2h-2zM727 2030h2v2h-2zM722 1950h2v2h-2zM724 2079h2v2h-2zM722 1990h2v2h-2zM751 2120h2v2h-2zM741 2180h2v2h-2zM767 2153h2v2h-2zM760 2002h2v2h-2zM751 2065h2v2h-2zM727 2016h2v2h-2zM746 2067h2v2h-2zM743 1976h2v2h-2zM717 1963h2v2h-2zM719 2031h2v2h-2zM727 1978h2v2h-2zM755 2121h2v2h-2zM731 2085h2v2h-2zM717 2058h2v2h-2zM738 2024h2v2h-2zM745 2022h2v2h-2zM720 2103h2v2h-2zM764 2040h2v2h-2zM726 2035h2v2h-2zM752 2166h2v2h-2zM746 2045h2v2h-2zM727 2016h2v2h-2zM735 2019h2v2h-2zM737 2124h2v2h-2zM732 2000h2v2h-2zM747 2001h2v2h-2zM738 2112h2v2h-2zM712 2117h2v2h-2zM738 2134h2v2h-2zM721 1975h2v2h-2zM733 2066h2v2h-2zM740 1995h2v2h-2zM735 2064h2v2h-2zM751 1924h2v2h-2zM736 2021h2v2h-2zM729 2111h2v2h-2zM760 2049h2v2h-2zM747 1866h2v2h-2zM735 2105h2v2h-2zM737 2061h2v2h-2zM731 2016h2v2h-2zM738 2035h2v2h-2zM723 2013h2v2h-2zM762 2116h2v2h-2zM754 2033h2v2h-2zM705 1923h2v2h-2zM723 1975h2v2h-2zM736 2150h2v2h-2zM728 2115h2v2h-2zM707 2092h2v2h-2zM746 1980h2v2h-2zM720 2074h2v2h-2zM746 2108h2v2h-2zM743 2043h2v2h-2zM758 2087h2v2h-2zM724 2116h2v2h-2zM762 2109h2v2h-2zM719 2068h2v2h-2zM758 2069h2v2h-2zM752 1949h2v2h-2zM743 2016h2v2h-2zM721 2095h2v2h-2zM759 2156h2v2h-2zM748 2049h2v2h-2zM713 2113h2v2h-2zM700 2037h2v2h-2zM727 1969h2v2h-2zM725 2067h2v2h-2zM747 2069h2v2h-2zM739 1974h2v2h-2zM741 1976h2v2h-2zM729 2040h2v2h-2zM750 2001h2v2h-2zM729 2072h2v2h-2zM715 1941h2v2h-2zM703 2094h2v2h-2zM744 1993h2v2h-2zM728 2062h2v2h-2zM712 1927h2v2h-2zM724 2103h2v2h-2zM731 2051h2v2h-2zM746 2185h2v2h-2zM707 1920h2v2h-2zM731 1908h2v2h-2zM747 2087h2v2h-2zM743 2100h2v2h-2zM748 1911h2v2h-2zM765 2074h2v2h-2zM725 2103h2v2h-2zM728 2136h2v2h-2zM752 2046h2v2h-2zM760 1928h2v2h-2zM742 1901h2v2h-2zM733 2184h2v2h-2zM721 2066h2v2h-2zM746 2106h2v2h-2zM742 2014h2v2h-2zM722 2021h2v2h-2zM730 2022h2v2h-2zM723 1971h2v2h-2zM746 2017h2v2h-2zM735 1959h2v2h-2zM755 2008h2v2h-2zM756 2115h2v2h-2zM742 2039h2v2h-2zM754 1989h2v2h-2zM752 2159h2v2h-2zM759 2129h2v2h-2zM731 2040h2v2h-2zM746 1914h2v2h-2zM764 2128h2v2h-2zM747 2129h2v2h-2zM732 1996h2v2h-2zM741 2138h2v2h-2zM770 1979h2v2h-2zM732 2018h2v2h-2zM729 2005h2v2h-2zM751 2050h2v2h-2zM733 2028h2v2h-2zM716 2138h2v2h-2zM716 2013h2v2h-2zM738 2069h2v2h-2zM729 2040h2v2h-2zM759 2055h2v2h-2zM729 1979h2v2h-2zM718 2035h2v2h-2zM727 2135h2v2h-2zM720 2095h2v2h-2zM755 1955h2v2h-2zM727 2009h2v2h-2zM759 1966h2v2h-2zM746 1986h2v2h-2zM767 1992h2v2h-2zM736 1951h2v2h-2zM750 2070h2v2h-2zM708 2101h2v2h-2zM731 2048h2v2h-2zM727 2004h2v2h-2zM754 2048h2v2h-2zM736 1983h2v2h-2zM748 2111h2v2h-2zM728 2202h2v2h-2zM720 1849h2v2h-2zM737 2064h2v2h-2zM757 2041h2v2h-2zM737 2051h2v2h-2zM760 2018h2v2h-2zM733 1931h2v2h-2zM733 2032h2v2h-2zM733 2009h2v2h-2zM734 2027h2v2h-2zM728 2034h2v2h-2zM735 2002h2v2h-2zM727 2198h2v2h-2zM723 1949h2v2h-2zM760 2010h2v2h-2zM751 1947h2v2h-2zM734 2026h2v2h-2zM729 2146h2v2h-2zM716 2034h2v2h-2zM746 1978h2v2h-2zM729 1943h2v2h-2zM765 2075h2v2h-2zM713 1987h2v2h-2zM743 2081h2v2h-2zM755 1988h2v2h-2zM731 1999h2v2h-2zM767 2033h2v2h-2zM752 1922h2v2h-2zM752 2121h2v2h-2zM726 1956h2v2h-2zM753 2047h2v2h-2zM753 2068h2v2h-2zM740 2202h2v2h-2zM764 2070h2v2h-2zM743 2096h2v2h-2zM706 2001h2v2h-2zM743 2027h2v2h-2zM763 2036h2v2h-2zM730 2112h2v2h-2zM749 1967h2v2h-2zM729 2065h2v2h-2zM738 2237h2v2h-2zM700 1969h2v2h-2zM713 1907h2v2h-2zM734 2000h2v2h-2zM730 2027h2v2h-2zM712 2154h2v2h-2zM748 2071h2v2h-2zM743 2117h2v2h-2zM726 1987h2v2h-2zM709 2034h2v2h-2zM746 2058h2v2h-2zM731 1978h2v2h-2zM748 2057h2v2h-2zM754 2017h2v2h-2zM733 2053h2v2h-2zM735 1939h2v2h-2zM749 1894h2v2h-2zM734 2134h2v2h-2zM709 2041h2v2h-2zM746 2031h2v2h-2zM742 2219h2v2h-2zM729 2109h2v2h-2zM745 2070h2v2h-2zM732 1992h2v2h-2zM731 2065h2v2h-2zM748 2055h2v2h-2zM717 2021h2v2h-2zM714 2139h2v2h-2zM735 2092h2v2h-2zM718 2080h2v2h-2zM749 1982h2v2h-2zM726 1991h2v2h-2zM712 2118h2v2h-2zM731 2056h2v2h-2zM705 2001h2v2h-2zM756 2063h2v2h-2zM736 2042h2v2h-2zM747 2010h2v2h-2zM744 2028h2v2h-2zM740 2094h2v2h-2zM722 2064h2v2h-2zM748 1981h2v2h-2zM732 1989h2v2h-2zM726 2061h2v2h-2zM708 1967h2v2h-2zM755 2050h2v2h-2zM733 2032h2v2h-2zM731 1949h2v2h-2zM710 1872h2v2h-2zM750 1981h2v2h-2zM735 2039h2v2h-2zM751 2039h2v2h-2zM736 2127h2v2h-2zM725 2040h2v2h-2zM745 2034h2v2h-2zM714 2065h2v2h-2zM715 2008h2v2h-2zM736 2159h2v2h-2zM747 1998h2v2h-2zM753 1979h2v2h-2zM735 2003h2v2h-2zM735 2123h2v2h-2zM740 1999h2v2h-2zM734 1985h2v2h-2zM730 2079h2v2h-2zM744 2121h2v2h-2zM730 2009h2v2h-2zM734 2087h2v2h-2zM754 1992h2v2h-2zM740 2136h2v2h-2zM729 1963h2v2h-2zM747 2018h2v2h-2zM735 2007h2v2h-2zM746 1972h2v2h-2zM725 2032h2v2h-2zM726 2084h2v2h-2zM717 1979h2v2h-2zM753 2170h2v2h-2zM757 2054h2v2h-2zM754 2060h2v2h-2zM742 1983h2v2h-2zM740 2032h2v2h-2zM733 2099h2v2h-2zM745 1966h2v2h-2zM734 1988h2v2h-2zM722 1978h2v2h-2zM751 1945h2v2h-2zM749 2080h2v2h-2zM744 1980h2v2h-2zM736 2152h2v2h-2zM731 1949h2v2h-2zM738 2012h2v2h-2zM740 2039h2v2h-2zM720 1967h2v2h-2zM730 1886h2v2h-2zM722 1990h2v2h-2zM752 2034h2v2h-2zM670 2037h2v2h-2zM756 2037h2v2h-2zM607 2033h2v2h-2zM758 2056h2v2h-2zM883 2033h2v2h-2zM804 2024h2v2h-2zM807 2016h2v2h-2zM712 2026h2v2h-2zM707 2038h2v2h-2zM816 2038h2v2h-2zM714 2039h2v2h-2zM782 2030h2v2h-2zM668 2041h2v2h-2zM764 2042h2v2h-2zM749 2019h2v2h-2zM581 2041h2v2h-2zM729 2041h2v2h-2zM776 2032h2v2h-2zM775 2051h2v2h-2zM763 2036h2v2h-2zM827 2025h2v2h-2zM732 2049h2v2h-2zM683 2060h2v2h-2zM800 2020h2v2h-2zM886 2035h2v2h-2zM713 2048h2v2h-2zM843 2044h2v2h-2zM724 2050h2v2h-2zM633 2054h2v2h-2zM674 2011h2v2h-2zM676 2045h2v2h-2zM818 2013h2v2h-2zM744 2022h2v2h-2zM698 2020h2v2h-2zM746 2042h2v2h-2zM835 2012h2v2h-2zM731 2037h2v2h-2zM686 2015h2v2h-2zM762 2063h2v2h-2zM678 2028h2v2h-2zM772 2035h2v2h-2zM806 2019h2v2h-2zM750 2027h2v2h-2zM706 2054h2v2h-2zM745 2039h2v2h-2zM637 2019h2v2h-2zM847 2028h2v2h-2zM903 2033h2v2h-2zM738 2060h2v2h-2zM592 2034h2v2h-2zM689 2042h2v2h-2zM635 2050h2v2h-2zM605 2069h2v2h-2zM727 2044h2v2h-2zM725 2021h2v2h-2zM692 2022h2v2h-2zM814 2059h2v2h-2zM739 2041h2v2h-2zM668 2009h2v2h-2zM766 2028h2v2h-2zM648 2029h2v2h-2zM712 2031h2v2h-2zM678 2044h2v2h-2zM757 2045h2v2h-2zM718 2054h2v2h-2zM696 2009h2v2h-2zM755 2040h2v2h-2zM770 2033h2v2h-2zM754 2021h2v2h-2zM815 2047h2v2h-2zM663 2017h2v2h-2zM765 2016h2v2h-2zM854 2058h2v2h-2zM737 2041h2v2h-2zM581 2047h2v2h-2zM805 2054h2v2h-2zM722 2018h2v2h-2zM782 2055h2v2h-2zM756 2037h2v2h-2zM780 2043h2v2h-2zM822 2047h2v2h-2zM746 2044h2v2h-2zM792 2030h2v2h-2zM645 2035h2v2h-2zM674 2038h2v2h-2zM728 2050h2v2h-2zM848 2005h2v2h-2zM678 2055h2v2h-2zM712 2023h2v2h-2zM783 2066h2v2h-2zM700 2042h2v2h-2zM645 2060h2v2h-2zM598 2032h2v2h-2zM792 2060h2v2h-2zM657 2042h2v2h-2zM761 2042h2v2h-2zM773 2042h2v2h-2zM666 2001h2v2h-2zM768 2015h2v2h-2zM586 2013h2v2h-2zM729 2037h2v2h-2zM663 2033h2v2h-2zM752 2047h2v2h-2zM750 2041h2v2h-2zM749 2053h2v2h-2zM780 2026h2v2h-2zM691 2041h2v2h-2zM635 2029h2v2h-2zM649 2019h2v2h-2zM806 2011h2v2h-2zM663 2034h2v2h-2zM712 2023h2v2h-2zM761 2028h2v2h-2zM725 2022h2v2h-2zM667 2020h2v2h-2zM588 2075h2v2h-2zM802 2036h2v2h-2zM696 2017h2v2h-2zM622 2033h2v2h-2zM691 2036h2v2h-2zM740 2015h2v2h-2zM598 2050h2v2h-2zM746 2022h2v2h-2zM737 2043h2v2h-2zM768 2029h2v2h-2zM737 2024h2v2h-2zM666 2081h2v2h-2zM622 2027h2v2h-2zM722 2014h2v2h-2zM699 2028h2v2h-2zM843 2021h2v2h-2zM715 2050h2v2h-2zM764 2041h2v2h-2zM740 2018h2v2h-2zM613 2060h2v2h-2zM789 2032h2v2h-2zM703 2016h2v2h-2zM634 2050h2v2h-2zM764 2044h2v2h-2zM822 2021h2v2h-2zM727 2019h2v2h-2zM715 2033h2v2h-2zM690 2025h2v2h-2zM705 2043h2v2h-2zM813 2039h2v2h-2zM741 2018h2v2h-2zM765 2020h2v2h-2zM775 2031h2v2h-2zM530 2053h2v2h-2zM747 2026h2v2h-2zM775 2043h2v2h-2zM751 2026h2v2h-2zM631 2041h2v2h-2zM680 2027h2v2h-2zM782 2041h2v2h-2zM764 2022h2v2h-2zM766 2024h2v2h-2zM655 2062h2v2h-2zM754 2048h2v2h-2zM836 2017h2v2h-2zM738 2051h2v2h-2zM829 2032h2v2h-2zM795 2054h2v2h-2zM792 2016h2v2h-2zM688 2033h2v2h-2zM689 2029h2v2h-2zM688 2025h2v2h-2zM815 2018h2v2h-2zM822 2062h2v2h-2zM662 2035h2v2h-2zM645 2030h2v2h-2zM744 2011h2v2h-2zM826 2051h2v2h-2zM754 2051h2v2h-2zM779 2032h2v2h-2zM768 2015h2v2h-2zM775 2043h2v2h-2zM725 2035h2v2h-2zM768 2014h2v2h-2zM783 2065h2v2h-2zM727 2045h2v2h-2zM852 2021h2v2h-2zM661 2023h2v2h-2zM708 2046h2v2h-2zM676 2052h2v2h-2zM809 2043h2v2h-2zM810 2042h2v2h-2zM683 2030h2v2h-2zM740 2065h2v2h-2zM703 2031h2v2h-2zM640 2039h2v2h-2zM678 2041h2v2h-2zM758 2031h2v2h-2zM774 2047h2v2h-2zM684 2058h2v2h-2zM734 2004h2v2h-2zM792 2033h2v2h-2zM831 2053h2v2h-2zM759 2056h2v2h-2zM678 2029h2v2h-2zM625 2045h2v2h-2zM739 2038h2v2h-2zM713 2038h2v2h-2zM694 2027h2v2h-2zM687 2050h2v2h-2zM696 2053h2v2h-2zM746 2058h2v2h-2zM782 2040h2v2h-2zM678 2038h2v2h-2zM864 2052h2v2h-2zM834 2083h2v2h-2zM718 2033h2v2h-2zM756 2035h2v2h-2zM841 2061h2v2h-2zM672 2020h2v2h-2zM692 2000h2v2h-2zM693 2050h2v2h-2zM665 2056h2v2h-2zM785 2055h2v2h-2zM720 2050h2v2h-2zM393 2195h2v2h-2zM929 1945h2v2h-2zM903 2340h2v2h-2zM965 1794h2v2h-2zM742 1907h2v2h-2zM773 2101h2v2h-2zM841 2044h2v2h-2zM848 2084h2v2h-2zM418 1995h2v2h-2zM736 2111h2v2h-2zM667 1706h2v2h-2zM459 1939h2v2h-2zM462 2285h2v2h-2zM541 1961h2v2h-2zM673 1680h2v2h-2zM646 1675h2v2h-2zM912 2241h2v2h-2zM729 2276h2v2h-2zM823 2303h2v2h-2zM462 1822h2v2h-2zM1080 1928h2v2h-2zM435 2094h2v2h-2zM897 2098h2v2h-2zM696 2069h2v2h-2zM647 2374h2v2h-2zM411 2139h2v2h-2zM957 1997h2v2h-2zM938 1992h2v2h-2zM402 1914h2v2h-2zM705 1803h2v2h-2zM886 2058h2v2h-2zM463 1888h2v2h-2zM453 1778h2v2h-2zM900 1781h2v2h-2zM645 2078h2v2h-2zM585 2120h2v2h-2zM868 1861h2v2h-2zM987 2324h2v2h-2zM904 1989h2v2h-2zM673 1834h2v2h-2zM793 1974h2v2h-2zM890 1887h2v2h-2zM454 2251h2v2h-2zM925 1941h2v2h-2zM677 1709h2v2h-2zM466 1763h2v2h-2zM831 2136h2v2h-2zM541 2036h2v2h-2zM518 1947h2v2h-2zM767 2077h2v2h-2zM701 2097h2v2h-2zM371 2084h2v2h-2zM807 2412h2v2h-2zM741 2292h2v2h-2zM439 2252h2v2h-2zM856 2168h2v2h-2zM647 2262h2v2h-2zM481 2224h2v2h-2zM731 2244h2v2h-2zM791 2345h2v2h-2zM474 2178h2v2h-2zM545 1709h2v2h-2zM1062 2161h2v2h-2zM629 2233h2v2h-2zM675 2322h2v2h-2zM508 1895h2v2h-2zM965 2192h2v2h-2zM942 2231h2v2h-2zM981 1942h2v2h-2zM668 2014h2v2h-2zM615 1952h2v2h-2zM838 2197h2v2h-2zM1111 2074h2v2h-2zM1056 2223h2v2h-2zM1040 2121h2v2h-2zM497 2312h2v2h-2zM753 2376h2v2h-2zM1031 1961h2v2h-2zM929 2087h2v2h-2zM903 2037h2v2h-2zM796 2070h2v2h-2zM1109 2054h2v2h-2zM517 2053h2v2h-2zM425 2256h2v2h-2zM714 2098h2v2h-2zM1008 1970h2v2h-2zM729 1661h2v2h-2zM768 2116h2v2h-2zM1056 2251h2v2h-2zM989 1814h2v2h-2zM859 1870h2v2h-2zM1075 2210h2v2h-2zM921 1745h2v2h-2zM579 1907h2v2h-2zM805 1672h2v2h-2zM708 1848h2v2h-2zM585 2360h2v2h-2zM956 1759h2v2h-2zM1041 2119h2v2h-2zM993 1925h2v2h-2zM940 2105h2v2h-2zM657 1901h2v2h-2zM489 2083h2v2h-2zM640 1925h2v2h-2zM991 1917h2v2h-2zM692 1743h2v2h-2zM406 2041h2v2h-2zM645 1816h2v2h-2zM565 2222h2v2h-2zM943 2293h2v2h-2zM890 2212h2v2h-2zM723 2156h2v2h-2zM1032 1825h2v2h-2zM598 2095h2v2h-2zM702 1950h2v2h-2zM638 2196h2v2h-2zM904 1723h2v2h-2zM510 1789h2v2h-2zM736 2166h2v2h-2zM1029 2137h2v2h-2zM793 1681h2v2h-2zM898 2371h2v2h-2zM757 1754h2v2h-2zM962 2315h2v2h-2zM820 1821h2v2h-2zM715 1974h2v2h-2zM800 2173h2v2h-2zM548 2099h2v2h-2zM693 1971h2v2h-2zM894 2380h2v2h-2zM859 2400h2v2h-2zM890 2365h2v2h-2zM993 2148h2v2h-2zM980 1965h2v2h-2zM779 2252h2v2h-2zM460 1948h2v2h-2zM796 2161h2v2h-2zM691 2371h2v2h-2zM909 1890h2v2h-2zM865 2355h2v2h-2zM846 2089h2v2h-2zM845 1865h2v2h-2zM387 2014h2v2h-2zM414 2149h2v2h-2zM1025 1917h2v2h-2zM550 2260h2v2h-2zM806 1660h2v2h-2zM481 2216h2v2h-2zM540 2127h2v2h-2zM721 1866h2v2h-2z" fill="#0c0c28" shape-rendering="crispEdges"/><circle cx="736.6" cy="2035.6" r="91.5" fill="none" stroke="#000" stroke-width="3.5"/><circle cx="736.6" cy="2035.6" r="183.0" fill="none" stroke="#000" stroke-width="3.5"/><circle cx="736.6" cy="2035.6" r="274.5" fill="none" stroke="#000" stroke-width="3.5"/><circle cx="736.6" cy="2035.6" r="366.0" fill="none" stroke="#000" stroke-width="3.5"/><line x1="370.6" y1="2035.6" x2="1102.6" y2="2035.6" stroke="#000" stroke-width="3.5"/><line x1="477.8" y1="2294.4" x2="995.4" y2="1776.8" stroke="#000" stroke-width="3.5"/><line x1="736.6" y1="2401.6" x2="736.6" y2="1669.6" stroke="#000" stroke-width="3.5"/><line x1="995.4" y1="2294.4" x2="477.8" y2="1776.8" stroke="#000" stroke-width="3.5"/><path d="M1115.6 2035.6L1129.6 2035.6M1114.2 2002.6L1128.1 2001.3M1109.8 1969.8L1123.6 1967.4M1102.7 1937.5L1116.2 1933.9M1092.7 1906.0L1105.9 1901.2M1080.1 1875.4L1092.8 1869.5M1064.8 1846.1L1076.9 1839.1M1047.1 1818.2L1058.5 1810.2M1026.9 1792.0L1037.7 1783.0M1004.6 1767.6L1014.5 1757.7M980.2 1745.3L989.2 1734.5M954.0 1725.1L962.0 1713.7M926.1 1707.4L933.1 1695.3M896.8 1692.1L902.7 1679.4M866.2 1679.5L871.0 1666.3M834.7 1669.5L838.3 1656.0M802.4 1662.4L804.8 1648.6M769.6 1658.0L770.9 1644.1M736.6 1656.6L736.6 1642.6M703.6 1658.0L702.3 1644.1M670.8 1662.4L668.4 1648.6M638.5 1669.5L634.9 1656.0M607.0 1679.5L602.2 1666.3M576.4 1692.1L570.5 1679.4M547.1 1707.4L540.1 1695.3M519.2 1725.1L511.2 1713.7M493.0 1745.3L484.0 1734.5M468.6 1767.6L458.7 1757.7M446.3 1792.0L435.5 1783.0M426.1 1818.2L414.7 1810.2M408.4 1846.1L396.3 1839.1M393.1 1875.4L380.4 1869.5M380.5 1906.0L367.3 1901.2M370.5 1937.5L357.0 1933.9M363.4 1969.8L349.6 1967.4M359.0 2002.6L345.1 2001.3M357.6 2035.6L343.6 2035.6M359.0 2068.6L345.1 2069.9M363.4 2101.4L349.6 2103.8M370.5 2133.7L357.0 2137.3M380.5 2165.2L367.3 2170.0M393.1 2195.8L380.4 2201.7M408.4 2225.1L396.3 2232.1M426.1 2253.0L414.7 2261.0M446.3 2279.2L435.5 2288.2M468.6 2303.6L458.7 2313.5M493.0 2325.9L484.0 2336.7M519.2 2346.1L511.2 2357.5M547.1 2363.8L540.1 2375.9M576.4 2379.1L570.5 2391.8M607.0 2391.7L602.2 2404.9M638.5 2401.7L634.9 2415.2M670.8 2408.8L668.4 2422.6M703.6 2413.2L702.3 2427.1M736.6 2414.6L736.6 2428.6M769.6 2413.2L770.9 2427.1M802.4 2408.8L804.8 2422.6M834.7 2401.7L838.3 2415.2M866.2 2391.7L871.0 2404.9M896.8 2379.1L902.7 2391.8M926.1 2363.8L933.1 2375.9M954.0 2346.1L962.0 2357.5M980.2 2325.9L989.2 2336.7M1004.6 2303.6L1014.5 2313.5M1026.9 2279.2L1037.7 2288.2M1047.1 2253.0L1058.5 2261.0M1064.8 2225.1L1076.9 2232.1M1080.1 2195.8L1092.8 2201.7M1092.7 2165.2L1105.9 2170.0M1102.7 2133.7L1116.2 2137.3M1109.8 2101.4L1123.6 2103.8M1114.2 2068.6L1128.1 2069.9" stroke="#000" stroke-width="2" fill="none"/><text x="352.6" y="1751.6" font-size="50.4" fill="#000">135</text><text x="1036.8" y="1750.6999999999998" font-size="50.4" fill="#000">45</text><text x="286.3" y="2024.8" font-size="50.4" fill="#000">180</text><text x="1158.0" y="2024.0" font-size="50.4" fill="#000">0</text><text x="803.6" y="2145.0" font-size="50.4" fill="#000">2.7E3</text><text x="864.7" y="2210.0" font-size="50.4" fill="#000">5.4E3</text><text x="930.7" y="2275.0" font-size="50.4" fill="#000">8.11E3</text><text x="991.8" y="2339.1" font-size="50.4" fill="#000">1.08E4</text><rect x="2061.8" y="1773.2" width="50.9" height="23.0" fill="#800080"/><rect x="2112.6" y="1796.2" width="100.6" height="23.0" fill="#0000ff"/><rect x="2112.6" y="1819.2" width="150.3" height="23.0" fill="#0000ff"/><rect x="2112.6" y="1842.2" width="21.5" height="23.0" fill="#800080"/><rect x="2112.6" y="1865.2" width="39.6" height="23.0" fill="#00ffff"/><rect x="2104.7" y="1888.2" width="7.9" height="23.0" fill="#00ffff"/><rect x="2112.6" y="1911.2" width="333.3" height="23.0" fill="#808000"/><rect x="2112.6" y="1934.1" width="3.4" height="23.0" fill="#00ffff"/><rect x="2112.6" y="1957.1" width="171.8" height="23.0" fill="#00ffff"/><rect x="2097.9" y="1980.1" width="14.7" height="23.0" fill="#00ffff"/><rect x="2112.6" y="2003.1" width="14.7" height="23.0" fill="#00ffff"/><rect x="2093.4" y="2026.1" width="19.2" height="23.0" fill="#00ffff"/><rect x="2012.0" y="2049.1" width="100.6" height="23.0" fill="#00ffff"/><rect x="2112.6" y="2072.1" width="30.5" height="23.0" fill="#00ffff"/><rect x="2112.6" y="2118.0" width="3.4" height="23.0" fill="#00ffff"/><rect x="2103.6" y="2141.0" width="9.0" height="23.0" fill="#00ffff"/><rect x="2106.9" y="2164.0" width="5.7" height="23.0" fill="#00ffff"/><rect x="1891.1" y="2187.0" width="221.5" height="23.0" fill="#00ffff"/><rect x="2112.6" y="2210.0" width="9.0" height="23.0" fill="#00ffff"/><rect x="2109.2" y="2233.0" width="3.4" height="23.0" fill="#00ffff"/><rect x="2112.6" y="2256.0" width="30.5" height="23.0" fill="#00ffff"/><rect x="2112.6" y="2279.0" width="9.0" height="23.0" fill="#00ffff"/><rect x="2112.6" y="2301.9" width="30.5" height="23.0" fill="#00ffff"/><rect x="2112.6" y="2324.9" width="1.1" height="23.0" fill="#00ffff"/><rect x="2112.6" y="2347.9" width="22.6" height="23.0" fill="#00ffff"/><rect x="2112.6" y="2370.9" width="44.1" height="23.0" fill="#00ffff"/><rect x="2112.6" y="2393.9" width="2.3" height="23.0" fill="#00ffff"/><rect x="2111.5" y="2416.9" width="1.1" height="23.0" fill="#00ffff"/><rect x="2112.6" y="2439.9" width="3.4" height="23.0" fill="#00ffff"/><rect x="2112.6" y="2462.9" width="6.8" height="23.0" fill="#800000"/><rect x="2112.6" y="2485.9" width="1.1" height="23.0" fill="#800000"/><rect x="2112.6" y="2531.8" width="6.8" height="23.0" fill="#800000"/><rect x="2112.6" y="2554.8" width="107.3" height="23.0" fill="#800000"/><rect x="2112.6" y="2577.8" width="19.2" height="23.0" fill="#800000"/><rect x="2112.6" y="2600.8" width="6.8" height="23.0" fill="#800000"/><rect x="2112.6" y="2623.8" width="7.9" height="23.0" fill="#800000"/><rect x="2112.6" y="2646.8" width="28.2" height="23.0" fill="#800000"/><rect x="2112.6" y="2669.8" width="1.1" height="23.0" fill="#000080"/><rect x="2112.6" y="2692.7" width="5.7" height="23.0" fill="#000080"/><rect x="2096.8" y="2715.7" width="15.8" height="23.0" fill="#000080"/><rect x="2110.3" y="2738.7" width="2.3" height="23.0" fill="#000080"/><rect x="2102.4" y="2784.7" width="10.2" height="23.0" fill="#000080"/><rect x="2111.5" y="2807.7" width="1.1" height="23.0" fill="#000080"/><rect x="2112.6" y="2830.7" width="4.5" height="23.0" fill="#000080"/><rect x="2112.6" y="2853.7" width="7.9" height="23.0" fill="#000080"/><rect x="2104.7" y="2876.6" width="7.9" height="23.0" fill="#000080"/><rect x="2112.6" y="2899.6" width="15.8" height="23.0" fill="#008000"/><rect x="2112.6" y="2922.6" width="3.4" height="23.0" fill="#008000"/><rect x="2112.6" y="2945.6" width="3.4" height="23.0" fill="#008000"/><rect x="2112.6" y="2968.6" width="1.1" height="23.0" fill="#008000"/><rect x="2109.2" y="2991.6" width="3.4" height="23.0" fill="#008000"/><rect x="2085.5" y="3014.6" width="27.1" height="23.0" fill="#008000"/><rect x="2109.2" y="3037.6" width="3.4" height="23.0" fill="#008000"/><rect x="2112.6" y="3060.5" width="3.4" height="23.0" fill="#008000"/><rect x="2109.2" y="3083.5" width="3.4" height="23.0" fill="#008000"/><rect x="2112.6" y="3106.5" width="2.3" height="23.0" fill="#008000"/><rect x="2112.6" y="3129.5" width="15.8" height="23.0" fill="#008000"/><path d="M1205 1635.3H2467M1205 1658.3H2467M1205 1681.3H2467M1205 1704.3H2467M1205 1727.3H2467M1205 1750.2H2467M1205 1773.2H2467M1205 1796.2H2467M1205 1819.2H2467M1205 1842.2H2467M1205 1865.2H2467M1205 1888.2H2467M1205 1911.2H2467M1205 1934.1H2467M1205 1957.1H2467M1205 1980.1H2467M1205 2003.1H2467M1205 2026.1H2467M1205 2049.1H2467M1205 2072.1H2467M1205 2095.1H2467M1205 2118.0H2467M1205 2141.0H2467M1205 2164.0H2467M1205 2187.0H2467M1205 2210.0H2467M1205 2233.0H2467M1205 2256.0H2467M1205 2279.0H2467M1205 2301.9H2467M1205 2324.9H2467M1205 2347.9H2467M1205 2370.9H2467M1205 2393.9H2467M1205 2416.9H2467M1205 2439.9H2467M1205 2462.9H2467M1205 2485.9H2467M1205 2508.8H2467M1205 2531.8H2467M1205 2554.8H2467M1205 2577.8H2467M1205 2600.8H2467M1205 2623.8H2467M1205 2646.8H2467M1205 2669.8H2467M1205 2692.7H2467M1205 2715.7H2467M1205 2738.7H2467M1205 2761.7H2467M1205 2784.7H2467M1205 2807.7H2467M1205 2830.7H2467M1205 2853.7H2467M1205 2876.6H2467M1205 2899.6H2467M1205 2922.6H2467M1205 2945.6H2467M1205 2968.6H2467M1205 2991.6H2467M1205 3014.6H2467M1205 3037.6H2467M1205 3060.5H2467M1205 3083.5H2467M1205 3106.5H2467M1205 3129.5H2467M1276.4 1635.3V3152M1330.4 1635.3V3152M1384.6 1635.3V3152M1686.4 1635.3V3152M1869.4 1635.3V3152" stroke="#000" stroke-width="1.1" fill="none"/><rect x="2110.9" y="1635.3" width="3.4" height="1516.7" fill="#000"/><rect x="1203.0" y="1579.0" width="1267" height="1574" fill="none" stroke="#000" stroke-width="4"/><text x="1763.3" y="1601" font-size="13.2" fill="#000">Коэффициенты Цернике</text><text x="1234.5" y="1624.1" font-size="13.2" fill="#000">N</text><text x="1297.8" y="1624.1" font-size="13.2" fill="#000">m</text><text x="1356.4" y="1624.1" font-size="13.2" fill="#000">l</text><text x="1490" y="1624.1" font-size="13.2" fill="#000">Наименование</text><text x="1759.1" y="1624.1" font-size="13.2" fill="#000">Ампл.</text><text x="2252.6" y="1624.1" font-size="13.2" fill="#000">Единичный круг 5.8e+03 мм</text><text x="1210.5" y="1647.9" font-size="13.2" fill="#000">0</text><text x="1283.5" y="1647.9" font-size="13.2" fill="#000">0</text><text x="1337.8" y="1647.9" font-size="13.2" fill="#000">0</text><text x="1392.7" y="1647.9" font-size="13.2" fill="#000">Piston</text><text x="1693.4" y="1647.9" font-size="13.2" fill="#000">0.000</text><text x="1210.5" y="1670.9" font-size="13.2" fill="#000">1</text><text x="1283.5" y="1670.9" font-size="13.2" fill="#000">1</text><text x="1337.8" y="1670.9" font-size="13.2" fill="#000">-1</text><text x="1392.7" y="1670.9" font-size="13.2" fill="#000">Tip</text><text x="1693.4" y="1670.9" font-size="13.2" fill="#000">0.000</text><text x="1210.5" y="1693.9" font-size="13.2" fill="#000">2</text><text x="1283.5" y="1693.9" font-size="13.2" fill="#000">1</text><text x="1337.8" y="1693.9" font-size="13.2" fill="#000">1</text><text x="1392.7" y="1693.9" font-size="13.2" fill="#000">Tilt</text><text x="1693.4" y="1693.9" font-size="13.2" fill="#000">0.000</text><text x="1210.5" y="1716.9" font-size="13.2" fill="#000">3</text><text x="1283.5" y="1716.9" font-size="13.2" fill="#000">2</text><text x="1337.8" y="1716.9" font-size="13.2" fill="#000">-2</text><text x="1392.7" y="1716.9" font-size="13.2" fill="#000">Astigmatism Y</text><text x="1693.4" y="1716.9" font-size="13.2" fill="#000">0.000</text><text x="1210.5" y="1739.9" font-size="13.2" fill="#000">4</text><text x="1283.5" y="1739.9" font-size="13.2" fill="#000">2</text><text x="1337.8" y="1739.9" font-size="13.2" fill="#000">0</text><text x="1392.7" y="1739.9" font-size="13.2" fill="#000">Defocus</text><text x="1693.4" y="1739.9" font-size="13.2" fill="#000">0.000</text><text x="1210.5" y="1762.8" font-size="13.2" fill="#000">5</text><text x="1283.5" y="1762.8" font-size="13.2" fill="#000">2</text><text x="1337.8" y="1762.8" font-size="13.2" fill="#000">2</text><text x="1392.7" y="1762.8" font-size="13.2" fill="#000">Astigmatism X</text><text x="1693.4" y="1762.8" font-size="13.2" fill="#000">0.000</text><text x="1210.5" y="1785.8" font-size="13.2" fill="#000">6</text><text x="1283.5" y="1785.8" font-size="13.2" fill="#000">3</text><text x="1337.8" y="1785.8" font-size="13.2" fill="#000">-3</text><text x="1392.7" y="1785.8" font-size="13.2" fill="#000">Trefoil Y</text><text x="1693.4" y="1785.8" font-size="13.2" fill="#000">-0.045</text><text x="1210.5" y="1808.8" font-size="13.2" fill="#000">7</text><text x="1283.5" y="1808.8" font-size="13.2" fill="#000">3</text><text x="1337.8" y="1808.8" font-size="13.2" fill="#000">-1</text><text x="1392.7" y="1808.8" font-size="13.2" fill="#000">Coma Y</text><text x="1693.4" y="1808.8" font-size="13.2" fill="#000">0.089</text><text x="1210.5" y="1831.8" font-size="13.2" fill="#000">8</text><text x="1283.5" y="1831.8" font-size="13.2" fill="#000">3</text><text x="1337.8" y="1831.8" font-size="13.2" fill="#000">1</text><text x="1392.7" y="1831.8" font-size="13.2" fill="#000">Coma X</text><text x="1693.4" y="1831.8" font-size="13.2" fill="#000">0.133</text><text x="1210.5" y="1854.8" font-size="13.2" fill="#000">9</text><text x="1283.5" y="1854.8" font-size="13.2" fill="#000">3</text><text x="1337.8" y="1854.8" font-size="13.2" fill="#000">3</text><text x="1392.7" y="1854.8" font-size="13.2" fill="#000">Trefoil X</text><text x="1693.4" y="1854.8" font-size="13.2" fill="#000">0.019</text><text x="1210.5" y="1877.8" font-size="13.2" fill="#000">10</text><text x="1283.5" y="1877.8" font-size="13.2" fill="#000">4</text><text x="1337.8" y="1877.8" font-size="13.2" fill="#000">-4</text><text x="1392.7" y="1877.8" font-size="13.2" fill="#000">Tetrafoil Y</text><text x="1693.4" y="1877.8" font-size="13.2" fill="#000">0.035</text><text x="1210.5" y="1900.8" font-size="13.2" fill="#000">11</text><text x="1283.5" y="1900.8" font-size="13.2" fill="#000">4</text><text x="1337.8" y="1900.8" font-size="13.2" fill="#000">-2</text><text x="1392.7" y="1900.8" font-size="13.2" fill="#000">Secondary Astigmatism Y</text><text x="1693.4" y="1900.8" font-size="13.2" fill="#000">-0.007</text><text x="1210.5" y="1923.8" font-size="13.2" fill="#000">12</text><text x="1283.5" y="1923.8" font-size="13.2" fill="#000">4</text><text x="1337.8" y="1923.8" font-size="13.2" fill="#000">0</text><text x="1392.7" y="1923.8" font-size="13.2" fill="#000">Spherical</text><text x="1693.4" y="1923.8" font-size="13.2" fill="#000">0.295</text><text x="1210.5" y="1946.7" font-size="13.2" fill="#000">13</text><text x="1283.5" y="1946.7" font-size="13.2" fill="#000">4</text><text x="1337.8" y="1946.7" font-size="13.2" fill="#000">2</text><text x="1392.7" y="1946.7" font-size="13.2" fill="#000">Secondary Astigmatism X</text><text x="1693.4" y="1946.7" font-size="13.2" fill="#000">0.003</text><text x="1210.5" y="1969.7" font-size="13.2" fill="#000">14</text><text x="1283.5" y="1969.7" font-size="13.2" fill="#000">4</text><text x="1337.8" y="1969.7" font-size="13.2" fill="#000">4</text><text x="1392.7" y="1969.7" font-size="13.2" fill="#000">Tetrafoil X</text><text x="1693.4" y="1969.7" font-size="13.2" fill="#000">0.152</text><text x="1210.5" y="1992.7" font-size="13.2" fill="#000">15</text><text x="1283.5" y="1992.7" font-size="13.2" fill="#000">5</text><text x="1337.8" y="1992.7" font-size="13.2" fill="#000">-5</text><text x="1693.4" y="1992.7" font-size="13.2" fill="#000">-0.013</text><text x="1210.5" y="2015.7" font-size="13.2" fill="#000">16</text><text x="1283.5" y="2015.7" font-size="13.2" fill="#000">5</text><text x="1337.8" y="2015.7" font-size="13.2" fill="#000">-3</text><text x="1693.4" y="2015.7" font-size="13.2" fill="#000">0.013</text><text x="1210.5" y="2038.7" font-size="13.2" fill="#000">17</text><text x="1283.5" y="2038.7" font-size="13.2" fill="#000">5</text><text x="1337.8" y="2038.7" font-size="13.2" fill="#000">-1</text><text x="1693.4" y="2038.7" font-size="13.2" fill="#000">-0.017</text><text x="1210.5" y="2061.7" font-size="13.2" fill="#000">18</text><text x="1283.5" y="2061.7" font-size="13.2" fill="#000">5</text><text x="1337.8" y="2061.7" font-size="13.2" fill="#000">1</text><text x="1693.4" y="2061.7" font-size="13.2" fill="#000">-0.089</text><text x="1210.5" y="2084.7" font-size="13.2" fill="#000">19</text><text x="1283.5" y="2084.7" font-size="13.2" fill="#000">5</text><text x="1337.8" y="2084.7" font-size="13.2" fill="#000">3</text><text x="1693.4" y="2084.7" font-size="13.2" fill="#000">0.027</text><text x="1210.5" y="2107.7" font-size="13.2" fill="#000">20</text><text x="1283.5" y="2107.7" font-size="13.2" fill="#000">5</text><text x="1337.8" y="2107.7" font-size="13.2" fill="#000">5</text><text x="1693.4" y="2107.7" font-size="13.2" fill="#000">0.000</text><text x="1210.5" y="2130.6" font-size="13.2" fill="#000">21</text><text x="1283.5" y="2130.6" font-size="13.2" fill="#000">6</text><text x="1337.8" y="2130.6" font-size="13.2" fill="#000">-6</text><text x="1693.4" y="2130.6" font-size="13.2" fill="#000">0.003</text><text x="1210.5" y="2153.6" font-size="13.2" fill="#000">22</text><text x="1283.5" y="2153.6" font-size="13.2" fill="#000">6</text><text x="1337.8" y="2153.6" font-size="13.2" fill="#000">-4</text><text x="1693.4" y="2153.6" font-size="13.2" fill="#000">-0.008</text><text x="1210.5" y="2176.6" font-size="13.2" fill="#000">23</text><text x="1283.5" y="2176.6" font-size="13.2" fill="#000">6</text><text x="1337.8" y="2176.6" font-size="13.2" fill="#000">-2</text><text x="1693.4" y="2176.6" font-size="13.2" fill="#000">-0.005</text><text x="1210.5" y="2199.6" font-size="13.2" fill="#000">24</text><text x="1283.5" y="2199.6" font-size="13.2" fill="#000">6</text><text x="1337.8" y="2199.6" font-size="13.2" fill="#000">0</text><text x="1693.4" y="2199.6" font-size="13.2" fill="#000">-0.196</text><text x="1210.5" y="2222.6" font-size="13.2" fill="#000">25</text><text x="1283.5" y="2222.6" font-size="13.2" fill="#000">6</text><text x="1337.8" y="2222.6" font-size="13.2" fill="#000">2</text><text x="1693.4" y="2222.6" font-size="13.2" fill="#000">0.008</text><text x="1210.5" y="2245.6" font-size="13.2" fill="#000">26</text><text x="1283.5" y="2245.6" font-size="13.2" fill="#000">6</text><text x="1337.8" y="2245.6" font-size="13.2" fill="#000">4</text><text x="1693.4" y="2245.6" font-size="13.2" fill="#000">-0.003</text><text x="1210.5" y="2268.6" font-size="13.2" fill="#000">27</text><text x="1283.5" y="2268.6" font-size="13.2" fill="#000">6</text><text x="1337.8" y="2268.6" font-size="13.2" fill="#000">6</text><text x="1693.4" y="2268.6" font-size="13.2" fill="#000">0.027</text><text x="1210.5" y="2291.6" font-size="13.2" fill="#000">28</text><text x="1283.5" y="2291.6" font-size="13.2" fill="#000">7</text><text x="1337.8" y="2291.6" font-size="13.2" fill="#000">-7</text><text x="1693.4" y="2291.6" font-size="13.2" fill="#000">0.008</text><text x="1210.5" y="2314.5" font-size="13.2" fill="#000">29</text><text x="1283.5" y="2314.5" font-size="13.2" fill="#000">7</text><text x="1337.8" y="2314.5" font-size="13.2" fill="#000">-5</text><text x="1693.4" y="2314.5" font-size="13.2" fill="#000">0.027</text><text x="1210.5" y="2337.5" font-size="13.2" fill="#000">30</text><text x="1283.5" y="2337.5" font-size="13.2" fill="#000">7</text><text x="1337.8" y="2337.5" font-size="13.2" fill="#000">-3</text><text x="1693.4" y="2337.5" font-size="13.2" fill="#000">0.001</text><text x="1210.5" y="2360.5" font-size="13.2" fill="#000">31</text><text x="1283.5" y="2360.5" font-size="13.2" fill="#000">7</text><text x="1337.8" y="2360.5" font-size="13.2" fill="#000">-1</text><text x="1693.4" y="2360.5" font-size="13.2" fill="#000">0.020</text><text x="1210.5" y="2383.5" font-size="13.2" fill="#000">32</text><text x="1283.5" y="2383.5" font-size="13.2" fill="#000">7</text><text x="1337.8" y="2383.5" font-size="13.2" fill="#000">1</text><text x="1693.4" y="2383.5" font-size="13.2" fill="#000">0.039</text><text x="1210.5" y="2406.5" font-size="13.2" fill="#000">33</text><text x="1283.5" y="2406.5" font-size="13.2" fill="#000">7</text><text x="1337.8" y="2406.5" font-size="13.2" fill="#000">3</text><text x="1693.4" y="2406.5" font-size="13.2" fill="#000">0.002</text><text x="1210.5" y="2429.5" font-size="13.2" fill="#000">34</text><text x="1283.5" y="2429.5" font-size="13.2" fill="#000">7</text><text x="1337.8" y="2429.5" font-size="13.2" fill="#000">5</text><text x="1693.4" y="2429.5" font-size="13.2" fill="#000">-0.001</text><text x="1210.5" y="2452.5" font-size="13.2" fill="#000">35</text><text x="1283.5" y="2452.5" font-size="13.2" fill="#000">7</text><text x="1337.8" y="2452.5" font-size="13.2" fill="#000">7</text><text x="1693.4" y="2452.5" font-size="13.2" fill="#000">0.003</text><text x="1210.5" y="2475.5" font-size="13.2" fill="#000">36</text><text x="1283.5" y="2475.5" font-size="13.2" fill="#000">8</text><text x="1337.8" y="2475.5" font-size="13.2" fill="#000">-8</text><text x="1693.4" y="2475.5" font-size="13.2" fill="#000">0.006</text><text x="1210.5" y="2498.5" font-size="13.2" fill="#000">37</text><text x="1283.5" y="2498.5" font-size="13.2" fill="#000">8</text><text x="1337.8" y="2498.5" font-size="13.2" fill="#000">-6</text><text x="1693.4" y="2498.5" font-size="13.2" fill="#000">0.001</text><text x="1210.5" y="2521.4" font-size="13.2" fill="#000">38</text><text x="1283.5" y="2521.4" font-size="13.2" fill="#000">8</text><text x="1337.8" y="2521.4" font-size="13.2" fill="#000">-4</text><text x="1693.4" y="2521.4" font-size="13.2" fill="#000">0.000</text><text x="1210.5" y="2544.4" font-size="13.2" fill="#000">39</text><text x="1283.5" y="2544.4" font-size="13.2" fill="#000">8</text><text x="1337.8" y="2544.4" font-size="13.2" fill="#000">-2</text><text x="1693.4" y="2544.4" font-size="13.2" fill="#000">0.006</text><text x="1210.5" y="2567.4" font-size="13.2" fill="#000">40</text><text x="1283.5" y="2567.4" font-size="13.2" fill="#000">8</text><text x="1337.8" y="2567.4" font-size="13.2" fill="#000">0</text><text x="1693.4" y="2567.4" font-size="13.2" fill="#000">0.095</text><text x="1210.5" y="2590.4" font-size="13.2" fill="#000">41</text><text x="1283.5" y="2590.4" font-size="13.2" fill="#000">8</text><text x="1337.8" y="2590.4" font-size="13.2" fill="#000">2</text><text x="1693.4" y="2590.4" font-size="13.2" fill="#000">0.017</text><text x="1210.5" y="2613.4" font-size="13.2" fill="#000">42</text><text x="1283.5" y="2613.4" font-size="13.2" fill="#000">8</text><text x="1337.8" y="2613.4" font-size="13.2" fill="#000">4</text><text x="1693.4" y="2613.4" font-size="13.2" fill="#000">0.006</text><text x="1210.5" y="2636.4" font-size="13.2" fill="#000">43</text><text x="1283.5" y="2636.4" font-size="13.2" fill="#000">8</text><text x="1337.8" y="2636.4" font-size="13.2" fill="#000">6</text><text x="1693.4" y="2636.4" font-size="13.2" fill="#000">0.007</text><text x="1210.5" y="2659.4" font-size="13.2" fill="#000">44</text><text x="1283.5" y="2659.4" font-size="13.2" fill="#000">8</text><text x="1337.8" y="2659.4" font-size="13.2" fill="#000">8</text><text x="1693.4" y="2659.4" font-size="13.2" fill="#000">0.025</text><text x="1210.5" y="2682.4" font-size="13.2" fill="#000">45</text><text x="1283.5" y="2682.4" font-size="13.2" fill="#000">9</text><text x="1337.8" y="2682.4" font-size="13.2" fill="#000">-9</text><text x="1693.4" y="2682.4" font-size="13.2" fill="#000">0.001</text><text x="1210.5" y="2705.3" font-size="13.2" fill="#000">46</text><text x="1283.5" y="2705.3" font-size="13.2" fill="#000">9</text><text x="1337.8" y="2705.3" font-size="13.2" fill="#000">-7</text><text x="1693.4" y="2705.3" font-size="13.2" fill="#000">0.005</text><text x="1210.5" y="2728.3" font-size="13.2" fill="#000">47</text><text x="1283.5" y="2728.3" font-size="13.2" fill="#000">9</text><text x="1337.8" y="2728.3" font-size="13.2" fill="#000">-5</text><text x="1693.4" y="2728.3" font-size="13.2" fill="#000">-0.014</text><text x="1210.5" y="2751.3" font-size="13.2" fill="#000">48</text><text x="1283.5" y="2751.3" font-size="13.2" fill="#000">9</text><text x="1337.8" y="2751.3" font-size="13.2" fill="#000">-3</text><text x="1693.4" y="2751.3" font-size="13.2" fill="#000">-0.002</text><text x="1210.5" y="2774.3" font-size="13.2" fill="#000">49</text><text x="1283.5" y="2774.3" font-size="13.2" fill="#000">9</text><text x="1337.8" y="2774.3" font-size="13.2" fill="#000">-1</text><text x="1693.4" y="2774.3" font-size="13.2" fill="#000">0.000</text><text x="1210.5" y="2797.3" font-size="13.2" fill="#000">50</text><text x="1283.5" y="2797.3" font-size="13.2" fill="#000">9</text><text x="1337.8" y="2797.3" font-size="13.2" fill="#000">1</text><text x="1693.4" y="2797.3" font-size="13.2" fill="#000">-0.009</text><text x="1210.5" y="2820.3" font-size="13.2" fill="#000">51</text><text x="1283.5" y="2820.3" font-size="13.2" fill="#000">9</text><text x="1337.8" y="2820.3" font-size="13.2" fill="#000">3</text><text x="1693.4" y="2820.3" font-size="13.2" fill="#000">-0.001</text><text x="1210.5" y="2843.3" font-size="13.2" fill="#000">52</text><text x="1283.5" y="2843.3" font-size="13.2" fill="#000">9</text><text x="1337.8" y="2843.3" font-size="13.2" fill="#000">5</text><text x="1693.4" y="2843.3" font-size="13.2" fill="#000">0.004</text><text x="1210.5" y="2866.3" font-size="13.2" fill="#000">53</text><text x="1283.5" y="2866.3" font-size="13.2" fill="#000">9</text><text x="1337.8" y="2866.3" font-size="13.2" fill="#000">7</text><text x="1693.4" y="2866.3" font-size="13.2" fill="#000">0.007</text><text x="1210.5" y="2889.2" font-size="13.2" fill="#000">54</text><text x="1283.5" y="2889.2" font-size="13.2" fill="#000">9</text><text x="1337.8" y="2889.2" font-size="13.2" fill="#000">9</text><text x="1693.4" y="2889.2" font-size="13.2" fill="#000">-0.007</text><text x="1210.5" y="2912.2" font-size="13.2" fill="#000">55</text><text x="1283.5" y="2912.2" font-size="13.2" fill="#000">10</text><text x="1337.8" y="2912.2" font-size="13.2" fill="#000">-10</text><text x="1693.4" y="2912.2" font-size="13.2" fill="#000">0.014</text><text x="1210.5" y="2935.2" font-size="13.2" fill="#000">56</text><text x="1283.5" y="2935.2" font-size="13.2" fill="#000">10</text><text x="1337.8" y="2935.2" font-size="13.2" fill="#000">-8</text><text x="1693.4" y="2935.2" font-size="13.2" fill="#000">0.003</text><text x="1210.5" y="2958.2" font-size="13.2" fill="#000">57</text><text x="1283.5" y="2958.2" font-size="13.2" fill="#000">10</text><text x="1337.8" y="2958.2" font-size="13.2" fill="#000">-6</text><text x="1693.4" y="2958.2" font-size="13.2" fill="#000">0.003</text><text x="1210.5" y="2981.2" font-size="13.2" fill="#000">58</text><text x="1283.5" y="2981.2" font-size="13.2" fill="#000">10</text><text x="1337.8" y="2981.2" font-size="13.2" fill="#000">-4</text><text x="1693.4" y="2981.2" font-size="13.2" fill="#000">0.001</text><text x="1210.5" y="3004.2" font-size="13.2" fill="#000">59</text><text x="1283.5" y="3004.2" font-size="13.2" fill="#000">10</text><text x="1337.8" y="3004.2" font-size="13.2" fill="#000">-2</text><text x="1693.4" y="3004.2" font-size="13.2" fill="#000">-0.003</text><text x="1210.5" y="3027.2" font-size="13.2" fill="#000">60</text><text x="1283.5" y="3027.2" font-size="13.2" fill="#000">10</text><text x="1337.8" y="3027.2" font-size="13.2" fill="#000">0</text><text x="1693.4" y="3027.2" font-size="13.2" fill="#000">-0.024</text><text x="1210.5" y="3050.2" font-size="13.2" fill="#000">61</text><text x="1283.5" y="3050.2" font-size="13.2" fill="#000">10</text><text x="1337.8" y="3050.2" font-size="13.2" fill="#000">2</text><text x="1693.4" y="3050.2" font-size="13.2" fill="#000">-0.003</text><text x="1210.5" y="3073.1" font-size="13.2" fill="#000">62</text><text x="1283.5" y="3073.1" font-size="13.2" fill="#000">10</text><text x="1337.8" y="3073.1" font-size="13.2" fill="#000">4</text><text x="1693.4" y="3073.1" font-size="13.2" fill="#000">0.003</text><text x="1210.5" y="3096.1" font-size="13.2" fill="#000">63</text><text x="1283.5" y="3096.1" font-size="13.2" fill="#000">10</text><text x="1337.8" y="3096.1" font-size="13.2" fill="#000">6</text><text x="1693.4" y="3096.1" font-size="13.2" fill="#000">-0.003</text><text x="1210.5" y="3119.1" font-size="13.2" fill="#000">64</text><text x="1283.5" y="3119.1" font-size="13.2" fill="#000">10</text><text x="1337.8" y="3119.1" font-size="13.2" fill="#000">8</text><text x="1693.4" y="3119.1" font-size="13.2" fill="#000">0.002</text><text x="1210.5" y="3142.1" font-size="13.2" fill="#000">65</text><text x="1283.5" y="3142.1" font-size="13.2" fill="#000">10</text><text x="1337.8" y="3142.1" font-size="13.2" fill="#000">10</text><text x="1693.4" y="3142.1" font-size="13.2" fill="#000">0.014</text><rect x="423.5" y="2687.5" width="359.31120877469766" height="54" fill="#0000ff"/><rect x="423.5" y="2741.5" width="718.4127037788296" height="54" fill="#00ffff"/><rect x="423.5" y="2795.5" width="538.1106979190143" height="54" fill="#ffff00"/><path d="M15 2633.5H1186M15 2687.5H1186M15 2741.5H1186M15 2795.5H1186M15 2849.7H1186M150.5 2633.5V2852M378.6 2633.5V2852M423.5 2633.5V2852" stroke="#000" stroke-width="1.2" fill="none"/><rect x="14.0" y="2517.0" width="1173" height="337" fill="none" stroke="#000" stroke-width="4"/><text x="554" y="2564" font-size="44" fill="#000">СКО</text><text x="34" y="2618.4" font-size="44" fill="#000">Пор.</text><text x="204.8" y="2618.4" font-size="44" fill="#000">Ампл.</text><text x="575" y="2618" font-size="44" fill="#000">Единичный круг 5.8e+03 мм</text><text x="34" y="2668.6" font-size="44" fill="#000">2</text><text x="171.4" y="2668.6" font-size="44" fill="#000">0.000</text><text x="34" y="2722.7" font-size="44" fill="#000">3</text><text x="171.4" y="2722.7" font-size="44" fill="#000">0.167</text><text x="34" y="2776.7999999999997" font-size="44" fill="#000">4</text><text x="171.4" y="2776.7999999999997" font-size="44" fill="#000">0.334</text><text x="34" y="2830.9" font-size="44" fill="#000">5</text><text x="171.4" y="2830.9" font-size="44" fill="#000">0.251</text><rect x="14.0" y="2879.0" width="1173" height="337" fill="none" stroke="#000" stroke-width="4"/><text x="68.2" y="2920.7" font-size="40.8" font-weight="bold" fill="#000">Visionica Ltd.</text><text x="65.2" y="2973.8" font-size="41.2" font-weight="bold" fill="#000">http:\\www.visionica.biz</text>
</svg>
</body></html>
